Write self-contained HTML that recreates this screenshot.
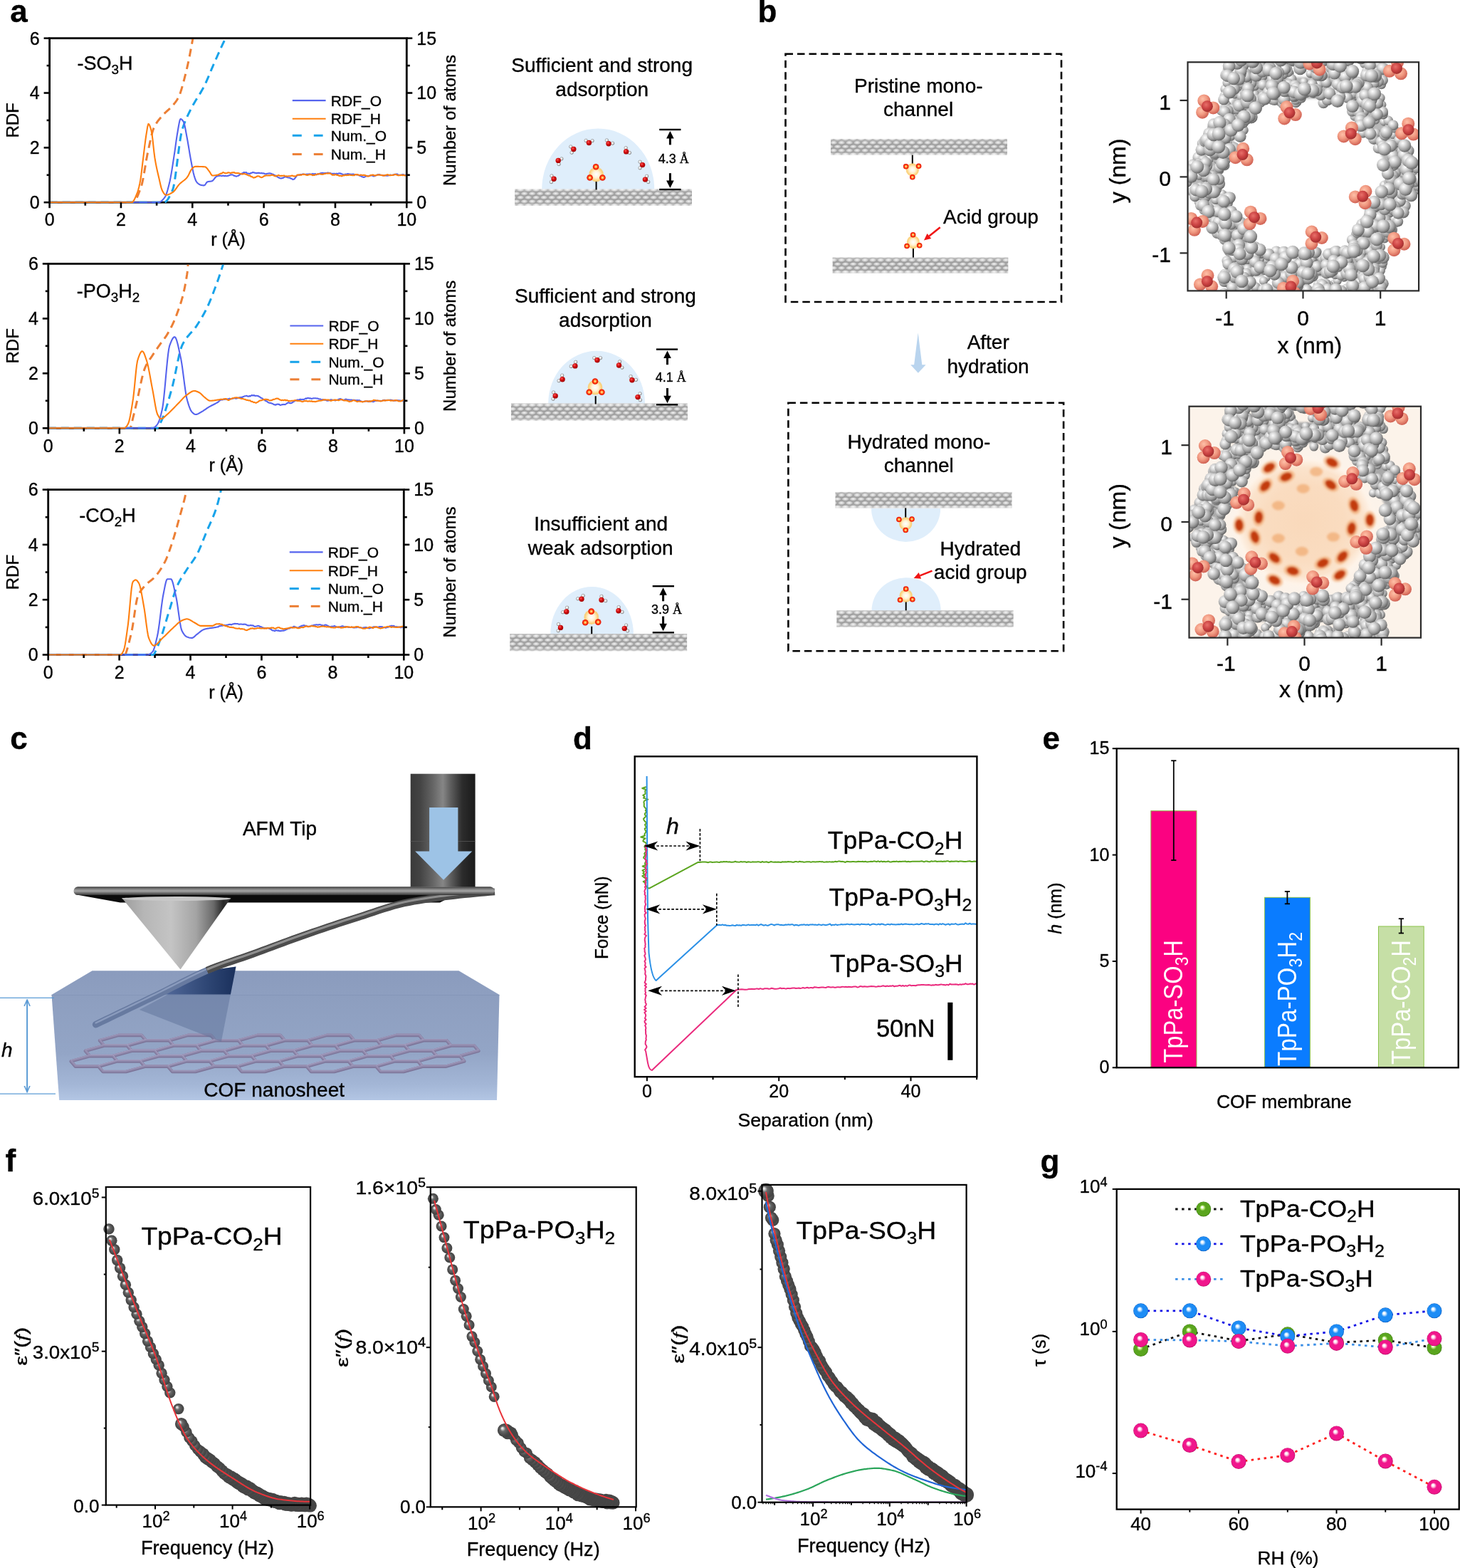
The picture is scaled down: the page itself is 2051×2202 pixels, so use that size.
<!DOCTYPE html>
<html><head><meta charset="utf-8"><title>Figure</title>
<style>html,body{margin:0;padding:0;background:#fff;}svg{display:block;}text:not([fill]){stroke:#000;stroke-width:0.35px;}</style></head>
<body><svg xmlns="http://www.w3.org/2000/svg" width="2051" height="2202" viewBox="0 0 2051 2202">
<defs>
<radialGradient id="gWO" cx="0.38" cy="0.35" r="0.7"><stop offset="0" stop-color="#ff5a5a"/><stop offset="0.45" stop-color="#d10b0b"/><stop offset="1" stop-color="#9a0000"/></radialGradient>
<radialGradient id="gWH" cx="0.4" cy="0.4" r="0.6"><stop offset="0" stop-color="#ffffff"/><stop offset="0.6" stop-color="#e8e8e8"/><stop offset="1" stop-color="#8a8a8a"/></radialGradient>
<radialGradient id="gGlow" cx="0.5" cy="0.5" r="0.5"><stop offset="0" stop-color="#ffffff"/><stop offset="0.45" stop-color="#fff3d6"/><stop offset="0.85" stop-color="#fcd27c"/><stop offset="1" stop-color="#fbc860" stop-opacity="0.7"/></radialGradient>
<radialGradient id="gAO" cx="0.5" cy="0.5" r="0.5"><stop offset="0" stop-color="#fff6c8"/><stop offset="0.3" stop-color="#ffb347"/><stop offset="0.6" stop-color="#ff3c10"/><stop offset="1" stop-color="#e00a00"/></radialGradient>
<radialGradient id="gSub" cx="0.45" cy="0.4" r="0.62"><stop offset="0" stop-color="#f4f4f4"/><stop offset="0.5" stop-color="#cdcdcd"/><stop offset="1" stop-color="#8e8e8e"/></radialGradient>
<pattern id="patSub" x="0" y="0" width="11" height="11" patternUnits="userSpaceOnUse">
<rect width="11" height="11" fill="#a4a4a4"/>
<ellipse cx="5.5" cy="2.75" rx="5.2" ry="2.85" fill="url(#gSub)"/>
<ellipse cx="0" cy="8.25" rx="5.2" ry="2.85" fill="url(#gSub)"/>
<ellipse cx="11" cy="8.25" rx="5.2" ry="2.85" fill="url(#gSub)"/>
</pattern>
<linearGradient id="gSubFade" x1="0" y1="0" x2="0" y2="1"><stop offset="0" stop-color="#fff" stop-opacity="0.35"/><stop offset="0.2" stop-color="#fff" stop-opacity="0"/><stop offset="0.8" stop-color="#fff" stop-opacity="0"/><stop offset="1" stop-color="#fff" stop-opacity="0.45"/></linearGradient>

<radialGradient id="gGrey" cx="0.36" cy="0.32" r="0.72"><stop offset="0" stop-color="#ffffff"/><stop offset="0.28" stop-color="#dedede"/><stop offset="0.68" stop-color="#a2a2a2"/><stop offset="1" stop-color="#5e5e5e"/></radialGradient>
<radialGradient id="gGrey2" cx="0.36" cy="0.32" r="0.72"><stop offset="0" stop-color="#fbfbfb"/><stop offset="0.3" stop-color="#d8d8d8"/><stop offset="0.7" stop-color="#9c9c9c"/><stop offset="1" stop-color="#5c5c5c"/></radialGradient>
<radialGradient id="gRedA" cx="0.4" cy="0.36" r="0.68"><stop offset="0" stop-color="#ffc0a8"/><stop offset="0.5" stop-color="#f09880"/><stop offset="1" stop-color="#cc5a4e"/></radialGradient>
<radialGradient id="gRedB" cx="0.4" cy="0.36" r="0.7"><stop offset="0" stop-color="#e8706a"/><stop offset="0.5" stop-color="#cc4444"/><stop offset="1" stop-color="#9a2a2a"/></radialGradient>
<radialGradient id="gDen" cx="0.5" cy="0.5" r="0.5"><stop offset="0" stop-color="#f9d9bb"/><stop offset="0.55" stop-color="#fadcc0"/><stop offset="0.8" stop-color="#fbe3cc"/><stop offset="0.92" stop-color="#fef3e8"/><stop offset="1" stop-color="#fdf5ec" stop-opacity="0"/></radialGradient>
<filter id="fBlur" x="-50%" y="-50%" width="200%" height="200%"><feGaussianBlur stdDeviation="1.6"/></filter>
<filter id="fBlur2" x="-50%" y="-50%" width="200%" height="200%"><feGaussianBlur stdDeviation="0.6"/></filter>
<marker id="mRed" markerWidth="8" markerHeight="8" refX="6" refY="4" orient="auto" markerUnits="userSpaceOnUse"><path d="M0,0 L8,4 L0,8 Z" fill="#f01010"/></marker>

<linearGradient id="gCyl" x1="0" y1="0" x2="1" y2="0">
<stop offset="0" stop-color="#3a3a3a"/><stop offset="0.15" stop-color="#444444"/><stop offset="0.35" stop-color="#666666"/>
<stop offset="0.5" stop-color="#868686"/><stop offset="0.62" stop-color="#5e5e5e"/><stop offset="0.8" stop-color="#2c2c2c"/><stop offset="1" stop-color="#1a1a1a"/></linearGradient>
<linearGradient id="gBar" x1="0" y1="0" x2="0" y2="1">
<stop offset="0" stop-color="#3a3a3a"/><stop offset="0.25" stop-color="#7c7c7c"/><stop offset="0.5" stop-color="#a6a6a6"/><stop offset="0.75" stop-color="#6c6c6c"/><stop offset="1" stop-color="#333333"/></linearGradient>
<linearGradient id="gCone" x1="0" y1="0" x2="1" y2="0">
<stop offset="0" stop-color="#9c9c9c"/><stop offset="0.2" stop-color="#b6b6b6"/><stop offset="0.45" stop-color="#c4c4c4"/>
<stop offset="0.68" stop-color="#a4a4a4"/><stop offset="0.84" stop-color="#6a6a6a"/><stop offset="0.93" stop-color="#262626"/><stop offset="1" stop-color="#3a3a3a"/></linearGradient>
<linearGradient id="gFront" x1="0" y1="0" x2="0" y2="1">
<stop offset="0" stop-color="#8d9ebf"/><stop offset="0.55" stop-color="#93a5c6"/><stop offset="0.85" stop-color="#a3b6d6"/><stop offset="1" stop-color="#b3c6e4"/></linearGradient>
<linearGradient id="gTop" x1="0" y1="0" x2="0" y2="1">
<stop offset="0" stop-color="#8a9bbd"/><stop offset="1" stop-color="#8e9fc0"/></linearGradient>
<linearGradient id="gRod" x1="0" y1="0" x2="0" y2="1">
<stop offset="0" stop-color="#d0d0d0"/><stop offset="0.5" stop-color="#8a8a8a"/><stop offset="1" stop-color="#4a4a4a"/></linearGradient>
<linearGradient id="gDarkCone" x1="0" y1="0" x2="1" y2="0"><stop offset="0" stop-color="#52699a"/><stop offset="0.6" stop-color="#2e4674"/><stop offset="1" stop-color="#1a305c"/></linearGradient>
<marker id="mBlueA" markerWidth="10" markerHeight="10" refX="9" refY="5" orient="auto-start-reverse" markerUnits="userSpaceOnUse"><path d="M0,1 L9,5 L0,9" fill="none" stroke="#5b9bd5" stroke-width="1.6"/></marker>

<radialGradient id="gBall" cx="0.5" cy="0.5" r="0.5" fx="0.34" fy="0.32"><stop offset="0" stop-color="#f6f6f6"/><stop offset="0.14" stop-color="#d8d8d8"/><stop offset="0.38" stop-color="#6a6a6a"/><stop offset="0.75" stop-color="#4c4c4c"/><stop offset="1" stop-color="#424242"/></radialGradient>
<radialGradient id="gG" cx="0.5" cy="0.5" r="0.5" fx="0.4" fy="0.36"><stop offset="0" stop-color="#ffffff"/><stop offset="0.1" stop-color="#ffffff"/><stop offset="0.22" stop-color="#c8f08a"/><stop offset="0.42" stop-color="#5aa51e"/><stop offset="0.88" stop-color="#5aa51e"/><stop offset="1" stop-color="#3c7a10"/></radialGradient><radialGradient id="gB" cx="0.5" cy="0.5" r="0.5" fx="0.4" fy="0.36"><stop offset="0" stop-color="#ffffff"/><stop offset="0.1" stop-color="#ffffff"/><stop offset="0.22" stop-color="#bfe0ff"/><stop offset="0.42" stop-color="#1d8cf5"/><stop offset="0.88" stop-color="#1d8cf5"/><stop offset="1" stop-color="#0a5cc0"/></radialGradient><radialGradient id="gP" cx="0.5" cy="0.5" r="0.5" fx="0.4" fy="0.36"><stop offset="0" stop-color="#ffffff"/><stop offset="0.1" stop-color="#ffffff"/><stop offset="0.22" stop-color="#ffc6e4"/><stop offset="0.42" stop-color="#f0168c"/><stop offset="0.88" stop-color="#f0168c"/><stop offset="1" stop-color="#b80a64"/></radialGradient></defs>
<rect width="2051" height="2202" fill="#fff"/>
<text x="14.2" y="31.2" font-size="44" font-family="'Liberation Sans', Arial, Helvetica, sans-serif" font-weight="bold">a</text>
<clipPath id="clipA0"><rect x="71" y="55.1" width="498.9" height="230.5"/></clipPath>
<rect x="69.6" y="53.7" width="501.7" height="230.5" fill="none" stroke="#000" stroke-width="2.8"/>
<g clip-path="url(#clipA0)" fill="none" stroke-linejoin="round">
<path d="M69.6,284.2 L186.5,284.2 L186.92,284.14 L187.35,284 L187.77,283.78 L188.2,283.48 L188.63,283.12 L189.05,282.68 L189.48,282.18 L189.9,281.61 L190.33,280.98 L190.76,280.29 L191.18,279.55 L191.61,278.76 L192.03,277.92 L192.46,277.03 L192.89,276.1 L193.31,275.13 L193.74,274.13 L194.17,273.09 L194.59,272.02 L195.02,270.92 L195.44,269.79 L195.87,268.65 L196.3,267.48 L196.72,266.3 L197.15,265.1 L197.57,263.9 L198,262.68 L198.43,261.47 L198.85,260.19 L199.28,258.72 L199.7,257.07 L200.13,255.25 L200.56,253.28 L200.98,251.18 L201.41,248.96 L201.83,246.64 L202.26,244.24 L202.69,241.77 L203.11,239.26 L203.54,236.72 L203.96,234.16 L204.39,231.6 L204.82,229.06 L205.24,226.56 L205.67,224.11 L206.1,221.73 L206.52,219.44 L206.95,217.25 L207.37,215.18 L207.8,213.22 L208.23,211.25 L208.65,209.25 L209.08,207.24 L209.5,205.23 L209.93,203.21 L210.36,201.21 L210.78,199.22 L211.21,197.26 L211.63,195.35 L212.06,193.47 L212.49,191.66 L212.91,189.9 L213.34,188.22 L213.76,186.62 L214.19,185.12 L214.62,183.71 L215.04,182.41 L215.47,181.22 L215.89,180.16 L216.32,179.22 L216.75,178.33 L217.17,177.47 L217.6,176.65 L218.03,175.86 L218.45,175.1 L218.88,174.36 L219.3,173.65 L219.73,172.97 L220.16,172.31 L220.58,171.68 L221.01,171.06 L221.43,170.47 L221.86,169.89 L222.29,169.33 L222.71,168.78 L223.14,168.25 L223.56,167.72 L223.99,167.21 L224.42,166.71 L224.84,166.21 L225.27,165.71 L225.69,165.23 L226.12,164.74 L226.55,164.25 L226.97,163.77 L227.4,163.28 L227.82,162.78 L228.25,162.29 L228.68,161.8 L229.1,161.32 L229.53,160.86 L229.95,160.41 L230.38,159.97 L230.81,159.54 L231.23,159.11 L231.66,158.7 L232.09,158.3 L232.51,157.9 L232.94,157.5 L233.36,157.11 L233.79,156.73 L234.22,156.34 L234.64,155.96 L235.07,155.58 L235.49,155.2 L235.92,154.82 L236.35,154.44 L236.77,154.06 L237.2,153.67 L237.62,153.28 L238.05,152.88 L238.48,152.48 L238.9,152.07 L239.33,151.65 L239.75,151.23 L240.18,150.79 L240.61,150.35 L241.03,149.89 L241.46,149.42 L241.88,148.94 L242.31,148.44 L242.74,147.95 L243.16,147.45 L243.59,146.95 L244.02,146.46 L244.44,145.95 L244.87,145.44 L245.29,144.92 L245.72,144.39 L246.15,143.85 L246.57,143.29 L247,142.72 L247.42,142.12 L247.85,141.51 L248.28,140.87 L248.7,140.21 L249.13,139.52 L249.55,138.8 L249.98,138.05 L250.41,137.27 L250.83,136.45 L251.26,135.56 L251.68,134.61 L252.11,133.59 L252.54,132.5 L252.96,131.36 L253.39,130.16 L253.81,128.9 L254.24,127.59 L254.67,126.24 L255.09,124.84 L255.52,123.4 L255.94,121.92 L256.37,120.41 L256.8,118.86 L257.22,117.29 L257.65,115.7 L258.08,114.08 L258.5,112.44 L258.93,110.79 L259.35,109.13 L259.78,107.45 L260.21,105.78 L260.63,104.1 L261.06,102.41 L261.48,100.68 L261.91,98.92 L262.34,97.12 L262.76,95.28 L263.19,93.41 L263.61,91.5 L264.04,89.55 L264.47,87.58 L264.89,85.56 L265.32,83.52 L265.74,81.44 L266.17,79.33 L266.6,77.19 L267.02,75.02 L267.45,72.82 L267.87,70.59 L268.3,68.34 L268.73,66.05 L269.15,63.74 L269.58,61.4 L270.01,59.03 L270.43,56.64 L270.86,54.22 L271.28,51.78" stroke="#ec7f35" stroke-width="3" stroke-dasharray="11,7"/>
<path d="M69.6,284.2 L230.14,284.2 L230.59,284.17 L231.03,284.08 L231.47,283.93 L231.91,283.73 L232.35,283.47 L232.79,283.16 L233.23,282.81 L233.67,282.4 L234.11,281.95 L234.56,281.45 L235,280.91 L235.44,280.32 L235.88,279.7 L236.32,279.05 L236.76,278.35 L237.2,277.63 L237.64,276.87 L238.09,276.08 L238.53,275.27 L238.97,274.43 L239.41,273.56 L239.85,272.67 L240.29,271.76 L240.73,270.84 L241.17,269.9 L241.62,268.94 L242.06,267.97 L242.5,266.91 L242.94,265.57 L243.38,263.95 L243.82,262.07 L244.26,259.95 L244.7,257.61 L245.14,255.07 L245.59,252.35 L246.03,249.46 L246.47,246.43 L246.91,243.27 L247.35,240.01 L247.79,236.66 L248.23,233.24 L248.67,229.77 L249.12,226.27 L249.56,222.76 L250,219.26 L250.44,215.79 L250.88,212.36 L251.32,209 L251.76,205.72 L252.2,202.54 L252.64,199.49 L253.09,196.58 L253.53,193.83 L253.97,191.26 L254.41,188.89 L254.85,186.73 L255.29,184.82 L255.73,183.16 L256.17,181.66 L256.62,180.21 L257.06,178.81 L257.5,177.46 L257.94,176.16 L258.38,174.89 L258.82,173.67 L259.26,172.49 L259.7,171.35 L260.15,170.24 L260.59,169.15 L261.03,168.1 L261.47,167.08 L261.91,166.08 L262.35,165.1 L262.79,164.14 L263.23,163.2 L263.67,162.27 L264.12,161.36 L264.56,160.46 L265,159.56 L265.44,158.67 L265.88,157.79 L266.32,156.9 L266.76,156.01 L267.2,155.12 L267.65,154.23 L268.09,153.33 L268.53,152.45 L268.97,151.58 L269.41,150.73 L269.85,149.9 L270.29,149.08 L270.73,148.27 L271.17,147.48 L271.62,146.7 L272.06,145.92 L272.5,145.16 L272.94,144.41 L273.38,143.67 L273.82,142.94 L274.26,142.21 L274.7,141.49 L275.15,140.77 L275.59,140.06 L276.03,139.35 L276.47,138.64 L276.91,137.94 L277.35,137.24 L277.79,136.54 L278.23,135.84 L278.68,135.13 L279.12,134.43 L279.56,133.72 L280,133.01 L280.44,132.3 L280.88,131.57 L281.32,130.85 L281.76,130.11 L282.2,129.37 L282.65,128.62 L283.09,127.86 L283.53,127.1 L283.97,126.32 L284.41,125.52 L284.85,124.72 L285.29,123.9 L285.73,123.07 L286.18,122.23 L286.62,121.36 L287.06,120.49 L287.5,119.59 L287.94,118.67 L288.38,117.74 L288.82,116.8 L289.26,115.84 L289.71,114.86 L290.15,113.88 L290.59,112.88 L291.03,111.87 L291.47,110.85 L291.91,109.83 L292.35,108.8 L292.79,107.75 L293.23,106.71 L293.68,105.66 L294.12,104.6 L294.56,103.55 L295,102.49 L295.44,101.43 L295.88,100.37 L296.32,99.31 L296.76,98.26 L297.21,97.21 L297.65,96.16 L298.09,95.11 L298.53,94.08 L298.97,93.05 L299.41,92.03 L299.85,91.01 L300.29,90.01 L300.73,89.01 L301.18,88.02 L301.62,87.02 L302.06,86.02 L302.5,85.02 L302.94,84.02 L303.38,83.01 L303.82,82.01 L304.26,81.01 L304.71,80.01 L305.15,79.01 L305.59,78.01 L306.03,77.01 L306.47,76.01 L306.91,75.02 L307.35,74.03 L307.79,73.04 L308.24,72.05 L308.68,71.07 L309.12,70.09 L309.56,69.12 L310,68.15 L310.44,67.18 L310.88,66.22 L311.32,65.26 L311.76,64.31 L312.21,63.36 L312.65,62.42 L313.09,61.49 L313.53,60.56 L313.97,59.64 L314.41,58.73 L314.85,57.83 L315.29,56.94 L315.74,56.06 L316.18,55.19 L316.62,54.33 L317.06,53.48 L317.5,52.63 L317.94,51.78" stroke="#17a3ea" stroke-width="3" stroke-dasharray="11,7"/>
<path d="M69.6,284.2 L70.61,284.2 L71.61,284.2 L72.62,284.2 L73.62,284.2 L74.63,284.2 L75.63,284.2 L76.64,284.2 L77.64,284.2 L78.65,284.2 L79.65,284.2 L80.66,284.2 L81.66,284.2 L82.67,284.2 L83.68,284.2 L84.68,284.2 L85.69,284.2 L86.69,284.2 L87.7,284.2 L88.7,284.2 L89.71,284.2 L90.71,284.2 L91.72,284.2 L92.72,284.2 L93.73,284.2 L94.74,284.2 L95.74,284.2 L96.75,284.2 L97.75,284.2 L98.76,284.2 L99.76,284.2 L100.77,284.2 L101.77,284.2 L102.78,284.2 L103.78,284.2 L104.79,284.2 L105.79,284.2 L106.8,284.2 L107.81,284.2 L108.81,284.2 L109.82,284.2 L110.82,284.2 L111.83,284.2 L112.83,284.2 L113.84,284.2 L114.84,284.2 L115.85,284.2 L116.85,284.2 L117.86,284.2 L118.87,284.2 L119.87,284.2 L120.88,284.2 L121.88,284.2 L122.89,284.2 L123.89,284.2 L124.9,284.2 L125.9,284.2 L126.91,284.2 L127.91,284.2 L128.92,284.2 L129.92,284.2 L130.93,284.2 L131.94,284.2 L132.94,284.2 L133.95,284.2 L134.95,284.2 L135.96,284.2 L136.96,284.2 L137.97,284.2 L138.97,284.2 L139.98,284.2 L140.98,284.2 L141.99,284.2 L142.99,284.2 L144,284.2 L145.01,284.2 L146.01,284.2 L147.02,284.2 L148.02,284.2 L149.03,284.2 L150.03,284.2 L151.04,284.2 L152.04,284.2 L153.05,284.2 L154.05,284.2 L155.06,284.2 L156.07,284.2 L157.07,284.2 L158.08,284.2 L159.08,284.2 L160.09,284.2 L161.09,284.2 L162.1,284.2 L163.1,284.2 L164.11,284.2 L165.11,284.2 L166.12,284.2 L167.12,284.2 L168.13,284.2 L169.14,284.2 L170.14,284.2 L171.15,284.2 L172.15,284.2 L173.16,284.2 L174.16,284.2 L175.17,284.2 L176.17,284.2 L177.18,284.2 L178.18,284.2 L179.19,284.2 L180.2,284.2 L181.2,284.2 L182.21,284.2 L183.21,284.2 L184.22,284.2 L185.22,284.2 L186.23,284.2 L187.23,284.2 L188.24,284.2 L189.24,284.2 L190.25,284.2 L191.25,284.2 L192.26,284.2 L193.27,284.2 L194.27,284.2 L195.28,284.2 L196.28,284.2 L197.29,284.2 L198.29,284.2 L199.3,284.2 L200.3,284.2 L201.31,284.2 L202.31,284.2 L203.32,284.2 L204.33,284.2 L205.33,284.2 L206.34,284.2 L207.34,284.2 L208.35,284.2 L209.35,284.2 L210.36,284.2 L211.36,284.2 L212.37,284.2 L213.37,284.2 L214.38,284.2 L215.38,284.2 L216.39,284.2 L217.4,284.2 L218.4,284.2 L219.41,284.2 L220.41,284.2 L221.42,284.2 L222.42,284.2 L223.43,284.12 L224.43,283.82 L225.44,283.32 L226.44,282.62 L227.45,281.77 L228.45,280.77 L229.46,279.65 L230.47,278.43 L231.47,277.14 L232.48,275.52 L233.48,273.17 L234.49,270.2 L235.49,266.75 L236.5,262.94 L237.5,258.9 L238.51,254.72 L239.51,249.9 L240.52,244.4 L241.53,238.4 L242.53,232.04 L243.54,225.48 L244.54,218.89 L245.55,212.34 L246.55,205.15 L247.56,197.73 L248.56,190.82 L249.57,185 L250.57,179.03 L251.58,173.37 L252.58,169.04 L253.59,167.06 L254.6,167.27 L255.6,168.04 L256.61,169.23 L257.61,170.68 L258.62,172.99 L259.62,176.95 L260.63,181.98 L261.63,187.51 L262.64,192.94 L263.64,198.34 L264.65,204.27 L265.66,210.42 L266.66,216.49 L267.67,222.17 L268.67,227.56 L269.68,232.96 L270.68,238.12 L271.69,242.77 L272.69,246.62 L273.7,249.84 L274.7,252.72 L275.71,254.93 L276.71,256.21 L277.72,257.2 L278.73,258.05 L279.73,258.76 L280.74,259.32 L281.74,259.73 L282.75,259.99 L283.75,260.14 L284.76,260.26 L285.76,260.35 L286.77,260.38 L287.77,259.87 L288.78,258.55 L289.78,256.99 L290.79,255.74 L291.8,255.26 L292.8,255.04 L293.81,254.89 L294.81,254.77 L295.82,254.65 L296.82,254.49 L297.83,254.25 L298.83,253.68 L299.84,252.64 L300.84,251.35 L301.85,250 L302.86,248.8 L303.86,247.94 L304.87,247.57 L305.87,247.31 L306.88,247.08 L307.88,246.88 L308.89,246.73 L309.89,246.62 L310.9,247.02 L311.9,247.26 L312.91,246.5 L313.91,246.74 L314.92,247.17 L315.93,247.13 L316.93,246.86 L317.94,247.32 L318.94,247.28 L319.95,246.85 L320.95,246.68 L321.96,246.37 L322.96,245.79 L323.97,245.41 L324.97,245.36 L325.98,245.43 L326.99,245.47 L327.99,246.27 L329,246.92 L330,246.87 L331.01,247.4 L332.01,247.65 L333.02,247.31 L334.02,247.09 L335.03,246.82 L336.03,245.89 L337.04,244.89 L338.04,244.67 L339.05,244.03 L340.06,243.4 L341.06,243.41 L342.07,242.3 L343.07,242.04 L344.08,242.17 L345.08,242.27 L346.09,241.97 L347.09,243.66 L348.1,243.67 L349.1,243.54 L350.11,244.05 L351.12,244.07 L352.12,243.08 L353.13,242.94 L354.13,242.52 L355.14,242 L356.14,242.08 L357.15,242.66 L358.15,242.61 L359.16,243.14 L360.16,243.13 L361.17,243.12 L362.17,242.75 L363.18,242.85 L364.19,242.71 L365.19,243.3 L366.2,243.23 L367.2,243.01 L368.21,243.16 L369.21,243.43 L370.22,243.29 L371.22,243.63 L372.23,244.32 L373.23,244.24 L374.24,244.19 L375.24,243.81 L376.25,243.74 L377.26,243.54 L378.26,243.4 L379.27,243.49 L380.27,243.6 L381.28,243.89 L382.28,244.34 L383.29,244.85 L384.29,244.98 L385.3,245.94 L386.3,246.17 L387.31,247.02 L388.32,247.31 L389.32,248.12 L390.33,248.69 L391.33,249.57 L392.34,249.66 L393.34,250.23 L394.35,250.44 L395.35,250.41 L396.36,250.07 L397.36,249.96 L398.37,249.5 L399.37,248.8 L400.38,248.49 L401.39,248.33 L402.39,248.65 L403.4,248.9 L404.4,249.44 L405.41,249.57 L406.41,249.55 L407.42,250.09 L408.42,250.47 L409.43,251.01 L410.43,251.19 L411.44,252.12 L412.45,251.71 L413.45,251.51 L414.46,250.13 L415.46,248.94 L416.47,247.41 L417.47,246.33 L418.48,245.69 L419.48,245.68 L420.49,246.01 L421.49,245.45 L422.5,245.1 L423.5,245.02 L424.51,245.05 L425.52,244.32 L426.52,244.79 L427.53,244.71 L428.53,245.05 L429.54,244.75 L430.54,244.68 L431.55,244.57 L432.55,244.72 L433.56,244.56 L434.56,244.4 L435.57,244.46 L436.57,244.57 L437.58,244.41 L438.59,244.2 L439.59,243.92 L440.6,244.53 L441.6,244.3 L442.61,244.01 L443.61,244.51 L444.62,245.32 L445.62,244.64 L446.63,244.13 L447.63,244.57 L448.64,243.95 L449.65,243.49 L450.65,243.12 L451.66,243.28 L452.66,242.74 L453.67,243.03 L454.67,243.02 L455.68,243.37 L456.68,242.99 L457.69,243.04 L458.69,242.95 L459.7,242.69 L460.7,242.44 L461.71,242.78 L462.72,243.02 L463.72,242.9 L464.73,243.57 L465.73,243.77 L466.74,243.73 L467.74,243.95 L468.75,243.76 L469.75,243.74 L470.76,244.01 L471.76,244.27 L472.77,243.58 L473.78,244.29 L474.78,243.84 L475.79,243.52 L476.79,243.36 L477.8,243.65 L478.8,243.56 L479.81,244.39 L480.81,244.49 L481.82,244.97 L482.82,245.42 L483.83,245.52 L484.83,244.67 L485.84,244.68 L486.85,244.6 L487.85,244.31 L488.86,244 L489.86,244.37 L490.87,244.63 L491.87,244.54 L492.88,244.68 L493.88,244.69 L494.89,244.81 L495.89,244.63 L496.9,244.84 L497.91,245.07 L498.91,245.21 L499.92,244.93 L500.92,245.56 L501.93,245.18 L502.93,245.46 L503.94,245.89 L504.94,246.73 L505.95,246.68 L506.95,247.38 L507.96,247.93 L508.96,248.37 L509.97,248.49 L510.98,248.93 L511.98,248.72 L512.99,248.06 L513.99,247.5 L515,247.2 L516,247.06 L517.01,247.25 L518.01,247.29 L519.02,246.84 L520.02,246.57 L521.03,246.42 L522.03,246.31 L523.04,246.57 L524.05,247.25 L525.05,247.46 L526.06,247.27 L527.06,246.73 L528.07,246.54 L529.07,245.91 L530.08,245.34 L531.08,245.33 L532.09,245.35 L533.09,245.13 L534.1,245.57 L535.11,245.94 L536.11,245.91 L537.12,246.37 L538.12,246.59 L539.13,246.4 L540.13,246.32 L541.14,246.53 L542.14,246.44 L543.15,246.76 L544.15,246.7 L545.16,246.62 L546.16,246.3 L547.17,246.19 L548.18,245.58 L549.18,245.8 L550.19,246 L551.19,245.87 L552.2,245.65 L553.2,245.66 L554.21,244.77 L555.21,244.7 L556.22,244.53 L557.22,244.43 L558.23,244.54 L559.24,245.42 L560.24,245.68 L561.25,245.87 L562.25,245.89 L563.26,245.75 L564.26,245.45 L565.27,245.21 L566.27,245.07 L567.28,245.91 L568.28,245.9 L569.29,245.91 L570.29,245.78 L571.3,245.9" stroke="#5563ee" stroke-width="2.1"/>
<path d="M69.6,284.2 L70.61,284.2 L71.61,284.2 L72.62,284.2 L73.62,284.2 L74.63,284.2 L75.63,284.2 L76.64,284.2 L77.64,284.2 L78.65,284.2 L79.65,284.2 L80.66,284.2 L81.66,284.2 L82.67,284.2 L83.68,284.2 L84.68,284.2 L85.69,284.2 L86.69,284.2 L87.7,284.2 L88.7,284.2 L89.71,284.2 L90.71,284.2 L91.72,284.2 L92.72,284.2 L93.73,284.2 L94.74,284.2 L95.74,284.2 L96.75,284.2 L97.75,284.2 L98.76,284.2 L99.76,284.2 L100.77,284.2 L101.77,284.2 L102.78,284.2 L103.78,284.2 L104.79,284.2 L105.79,284.2 L106.8,284.2 L107.81,284.2 L108.81,284.2 L109.82,284.2 L110.82,284.2 L111.83,284.2 L112.83,284.2 L113.84,284.2 L114.84,284.2 L115.85,284.2 L116.85,284.2 L117.86,284.2 L118.87,284.2 L119.87,284.2 L120.88,284.2 L121.88,284.2 L122.89,284.2 L123.89,284.2 L124.9,284.2 L125.9,284.2 L126.91,284.2 L127.91,284.2 L128.92,284.2 L129.92,284.2 L130.93,284.2 L131.94,284.2 L132.94,284.2 L133.95,284.2 L134.95,284.2 L135.96,284.2 L136.96,284.2 L137.97,284.2 L138.97,284.2 L139.98,284.2 L140.98,284.2 L141.99,284.2 L142.99,284.2 L144,284.2 L145.01,284.2 L146.01,284.2 L147.02,284.2 L148.02,284.2 L149.03,284.2 L150.03,284.2 L151.04,284.2 L152.04,284.2 L153.05,284.2 L154.05,284.2 L155.06,284.2 L156.07,284.2 L157.07,284.2 L158.08,284.2 L159.08,284.2 L160.09,284.2 L161.09,284.2 L162.1,284.2 L163.1,284.2 L164.11,284.2 L165.11,284.2 L166.12,284.2 L167.12,284.2 L168.13,284.2 L169.14,284.2 L170.14,284.2 L171.15,284.2 L172.15,284.2 L173.16,284.2 L174.16,284.2 L175.17,284.2 L176.17,284.2 L177.18,284.2 L178.18,284.2 L179.19,284.2 L180.2,284.2 L181.2,284.2 L182.21,284.2 L183.21,284.2 L184.22,284.2 L185.22,284.18 L186.23,283.7 L187.23,282.63 L188.24,281.08 L189.24,279.16 L190.25,276.96 L191.25,274.59 L192.26,272.14 L193.27,269.53 L194.27,266.29 L195.28,262.42 L196.28,257.95 L197.29,252.83 L198.29,245.99 L199.3,237.75 L200.3,229.14 L201.31,221.06 L202.31,212.91 L203.32,204.65 L204.33,196.81 L205.33,189.93 L206.34,183.64 L207.34,177.52 L208.35,174.08 L209.35,174.45 L210.36,176.37 L211.36,179.3 L212.37,182.77 L213.37,187.54 L214.38,195.2 L215.38,204.38 L216.39,213.62 L217.4,221.44 L218.4,227.31 L219.41,232.59 L220.41,237.44 L221.42,241.97 L222.42,246.3 L223.43,250.55 L224.43,255 L225.44,259.39 L226.44,263.37 L227.45,266.54 L228.45,268.62 L229.46,270.32 L230.47,271.81 L231.47,272.98 L232.48,273.68 L233.48,273.82 L234.49,273.72 L235.49,273.51 L236.5,273.2 L237.5,272.81 L238.51,272.35 L239.51,271.83 L240.52,271.27 L241.53,270.68 L242.53,270.08 L243.54,269.37 L244.54,268.41 L245.55,267.26 L246.55,265.96 L247.56,264.57 L248.56,263.14 L249.57,261.72 L250.57,260.38 L251.58,259.15 L252.58,258.1 L253.59,257.16 L254.6,256.31 L255.6,255.51 L256.61,254.75 L257.61,253.99 L258.62,253.21 L259.62,252.38 L260.63,251.48 L261.63,250.49 L262.64,249.38 L263.64,247.98 L264.65,246.19 L265.66,244.16 L266.66,242.06 L267.67,240.07 L268.67,238.34 L269.68,237.05 L270.68,236.08 L271.69,235.16 L272.69,234.41 L273.7,233.96 L274.7,233.87 L275.71,233.88 L276.71,233.88 L277.72,233.89 L278.73,233.91 L279.73,233.93 L280.74,233.95 L281.74,233.98 L282.75,234.01 L283.75,234.05 L284.76,234.09 L285.76,234.14 L286.77,234.19 L287.77,234.25 L288.78,234.56 L289.78,235.33 L290.79,236.42 L291.8,237.71 L292.8,239.07 L293.81,240.34 L294.81,241.81 L295.82,243.61 L296.82,245.28 L297.83,246.37 L298.83,246.55 L299.84,246.51 L300.84,246.43 L301.85,246.32 L302.86,246.19 L303.86,246.04 L304.87,245.87 L305.87,245.68 L306.88,245.31 L307.88,244.79 L308.89,244.2 L309.89,243.6 L310.9,243.85 L311.9,243.17 L312.91,242.35 L313.91,242.12 L314.92,242.59 L315.93,243.09 L316.93,243.23 L317.94,243.25 L318.94,243.06 L319.95,242.56 L320.95,242.4 L321.96,242.43 L322.96,242.84 L323.97,243.14 L324.97,242.81 L325.98,242.26 L326.99,242.34 L327.99,242.34 L329,242.02 L330,242.91 L331.01,243.02 L332.01,243.17 L333.02,243.06 L334.02,243.32 L335.03,243.06 L336.03,243.58 L337.04,243.79 L338.04,244.15 L339.05,244.33 L340.06,244.59 L341.06,244.57 L342.07,244.12 L343.07,244.05 L344.08,244.35 L345.08,244.48 L346.09,245.07 L347.09,245.46 L348.1,245.87 L349.1,246.45 L350.11,246.67 L351.12,246.43 L352.12,247.71 L353.13,248.22 L354.13,248.14 L355.14,249.02 L356.14,249.67 L357.15,249.35 L358.15,249.13 L359.16,249.04 L360.16,247.91 L361.17,247.81 L362.17,247.3 L363.18,247.45 L364.19,247.47 L365.19,248.47 L366.2,248.82 L367.2,249.25 L368.21,248.96 L369.21,248.48 L370.22,247.86 L371.22,247.06 L372.23,246.91 L373.23,246.53 L374.24,246.41 L375.24,246.54 L376.25,246.52 L377.26,246.4 L378.26,246.26 L379.27,246.38 L380.27,246.15 L381.28,245.94 L382.28,245.49 L383.29,245.97 L384.29,246.41 L385.3,246.74 L386.3,247.33 L387.31,247.35 L388.32,246.67 L389.32,246.83 L390.33,246.49 L391.33,245.95 L392.34,246.39 L393.34,246.98 L394.35,246.88 L395.35,246.65 L396.36,246.98 L397.36,246.74 L398.37,246.67 L399.37,246.55 L400.38,247.42 L401.39,247.46 L402.39,247.34 L403.4,247.6 L404.4,247.47 L405.41,247.33 L406.41,247.19 L407.42,247.23 L408.42,247.24 L409.43,246.81 L410.43,246.6 L411.44,246.93 L412.45,247.57 L413.45,247.26 L414.46,247.74 L415.46,247.33 L416.47,246.82 L417.47,245.81 L418.48,245.63 L419.48,245.56 L420.49,245.6 L421.49,245.27 L422.5,245.88 L423.5,245.69 L424.51,245.15 L425.52,244.86 L426.52,245.14 L427.53,244.66 L428.53,245.28 L429.54,245.53 L430.54,245.88 L431.55,245.74 L432.55,245.89 L433.56,245.45 L434.56,245.09 L435.57,245.22 L436.57,244.93 L437.58,245.28 L438.59,245.88 L439.59,246.17 L440.6,245.76 L441.6,245.84 L442.61,245.7 L443.61,245.08 L444.62,244.97 L445.62,244.59 L446.63,244.69 L447.63,244.07 L448.64,244.28 L449.65,244.32 L450.65,244.75 L451.66,244.5 L452.66,244.88 L453.67,244.82 L454.67,244.59 L455.68,243.97 L456.68,244.04 L457.69,243.67 L458.69,243.53 L459.7,243.39 L460.7,243.72 L461.71,243.36 L462.72,243.39 L463.72,243.64 L464.73,244.21 L465.73,244.77 L466.74,245.75 L467.74,245.69 L468.75,245.41 L469.75,245.79 L470.76,245.24 L471.76,245.01 L472.77,245.76 L473.78,245.99 L474.78,245.76 L475.79,246.48 L476.79,247.07 L477.8,246.78 L478.8,246.79 L479.81,247.43 L480.81,247.03 L481.82,246.3 L482.82,246.39 L483.83,246.38 L484.83,245.71 L485.84,246.02 L486.85,246.23 L487.85,245.68 L488.86,246.05 L489.86,245.86 L490.87,245.54 L491.87,245.59 L492.88,246.04 L493.88,246 L494.89,246.27 L495.89,246.31 L496.9,246.04 L497.91,246.2 L498.91,245.07 L499.92,245.07 L500.92,245.13 L501.93,245.39 L502.93,245.37 L503.94,245.96 L504.94,246.05 L505.95,245.83 L506.95,245.56 L507.96,245.82 L508.96,245.95 L509.97,246.05 L510.98,245.69 L511.98,246.08 L512.99,246 L513.99,246.71 L515,246.78 L516,247.54 L517.01,247.57 L518.01,247.49 L519.02,247.01 L520.02,246.57 L521.03,245.88 L522.03,245.94 L523.04,245.64 L524.05,245.63 L525.05,245.92 L526.06,246.63 L527.06,246.43 L528.07,246.14 L529.07,246.02 L530.08,245.86 L531.08,245.49 L532.09,245.31 L533.09,245.71 L534.1,245.71 L535.11,245.94 L536.11,246.08 L537.12,246.16 L538.12,246.32 L539.13,246.84 L540.13,246.27 L541.14,246.43 L542.14,245.73 L543.15,245.77 L544.15,245.18 L545.16,245.66 L546.16,245.57 L547.17,246.1 L548.18,246.08 L549.18,246.27 L550.19,246.04 L551.19,246.01 L552.2,246 L553.2,245.45 L554.21,245.14 L555.21,245.06 L556.22,245.15 L557.22,245.58 L558.23,246.02 L559.24,246.35 L560.24,246.21 L561.25,246.18 L562.25,246.18 L563.26,245.79 L564.26,245.83 L565.27,246.2 L566.27,246.14 L567.28,245.65 L568.28,246.45 L569.29,246.52 L570.29,246.3 L571.3,246.22" stroke="#ff7f0e" stroke-width="2.1"/>
</g>
<line x1="61.6" y1="284.2" x2="69.6" y2="284.2" stroke="#000" stroke-width="2.6"/>
<line x1="65.6" y1="245.78" x2="69.6" y2="245.78" stroke="#000" stroke-width="2.6"/>
<line x1="61.6" y1="207.37" x2="69.6" y2="207.37" stroke="#000" stroke-width="2.6"/>
<line x1="65.6" y1="168.95" x2="69.6" y2="168.95" stroke="#000" stroke-width="2.6"/>
<line x1="61.6" y1="130.53" x2="69.6" y2="130.53" stroke="#000" stroke-width="2.6"/>
<line x1="65.6" y1="92.12" x2="69.6" y2="92.12" stroke="#000" stroke-width="2.6"/>
<line x1="61.6" y1="53.7" x2="69.6" y2="53.7" stroke="#000" stroke-width="2.6"/>
<line x1="69.6" y1="284.2" x2="69.6" y2="292.2" stroke="#000" stroke-width="2.6"/>
<line x1="119.77" y1="284.2" x2="119.77" y2="288.7" stroke="#000" stroke-width="2.6"/>
<line x1="169.94" y1="284.2" x2="169.94" y2="292.2" stroke="#000" stroke-width="2.6"/>
<line x1="220.11" y1="284.2" x2="220.11" y2="288.7" stroke="#000" stroke-width="2.6"/>
<line x1="270.28" y1="284.2" x2="270.28" y2="292.2" stroke="#000" stroke-width="2.6"/>
<line x1="320.45" y1="284.2" x2="320.45" y2="288.7" stroke="#000" stroke-width="2.6"/>
<line x1="370.62" y1="284.2" x2="370.62" y2="292.2" stroke="#000" stroke-width="2.6"/>
<line x1="420.79" y1="284.2" x2="420.79" y2="288.7" stroke="#000" stroke-width="2.6"/>
<line x1="470.96" y1="284.2" x2="470.96" y2="292.2" stroke="#000" stroke-width="2.6"/>
<line x1="521.13" y1="284.2" x2="521.13" y2="288.7" stroke="#000" stroke-width="2.6"/>
<line x1="571.3" y1="284.2" x2="571.3" y2="292.2" stroke="#000" stroke-width="2.6"/>
<line x1="571.3" y1="284.2" x2="579.3" y2="284.2" stroke="#000" stroke-width="2.6"/>
<line x1="571.3" y1="245.78" x2="575.8" y2="245.78" stroke="#000" stroke-width="2.6"/>
<line x1="571.3" y1="207.37" x2="579.3" y2="207.37" stroke="#000" stroke-width="2.6"/>
<line x1="571.3" y1="168.95" x2="575.8" y2="168.95" stroke="#000" stroke-width="2.6"/>
<line x1="571.3" y1="130.53" x2="579.3" y2="130.53" stroke="#000" stroke-width="2.6"/>
<line x1="571.3" y1="92.12" x2="575.8" y2="92.12" stroke="#000" stroke-width="2.6"/>
<line x1="571.3" y1="53.7" x2="579.3" y2="53.7" stroke="#000" stroke-width="2.6"/>
<text x="55.6" y="293" font-size="25" font-family="'Liberation Sans', Arial, Helvetica, sans-serif" text-anchor="end">0</text>
<text x="55.6" y="216.17" font-size="25" font-family="'Liberation Sans', Arial, Helvetica, sans-serif" text-anchor="end">2</text>
<text x="55.6" y="139.33" font-size="25" font-family="'Liberation Sans', Arial, Helvetica, sans-serif" text-anchor="end">4</text>
<text x="55.6" y="62.5" font-size="25" font-family="'Liberation Sans', Arial, Helvetica, sans-serif" text-anchor="end">6</text>
<text x="69.6" y="317.4" font-size="25" font-family="'Liberation Sans', Arial, Helvetica, sans-serif" text-anchor="middle">0</text>
<text x="169.94" y="317.4" font-size="25" font-family="'Liberation Sans', Arial, Helvetica, sans-serif" text-anchor="middle">2</text>
<text x="270.28" y="317.4" font-size="25" font-family="'Liberation Sans', Arial, Helvetica, sans-serif" text-anchor="middle">4</text>
<text x="370.62" y="317.4" font-size="25" font-family="'Liberation Sans', Arial, Helvetica, sans-serif" text-anchor="middle">6</text>
<text x="470.96" y="317.4" font-size="25" font-family="'Liberation Sans', Arial, Helvetica, sans-serif" text-anchor="middle">8</text>
<text x="571.3" y="317.4" font-size="25" font-family="'Liberation Sans', Arial, Helvetica, sans-serif" text-anchor="middle">10</text>
<text x="585.3" y="293" font-size="25" font-family="'Liberation Sans', Arial, Helvetica, sans-serif">0</text>
<text x="585.3" y="216.17" font-size="25" font-family="'Liberation Sans', Arial, Helvetica, sans-serif">5</text>
<text x="585.3" y="139.33" font-size="25" font-family="'Liberation Sans', Arial, Helvetica, sans-serif">10</text>
<text x="585.3" y="62.5" font-size="25" font-family="'Liberation Sans', Arial, Helvetica, sans-serif">15</text>
<text x="26" y="168.95" font-size="24" font-family="'Liberation Sans', Arial, Helvetica, sans-serif" text-anchor="middle" transform="rotate(-90 26 168.95)">RDF</text>
<text x="640" y="168.95" font-size="24" font-family="'Liberation Sans', Arial, Helvetica, sans-serif" text-anchor="middle" transform="rotate(-90 640 168.95)">Number of atoms</text>
<text x="320.45" y="345.2" font-size="25" font-family="'Liberation Sans', Arial, Helvetica, sans-serif" text-anchor="middle">r (Å)</text>
<text x="108.5" y="97.6" font-size="27" font-family="'Liberation Sans', Arial, Helvetica, sans-serif">-SO<tspan dy="5.94" font-size="18.9">3</tspan><tspan dy="-5.94">H</tspan></text>
<line x1="410.8" y1="141.1" x2="457.6" y2="141.1" stroke="#5563ee" stroke-width="2.1"/>
<text x="464.8" y="148.6" font-size="21" font-family="'Liberation Sans', Arial, Helvetica, sans-serif">RDF_O</text>
<line x1="410.8" y1="166.8" x2="457.6" y2="166.8" stroke="#ff7f0e" stroke-width="2.1"/>
<text x="464.8" y="174.3" font-size="21" font-family="'Liberation Sans', Arial, Helvetica, sans-serif">RDF_H</text>
<line x1="410.8" y1="190.3" x2="423.8" y2="190.3" stroke="#17a3ea" stroke-width="3"/>
<line x1="440.8" y1="190.3" x2="453.6" y2="190.3" stroke="#17a3ea" stroke-width="3"/>
<text x="464.8" y="197.8" font-size="21" font-family="'Liberation Sans', Arial, Helvetica, sans-serif">Num._O</text>
<line x1="410.8" y1="216.6" x2="423.8" y2="216.6" stroke="#ec7f35" stroke-width="3"/>
<line x1="440.8" y1="216.6" x2="453.6" y2="216.6" stroke="#ec7f35" stroke-width="3"/>
<text x="464.8" y="224.1" font-size="21" font-family="'Liberation Sans', Arial, Helvetica, sans-serif">Num._H</text>
<clipPath id="clipA1"><rect x="69.2" y="371.8" width="497.3" height="230.9"/></clipPath>
<rect x="67.8" y="370.4" width="500.1" height="230.9" fill="none" stroke="#000" stroke-width="2.8"/>
<g clip-path="url(#clipA1)" fill="none" stroke-linejoin="round">
<path d="M67.8,601.3 L183.32,601.3 L183.73,599.62 L184.14,597.94 L184.54,596.26 L184.95,594.57 L185.36,592.89 L185.77,591.21 L186.17,589.53 L186.58,587.84 L186.99,586.16 L187.39,584.48 L187.8,582.79 L188.21,581.11 L188.62,579.42 L189.02,577.74 L189.43,576.05 L189.84,574.37 L190.24,572.68 L190.65,571 L191.06,569.31 L191.47,567.62 L191.87,565.89 L192.28,564.12 L192.69,562.31 L193.09,560.47 L193.5,558.61 L193.91,556.71 L194.32,554.8 L194.72,552.88 L195.13,550.94 L195.54,549.01 L195.94,547.07 L196.35,545.13 L196.76,543.21 L197.17,541.3 L197.57,539.41 L197.98,537.55 L198.39,535.71 L198.79,533.91 L199.2,532.14 L199.61,530.42 L200.01,528.74 L200.42,527.12 L200.83,525.56 L201.24,524.05 L201.64,522.62 L202.05,521.25 L202.46,519.96 L202.86,518.76 L203.27,517.64 L203.68,516.6 L204.09,515.66 L204.49,514.75 L204.9,513.88 L205.31,513.05 L205.71,512.25 L206.12,511.47 L206.53,510.73 L206.94,510.01 L207.34,509.32 L207.75,508.64 L208.16,507.99 L208.56,507.35 L208.97,506.73 L209.38,506.12 L209.79,505.52 L210.19,504.93 L210.6,504.35 L211.01,503.77 L211.41,503.19 L211.82,502.62 L212.23,502.04 L212.64,501.46 L213.04,500.87 L213.45,500.27 L213.86,499.66 L214.26,499.04 L214.67,498.41 L215.08,497.78 L215.49,497.16 L215.89,496.54 L216.3,495.92 L216.71,495.31 L217.11,494.7 L217.52,494.09 L217.93,493.49 L218.34,492.89 L218.74,492.29 L219.15,491.7 L219.56,491.1 L219.96,490.51 L220.37,489.92 L220.78,489.34 L221.18,488.75 L221.59,488.16 L222,487.58 L222.41,487 L222.81,486.42 L223.22,485.84 L223.63,485.26 L224.03,484.68 L224.44,484.1 L224.85,483.52 L225.26,482.94 L225.66,482.38 L226.07,481.82 L226.48,481.28 L226.88,480.74 L227.29,480.2 L227.7,479.67 L228.11,479.14 L228.51,478.62 L228.92,478.09 L229.33,477.56 L229.73,477.03 L230.14,476.5 L230.55,475.96 L230.96,475.41 L231.36,474.86 L231.77,474.3 L232.18,473.73 L232.58,473.15 L232.99,472.56 L233.4,471.95 L233.81,471.33 L234.21,470.69 L234.62,470.04 L235.03,469.37 L235.43,468.69 L235.84,468 L236.25,467.3 L236.66,466.6 L237.06,465.89 L237.47,465.17 L237.88,464.44 L238.28,463.7 L238.69,462.95 L239.1,462.19 L239.51,461.42 L239.91,460.64 L240.32,459.85 L240.73,459.05 L241.13,458.23 L241.54,457.41 L241.95,456.57 L242.36,455.71 L242.76,454.85 L243.17,453.96 L243.58,453.07 L243.98,452.16 L244.39,451.24 L244.8,450.29 L245.2,449.34 L245.61,448.37 L246.02,447.38 L246.43,446.37 L246.83,445.35 L247.24,444.31 L247.65,443.25 L248.05,442.17 L248.46,441.08 L248.87,439.96 L249.28,438.84 L249.68,437.73 L250.09,436.61 L250.5,435.49 L250.9,434.36 L251.31,433.23 L251.72,432.08 L252.13,430.92 L252.53,429.73 L252.94,428.53 L253.35,427.3 L253.75,426.05 L254.16,424.76 L254.57,423.45 L254.98,422.09 L255.38,420.7 L255.79,419.26 L256.2,417.78 L256.6,416.25 L257.01,414.67 L257.42,413.04 L257.83,411.34 L258.23,409.59 L258.64,407.78 L259.05,405.89 L259.45,403.94 L259.86,401.92 L260.27,399.82 L260.68,397.64 L261.08,395.39 L261.49,393.04 L261.9,390.61 L262.3,388.09 L262.71,385.48 L263.12,382.43 L263.53,378.2 L263.93,373.34 L264.34,368.48" stroke="#ec7f35" stroke-width="3" stroke-dasharray="11,7"/>
<path d="M67.8,601.3 L221.33,601.3 L221.8,600.56 L222.27,599.79 L222.73,598.99 L223.2,598.17 L223.67,597.33 L224.14,596.45 L224.6,595.55 L225.07,594.63 L225.54,593.67 L226.01,592.69 L226.47,591.68 L226.94,590.65 L227.41,589.59 L227.87,588.5 L228.34,587.38 L228.81,586.22 L229.28,585.02 L229.74,583.79 L230.21,582.53 L230.68,581.23 L231.15,579.91 L231.61,578.55 L232.08,577.17 L232.55,575.76 L233.02,574.32 L233.48,572.86 L233.95,571.37 L234.42,569.86 L234.89,568.33 L235.35,566.79 L235.82,565.22 L236.29,563.64 L236.76,562.04 L237.22,560.42 L237.69,558.79 L238.16,557.15 L238.63,555.5 L239.09,553.84 L239.56,552.17 L240.03,550.49 L240.5,548.81 L240.96,547.12 L241.43,545.43 L241.9,543.73 L242.37,541.97 L242.83,540.12 L243.3,538.19 L243.77,536.18 L244.23,534.11 L244.7,531.98 L245.17,529.79 L245.64,527.57 L246.1,525.31 L246.57,523.02 L247.04,520.72 L247.51,518.41 L247.97,516.1 L248.44,513.8 L248.91,511.52 L249.38,509.26 L249.84,507.03 L250.31,504.85 L250.78,502.71 L251.25,500.63 L251.71,498.62 L252.18,496.69 L252.65,494.84 L253.12,493.08 L253.58,491.42 L254.05,489.86 L254.52,488.43 L254.99,487.12 L255.45,485.94 L255.92,484.91 L256.39,483.94 L256.86,483.01 L257.32,482.12 L257.79,481.25 L258.26,480.42 L258.73,479.62 L259.19,478.84 L259.66,478.09 L260.13,477.37 L260.59,476.66 L261.06,475.99 L261.53,475.33 L262,474.69 L262.46,474.07 L262.93,473.47 L263.4,472.88 L263.87,472.31 L264.33,471.75 L264.8,471.2 L265.27,470.66 L265.74,470.13 L266.2,469.6 L266.67,469.09 L267.14,468.57 L267.61,468.06 L268.07,467.55 L268.54,467.05 L269.01,466.54 L269.48,466.03 L269.94,465.51 L270.41,464.99 L270.88,464.47 L271.35,463.93 L271.81,463.39 L272.28,462.83 L272.75,462.27 L273.22,461.69 L273.68,461.1 L274.15,460.49 L274.62,459.86 L275.09,459.21 L275.55,458.55 L276.02,457.86 L276.49,457.15 L276.95,456.43 L277.42,455.71 L277.89,454.99 L278.36,454.26 L278.82,453.52 L279.29,452.78 L279.76,452.04 L280.23,451.29 L280.69,450.54 L281.16,449.78 L281.63,449.01 L282.1,448.24 L282.56,447.46 L283.03,446.67 L283.5,445.87 L283.97,445.07 L284.43,444.26 L284.9,443.43 L285.37,442.6 L285.84,441.77 L286.3,440.92 L286.77,440.06 L287.24,439.19 L287.71,438.31 L288.17,437.42 L288.64,436.52 L289.11,435.6 L289.58,434.68 L290.04,433.74 L290.51,432.79 L290.98,431.82 L291.45,430.83 L291.91,429.83 L292.38,428.81 L292.85,427.77 L293.31,426.71 L293.78,425.64 L294.25,424.55 L294.72,423.45 L295.18,422.34 L295.65,421.21 L296.12,420.07 L296.59,418.91 L297.05,417.75 L297.52,416.57 L297.99,415.39 L298.46,414.19 L298.92,412.98 L299.39,411.77 L299.86,410.55 L300.33,409.31 L300.79,408.08 L301.26,406.83 L301.73,405.58 L302.2,404.33 L302.66,403.06 L303.13,401.8 L303.6,400.53 L304.07,399.26 L304.53,397.98 L305,396.7 L305.47,395.4 L305.94,394.08 L306.4,392.75 L306.87,391.41 L307.34,390.06 L307.81,388.69 L308.27,387.32 L308.74,385.93 L309.21,384.53 L309.67,383.12 L310.14,381.69 L310.61,380.26 L311.08,378.82 L311.54,377.37 L312.01,375.91 L312.48,374.44 L312.95,372.96 L313.41,371.47 L313.88,369.98 L314.35,368.48" stroke="#17a3ea" stroke-width="3" stroke-dasharray="11,7"/>
<path d="M67.8,601.3 L68.8,601.3 L69.8,601.3 L70.81,601.3 L71.81,601.3 L72.81,601.3 L73.81,601.3 L74.82,601.3 L75.82,601.3 L76.82,601.3 L77.82,601.3 L78.82,601.3 L79.83,601.3 L80.83,601.3 L81.83,601.3 L82.83,601.3 L83.84,601.3 L84.84,601.3 L85.84,601.3 L86.84,601.3 L87.84,601.3 L88.85,601.3 L89.85,601.3 L90.85,601.3 L91.85,601.3 L92.86,601.3 L93.86,601.3 L94.86,601.3 L95.86,601.3 L96.86,601.3 L97.87,601.3 L98.87,601.3 L99.87,601.3 L100.87,601.3 L101.87,601.3 L102.88,601.3 L103.88,601.3 L104.88,601.3 L105.88,601.3 L106.89,601.3 L107.89,601.3 L108.89,601.3 L109.89,601.3 L110.89,601.3 L111.9,601.3 L112.9,601.3 L113.9,601.3 L114.9,601.3 L115.91,601.3 L116.91,601.3 L117.91,601.3 L118.91,601.3 L119.91,601.3 L120.92,601.3 L121.92,601.3 L122.92,601.3 L123.92,601.3 L124.93,601.3 L125.93,601.3 L126.93,601.3 L127.93,601.3 L128.93,601.3 L129.94,601.3 L130.94,601.3 L131.94,601.3 L132.94,601.3 L133.95,601.3 L134.95,601.3 L135.95,601.3 L136.95,601.3 L137.95,601.3 L138.96,601.3 L139.96,601.3 L140.96,601.3 L141.96,601.3 L142.97,601.3 L143.97,601.3 L144.97,601.3 L145.97,601.3 L146.97,601.3 L147.98,601.3 L148.98,601.3 L149.98,601.3 L150.98,601.3 L151.99,601.3 L152.99,601.3 L153.99,601.3 L154.99,601.3 L155.99,601.3 L157,601.3 L158,601.3 L159,601.3 L160,601.3 L161.01,601.3 L162.01,601.3 L163.01,601.3 L164.01,601.3 L165.01,601.3 L166.02,601.3 L167.02,601.3 L168.02,601.3 L169.02,601.3 L170.02,601.3 L171.03,601.3 L172.03,601.3 L173.03,601.3 L174.03,601.3 L175.04,601.3 L176.04,601.3 L177.04,601.3 L178.04,601.3 L179.04,601.3 L180.05,601.3 L181.05,601.3 L182.05,601.3 L183.05,601.3 L184.06,601.3 L185.06,601.3 L186.06,601.3 L187.06,601.3 L188.06,601.3 L189.07,601.3 L190.07,601.3 L191.07,601.3 L192.07,601.3 L193.08,601.3 L194.08,601.3 L195.08,601.3 L196.08,601.3 L197.08,601.3 L198.09,601.3 L199.09,601.3 L200.09,601.3 L201.09,601.3 L202.1,601.3 L203.1,601.3 L204.1,601.3 L205.1,601.3 L206.1,601.3 L207.11,601.3 L208.11,601.3 L209.11,601.3 L210.11,601.3 L211.12,601.3 L212.12,601.3 L213.12,601.3 L214.12,601.3 L215.12,601.2 L216.13,600.81 L217.13,600.15 L218.13,599.28 L219.13,598.24 L220.14,597.06 L221.14,595.78 L222.14,594.23 L223.14,592.03 L224.14,589.25 L225.15,585.94 L226.15,582.2 L227.15,578.09 L228.15,573.57 L229.15,567.12 L230.16,558.69 L231.16,548.82 L232.16,538.06 L233.16,526.97 L234.17,516.08 L235.17,505.95 L236.17,497.12 L237.17,490.14 L238.17,485.55 L239.18,482.83 L240.18,480.31 L241.18,478.04 L242.18,476.1 L243.19,474.59 L244.19,473.58 L245.19,473.16 L246.19,473.63 L247.19,475.31 L248.2,477.99 L249.2,481.47 L250.2,485.57 L251.2,490.08 L252.21,494.79 L253.21,499.51 L254.21,504.18 L255.21,509.89 L256.21,516.65 L257.22,524.1 L258.22,531.87 L259.22,539.59 L260.22,546.88 L261.23,553.39 L262.23,558.74 L263.23,562.69 L264.23,566.15 L265.23,569.35 L266.24,572.22 L267.24,574.68 L268.24,576.66 L269.24,578.1 L270.25,579.17 L271.25,580.16 L272.25,581 L273.25,581.63 L274.25,582 L275.26,582.04 L276.26,581.88 L277.26,581.56 L278.26,581.13 L279.27,580.6 L280.27,580.02 L281.27,579.42 L282.27,578.81 L283.27,578.25 L284.28,577.69 L285.28,577.08 L286.28,576.42 L287.28,575.74 L288.28,575.04 L289.29,574.34 L290.29,573.64 L291.29,572.96 L292.29,572.31 L293.3,571.7 L294.3,571.12 L295.3,570.56 L296.3,570.02 L297.3,569.5 L298.31,568.98 L299.31,568.46 L300.31,567.96 L301.31,567.45 L302.32,566.94 L303.32,566.42 L304.32,565.86 L305.32,565.27 L306.32,564.67 L307.33,564.06 L308.33,562.32 L309.33,562.3 L310.33,561.44 L311.34,561.41 L312.34,561.43 L313.34,561.2 L314.34,560.35 L315.34,560.92 L316.35,560.5 L317.35,560.8 L318.35,560.57 L319.35,560.71 L320.36,560.23 L321.36,560.31 L322.36,559.67 L323.36,559.92 L324.36,560.08 L325.37,560.2 L326.37,559.52 L327.37,559.61 L328.37,559.23 L329.38,559.23 L330.38,559.26 L331.38,559.67 L332.38,559.46 L333.38,559.15 L334.39,559.05 L335.39,558.51 L336.39,558.38 L337.39,558.04 L338.4,558.19 L339.4,557.76 L340.4,557.86 L341.4,557.11 L342.4,556.94 L343.41,556.33 L344.41,556.2 L345.41,556.02 L346.41,555.78 L347.42,556.21 L348.42,556.68 L349.42,556.59 L350.42,555.98 L351.42,556.54 L352.43,555.84 L353.43,555.14 L354.43,555.12 L355.43,555.63 L356.43,554.99 L357.44,555.33 L358.44,556.03 L359.44,555.73 L360.44,555.82 L361.45,556.04 L362.45,556.02 L363.45,556.62 L364.45,557.26 L365.45,557.65 L366.46,558.73 L367.46,559.09 L368.46,559.56 L369.46,560.48 L370.47,561.16 L371.47,561.34 L372.47,562.63 L373.47,562.91 L374.47,563.35 L375.48,564.18 L376.48,565.03 L377.48,565.42 L378.48,565.81 L379.49,565.92 L380.49,566.08 L381.49,566.52 L382.49,566.8 L383.49,567.21 L384.5,568.02 L385.5,568.38 L386.5,568.38 L387.5,568.6 L388.51,567.71 L389.51,567.71 L390.51,567.43 L391.51,567.99 L392.51,567.91 L393.52,568.98 L394.52,568.78 L395.52,568.5 L396.52,568.06 L397.53,568.21 L398.53,567.89 L399.53,567.97 L400.53,568.18 L401.53,567.5 L402.54,566.71 L403.54,566.22 L404.54,565.59 L405.54,565.33 L406.55,565.94 L407.55,566.1 L408.55,566.3 L409.55,565.98 L410.55,565.39 L411.56,564.5 L412.56,564.22 L413.56,563.19 L414.56,562.59 L415.56,562.52 L416.57,562.19 L417.57,561.42 L418.57,561.52 L419.57,561.59 L420.58,561.09 L421.58,560.87 L422.58,560.76 L423.58,561.03 L424.58,561.25 L425.59,560.73 L426.59,560.96 L427.59,560.71 L428.59,560.02 L429.6,559.36 L430.6,559.87 L431.6,559.05 L432.6,558.96 L433.6,559.04 L434.61,559.39 L435.61,559.2 L436.61,559.59 L437.61,560 L438.62,559.83 L439.62,559.39 L440.62,559.26 L441.62,559.27 L442.62,559.24 L443.63,559.32 L444.63,559.56 L445.63,559.47 L446.63,559.65 L447.64,560.13 L448.64,560.44 L449.64,560.24 L450.64,560.97 L451.64,561.3 L452.65,561.26 L453.65,561 L454.65,561.67 L455.65,561.8 L456.66,561.65 L457.66,561.85 L458.66,562.41 L459.66,562.68 L460.66,562.62 L461.67,562.54 L462.67,561.87 L463.67,561.87 L464.67,561.27 L465.68,561.3 L466.68,561.84 L467.68,561.89 L468.68,561.79 L469.68,561.95 L470.69,562.51 L471.69,561.97 L472.69,562.02 L473.69,561.86 L474.69,561.57 L475.7,560.93 L476.7,560.38 L477.7,560.22 L478.7,560.11 L479.71,561.05 L480.71,561.47 L481.71,561.63 L482.71,561.72 L483.71,561.61 L484.72,561.06 L485.72,560.58 L486.72,560.87 L487.72,561.23 L488.73,561.18 L489.73,561.44 L490.73,561.42 L491.73,561.73 L492.73,561.51 L493.74,561.62 L494.74,561.72 L495.74,561.76 L496.74,561.76 L497.75,561.73 L498.75,562.18 L499.75,562.12 L500.75,562.22 L501.75,562.01 L502.76,562.13 L503.76,562.19 L504.76,562.05 L505.76,562.71 L506.77,563.31 L507.77,563.7 L508.77,563.98 L509.77,564.36 L510.77,564.04 L511.78,563.86 L512.78,563.33 L513.78,563.43 L514.78,563.53 L515.79,563.28 L516.79,563.36 L517.79,564.13 L518.79,563.53 L519.79,563.32 L520.8,563.64 L521.8,563.81 L522.8,563.76 L523.8,564.09 L524.81,564.22 L525.81,563.39 L526.81,563.06 L527.81,562.79 L528.81,562.94 L529.82,562.53 L530.82,562.83 L531.82,562.77 L532.82,562.92 L533.83,562.69 L534.83,563.14 L535.83,562.95 L536.83,562.76 L537.83,562.34 L538.84,562.14 L539.84,561.79 L540.84,562.19 L541.84,562.09 L542.84,562.15 L543.85,562.07 L544.85,561.86 L545.85,561.76 L546.85,561.93 L547.86,561.64 L548.86,561.88 L549.86,561.76 L550.86,562.04 L551.86,562.28 L552.87,562.76 L553.87,562.46 L554.87,562.73 L555.87,562.2 L556.88,562.33 L557.88,562.05 L558.88,562.6 L559.88,562.24 L560.88,562.78 L561.89,562.4 L562.89,562.72 L563.89,562.65 L564.89,562.92 L565.9,563.23 L566.9,563.43 L567.9,563.32" stroke="#5563ee" stroke-width="2.1"/>
<path d="M67.8,601.3 L68.8,601.3 L69.8,601.3 L70.81,601.3 L71.81,601.3 L72.81,601.3 L73.81,601.3 L74.82,601.3 L75.82,601.3 L76.82,601.3 L77.82,601.3 L78.82,601.3 L79.83,601.3 L80.83,601.3 L81.83,601.3 L82.83,601.3 L83.84,601.3 L84.84,601.3 L85.84,601.3 L86.84,601.3 L87.84,601.3 L88.85,601.3 L89.85,601.3 L90.85,601.3 L91.85,601.3 L92.86,601.3 L93.86,601.3 L94.86,601.3 L95.86,601.3 L96.86,601.3 L97.87,601.3 L98.87,601.3 L99.87,601.3 L100.87,601.3 L101.87,601.3 L102.88,601.3 L103.88,601.3 L104.88,601.3 L105.88,601.3 L106.89,601.3 L107.89,601.3 L108.89,601.3 L109.89,601.3 L110.89,601.3 L111.9,601.3 L112.9,601.3 L113.9,601.3 L114.9,601.3 L115.91,601.3 L116.91,601.3 L117.91,601.3 L118.91,601.3 L119.91,601.3 L120.92,601.3 L121.92,601.3 L122.92,601.3 L123.92,601.3 L124.93,601.3 L125.93,601.3 L126.93,601.3 L127.93,601.3 L128.93,601.3 L129.94,601.3 L130.94,601.3 L131.94,601.3 L132.94,601.3 L133.95,601.3 L134.95,601.3 L135.95,601.3 L136.95,601.3 L137.95,601.3 L138.96,601.3 L139.96,601.3 L140.96,601.3 L141.96,601.3 L142.97,601.3 L143.97,601.3 L144.97,601.3 L145.97,601.3 L146.97,601.3 L147.98,601.3 L148.98,601.3 L149.98,601.3 L150.98,601.3 L151.99,601.3 L152.99,601.3 L153.99,601.3 L154.99,601.3 L155.99,601.3 L157,601.3 L158,601.3 L159,601.3 L160,601.3 L161.01,601.3 L162.01,601.3 L163.01,601.3 L164.01,601.3 L165.01,601.3 L166.02,601.3 L167.02,601.3 L168.02,601.3 L169.02,601.3 L170.02,601.3 L171.03,601.3 L172.03,601.3 L173.03,601.3 L174.03,601.3 L175.04,601.17 L176.04,600.59 L177.04,599.61 L178.04,598.32 L179.04,596.81 L180.05,595.11 L181.05,592.44 L182.05,588.6 L183.05,583.81 L184.06,578.3 L185.06,572.31 L186.06,566.07 L187.06,559.71 L188.06,551.54 L189.07,541.65 L190.07,531.14 L191.07,521.1 L192.07,512.61 L193.08,506.78 L194.08,503.52 L195.08,500.61 L196.08,498.04 L197.08,495.91 L198.09,494.32 L199.09,493.38 L200.09,493.2 L201.09,494.01 L202.1,495.69 L203.1,498.03 L204.1,500.78 L205.1,503.73 L206.1,506.7 L207.11,510.26 L208.11,514.56 L209.11,519.41 L210.11,524.67 L211.12,530.16 L212.12,535.72 L213.12,541.19 L214.12,546.39 L215.12,551.58 L216.13,557.33 L217.13,563.28 L218.13,569.07 L219.13,574.32 L220.14,578.64 L221.14,581.66 L222.14,583.57 L223.14,585.3 L224.14,586.74 L225.15,587.75 L226.15,588.2 L227.15,588.11 L228.15,587.74 L229.15,587.15 L230.16,586.38 L231.16,585.49 L232.16,584.54 L233.16,583.57 L234.17,582.63 L235.17,581.78 L236.17,580.91 L237.17,580.01 L238.17,579.07 L239.18,578.1 L240.18,577.1 L241.18,576.09 L242.18,575.06 L243.19,574.02 L244.19,572.97 L245.19,571.93 L246.19,570.89 L247.19,569.86 L248.2,568.84 L249.2,567.84 L250.2,566.82 L251.2,565.76 L252.21,564.68 L253.21,563.59 L254.21,562.5 L255.21,561.42 L256.21,560.35 L257.22,559.3 L258.22,558.29 L259.22,557.33 L260.22,556.41 L261.23,555.56 L262.23,554.79 L263.23,554.08 L264.23,553.36 L265.23,552.62 L266.24,551.89 L267.24,551.19 L268.24,550.55 L269.24,549.98 L270.25,549.52 L271.25,549.18 L272.25,548.99 L273.25,548.97 L274.25,549.1 L275.26,549.34 L276.26,549.67 L277.26,550.07 L278.26,550.52 L279.27,550.99 L280.27,551.5 L281.27,552.2 L282.27,553.07 L283.27,554.05 L284.28,555.08 L285.28,556.07 L286.28,556.98 L287.28,557.76 L288.28,558.58 L289.29,559.43 L290.29,560.27 L291.29,561.06 L292.29,561.75 L293.3,562.31 L294.3,562.68 L295.3,562.82 L296.3,562.8 L297.3,562.75 L298.31,562.67 L299.31,562.57 L300.31,562.45 L301.31,562.31 L302.32,562.15 L303.32,561.99 L304.32,561.82 L305.32,561.65 L306.32,561.49 L307.33,561.33 L308.33,561.35 L309.33,560.9 L310.33,560.74 L311.34,560.8 L312.34,560.79 L313.34,560.73 L314.34,560.59 L315.34,560.25 L316.35,560.13 L317.35,560.04 L318.35,560.43 L319.35,561.37 L320.36,561.87 L321.36,561.99 L322.36,561.43 L323.36,560.92 L324.36,560.25 L325.37,559.91 L326.37,559.29 L327.37,559.18 L328.37,559.1 L329.38,558.53 L330.38,558.43 L331.38,558.22 L332.38,558.34 L333.38,558.34 L334.39,558.8 L335.39,558.69 L336.39,559.22 L337.39,559.29 L338.4,559.7 L339.4,559.98 L340.4,559.85 L341.4,559.95 L342.4,560.39 L343.41,560.7 L344.41,560.81 L345.41,561.52 L346.41,561.83 L347.42,561.77 L348.42,561.97 L349.42,562.45 L350.42,562.42 L351.42,562.35 L352.43,563.69 L353.43,564.03 L354.43,563.78 L355.43,564.61 L356.43,565.14 L357.44,564.79 L358.44,565.38 L359.44,565.92 L360.44,565.44 L361.45,564.8 L362.45,564.49 L363.45,563.57 L364.45,562.8 L365.45,562.54 L366.46,562.37 L367.46,562.16 L368.46,561.73 L369.46,561.39 L370.47,560.98 L371.47,561.33 L372.47,560.77 L373.47,560.74 L374.47,560.84 L375.48,561.49 L376.48,561.08 L377.48,561.76 L378.48,562.5 L379.49,562.56 L380.49,562.12 L381.49,562.16 L382.49,561.74 L383.49,561.11 L384.5,560.9 L385.5,560.73 L386.5,560.37 L387.5,559.79 L388.51,559.65 L389.51,559.79 L390.51,559.55 L391.51,560.28 L392.51,561.11 L393.52,561.3 L394.52,561.99 L395.52,562.29 L396.52,561.68 L397.53,561.98 L398.53,562.31 L399.53,561.69 L400.53,561.63 L401.53,562.54 L402.54,562.1 L403.54,561.98 L404.54,562.76 L405.54,563.29 L406.55,563.04 L407.55,563.2 L408.55,563.18 L409.55,562.8 L410.55,562.76 L411.56,562.69 L412.56,562.62 L413.56,562.41 L414.56,562.11 L415.56,562.35 L416.57,562.56 L417.57,562.92 L418.57,562.83 L419.57,563 L420.58,563 L421.58,563.14 L422.58,563.27 L423.58,563.69 L424.58,564.16 L425.59,563.99 L426.59,563.36 L427.59,563.2 L428.59,563.02 L429.6,563.17 L430.6,563.11 L431.6,563.43 L432.6,563.64 L433.6,563.53 L434.61,563.16 L435.61,563.47 L436.61,563.65 L437.61,563.17 L438.62,563.93 L439.62,563.9 L440.62,563.99 L441.62,563.85 L442.62,564.26 L443.63,563.9 L444.63,563.72 L445.63,563.41 L446.63,563.27 L447.64,562.87 L448.64,562.66 L449.64,562.72 L450.64,562.63 L451.64,562.5 L452.65,562.26 L453.65,561.76 L454.65,561.23 L455.65,561.39 L456.66,561.37 L457.66,561.45 L458.66,561.51 L459.66,561.59 L460.66,561.61 L461.67,561.53 L462.67,562.04 L463.67,562.42 L464.67,562.9 L465.68,562.63 L466.68,562.25 L467.68,561.93 L468.68,561.93 L469.68,561.66 L470.69,561.23 L471.69,562.14 L472.69,561.59 L473.69,561.7 L474.69,562.05 L475.7,562.35 L476.7,561.77 L477.7,561.53 L478.7,561.15 L479.71,561.1 L480.71,561.25 L481.71,561.76 L482.71,562.38 L483.71,562.46 L484.72,562.45 L485.72,562.15 L486.72,562.41 L487.72,562.77 L488.73,563.29 L489.73,563.41 L490.73,564.2 L491.73,563.52 L492.73,563.68 L493.74,563.49 L494.74,563.03 L495.74,562.18 L496.74,562.14 L497.75,562.51 L498.75,562.58 L499.75,563.01 L500.75,563.65 L501.75,564.2 L502.76,563.77 L503.76,563.55 L504.76,563.6 L505.76,563.8 L506.77,564.03 L507.77,563.85 L508.77,564.49 L509.77,564.19 L510.77,563.97 L511.78,563.69 L512.78,563.68 L513.78,563.32 L514.78,563.32 L515.79,563.54 L516.79,563.89 L517.79,563.43 L518.79,563.28 L519.79,564.16 L520.8,563.33 L521.8,563.2 L522.8,563.15 L523.8,562.67 L524.81,561.7 L525.81,562.12 L526.81,561.93 L527.81,562.18 L528.81,562.74 L529.82,562.64 L530.82,562.66 L531.82,562.81 L532.82,563.21 L533.83,563.04 L534.83,563.43 L535.83,563.27 L536.83,563.06 L537.83,562.4 L538.84,562.53 L539.84,562.23 L540.84,562.71 L541.84,562.22 L542.84,562.23 L543.85,561.93 L544.85,562.13 L545.85,561.93 L546.85,561.99 L547.86,562.26 L548.86,562.78 L549.86,562.71 L550.86,562.32 L551.86,562.7 L552.87,562.7 L553.87,562.43 L554.87,562.06 L555.87,562.56 L556.88,562.22 L557.88,562.37 L558.88,562.82 L559.88,563.49 L560.88,563.4 L561.89,563.31 L562.89,563.47 L563.89,562.99 L564.89,562.73 L565.9,561.83 L566.9,562.12 L567.9,562.07" stroke="#ff7f0e" stroke-width="2.1"/>
</g>
<line x1="59.8" y1="601.3" x2="67.8" y2="601.3" stroke="#000" stroke-width="2.6"/>
<line x1="63.8" y1="562.82" x2="67.8" y2="562.82" stroke="#000" stroke-width="2.6"/>
<line x1="59.8" y1="524.33" x2="67.8" y2="524.33" stroke="#000" stroke-width="2.6"/>
<line x1="63.8" y1="485.85" x2="67.8" y2="485.85" stroke="#000" stroke-width="2.6"/>
<line x1="59.8" y1="447.37" x2="67.8" y2="447.37" stroke="#000" stroke-width="2.6"/>
<line x1="63.8" y1="408.88" x2="67.8" y2="408.88" stroke="#000" stroke-width="2.6"/>
<line x1="59.8" y1="370.4" x2="67.8" y2="370.4" stroke="#000" stroke-width="2.6"/>
<line x1="67.8" y1="601.3" x2="67.8" y2="609.3" stroke="#000" stroke-width="2.6"/>
<line x1="117.81" y1="601.3" x2="117.81" y2="605.8" stroke="#000" stroke-width="2.6"/>
<line x1="167.82" y1="601.3" x2="167.82" y2="609.3" stroke="#000" stroke-width="2.6"/>
<line x1="217.83" y1="601.3" x2="217.83" y2="605.8" stroke="#000" stroke-width="2.6"/>
<line x1="267.84" y1="601.3" x2="267.84" y2="609.3" stroke="#000" stroke-width="2.6"/>
<line x1="317.85" y1="601.3" x2="317.85" y2="605.8" stroke="#000" stroke-width="2.6"/>
<line x1="367.86" y1="601.3" x2="367.86" y2="609.3" stroke="#000" stroke-width="2.6"/>
<line x1="417.87" y1="601.3" x2="417.87" y2="605.8" stroke="#000" stroke-width="2.6"/>
<line x1="467.88" y1="601.3" x2="467.88" y2="609.3" stroke="#000" stroke-width="2.6"/>
<line x1="517.89" y1="601.3" x2="517.89" y2="605.8" stroke="#000" stroke-width="2.6"/>
<line x1="567.9" y1="601.3" x2="567.9" y2="609.3" stroke="#000" stroke-width="2.6"/>
<line x1="567.9" y1="601.3" x2="575.9" y2="601.3" stroke="#000" stroke-width="2.6"/>
<line x1="567.9" y1="562.82" x2="572.4" y2="562.82" stroke="#000" stroke-width="2.6"/>
<line x1="567.9" y1="524.33" x2="575.9" y2="524.33" stroke="#000" stroke-width="2.6"/>
<line x1="567.9" y1="485.85" x2="572.4" y2="485.85" stroke="#000" stroke-width="2.6"/>
<line x1="567.9" y1="447.37" x2="575.9" y2="447.37" stroke="#000" stroke-width="2.6"/>
<line x1="567.9" y1="408.88" x2="572.4" y2="408.88" stroke="#000" stroke-width="2.6"/>
<line x1="567.9" y1="370.4" x2="575.9" y2="370.4" stroke="#000" stroke-width="2.6"/>
<text x="53.8" y="610.1" font-size="25" font-family="'Liberation Sans', Arial, Helvetica, sans-serif" text-anchor="end">0</text>
<text x="53.8" y="533.13" font-size="25" font-family="'Liberation Sans', Arial, Helvetica, sans-serif" text-anchor="end">2</text>
<text x="53.8" y="456.17" font-size="25" font-family="'Liberation Sans', Arial, Helvetica, sans-serif" text-anchor="end">4</text>
<text x="53.8" y="379.2" font-size="25" font-family="'Liberation Sans', Arial, Helvetica, sans-serif" text-anchor="end">6</text>
<text x="67.8" y="634.5" font-size="25" font-family="'Liberation Sans', Arial, Helvetica, sans-serif" text-anchor="middle">0</text>
<text x="167.82" y="634.5" font-size="25" font-family="'Liberation Sans', Arial, Helvetica, sans-serif" text-anchor="middle">2</text>
<text x="267.84" y="634.5" font-size="25" font-family="'Liberation Sans', Arial, Helvetica, sans-serif" text-anchor="middle">4</text>
<text x="367.86" y="634.5" font-size="25" font-family="'Liberation Sans', Arial, Helvetica, sans-serif" text-anchor="middle">6</text>
<text x="467.88" y="634.5" font-size="25" font-family="'Liberation Sans', Arial, Helvetica, sans-serif" text-anchor="middle">8</text>
<text x="567.9" y="634.5" font-size="25" font-family="'Liberation Sans', Arial, Helvetica, sans-serif" text-anchor="middle">10</text>
<text x="581.9" y="610.1" font-size="25" font-family="'Liberation Sans', Arial, Helvetica, sans-serif">0</text>
<text x="581.9" y="533.13" font-size="25" font-family="'Liberation Sans', Arial, Helvetica, sans-serif">5</text>
<text x="581.9" y="456.17" font-size="25" font-family="'Liberation Sans', Arial, Helvetica, sans-serif">10</text>
<text x="581.9" y="379.2" font-size="25" font-family="'Liberation Sans', Arial, Helvetica, sans-serif">15</text>
<text x="26" y="485.85" font-size="24" font-family="'Liberation Sans', Arial, Helvetica, sans-serif" text-anchor="middle" transform="rotate(-90 26 485.85)">RDF</text>
<text x="640" y="485.85" font-size="24" font-family="'Liberation Sans', Arial, Helvetica, sans-serif" text-anchor="middle" transform="rotate(-90 640 485.85)">Number of atoms</text>
<text x="317.85" y="662.3" font-size="25" font-family="'Liberation Sans', Arial, Helvetica, sans-serif" text-anchor="middle">r (Å)</text>
<text x="107.8" y="417.8" font-size="27" font-family="'Liberation Sans', Arial, Helvetica, sans-serif">-PO<tspan dy="5.94" font-size="18.9">3</tspan><tspan dy="-5.94">H</tspan><tspan dy="5.94" font-size="18.9">2</tspan></text>
<line x1="407.4" y1="457.5" x2="454.2" y2="457.5" stroke="#5563ee" stroke-width="2.1"/>
<text x="461.4" y="465" font-size="21" font-family="'Liberation Sans', Arial, Helvetica, sans-serif">RDF_O</text>
<line x1="407.4" y1="482.7" x2="454.2" y2="482.7" stroke="#ff7f0e" stroke-width="2.1"/>
<text x="461.4" y="490.2" font-size="21" font-family="'Liberation Sans', Arial, Helvetica, sans-serif">RDF_H</text>
<line x1="407.4" y1="508.3" x2="420.4" y2="508.3" stroke="#17a3ea" stroke-width="3"/>
<line x1="437.4" y1="508.3" x2="450.2" y2="508.3" stroke="#17a3ea" stroke-width="3"/>
<text x="461.4" y="515.8" font-size="21" font-family="'Liberation Sans', Arial, Helvetica, sans-serif">Num._O</text>
<line x1="407.4" y1="532.8" x2="420.4" y2="532.8" stroke="#ec7f35" stroke-width="3"/>
<line x1="437.4" y1="532.8" x2="450.2" y2="532.8" stroke="#ec7f35" stroke-width="3"/>
<text x="461.4" y="540.3" font-size="21" font-family="'Liberation Sans', Arial, Helvetica, sans-serif">Num._H</text>
<clipPath id="clipA2"><rect x="69.1" y="689" width="496.8" height="231.9"/></clipPath>
<rect x="67.7" y="687.6" width="499.6" height="231.9" fill="none" stroke="#000" stroke-width="2.8"/>
<g clip-path="url(#clipA2)" fill="none" stroke-linejoin="round">
<path d="M67.7,919.5 L176.11,919.5 L176.55,918.29 L176.98,917.02 L177.42,915.71 L177.85,914.35 L178.28,912.94 L178.72,911.49 L179.15,910 L179.59,908.46 L180.02,906.89 L180.46,905.27 L180.89,903.62 L181.33,901.93 L181.76,900.2 L182.19,898.44 L182.63,896.65 L183.06,894.83 L183.5,892.98 L183.93,891.1 L184.37,889.19 L184.8,887.25 L185.23,885.28 L185.67,883.13 L186.1,880.77 L186.54,878.23 L186.97,875.54 L187.41,872.72 L187.84,869.82 L188.27,866.86 L188.71,863.87 L189.14,860.89 L189.58,857.93 L190.01,855.04 L190.45,852.25 L190.88,849.57 L191.31,847.06 L191.75,844.72 L192.18,842.6 L192.62,840.73 L193.05,839.13 L193.49,837.84 L193.92,836.81 L194.35,835.83 L194.79,834.91 L195.22,834.03 L195.66,833.19 L196.09,832.4 L196.53,831.65 L196.96,830.93 L197.4,830.24 L197.83,829.59 L198.26,828.96 L198.7,828.36 L199.13,827.79 L199.57,827.23 L200,826.7 L200.44,826.18 L200.87,825.67 L201.3,825.18 L201.74,824.69 L202.17,824.21 L202.61,823.74 L203.04,823.26 L203.48,822.78 L203.91,822.3 L204.34,821.82 L204.78,821.35 L205.21,820.91 L205.65,820.47 L206.08,820.05 L206.52,819.65 L206.95,819.26 L207.38,818.88 L207.82,818.5 L208.25,818.14 L208.69,817.79 L209.12,817.44 L209.56,817.09 L209.99,816.75 L210.42,816.42 L210.86,816.08 L211.29,815.74 L211.73,815.4 L212.16,815.06 L212.6,814.72 L213.03,814.37 L213.47,814.02 L213.9,813.66 L214.33,813.28 L214.77,812.9 L215.2,812.51 L215.64,812.11 L216.07,811.69 L216.51,811.26 L216.94,810.81 L217.37,810.35 L217.81,809.87 L218.24,809.37 L218.68,808.87 L219.11,808.36 L219.55,807.84 L219.98,807.32 L220.41,806.78 L220.85,806.23 L221.28,805.68 L221.72,805.11 L222.15,804.53 L222.59,803.95 L223.02,803.35 L223.45,802.74 L223.89,802.12 L224.32,801.49 L224.76,800.85 L225.19,800.2 L225.63,799.54 L226.06,798.87 L226.49,798.18 L226.93,797.48 L227.36,796.77 L227.8,796.05 L228.23,795.32 L228.67,794.57 L229.1,793.81 L229.54,793.04 L229.97,792.25 L230.4,791.46 L230.84,790.64 L231.27,789.82 L231.71,788.98 L232.14,788.11 L232.58,787.2 L233.01,786.26 L233.44,785.28 L233.88,784.27 L234.31,783.23 L234.75,782.16 L235.18,781.06 L235.62,779.94 L236.05,778.8 L236.48,777.63 L236.92,776.44 L237.35,775.24 L237.79,774.02 L238.22,772.78 L238.66,771.53 L239.09,770.26 L239.52,768.99 L239.96,767.7 L240.39,766.41 L240.83,765.12 L241.26,763.82 L241.7,762.51 L242.13,761.21 L242.57,759.89 L243,758.54 L243.43,757.17 L243.87,755.77 L244.3,754.36 L244.74,752.92 L245.17,751.46 L245.61,749.99 L246.04,748.49 L246.47,746.99 L246.91,745.47 L247.34,743.94 L247.78,742.4 L248.21,740.85 L248.65,739.3 L249.08,737.74 L249.51,736.17 L249.95,734.6 L250.38,733.04 L250.82,731.47 L251.25,729.9 L251.69,728.34 L252.12,726.78 L252.55,725.23 L252.99,723.69 L253.42,722.15 L253.86,720.61 L254.29,719.07 L254.73,717.53 L255.16,715.98 L255.59,714.42 L256.03,712.85 L256.46,711.26 L256.9,709.66 L257.33,708.03 L257.77,706.39 L258.2,704.71 L258.64,703.01 L259.07,701.28 L259.5,699.52 L259.94,697.72 L260.37,695.86 L260.81,693.92 L261.24,691.92 L261.68,689.86 L262.11,687.78 L262.54,685.67" stroke="#ec7f35" stroke-width="3" stroke-dasharray="11,7"/>
<path d="M67.7,919.5 L216.08,919.5 L216.56,918.54 L217.04,917.57 L217.51,916.58 L217.99,915.57 L218.47,914.54 L218.94,913.49 L219.42,912.43 L219.9,911.35 L220.37,910.25 L220.85,909.13 L221.33,908 L221.81,906.84 L222.28,905.67 L222.76,904.48 L223.24,903.27 L223.71,902.05 L224.19,900.8 L224.67,899.54 L225.14,898.25 L225.62,896.92 L226.1,895.56 L226.58,894.17 L227.05,892.75 L227.53,891.31 L228.01,889.83 L228.48,888.34 L228.96,886.83 L229.44,885.29 L229.91,883.74 L230.39,882.18 L230.87,880.6 L231.35,879.01 L231.82,877.41 L232.3,875.8 L232.78,874.19 L233.25,872.58 L233.73,870.96 L234.21,869.35 L234.68,867.73 L235.16,866.13 L235.64,864.52 L236.12,862.93 L236.59,861.35 L237.07,859.77 L237.55,858.22 L238.02,856.68 L238.5,855.15 L238.98,853.63 L239.45,852.07 L239.93,850.49 L240.41,848.89 L240.89,847.27 L241.36,845.64 L241.84,844 L242.32,842.37 L242.79,840.74 L243.27,839.13 L243.75,837.53 L244.22,835.96 L244.7,834.41 L245.18,832.9 L245.66,831.43 L246.13,830 L246.61,828.62 L247.09,827.3 L247.56,826.04 L248.04,824.85 L248.52,823.73 L248.99,822.67 L249.47,821.64 L249.95,820.64 L250.43,819.66 L250.9,818.71 L251.38,817.79 L251.86,816.88 L252.33,816 L252.81,815.14 L253.29,814.3 L253.76,813.48 L254.24,812.67 L254.72,811.87 L255.2,811.09 L255.67,810.32 L256.15,809.56 L256.63,808.81 L257.1,808.07 L257.58,807.33 L258.06,806.6 L258.53,805.87 L259.01,805.14 L259.49,804.42 L259.97,803.69 L260.44,802.96 L260.92,802.23 L261.4,801.49 L261.87,800.75 L262.35,799.99 L262.83,799.24 L263.3,798.49 L263.78,797.77 L264.26,797.05 L264.74,796.35 L265.21,795.66 L265.69,794.98 L266.17,794.31 L266.64,793.64 L267.12,792.98 L267.6,792.32 L268.07,791.67 L268.55,791.01 L269.03,790.35 L269.51,789.7 L269.98,789.04 L270.46,788.37 L270.94,787.7 L271.41,787.01 L271.89,786.32 L272.37,785.62 L272.84,784.91 L273.32,784.18 L273.8,783.44 L274.28,782.68 L274.75,781.9 L275.23,781.1 L275.71,780.28 L276.18,779.44 L276.66,778.58 L277.14,777.68 L277.61,776.76 L278.09,775.8 L278.57,774.82 L279.05,773.81 L279.52,772.78 L280,771.73 L280.48,770.65 L280.95,769.56 L281.43,768.44 L281.91,767.31 L282.38,766.17 L282.86,765.01 L283.34,763.84 L283.82,762.66 L284.29,761.48 L284.77,760.28 L285.25,759.09 L285.72,757.88 L286.2,756.68 L286.68,755.48 L287.15,754.27 L287.63,753.07 L288.11,751.88 L288.59,750.69 L289.06,749.51 L289.54,748.34 L290.02,747.18 L290.49,746.03 L290.97,744.89 L291.45,743.78 L291.92,742.68 L292.4,741.59 L292.88,740.51 L293.36,739.44 L293.83,738.38 L294.31,737.32 L294.79,736.26 L295.26,735.2 L295.74,734.14 L296.22,733.07 L296.7,732 L297.17,730.91 L297.65,729.82 L298.13,728.71 L298.6,727.59 L299.08,726.45 L299.56,725.29 L300.03,724.11 L300.51,722.9 L300.99,721.67 L301.47,720.41 L301.94,719.12 L302.42,717.79 L302.9,716.43 L303.37,715.04 L303.85,713.6 L304.33,712.12 L304.8,710.56 L305.28,708.94 L305.76,707.25 L306.24,705.5 L306.71,703.69 L307.19,701.84 L307.67,699.93 L308.14,697.99 L308.62,696 L309.1,693.98 L309.57,691.94 L310.05,689.87 L310.53,687.77 L311.01,685.67" stroke="#17a3ea" stroke-width="3" stroke-dasharray="11,7"/>
<path d="M67.7,919.5 L68.7,919.5 L69.7,919.5 L70.7,919.5 L71.7,919.5 L72.71,919.5 L73.71,919.5 L74.71,919.5 L75.71,919.5 L76.71,919.5 L77.71,919.5 L78.71,919.5 L79.71,919.5 L80.72,919.5 L81.72,919.5 L82.72,919.5 L83.72,919.5 L84.72,919.5 L85.72,919.5 L86.72,919.5 L87.72,919.5 L88.73,919.5 L89.73,919.5 L90.73,919.5 L91.73,919.5 L92.73,919.5 L93.73,919.5 L94.73,919.5 L95.73,919.5 L96.73,919.5 L97.74,919.5 L98.74,919.5 L99.74,919.5 L100.74,919.5 L101.74,919.5 L102.74,919.5 L103.74,919.5 L104.74,919.5 L105.75,919.5 L106.75,919.5 L107.75,919.5 L108.75,919.5 L109.75,919.5 L110.75,919.5 L111.75,919.5 L112.75,919.5 L113.76,919.5 L114.76,919.5 L115.76,919.5 L116.76,919.5 L117.76,919.5 L118.76,919.5 L119.76,919.5 L120.76,919.5 L121.76,919.5 L122.77,919.5 L123.77,919.5 L124.77,919.5 L125.77,919.5 L126.77,919.5 L127.77,919.5 L128.77,919.5 L129.77,919.5 L130.78,919.5 L131.78,919.5 L132.78,919.5 L133.78,919.5 L134.78,919.5 L135.78,919.5 L136.78,919.5 L137.78,919.5 L138.79,919.5 L139.79,919.5 L140.79,919.5 L141.79,919.5 L142.79,919.5 L143.79,919.5 L144.79,919.5 L145.79,919.5 L146.79,919.5 L147.8,919.5 L148.8,919.5 L149.8,919.5 L150.8,919.5 L151.8,919.5 L152.8,919.5 L153.8,919.5 L154.8,919.5 L155.81,919.5 L156.81,919.5 L157.81,919.5 L158.81,919.5 L159.81,919.5 L160.81,919.5 L161.81,919.5 L162.81,919.5 L163.82,919.5 L164.82,919.5 L165.82,919.5 L166.82,919.5 L167.82,919.5 L168.82,919.5 L169.82,919.5 L170.82,919.5 L171.83,919.5 L172.83,919.5 L173.83,919.5 L174.83,919.5 L175.83,919.5 L176.83,919.5 L177.83,919.5 L178.83,919.5 L179.83,919.5 L180.84,919.5 L181.84,919.5 L182.84,919.5 L183.84,919.5 L184.84,919.5 L185.84,919.5 L186.84,919.5 L187.84,919.5 L188.85,919.5 L189.85,919.5 L190.85,919.5 L191.85,919.5 L192.85,919.5 L193.85,919.5 L194.85,919.5 L195.85,919.5 L196.86,919.5 L197.86,919.5 L198.86,919.5 L199.86,919.5 L200.86,919.5 L201.86,919.5 L202.86,919.5 L203.86,919.5 L204.86,919.5 L205.87,919.5 L206.87,919.5 L207.87,919.44 L208.87,919.2 L209.87,918.78 L210.87,918.22 L211.87,917.53 L212.87,916.72 L213.88,915.83 L214.88,914.58 L215.88,912.46 L216.88,909.6 L217.88,906.15 L218.88,902.24 L219.88,898.04 L220.88,893.68 L221.89,888.77 L222.89,882.52 L223.89,875.27 L224.89,867.41 L225.89,859.34 L226.89,851.43 L227.89,844.08 L228.89,837.68 L229.89,832.49 L230.9,827.36 L231.9,822.31 L232.9,817.9 L233.9,814.7 L234.9,813.24 L235.9,813.21 L236.9,813.21 L237.9,813.21 L238.91,813.21 L239.91,813.21 L240.91,813.78 L241.91,815.76 L242.91,818.85 L243.91,822.75 L244.91,827.15 L245.91,831.73 L246.92,836.19 L247.92,840.98 L248.92,846.99 L249.92,853.81 L250.92,860.98 L251.92,868.06 L252.92,874.59 L253.92,880.14 L254.92,884.24 L255.93,886.6 L256.93,888.4 L257.93,889.99 L258.93,891.37 L259.93,892.52 L260.93,893.44 L261.93,894.1 L262.93,894.52 L263.94,894.87 L264.94,895.18 L265.94,895.45 L266.94,895.67 L267.94,895.82 L268.94,895.91 L269.94,895.89 L270.94,895.56 L271.95,894.93 L272.95,894.11 L273.95,893.18 L274.95,892.23 L275.95,891.34 L276.95,890.6 L277.95,889.83 L278.95,889.02 L279.95,888.2 L280.96,887.38 L281.96,886.58 L282.96,885.84 L283.96,885.17 L284.96,884.59 L285.96,884.14 L286.96,883.81 L287.96,883.53 L288.97,883.28 L289.97,883.05 L290.97,882.84 L291.97,882.65 L292.97,882.48 L293.97,882.31 L294.97,882.16 L295.97,882.01 L296.98,881.87 L297.98,881.73 L298.98,881.59 L299.98,881.44 L300.98,881.29 L301.98,881.12 L302.98,880.95 L303.98,880.76 L304.98,880.56 L305.99,880.35 L306.99,880.13 L307.99,879.03 L308.99,879.21 L309.99,879.03 L310.99,878.78 L311.99,878.78 L312.99,878.71 L314,878 L315,877.79 L316,878.05 L317,878.18 L318,877.79 L319,877.76 L320,877.63 L321,877.09 L322.01,876.96 L323.01,876.87 L324.01,877.1 L325.01,877.46 L326.01,876.87 L327.01,876.35 L328.01,876.21 L329.01,876.1 L330.02,875.64 L331.02,875.97 L332.02,875.98 L333.02,876 L334.02,876 L335.02,876.43 L336.02,876.77 L337.02,876.59 L338.02,876.57 L339.03,876.54 L340.03,876.81 L341.03,876.72 L342.03,876.84 L343.03,876.52 L344.03,876.73 L345.03,876.71 L346.03,877.45 L347.04,877.8 L348.04,878.38 L349.04,878.29 L350.04,878.51 L351.04,878.3 L352.04,878.02 L353.04,878.15 L354.04,878.49 L355.05,878.33 L356.05,878.78 L357.05,879.61 L358.05,879.94 L359.05,879.69 L360.05,879.46 L361.05,879.27 L362.05,878.94 L363.05,878.91 L364.06,879.18 L365.06,879.94 L366.06,880.09 L367.06,880.28 L368.06,881.01 L369.06,881.62 L370.06,881.65 L371.06,881.89 L372.07,882.28 L373.07,882.05 L374.07,882.02 L375.07,881.96 L376.07,882.21 L377.07,881.98 L378.07,882.48 L379.07,882.99 L380.08,883.46 L381.08,883.95 L382.08,885.13 L383.08,885.55 L384.08,885.37 L385.08,885.81 L386.08,886.14 L387.08,885.39 L388.08,885.08 L389.09,885.47 L390.09,885.66 L391.09,885.31 L392.09,886.02 L393.09,886.08 L394.09,886.13 L395.09,885.86 L396.09,885.75 L397.1,885.67 L398.1,885.63 L399.1,885.57 L400.1,885.1 L401.1,884.64 L402.1,883.83 L403.1,883.88 L404.1,882.84 L405.11,882.64 L406.11,882.5 L407.11,882.39 L408.11,881.56 L409.11,881.39 L410.11,881.02 L411.11,880.68 L412.11,880.23 L413.11,879.71 L414.12,880.19 L415.12,880.43 L416.12,880.91 L417.12,881.57 L418.12,881.73 L419.12,881.33 L420.12,880.91 L421.12,880.2 L422.13,879.51 L423.13,879.18 L424.13,878.66 L425.13,878.78 L426.13,878.38 L427.13,878.09 L428.13,878.55 L429.13,878.88 L430.14,878.69 L431.14,879.47 L432.14,879.66 L433.14,879.79 L434.14,879.73 L435.14,879.8 L436.14,879.33 L437.14,879.02 L438.14,878.44 L439.15,878.57 L440.15,878.13 L441.15,877.77 L442.15,877.64 L443.15,877.82 L444.15,877.24 L445.15,877.3 L446.15,877.61 L447.16,877.54 L448.16,877.15 L449.16,877.31 L450.16,877.28 L451.16,877.7 L452.16,878 L453.16,878.13 L454.16,878.48 L455.17,878.2 L456.17,877.83 L457.17,877.66 L458.17,877.65 L459.17,877.96 L460.17,878.8 L461.17,879.07 L462.17,879.68 L463.17,879.95 L464.18,880.05 L465.18,880.22 L466.18,879.64 L467.18,879.68 L468.18,879.84 L469.18,879.25 L470.18,878.97 L471.18,880.21 L472.19,880.13 L473.19,880.41 L474.19,880.64 L475.19,881.19 L476.19,880.54 L477.19,880.48 L478.19,879.96 L479.19,879.99 L480.2,879.28 L481.2,879.35 L482.2,879.6 L483.2,880.28 L484.2,880.3 L485.2,880.16 L486.2,880.02 L487.2,880.27 L488.21,880.41 L489.21,880.83 L490.21,880.86 L491.21,881 L492.21,881.06 L493.21,880.81 L494.21,880.48 L495.21,881.12 L496.21,881.33 L497.22,881.25 L498.22,881.43 L499.22,881.17 L500.22,881.25 L501.22,881.09 L502.22,880.67 L503.22,880.5 L504.22,881.17 L505.23,881.03 L506.23,881.14 L507.23,881.55 L508.23,881.68 L509.23,881.7 L510.23,881.66 L511.23,881.21 L512.23,881.29 L513.24,880.98 L514.24,880.94 L515.24,881.24 L516.24,882.03 L517.24,881.83 L518.24,882.39 L519.24,882.21 L520.24,882.02 L521.24,881.23 L522.25,881.55 L523.25,880.86 L524.25,880.55 L525.25,880.18 L526.25,880.72 L527.25,880.27 L528.25,880.46 L529.25,880.8 L530.26,880.7 L531.26,880.5 L532.26,880.45 L533.26,880.12 L534.26,880.03 L535.26,880.29 L536.26,880.15 L537.26,880.27 L538.27,881.12 L539.27,881.17 L540.27,881.06 L541.27,881.38 L542.27,881.7 L543.27,880.92 L544.27,880.92 L545.27,880.68 L546.27,880.23 L547.28,879.31 L548.28,879.28 L549.28,878.86 L550.28,878.68 L551.28,878.91 L552.28,879.03 L553.28,878.89 L554.28,879.64 L555.29,880.33 L556.29,880.23 L557.29,880.1 L558.29,880.56 L559.29,880.47 L560.29,880.66 L561.29,880.67 L562.29,881.13 L563.3,881.28 L564.3,880.92 L565.3,880.67 L566.3,880.84 L567.3,880.99" stroke="#5563ee" stroke-width="2.1"/>
<path d="M67.7,919.5 L68.7,919.5 L69.7,919.5 L70.7,919.5 L71.7,919.5 L72.71,919.5 L73.71,919.5 L74.71,919.5 L75.71,919.5 L76.71,919.5 L77.71,919.5 L78.71,919.5 L79.71,919.5 L80.72,919.5 L81.72,919.5 L82.72,919.5 L83.72,919.5 L84.72,919.5 L85.72,919.5 L86.72,919.5 L87.72,919.5 L88.73,919.5 L89.73,919.5 L90.73,919.5 L91.73,919.5 L92.73,919.5 L93.73,919.5 L94.73,919.5 L95.73,919.5 L96.73,919.5 L97.74,919.5 L98.74,919.5 L99.74,919.5 L100.74,919.5 L101.74,919.5 L102.74,919.5 L103.74,919.5 L104.74,919.5 L105.75,919.5 L106.75,919.5 L107.75,919.5 L108.75,919.5 L109.75,919.5 L110.75,919.5 L111.75,919.5 L112.75,919.5 L113.76,919.5 L114.76,919.5 L115.76,919.5 L116.76,919.5 L117.76,919.5 L118.76,919.5 L119.76,919.5 L120.76,919.5 L121.76,919.5 L122.77,919.5 L123.77,919.5 L124.77,919.5 L125.77,919.5 L126.77,919.5 L127.77,919.5 L128.77,919.5 L129.77,919.5 L130.78,919.5 L131.78,919.5 L132.78,919.5 L133.78,919.5 L134.78,919.5 L135.78,919.5 L136.78,919.5 L137.78,919.5 L138.79,919.5 L139.79,919.5 L140.79,919.5 L141.79,919.5 L142.79,919.5 L143.79,919.5 L144.79,919.5 L145.79,919.5 L146.79,919.5 L147.8,919.5 L148.8,919.5 L149.8,919.5 L150.8,919.5 L151.8,919.5 L152.8,919.5 L153.8,919.5 L154.8,919.5 L155.81,919.5 L156.81,919.5 L157.81,919.5 L158.81,919.5 L159.81,919.5 L160.81,919.5 L161.81,919.5 L162.81,919.5 L163.82,919.5 L164.82,919.5 L165.82,919.5 L166.82,919.5 L167.82,919.5 L168.82,919.5 L169.82,919.31 L170.82,918.45 L171.83,917.06 L172.83,915.27 L173.83,913.22 L174.83,909.79 L175.83,904.76 L176.83,898.57 L177.83,891.65 L178.83,884.44 L179.83,877.27 L180.84,868.28 L181.84,857.46 L182.84,845.97 L183.84,835.01 L184.84,825.73 L185.84,819.31 L186.84,816.8 L187.84,815.77 L188.85,814.98 L189.85,814.49 L190.85,814.39 L191.85,814.84 L192.85,815.78 L193.85,817.09 L194.85,818.62 L195.85,820.64 L196.86,823.94 L197.86,828.26 L198.86,833.33 L199.86,838.87 L200.86,844.59 L201.86,850.22 L202.86,856.09 L203.86,863.15 L204.86,870.86 L205.87,878.58 L206.87,885.72 L207.87,891.63 L208.87,895.72 L209.87,898.17 L210.87,900.4 L211.87,902.4 L212.87,904.1 L213.88,905.44 L214.88,906.34 L215.88,906.73 L216.88,906.66 L217.88,906.32 L218.88,905.76 L219.88,905.02 L220.88,904.12 L221.89,903.1 L222.89,902 L223.89,900.86 L224.89,899.7 L225.89,898.56 L226.89,897.47 L227.89,896.48 L228.89,895.55 L229.89,894.6 L230.9,893.64 L231.9,892.66 L232.9,891.67 L233.9,890.67 L234.9,889.67 L235.9,888.67 L236.9,887.68 L237.9,886.69 L238.91,885.72 L239.91,884.77 L240.91,883.83 L241.91,882.92 L242.91,882.01 L243.91,881.07 L244.91,880.11 L245.91,879.14 L246.92,878.17 L247.92,877.21 L248.92,876.27 L249.92,875.37 L250.92,874.51 L251.92,873.7 L252.92,872.96 L253.92,872.3 L254.92,871.72 L255.93,871.24 L256.93,870.82 L257.93,870.4 L258.93,870.01 L259.93,869.68 L260.93,869.43 L261.93,869.28 L262.93,869.27 L263.94,869.42 L264.94,869.72 L265.94,870.13 L266.94,870.64 L267.94,871.22 L268.94,871.84 L269.94,872.48 L270.94,873.11 L271.95,873.7 L272.95,874.24 L273.95,874.76 L274.95,875.36 L275.95,876 L276.95,876.65 L277.95,877.28 L278.95,877.85 L279.95,878.33 L280.96,878.68 L281.96,878.88 L282.96,878.92 L283.96,878.92 L284.96,878.92 L285.96,878.92 L286.96,878.92 L287.96,878.92 L288.97,878.92 L289.97,878.92 L290.97,878.92 L291.97,878.92 L292.97,878.92 L293.97,878.92 L294.97,878.92 L295.97,878.92 L296.98,878.92 L297.98,878.89 L298.98,878.65 L299.98,878.23 L300.98,877.72 L301.98,877.18 L302.98,876.7 L303.98,876.35 L304.98,876.21 L305.99,876.24 L306.99,876.34 L307.99,876 L308.99,876.53 L309.99,876.63 L310.99,876.9 L311.99,876.86 L312.99,877.86 L314,877.84 L315,878.43 L316,878.81 L317,879.14 L318,878.97 L319,879.43 L320,880.29 L321,880.13 L322.01,880.53 L323.01,880.89 L324.01,881 L325.01,880.82 L326.01,881.17 L327.01,881.06 L328.01,881.27 L329.01,881.72 L330.02,882.08 L331.02,882.54 L332.02,882.51 L333.02,882.74 L334.02,882.82 L335.02,882.7 L336.02,882.2 L337.02,883.02 L338.02,883.39 L339.03,883.15 L340.03,883.08 L341.03,883.44 L342.03,883.53 L343.03,883.54 L344.03,884.47 L345.03,884.79 L346.03,885.12 L347.04,884.98 L348.04,884.59 L349.04,883.89 L350.04,883.73 L351.04,883.23 L352.04,882.44 L353.04,882.82 L354.04,882.4 L355.05,882.25 L356.05,882.68 L357.05,883.15 L358.05,882.68 L359.05,882.78 L360.05,882.69 L361.05,882.15 L362.05,881.97 L363.05,882.06 L364.06,882.23 L365.06,881.93 L366.06,882.55 L367.06,882.43 L368.06,882.57 L369.06,882.09 L370.06,882.57 L371.06,882.6 L372.07,882.53 L373.07,882.06 L374.07,882.79 L375.07,882.38 L376.07,881.69 L377.07,882.11 L378.07,882.24 L379.07,881.99 L380.08,881.85 L381.08,881.63 L382.08,881.49 L383.08,881.77 L384.08,881.53 L385.08,882.34 L386.08,882.86 L387.08,882.76 L388.08,882.07 L389.09,881.78 L390.09,881.2 L391.09,881.26 L392.09,881.16 L393.09,881.74 L394.09,882.42 L395.09,882.55 L396.09,882.66 L397.1,882.87 L398.1,883.75 L399.1,882.96 L400.1,882.99 L401.1,882.87 L402.1,882.87 L403.1,882.38 L404.1,882.76 L405.11,882.2 L406.11,881.78 L407.11,881.64 L408.11,881.17 L409.11,881.04 L410.11,881.44 L411.11,881.62 L412.11,881.46 L413.11,881.29 L414.12,881.41 L415.12,881.17 L416.12,881.28 L417.12,881.73 L418.12,882.27 L419.12,881.98 L420.12,882.21 L421.12,881.85 L422.13,881.51 L423.13,881.04 L424.13,881.03 L425.13,881.15 L426.13,881.25 L427.13,880.58 L428.13,879.9 L429.13,879.84 L430.14,879.34 L431.14,879.27 L432.14,879.9 L433.14,880.16 L434.14,879.82 L435.14,879.7 L436.14,879.35 L437.14,879.21 L438.14,879.08 L439.15,879.3 L440.15,879.57 L441.15,879.41 L442.15,879.43 L443.15,880.01 L444.15,880.06 L445.15,880.19 L446.15,880.79 L447.16,880.44 L448.16,880.17 L449.16,880.39 L450.16,879.99 L451.16,879.73 L452.16,879.75 L453.16,879.64 L454.16,879.36 L455.17,879.89 L456.17,879.76 L457.17,880.03 L458.17,880.2 L459.17,880.47 L460.17,880.03 L461.17,880.36 L462.17,880.55 L463.17,880.56 L464.18,880.71 L465.18,881.26 L466.18,881.3 L467.18,881.27 L468.18,881.53 L469.18,881.48 L470.18,881.35 L471.18,881.49 L472.19,880.62 L473.19,880.76 L474.19,880.61 L475.19,880.36 L476.19,880.32 L477.19,881.23 L478.19,881.26 L479.19,881.66 L480.2,881.25 L481.2,881.35 L482.2,881.42 L483.2,880.85 L484.2,880.87 L485.2,880.92 L486.2,880.63 L487.2,880.01 L488.21,880.49 L489.21,880.29 L490.21,880.44 L491.21,880.52 L492.21,881.09 L493.21,880.61 L494.21,880.47 L495.21,880.94 L496.21,880.89 L497.22,880.61 L498.22,880.98 L499.22,880.4 L500.22,880.08 L501.22,880.16 L502.22,880.31 L503.22,880.06 L504.22,880.88 L505.23,881.18 L506.23,881.23 L507.23,881.43 L508.23,881.85 L509.23,882.55 L510.23,882.71 L511.23,882.81 L512.23,882.52 L513.24,882.71 L514.24,881.97 L515.24,881.9 L516.24,881.86 L517.24,881.64 L518.24,880.98 L519.24,880.52 L520.24,880.69 L521.24,880.91 L522.25,881.2 L523.25,881.86 L524.25,882.04 L525.25,880.81 L526.25,880.84 L527.25,880.71 L528.25,880.33 L529.25,880.38 L530.26,881.29 L531.26,881.4 L532.26,881.75 L533.26,881.98 L534.26,882.43 L535.26,882.37 L536.26,881.8 L537.26,881.89 L538.27,881.45 L539.27,881.04 L540.27,880.85 L541.27,880.79 L542.27,880.67 L543.27,880.18 L544.27,880.04 L545.27,879.91 L546.27,880.09 L547.28,879.92 L548.28,880.33 L549.28,880.7 L550.28,880.88 L551.28,880.38 L552.28,880.46 L553.28,880.64 L554.28,880.73 L555.29,880.76 L556.29,881.07 L557.29,880.99 L558.29,880.89 L559.29,880.67 L560.29,880.76 L561.29,880.56 L562.29,880.32 L563.3,880.38 L564.3,879.81 L565.3,879.76 L566.3,880.05 L567.3,880.3" stroke="#ff7f0e" stroke-width="2.1"/>
</g>
<line x1="59.7" y1="919.5" x2="67.7" y2="919.5" stroke="#000" stroke-width="2.6"/>
<line x1="63.7" y1="880.85" x2="67.7" y2="880.85" stroke="#000" stroke-width="2.6"/>
<line x1="59.7" y1="842.2" x2="67.7" y2="842.2" stroke="#000" stroke-width="2.6"/>
<line x1="63.7" y1="803.55" x2="67.7" y2="803.55" stroke="#000" stroke-width="2.6"/>
<line x1="59.7" y1="764.9" x2="67.7" y2="764.9" stroke="#000" stroke-width="2.6"/>
<line x1="63.7" y1="726.25" x2="67.7" y2="726.25" stroke="#000" stroke-width="2.6"/>
<line x1="59.7" y1="687.6" x2="67.7" y2="687.6" stroke="#000" stroke-width="2.6"/>
<line x1="67.7" y1="919.5" x2="67.7" y2="927.5" stroke="#000" stroke-width="2.6"/>
<line x1="117.66" y1="919.5" x2="117.66" y2="924" stroke="#000" stroke-width="2.6"/>
<line x1="167.62" y1="919.5" x2="167.62" y2="927.5" stroke="#000" stroke-width="2.6"/>
<line x1="217.58" y1="919.5" x2="217.58" y2="924" stroke="#000" stroke-width="2.6"/>
<line x1="267.54" y1="919.5" x2="267.54" y2="927.5" stroke="#000" stroke-width="2.6"/>
<line x1="317.5" y1="919.5" x2="317.5" y2="924" stroke="#000" stroke-width="2.6"/>
<line x1="367.46" y1="919.5" x2="367.46" y2="927.5" stroke="#000" stroke-width="2.6"/>
<line x1="417.42" y1="919.5" x2="417.42" y2="924" stroke="#000" stroke-width="2.6"/>
<line x1="467.38" y1="919.5" x2="467.38" y2="927.5" stroke="#000" stroke-width="2.6"/>
<line x1="517.34" y1="919.5" x2="517.34" y2="924" stroke="#000" stroke-width="2.6"/>
<line x1="567.3" y1="919.5" x2="567.3" y2="927.5" stroke="#000" stroke-width="2.6"/>
<line x1="567.3" y1="919.5" x2="575.3" y2="919.5" stroke="#000" stroke-width="2.6"/>
<line x1="567.3" y1="880.85" x2="571.8" y2="880.85" stroke="#000" stroke-width="2.6"/>
<line x1="567.3" y1="842.2" x2="575.3" y2="842.2" stroke="#000" stroke-width="2.6"/>
<line x1="567.3" y1="803.55" x2="571.8" y2="803.55" stroke="#000" stroke-width="2.6"/>
<line x1="567.3" y1="764.9" x2="575.3" y2="764.9" stroke="#000" stroke-width="2.6"/>
<line x1="567.3" y1="726.25" x2="571.8" y2="726.25" stroke="#000" stroke-width="2.6"/>
<line x1="567.3" y1="687.6" x2="575.3" y2="687.6" stroke="#000" stroke-width="2.6"/>
<text x="53.7" y="928.3" font-size="25" font-family="'Liberation Sans', Arial, Helvetica, sans-serif" text-anchor="end">0</text>
<text x="53.7" y="851" font-size="25" font-family="'Liberation Sans', Arial, Helvetica, sans-serif" text-anchor="end">2</text>
<text x="53.7" y="773.7" font-size="25" font-family="'Liberation Sans', Arial, Helvetica, sans-serif" text-anchor="end">4</text>
<text x="53.7" y="696.4" font-size="25" font-family="'Liberation Sans', Arial, Helvetica, sans-serif" text-anchor="end">6</text>
<text x="67.7" y="952.7" font-size="25" font-family="'Liberation Sans', Arial, Helvetica, sans-serif" text-anchor="middle">0</text>
<text x="167.62" y="952.7" font-size="25" font-family="'Liberation Sans', Arial, Helvetica, sans-serif" text-anchor="middle">2</text>
<text x="267.54" y="952.7" font-size="25" font-family="'Liberation Sans', Arial, Helvetica, sans-serif" text-anchor="middle">4</text>
<text x="367.46" y="952.7" font-size="25" font-family="'Liberation Sans', Arial, Helvetica, sans-serif" text-anchor="middle">6</text>
<text x="467.38" y="952.7" font-size="25" font-family="'Liberation Sans', Arial, Helvetica, sans-serif" text-anchor="middle">8</text>
<text x="567.3" y="952.7" font-size="25" font-family="'Liberation Sans', Arial, Helvetica, sans-serif" text-anchor="middle">10</text>
<text x="581.3" y="928.3" font-size="25" font-family="'Liberation Sans', Arial, Helvetica, sans-serif">0</text>
<text x="581.3" y="851" font-size="25" font-family="'Liberation Sans', Arial, Helvetica, sans-serif">5</text>
<text x="581.3" y="773.7" font-size="25" font-family="'Liberation Sans', Arial, Helvetica, sans-serif">10</text>
<text x="581.3" y="696.4" font-size="25" font-family="'Liberation Sans', Arial, Helvetica, sans-serif">15</text>
<text x="26" y="803.55" font-size="24" font-family="'Liberation Sans', Arial, Helvetica, sans-serif" text-anchor="middle" transform="rotate(-90 26 803.55)">RDF</text>
<text x="640" y="803.55" font-size="24" font-family="'Liberation Sans', Arial, Helvetica, sans-serif" text-anchor="middle" transform="rotate(-90 640 803.55)">Number of atoms</text>
<text x="317.5" y="980.5" font-size="25" font-family="'Liberation Sans', Arial, Helvetica, sans-serif" text-anchor="middle">r (Å)</text>
<text x="111.3" y="732.9" font-size="27" font-family="'Liberation Sans', Arial, Helvetica, sans-serif">-CO<tspan dy="5.94" font-size="18.9">2</tspan><tspan dy="-5.94">H</tspan></text>
<line x1="406.8" y1="775.4" x2="453.6" y2="775.4" stroke="#5563ee" stroke-width="2.1"/>
<text x="460.8" y="782.9" font-size="21" font-family="'Liberation Sans', Arial, Helvetica, sans-serif">RDF_O</text>
<line x1="406.8" y1="801.3" x2="453.6" y2="801.3" stroke="#ff7f0e" stroke-width="2.1"/>
<text x="460.8" y="808.8" font-size="21" font-family="'Liberation Sans', Arial, Helvetica, sans-serif">RDF_H</text>
<line x1="406.8" y1="826.6" x2="419.8" y2="826.6" stroke="#17a3ea" stroke-width="3"/>
<line x1="436.8" y1="826.6" x2="449.6" y2="826.6" stroke="#17a3ea" stroke-width="3"/>
<text x="460.8" y="834.1" font-size="21" font-family="'Liberation Sans', Arial, Helvetica, sans-serif">Num._O</text>
<line x1="406.8" y1="851.4" x2="419.8" y2="851.4" stroke="#ec7f35" stroke-width="3"/>
<line x1="436.8" y1="851.4" x2="449.6" y2="851.4" stroke="#ec7f35" stroke-width="3"/>
<text x="460.8" y="858.9" font-size="21" font-family="'Liberation Sans', Arial, Helvetica, sans-serif">Num._H</text>
<text x="845.6" y="101" font-size="28" font-family="'Liberation Sans', Arial, Helvetica, sans-serif" text-anchor="middle">Sufficient and strong</text>
<text x="845.7" y="134.6" font-size="28" font-family="'Liberation Sans', Arial, Helvetica, sans-serif" text-anchor="middle">adsorption</text>
<path d="M761.25,265.8 A79,85.4 0 0 1 919.25,265.8 Z" fill="#dfeefb"/>
<rect x="723.2" y="265.6" width="248.8" height="23.4" fill="url(#patSub)"/>
<rect x="723.2" y="265.6" width="248.8" height="23.4" fill="url(#gSubFade)"/>
<circle cx="775" cy="247" r="2.3" fill="url(#gWH)" stroke="#777" stroke-width="0.5"/><circle cx="774.5" cy="255.6" r="2.3" fill="url(#gWH)" stroke="#777" stroke-width="0.5"/><circle cx="778.1" cy="251.3" r="3.7" fill="url(#gWO)"/>
<circle cx="788.9" cy="223" r="2.3" fill="url(#gWH)" stroke="#777" stroke-width="0.5"/><circle cx="785.1" cy="230.5" r="2.3" fill="url(#gWH)" stroke="#777" stroke-width="0.5"/><circle cx="784.2" cy="225.4" r="3.7" fill="url(#gWO)"/>
<circle cx="801.8" cy="206" r="2.3" fill="url(#gWH)" stroke="#777" stroke-width="0.5"/><circle cx="803.2" cy="214.3" r="2.3" fill="url(#gWH)" stroke="#777" stroke-width="0.5"/><circle cx="805.8" cy="209.5" r="3.7" fill="url(#gWO)"/>
<circle cx="823.2" cy="197.4" r="2.3" fill="url(#gWH)" stroke="#777" stroke-width="0.5"/><circle cx="832.1" cy="197.7" r="2.3" fill="url(#gWH)" stroke="#777" stroke-width="0.5"/><circle cx="827.4" cy="200.5" r="3.7" fill="url(#gWO)"/>
<circle cx="852.4" cy="197" r="2.3" fill="url(#gWH)" stroke="#777" stroke-width="0.5"/><circle cx="860.6" cy="201.2" r="2.3" fill="url(#gWH)" stroke="#777" stroke-width="0.5"/><circle cx="855" cy="201.7" r="3.7" fill="url(#gWO)"/>
<circle cx="879.2" cy="207.7" r="2.3" fill="url(#gWH)" stroke="#777" stroke-width="0.5"/><circle cx="884.4" cy="214.6" r="2.3" fill="url(#gWH)" stroke="#777" stroke-width="0.5"/><circle cx="879.6" cy="212.9" r="3.7" fill="url(#gWO)"/>
<circle cx="899.1" cy="227.3" r="2.3" fill="url(#gWH)" stroke="#777" stroke-width="0.5"/><circle cx="899.1" cy="235.9" r="2.3" fill="url(#gWH)" stroke="#777" stroke-width="0.5"/><circle cx="902.6" cy="231.6" r="3.7" fill="url(#gWO)"/>
<circle cx="908.6" cy="247.4" r="2.3" fill="url(#gWH)" stroke="#777" stroke-width="0.5"/><circle cx="910.7" cy="255.6" r="2.3" fill="url(#gWH)" stroke="#777" stroke-width="0.5"/><circle cx="906.4" cy="252.1" r="3.7" fill="url(#gWO)"/>
<line x1="837.6" y1="254.4" x2="837.6" y2="266.5" stroke="#000" stroke-width="2"/>
<circle cx="837.6" cy="244.9" r="10.4" fill="url(#gGlow)"/><circle cx="837.1" cy="234.2" r="4.3" fill="url(#gAO)"/><circle cx="828.6" cy="249.5" r="4.3" fill="url(#gAO)"/><circle cx="846.4" cy="249.5" r="4.3" fill="url(#gAO)"/>
<line x1="926.2" y1="182" x2="956.5" y2="182" stroke="#000" stroke-width="2.4"/>
<line x1="926.2" y1="266.1" x2="956.5" y2="266.1" stroke="#000" stroke-width="2.4"/>
<line x1="941.4" y1="203.4" x2="941.4" y2="191" stroke="#000" stroke-width="3"/>
<path d="M936.1,194.5 L941.4,184 L946.7,194.5Z" fill="#000"/>
<line x1="941.4" y1="243.2" x2="941.4" y2="257.1" stroke="#000" stroke-width="3"/>
<path d="M936.1,253.6 L941.4,264.1 L946.7,253.6Z" fill="#000"/>
<text x="946.3" y="229" font-size="18" font-family="'Liberation Sans', Arial, Helvetica, sans-serif" text-anchor="middle">4.3 <tspan font-family="'Liberation Serif', 'Times New Roman', serif">Å</tspan></text>
<text x="850.4" y="425.3" font-size="28" font-family="'Liberation Sans', Arial, Helvetica, sans-serif" text-anchor="middle">Sufficient and strong</text>
<text x="850.5" y="459" font-size="28" font-family="'Liberation Sans', Arial, Helvetica, sans-serif" text-anchor="middle">adsorption</text>
<path d="M770.2,566.5 A67.9,73.8 0 0 1 906,566.5 Z" fill="#dfeefb"/>
<rect x="718" y="566.6" width="248" height="24.2" fill="url(#patSub)"/>
<rect x="718" y="566.6" width="248" height="24.2" fill="url(#gSubFade)"/>
<circle cx="777.6" cy="551.1" r="2.3" fill="url(#gWH)" stroke="#777" stroke-width="0.5"/><circle cx="777.1" cy="560.2" r="2.3" fill="url(#gWH)" stroke="#777" stroke-width="0.5"/><circle cx="780.2" cy="555.9" r="3.7" fill="url(#gWO)"/>
<circle cx="789.7" cy="527.2" r="2.3" fill="url(#gWH)" stroke="#777" stroke-width="0.5"/><circle cx="785.1" cy="534.8" r="2.3" fill="url(#gWH)" stroke="#777" stroke-width="0.5"/><circle cx="790.1" cy="532.7" r="3.7" fill="url(#gWO)"/>
<circle cx="808.7" cy="508.4" r="2.3" fill="url(#gWH)" stroke="#777" stroke-width="0.5"/><circle cx="802.3" cy="514.4" r="2.3" fill="url(#gWH)" stroke="#777" stroke-width="0.5"/><circle cx="807.9" cy="513.9" r="3.7" fill="url(#gWO)"/>
<circle cx="834.8" cy="502.7" r="2.3" fill="url(#gWH)" stroke="#777" stroke-width="0.5"/><circle cx="843.5" cy="502.7" r="2.3" fill="url(#gWH)" stroke="#777" stroke-width="0.5"/><circle cx="839" cy="505.8" r="3.7" fill="url(#gWO)"/>
<circle cx="870.6" cy="507.9" r="2.3" fill="url(#gWH)" stroke="#777" stroke-width="0.5"/><circle cx="873.9" cy="516.2" r="2.3" fill="url(#gWH)" stroke="#777" stroke-width="0.5"/><circle cx="869.5" cy="513" r="3.7" fill="url(#gWO)"/>
<circle cx="886.1" cy="528.6" r="2.3" fill="url(#gWH)" stroke="#777" stroke-width="0.5"/><circle cx="893.4" cy="533.4" r="2.3" fill="url(#gWH)" stroke="#777" stroke-width="0.5"/><circle cx="887.9" cy="533.8" r="3.7" fill="url(#gWO)"/>
<circle cx="899.1" cy="552.8" r="2.3" fill="url(#gWH)" stroke="#777" stroke-width="0.5"/><circle cx="899.4" cy="561.8" r="2.3" fill="url(#gWH)" stroke="#777" stroke-width="0.5"/><circle cx="896" cy="557.6" r="3.7" fill="url(#gWO)"/>
<line x1="836.7" y1="556.2" x2="836.7" y2="567.5" stroke="#000" stroke-width="2"/>
<circle cx="836" cy="544.1" r="10.4" fill="url(#gGlow)"/><circle cx="836" cy="535.5" r="4.3" fill="url(#gAO)"/><circle cx="827.7" cy="550.7" r="4.3" fill="url(#gAO)"/><circle cx="845.4" cy="550.7" r="4.3" fill="url(#gAO)"/>
<line x1="921.9" y1="490.6" x2="952.1" y2="490.6" stroke="#000" stroke-width="2.4"/>
<line x1="921.9" y1="568.3" x2="952.1" y2="568.3" stroke="#000" stroke-width="2.4"/>
<line x1="937.5" y1="512.2" x2="937.5" y2="499.6" stroke="#000" stroke-width="3"/>
<path d="M932.2,503.1 L937.5,492.6 L942.8,503.1Z" fill="#000"/>
<line x1="937.5" y1="545" x2="937.5" y2="559.3" stroke="#000" stroke-width="3"/>
<path d="M932.2,555.8 L937.5,566.3 L942.8,555.8Z" fill="#000"/>
<text x="942.2" y="535.5" font-size="18" font-family="'Liberation Sans', Arial, Helvetica, sans-serif" text-anchor="middle">4.1 <tspan font-family="'Liberation Serif', 'Times New Roman', serif">Å</tspan></text>
<text x="844.2" y="745.3" font-size="28" font-family="'Liberation Sans', Arial, Helvetica, sans-serif" text-anchor="middle">Insufficient and</text>
<text x="843.7" y="779" font-size="28" font-family="'Liberation Sans', Arial, Helvetica, sans-serif" text-anchor="middle">weak adsorption</text>
<path d="M773.3,890.2 A58.3,66.2 0 0 1 889.9,890.2 Z" fill="#dfeefb"/>
<rect x="716.3" y="890" width="248.8" height="24.3" fill="url(#patSub)"/>
<rect x="716.3" y="890" width="248.8" height="24.3" fill="url(#gSubFade)"/>
<circle cx="784.5" cy="876.6" r="2.3" fill="url(#gWH)" stroke="#777" stroke-width="0.5"/><circle cx="784.2" cy="885.8" r="2.3" fill="url(#gWH)" stroke="#777" stroke-width="0.5"/><circle cx="787.5" cy="881.4" r="3.7" fill="url(#gWO)"/>
<circle cx="796.6" cy="853.3" r="2.3" fill="url(#gWH)" stroke="#777" stroke-width="0.5"/><circle cx="790.6" cy="859.8" r="2.3" fill="url(#gWH)" stroke="#777" stroke-width="0.5"/><circle cx="795.8" cy="859" r="3.7" fill="url(#gWO)"/>
<circle cx="819.1" cy="836.5" r="2.3" fill="url(#gWH)" stroke="#777" stroke-width="0.5"/><circle cx="811.8" cy="840.8" r="2.3" fill="url(#gWH)" stroke="#777" stroke-width="0.5"/><circle cx="817" cy="841.3" r="3.7" fill="url(#gWO)"/>
<circle cx="845" cy="837.4" r="2.3" fill="url(#gWH)" stroke="#777" stroke-width="0.5"/><circle cx="850.7" cy="843.8" r="2.3" fill="url(#gWH)" stroke="#777" stroke-width="0.5"/><circle cx="845" cy="842.5" r="3.7" fill="url(#gWO)"/>
<circle cx="869.2" cy="852.6" r="2.3" fill="url(#gWH)" stroke="#777" stroke-width="0.5"/><circle cx="874" cy="859.5" r="2.3" fill="url(#gWH)" stroke="#777" stroke-width="0.5"/><circle cx="868.9" cy="857.8" r="3.7" fill="url(#gWO)"/>
<circle cx="879.6" cy="878" r="2.3" fill="url(#gWH)" stroke="#777" stroke-width="0.5"/><circle cx="881.6" cy="886" r="2.3" fill="url(#gWH)" stroke="#777" stroke-width="0.5"/><circle cx="877.3" cy="882.6" r="3.7" fill="url(#gWO)"/>
<line x1="831.2" y1="879.7" x2="831.2" y2="890.2" stroke="#000" stroke-width="2"/>
<circle cx="830.8" cy="866.7" r="10.4" fill="url(#gGlow)"/><circle cx="830.7" cy="858.6" r="4.3" fill="url(#gAO)"/><circle cx="822.2" cy="874.2" r="4.3" fill="url(#gAO)"/><circle cx="840.2" cy="873.6" r="4.3" fill="url(#gAO)"/>
<line x1="916.7" y1="823.2" x2="947" y2="823.2" stroke="#000" stroke-width="2.4"/>
<line x1="916.7" y1="888.3" x2="947" y2="888.3" stroke="#000" stroke-width="2.4"/>
<line x1="931.6" y1="844.3" x2="931.6" y2="832.2" stroke="#000" stroke-width="3"/>
<path d="M926.3,835.7 L931.6,825.2 L936.9,835.7Z" fill="#000"/>
<line x1="931.6" y1="865.5" x2="931.6" y2="879.3" stroke="#000" stroke-width="3"/>
<path d="M926.3,875.8 L931.6,886.3 L936.9,875.8Z" fill="#000"/>
<text x="936.5" y="861.6" font-size="18" font-family="'Liberation Sans', Arial, Helvetica, sans-serif" text-anchor="middle">3.9 <tspan font-family="'Liberation Serif', 'Times New Roman', serif">Å</tspan></text>
<text x="1064.5" y="31.2" font-size="44" font-family="'Liberation Sans', Arial, Helvetica, sans-serif" font-weight="bold">b</text>
<rect x="1103.5" y="75.7" width="387.5" height="348.3" fill="none" stroke="#000" stroke-width="2.6" stroke-dasharray="10.5,6"/>
<text x="1290.3" y="129.6" font-size="28" font-family="'Liberation Sans', Arial, Helvetica, sans-serif" text-anchor="middle">Pristine mono-</text>
<text x="1290.1" y="163.3" font-size="28" font-family="'Liberation Sans', Arial, Helvetica, sans-serif" text-anchor="middle">channel</text>
<rect x="1167" y="195" width="248" height="22.7" fill="url(#patSub)"/>
<rect x="1167" y="195" width="248" height="22.7" fill="url(#gSubFade)"/>
<rect x="1169.6" y="361.6" width="246.7" height="22" fill="url(#patSub)"/>
<rect x="1169.6" y="361.6" width="246.7" height="22" fill="url(#gSubFade)"/>
<line x1="1281.8" y1="217.7" x2="1281.8" y2="231" stroke="#000" stroke-width="2"/>
<circle cx="1281.8" cy="238.4" r="9.2" fill="url(#gGlow)"/><circle cx="1272.7" cy="233.8" r="3.8" fill="url(#gAO)"/><circle cx="1290.6" cy="233.3" r="3.8" fill="url(#gAO)"/><circle cx="1281.8" cy="248.8" r="3.8" fill="url(#gAO)"/>
<line x1="1282.9" y1="347" x2="1282.9" y2="361.6" stroke="#000" stroke-width="2"/>
<circle cx="1282.9" cy="340" r="9.2" fill="url(#gGlow)"/><circle cx="1282.6" cy="329.7" r="3.8" fill="url(#gAO)"/><circle cx="1274" cy="345.5" r="3.8" fill="url(#gAO)"/><circle cx="1291.7" cy="344.7" r="3.8" fill="url(#gAO)"/>
<line x1="1320.7" y1="319.3" x2="1305.34" y2="331.49" stroke="#f01414" stroke-width="2.6"/><path d="M1297.9,337.4 L1302.48,327.89 L1308.2,335.1Z" fill="#f01414"/>
<text x="1325" y="314.1" font-size="28" font-family="'Liberation Sans', Arial, Helvetica, sans-serif">Acid group</text>
<path d="M1289.7,467.5 L1295.3,512.3 L1300.6,512.3 L1289.8,523.8 L1279.2,512.3 L1284.1,512.3Z" fill="#b9d4ee"/>
<text x="1388.2" y="490" font-size="28" font-family="'Liberation Sans', Arial, Helvetica, sans-serif" text-anchor="middle">After</text>
<text x="1388" y="524.2" font-size="28" font-family="'Liberation Sans', Arial, Helvetica, sans-serif" text-anchor="middle">hydration</text>
<rect x="1107.4" y="565.7" width="386.7" height="348.6" fill="none" stroke="#000" stroke-width="2.6" stroke-dasharray="10.5,6"/>
<text x="1291" y="629.7" font-size="28" font-family="'Liberation Sans', Arial, Helvetica, sans-serif" text-anchor="middle">Hydrated mono-</text>
<text x="1290.8" y="662.9" font-size="28" font-family="'Liberation Sans', Arial, Helvetica, sans-serif" text-anchor="middle">channel</text>
<path d="M1224,714 A48.6,47 0 0 0 1321.2,714 Z" fill="#dfeefb"/>
<path d="M1224.5,857.5 A48.6,46.3 0 0 1 1321.7,857.5 Z" fill="#dfeefb"/>
<rect x="1173.5" y="690.9" width="248" height="22.5" fill="url(#patSub)"/>
<rect x="1173.5" y="690.9" width="248" height="22.5" fill="url(#gSubFade)"/>
<rect x="1175.3" y="857.3" width="248.3" height="23.3" fill="url(#patSub)"/>
<rect x="1175.3" y="857.3" width="248.3" height="23.3" fill="url(#gSubFade)"/>
<line x1="1272.2" y1="713.4" x2="1272.2" y2="727" stroke="#000" stroke-width="2"/>
<circle cx="1272.2" cy="735.5" r="9.2" fill="url(#gGlow)"/><circle cx="1262.9" cy="729.5" r="3.8" fill="url(#gAO)"/><circle cx="1281" cy="729" r="3.8" fill="url(#gAO)"/><circle cx="1272.2" cy="744.5" r="3.8" fill="url(#gAO)"/>
<line x1="1272.7" y1="844" x2="1272.7" y2="857.3" stroke="#000" stroke-width="2"/>
<circle cx="1272.7" cy="836.6" r="9.2" fill="url(#gGlow)"/><circle cx="1272.7" cy="827" r="3.8" fill="url(#gAO)"/><circle cx="1264.5" cy="842.5" r="3.8" fill="url(#gAO)"/><circle cx="1281.8" cy="841.7" r="3.8" fill="url(#gAO)"/>
<line x1="1309.5" y1="801.6" x2="1292.43" y2="808.39" stroke="#f01414" stroke-width="2.6"/><path d="M1283.6,811.9 L1290.73,804.12 L1294.13,812.66Z" fill="#f01414"/>
<text x="1377.3" y="780" font-size="28" font-family="'Liberation Sans', Arial, Helvetica, sans-serif" text-anchor="middle">Hydrated</text>
<text x="1377.2" y="813.2" font-size="28" font-family="'Liberation Sans', Arial, Helvetica, sans-serif" text-anchor="middle">acid group</text>
<clipPath id="clipM1"><rect x="1668.5" y="87.3" width="324.6" height="321.1"/></clipPath>
<g clip-path="url(#clipM1)">
<rect x="1668.5" y="87.3" width="324.6" height="321.1" fill="#ffffff"/>
<path d="M1992.66,248.4 L1911.83,388.4 L1750.17,388.4 L1669.34,248.4 L1750.17,108.4 L1911.83,108.4Z M1958.02,248.4 L1894.51,358.4 L1767.49,358.4 L1703.98,248.4 L1767.49,138.4 L1894.51,138.4Z" fill-rule="evenodd" fill="#b8b8b8" filter="url(#fBlur)"/>
<circle cx="1737.12" cy="360.6" r="5.5" fill="url(#gGrey)"/>
<circle cx="1716.15" cy="227.1" r="5.5" fill="url(#gGrey)"/>
<circle cx="1744.6" cy="156.36" r="5.51" fill="url(#gGrey)"/>
<circle cx="1721.96" cy="274.47" r="5.51" fill="url(#gGrey)"/>
<circle cx="1721.3" cy="189.49" r="5.52" fill="url(#gGrey)"/>
<circle cx="1854.51" cy="414.64" r="5.52" fill="url(#gGrey)"/>
<circle cx="1869.5" cy="139.65" r="5.52" fill="url(#gGrey)"/>
<circle cx="1701.16" cy="269.13" r="5.52" fill="url(#gGrey)"/>
<circle cx="1889.6" cy="123.17" r="5.53" fill="url(#gGrey)"/>
<circle cx="1740.77" cy="360.11" r="5.53" fill="url(#gGrey)"/>
<circle cx="1788.6" cy="413.83" r="5.53" fill="url(#gGrey)"/>
<circle cx="1957.88" cy="180.11" r="5.53" fill="url(#gGrey)"/>
<circle cx="1804.3" cy="407.16" r="5.55" fill="url(#gGrey)"/>
<circle cx="1802.27" cy="374.08" r="5.55" fill="url(#gGrey)"/>
<circle cx="1771.14" cy="360.85" r="5.55" fill="url(#gGrey)"/>
<circle cx="1737.71" cy="383.77" r="5.56" fill="url(#gGrey)"/>
<circle cx="1858.81" cy="377.61" r="5.56" fill="url(#gGrey)"/>
<circle cx="1951.63" cy="237.47" r="5.56" fill="url(#gGrey)"/>
<circle cx="1885.94" cy="109.26" r="5.56" fill="url(#gGrey)"/>
<circle cx="1779.11" cy="389.96" r="5.57" fill="url(#gGrey)"/>
<circle cx="1977.95" cy="226.19" r="5.57" fill="url(#gGrey)"/>
<circle cx="1831.11" cy="89.19" r="5.57" fill="url(#gGrey)"/>
<circle cx="1727.6" cy="397.25" r="5.58" fill="url(#gGrey)"/>
<circle cx="1802.12" cy="399.27" r="5.58" fill="url(#gGrey)"/>
<circle cx="1673.79" cy="242.97" r="5.58" fill="url(#gGrey)"/>
<circle cx="1749.82" cy="339.03" r="5.58" fill="url(#gGrey)"/>
<circle cx="1724.94" cy="181.6" r="5.59" fill="url(#gGrey)"/>
<circle cx="1808.59" cy="361.65" r="5.59" fill="url(#gGrey)"/>
<circle cx="1813.23" cy="132.78" r="5.6" fill="url(#gGrey)"/>
<circle cx="1694.41" cy="210.01" r="5.6" fill="url(#gGrey)"/>
<circle cx="1689.97" cy="294.97" r="5.6" fill="url(#gGrey)"/>
<circle cx="1763.82" cy="405.21" r="5.61" fill="url(#gGrey)"/>
<circle cx="1716.12" cy="173.88" r="5.61" fill="url(#gGrey)"/>
<circle cx="1984.26" cy="272.79" r="5.61" fill="url(#gGrey)"/>
<circle cx="1830.17" cy="92.02" r="5.62" fill="url(#gGrey)"/>
<circle cx="1937.12" cy="397.51" r="5.62" fill="url(#gGrey)"/>
<circle cx="1975.83" cy="287.7" r="5.62" fill="url(#gGrey)"/>
<circle cx="1943.87" cy="171.02" r="5.62" fill="url(#gGrey)"/>
<circle cx="1955.42" cy="260.61" r="5.63" fill="url(#gGrey)"/>
<circle cx="1731.66" cy="163.5" r="5.63" fill="url(#gGrey)"/>
<circle cx="1840.4" cy="80.48" r="5.63" fill="url(#gGrey)"/>
<circle cx="1817.4" cy="413.75" r="5.63" fill="url(#gGrey)"/>
<circle cx="1812.72" cy="132.22" r="5.63" fill="url(#gGrey)"/>
<circle cx="1896.63" cy="95.95" r="5.64" fill="url(#gGrey)"/>
<circle cx="1678.94" cy="235.54" r="5.64" fill="url(#gGrey)"/>
<circle cx="1841.02" cy="103.93" r="5.64" fill="url(#gGrey)"/>
<circle cx="1725.22" cy="353.72" r="5.64" fill="url(#gGrey)"/>
<circle cx="1790.26" cy="101.22" r="5.65" fill="url(#gGrey)"/>
<circle cx="1916.54" cy="114.36" r="5.65" fill="url(#gGrey)"/>
<circle cx="1888.06" cy="107.29" r="5.65" fill="url(#gGrey)"/>
<circle cx="1840.11" cy="103.38" r="5.65" fill="url(#gGrey)"/>
<circle cx="1834.43" cy="396.71" r="5.67" fill="url(#gGrey)"/>
<circle cx="1840.28" cy="411.47" r="5.67" fill="url(#gGrey)"/>
<circle cx="1842.41" cy="359.36" r="5.68" fill="url(#gGrey)"/>
<circle cx="1868.68" cy="87.26" r="5.68" fill="url(#gGrey)"/>
<circle cx="1778.45" cy="364.88" r="5.68" fill="url(#gGrey)"/>
<circle cx="1924.53" cy="403.82" r="5.69" fill="url(#gGrey)"/>
<circle cx="1704.64" cy="268.83" r="5.69" fill="url(#gGrey)"/>
<circle cx="1754.93" cy="164.77" r="5.69" fill="url(#gGrey)"/>
<circle cx="1709.52" cy="317.25" r="5.7" fill="url(#gGrey)"/>
<circle cx="1834.87" cy="131.73" r="5.7" fill="url(#gGrey)"/>
<circle cx="1875" cy="397.28" r="5.7" fill="url(#gGrey)"/>
<circle cx="1795.49" cy="373.59" r="5.7" fill="url(#gGrey)"/>
<circle cx="1710.91" cy="267.16" r="5.71" fill="url(#gGrey)"/>
<circle cx="1961.1" cy="237.32" r="5.71" fill="url(#gGrey)"/>
<circle cx="1759.37" cy="418.18" r="5.71" fill="url(#gGrey)"/>
<circle cx="1769.28" cy="375.03" r="5.72" fill="url(#gGrey)"/>
<circle cx="1925.31" cy="184.48" r="5.72" fill="url(#gGrey)"/>
<circle cx="1717.19" cy="271.98" r="5.73" fill="url(#gGrey)"/>
<circle cx="1883.42" cy="125.63" r="5.73" fill="url(#gGrey)"/>
<circle cx="1801.5" cy="356" r="5.73" fill="url(#gGrey)"/>
<circle cx="1936.93" cy="190.27" r="5.74" fill="url(#gGrey)"/>
<circle cx="1958" cy="197.17" r="5.74" fill="url(#gGrey)"/>
<circle cx="1957.97" cy="280.77" r="5.74" fill="url(#gGrey)"/>
<circle cx="1929.65" cy="148.92" r="5.75" fill="url(#gGrey)"/>
<circle cx="1701.58" cy="178.6" r="5.75" fill="url(#gGrey)"/>
<circle cx="1932.28" cy="168.87" r="5.75" fill="url(#gGrey)"/>
<circle cx="1722" cy="198.37" r="5.75" fill="url(#gGrey)"/>
<circle cx="1925.22" cy="189.21" r="5.76" fill="url(#gGrey)"/>
<circle cx="1927.76" cy="139.56" r="5.76" fill="url(#gGrey)"/>
<circle cx="1757.02" cy="164.75" r="5.76" fill="url(#gGrey)"/>
<circle cx="1728.53" cy="89.52" r="5.77" fill="url(#gGrey)"/>
<circle cx="1787.56" cy="93.67" r="5.77" fill="url(#gGrey)"/>
<circle cx="1764.18" cy="344.98" r="5.78" fill="url(#gGrey)"/>
<circle cx="1832.52" cy="79.4" r="5.79" fill="url(#gGrey)"/>
<circle cx="1884.9" cy="104.36" r="5.79" fill="url(#gGrey)"/>
<circle cx="1727.96" cy="355.52" r="5.79" fill="url(#gGrey)"/>
<circle cx="1941.81" cy="211.72" r="5.79" fill="url(#gGrey)"/>
<circle cx="1963.36" cy="197.96" r="5.8" fill="url(#gGrey)"/>
<circle cx="1910.72" cy="165.02" r="5.8" fill="url(#gGrey)"/>
<circle cx="1734.51" cy="132.82" r="5.8" fill="url(#gGrey)"/>
<circle cx="1733.88" cy="205.37" r="5.8" fill="url(#gGrey)"/>
<circle cx="1756.74" cy="145.91" r="5.81" fill="url(#gGrey)"/>
<circle cx="1897.98" cy="407.55" r="5.81" fill="url(#gGrey)"/>
<circle cx="1830.73" cy="352.34" r="5.81" fill="url(#gGrey)"/>
<circle cx="1913.71" cy="354.61" r="5.81" fill="url(#gGrey)"/>
<circle cx="1685.82" cy="220.14" r="5.82" fill="url(#gGrey)"/>
<circle cx="1911.59" cy="390.91" r="5.82" fill="url(#gGrey)"/>
<circle cx="1941.59" cy="292.69" r="5.82" fill="url(#gGrey)"/>
<circle cx="1740.75" cy="408.1" r="5.82" fill="url(#gGrey)"/>
<circle cx="1923.6" cy="174.45" r="5.83" fill="url(#gGrey)"/>
<circle cx="1964.03" cy="202.33" r="5.83" fill="url(#gGrey)"/>
<circle cx="1722.65" cy="201.17" r="5.84" fill="url(#gGrey)"/>
<circle cx="1822.59" cy="143.73" r="5.84" fill="url(#gGrey)"/>
<circle cx="1831.91" cy="114.85" r="5.85" fill="url(#gGrey)"/>
<circle cx="1823.04" cy="129.52" r="5.85" fill="url(#gGrey)"/>
<circle cx="1872.13" cy="408.39" r="5.85" fill="url(#gGrey)"/>
<circle cx="1893.67" cy="138.42" r="5.86" fill="url(#gGrey)"/>
<circle cx="1935.38" cy="323.2" r="5.86" fill="url(#gGrey)"/>
<circle cx="1731.51" cy="204.54" r="5.86" fill="url(#gGrey)"/>
<circle cx="1960.27" cy="203.94" r="5.86" fill="url(#gGrey)"/>
<circle cx="1814.21" cy="360.03" r="5.86" fill="url(#gGrey)"/>
<circle cx="1935.95" cy="142.17" r="5.87" fill="url(#gGrey)"/>
<circle cx="1714.93" cy="331.41" r="5.88" fill="url(#gGrey)"/>
<circle cx="1747.28" cy="411.37" r="5.88" fill="url(#gGrey)"/>
<circle cx="1717.96" cy="224.92" r="5.88" fill="url(#gGrey)"/>
<circle cx="1850.83" cy="399.33" r="5.89" fill="url(#gGrey)"/>
<circle cx="1801.94" cy="101.91" r="5.89" fill="url(#gGrey)"/>
<circle cx="1701.29" cy="305.99" r="5.89" fill="url(#gGrey)"/>
<circle cx="1691.39" cy="249.51" r="5.89" fill="url(#gGrey)"/>
<circle cx="1737.49" cy="316.87" r="5.9" fill="url(#gGrey)"/>
<circle cx="1906.5" cy="81.2" r="5.9" fill="url(#gGrey)"/>
<circle cx="1913.32" cy="407.66" r="5.91" fill="url(#gGrey)"/>
<circle cx="1933.35" cy="163.38" r="5.92" fill="url(#gGrey)"/>
<circle cx="1796.94" cy="121.74" r="5.92" fill="url(#gGrey)"/>
<circle cx="1958.89" cy="205.35" r="5.92" fill="url(#gGrey)"/>
<circle cx="1689.22" cy="232.02" r="5.93" fill="url(#gGrey)"/>
<circle cx="1797.68" cy="396.16" r="5.94" fill="url(#gGrey)"/>
<circle cx="1692.39" cy="280.81" r="5.94" fill="url(#gGrey)"/>
<circle cx="1956.92" cy="189.43" r="5.94" fill="url(#gGrey)"/>
<circle cx="1973.24" cy="210.17" r="5.95" fill="url(#gGrey)"/>
<circle cx="1941.93" cy="374.24" r="5.95" fill="url(#gGrey)"/>
<circle cx="1836.55" cy="384.86" r="5.95" fill="url(#gGrey)"/>
<circle cx="1747.49" cy="320.21" r="5.96" fill="url(#gGrey)"/>
<circle cx="1867.61" cy="400.1" r="5.96" fill="url(#gGrey)"/>
<circle cx="1794.71" cy="388.6" r="5.96" fill="url(#gGrey)"/>
<circle cx="1928.93" cy="348.6" r="5.97" fill="url(#gGrey)"/>
<circle cx="1799.84" cy="103.65" r="5.97" fill="url(#gGrey)"/>
<circle cx="1819.29" cy="78.17" r="5.98" fill="url(#gGrey)"/>
<circle cx="1742.38" cy="81.31" r="5.98" fill="url(#gGrey)"/>
<circle cx="1739.83" cy="380.18" r="5.98" fill="url(#gGrey)"/>
<circle cx="1716.08" cy="225.57" r="5.98" fill="url(#gGrey)"/>
<circle cx="1963.15" cy="301.42" r="5.99" fill="url(#gGrey)"/>
<circle cx="1793.42" cy="117.79" r="5.99" fill="url(#gGrey)"/>
<circle cx="1961.15" cy="256.95" r="5.99" fill="url(#gGrey)"/>
<circle cx="1803.55" cy="394.23" r="5.99" fill="url(#gGrey)"/>
<circle cx="1930.7" cy="164.81" r="6" fill="url(#gGrey)"/>
<circle cx="1831.19" cy="405.97" r="6" fill="url(#gGrey)"/>
<circle cx="1927.94" cy="85.32" r="6" fill="url(#gGrey)"/>
<circle cx="1758.43" cy="396.06" r="6" fill="url(#gGrey)"/>
<circle cx="1963.15" cy="221.76" r="6" fill="url(#gGrey)"/>
<circle cx="1950.92" cy="320.83" r="6" fill="url(#gGrey)"/>
<circle cx="1743.7" cy="318.87" r="6.01" fill="url(#gGrey)"/>
<circle cx="1914.66" cy="312.04" r="6.01" fill="url(#gGrey)"/>
<circle cx="1717.08" cy="332.7" r="6.01" fill="url(#gGrey)"/>
<circle cx="1940.07" cy="347.02" r="6.01" fill="url(#gGrey)"/>
<circle cx="1768.43" cy="358.07" r="6.02" fill="url(#gGrey)"/>
<circle cx="1944.52" cy="266.05" r="6.02" fill="url(#gGrey)"/>
<circle cx="1849.45" cy="360.47" r="6.02" fill="url(#gGrey)"/>
<circle cx="1735.04" cy="370.92" r="6.03" fill="url(#gGrey)"/>
<circle cx="1741.47" cy="190.07" r="6.03" fill="url(#gGrey)"/>
<circle cx="1951.79" cy="176.37" r="6.03" fill="url(#gGrey)"/>
<circle cx="1827.1" cy="359.49" r="6.03" fill="url(#gGrey)"/>
<circle cx="1941.39" cy="147.02" r="6.03" fill="url(#gGrey)"/>
<circle cx="1762.89" cy="134.87" r="6.04" fill="url(#gGrey)"/>
<circle cx="1709.06" cy="288.15" r="6.04" fill="url(#gGrey)"/>
<circle cx="1740.42" cy="181.45" r="6.04" fill="url(#gGrey)"/>
<circle cx="1806.12" cy="367.93" r="6.05" fill="url(#gGrey)"/>
<circle cx="1925.64" cy="133.85" r="6.06" fill="url(#gGrey)"/>
<circle cx="1935.79" cy="138.19" r="6.06" fill="url(#gGrey)"/>
<circle cx="1937.32" cy="377.89" r="6.07" fill="url(#gGrey)"/>
<circle cx="1959.06" cy="286.61" r="6.07" fill="url(#gGrey)"/>
<circle cx="1734.21" cy="97.16" r="6.07" fill="url(#gGrey)"/>
<circle cx="1718.72" cy="188.1" r="6.07" fill="url(#gGrey)"/>
<circle cx="1773.2" cy="100.07" r="6.09" fill="url(#gGrey)"/>
<circle cx="1959.71" cy="207.53" r="6.09" fill="url(#gGrey)"/>
<circle cx="1743.29" cy="191.41" r="6.1" fill="url(#gGrey)"/>
<circle cx="1927.65" cy="393.67" r="6.1" fill="url(#gGrey)"/>
<circle cx="1937.22" cy="191.59" r="6.1" fill="url(#gGrey)"/>
<circle cx="1958.58" cy="180.4" r="6.1" fill="url(#gGrey)"/>
<circle cx="1774.97" cy="394.41" r="6.11" fill="url(#gGrey)"/>
<circle cx="1937.23" cy="376.65" r="6.11" fill="url(#gGrey)"/>
<circle cx="1937.02" cy="146.81" r="6.11" fill="url(#gGrey)"/>
<circle cx="1683.72" cy="283.57" r="6.12" fill="url(#gGrey)"/>
<circle cx="1719.6" cy="384.19" r="6.12" fill="url(#gGrey)"/>
<circle cx="1924.25" cy="386.52" r="6.13" fill="url(#gGrey)"/>
<circle cx="1966.79" cy="205.22" r="6.13" fill="url(#gGrey)"/>
<circle cx="1955.81" cy="302.98" r="6.14" fill="url(#gGrey)"/>
<circle cx="1775.43" cy="83.06" r="6.14" fill="url(#gGrey)"/>
<circle cx="1771.77" cy="92.55" r="6.14" fill="url(#gGrey)"/>
<circle cx="1741.75" cy="402.29" r="6.15" fill="url(#gGrey)"/>
<circle cx="1974.31" cy="255.82" r="6.15" fill="url(#gGrey)"/>
<circle cx="1798.51" cy="143.55" r="6.16" fill="url(#gGrey)"/>
<circle cx="1717.6" cy="300.31" r="6.16" fill="url(#gGrey)"/>
<circle cx="1800.33" cy="365.2" r="6.16" fill="url(#gGrey)"/>
<circle cx="1878.86" cy="394.09" r="6.16" fill="url(#gGrey)"/>
<circle cx="1813.22" cy="407.36" r="6.16" fill="url(#gGrey)"/>
<circle cx="1710.17" cy="279.08" r="6.17" fill="url(#gGrey)"/>
<circle cx="1849.17" cy="85.47" r="6.18" fill="url(#gGrey)"/>
<circle cx="1938.82" cy="278.74" r="6.18" fill="url(#gGrey)"/>
<circle cx="1961.91" cy="312.7" r="6.18" fill="url(#gGrey)"/>
<circle cx="1947.07" cy="299.06" r="6.18" fill="url(#gGrey)"/>
<circle cx="1719.02" cy="203.34" r="6.19" fill="url(#gGrey)"/>
<circle cx="1891.82" cy="121.52" r="6.19" fill="url(#gGrey)"/>
<circle cx="1790.33" cy="405.27" r="6.19" fill="url(#gGrey)"/>
<circle cx="1767.87" cy="107.74" r="6.19" fill="url(#gGrey)"/>
<circle cx="1744.39" cy="394.46" r="6.19" fill="url(#gGrey)"/>
<circle cx="1855.89" cy="100.77" r="6.2" fill="url(#gGrey)"/>
<circle cx="1857.17" cy="363.69" r="6.21" fill="url(#gGrey)"/>
<circle cx="1707.61" cy="288.3" r="6.22" fill="url(#gGrey)"/>
<circle cx="1931.47" cy="286.67" r="6.22" fill="url(#gGrey)"/>
<circle cx="1944.89" cy="335.3" r="6.23" fill="url(#gGrey)"/>
<circle cx="1928.42" cy="409.87" r="6.24" fill="url(#gGrey)"/>
<circle cx="1849.22" cy="405.34" r="6.25" fill="url(#gGrey)"/>
<circle cx="1893.29" cy="84.54" r="6.25" fill="url(#gGrey)"/>
<circle cx="1832.35" cy="360.56" r="6.25" fill="url(#gGrey)"/>
<circle cx="1847.67" cy="409.88" r="6.26" fill="url(#gGrey)"/>
<circle cx="1790.15" cy="114.15" r="6.26" fill="url(#gGrey)"/>
<circle cx="1809.19" cy="96.74" r="6.26" fill="url(#gGrey)"/>
<circle cx="1923.3" cy="83.07" r="6.26" fill="url(#gGrey)"/>
<circle cx="1887.67" cy="124.4" r="6.26" fill="url(#gGrey)"/>
<circle cx="1855.53" cy="83.92" r="6.27" fill="url(#gGrey)"/>
<circle cx="1938.43" cy="300.95" r="6.27" fill="url(#gGrey)"/>
<circle cx="1815.47" cy="122.87" r="6.27" fill="url(#gGrey)"/>
<circle cx="1934.95" cy="112.62" r="6.27" fill="url(#gGrey)"/>
<circle cx="1769.97" cy="363.59" r="6.27" fill="url(#gGrey)"/>
<circle cx="1850.37" cy="353.44" r="6.28" fill="url(#gGrey)"/>
<circle cx="1745.88" cy="365.43" r="6.28" fill="url(#gGrey)"/>
<circle cx="1771.52" cy="144.29" r="6.29" fill="url(#gGrey)"/>
<circle cx="1870.76" cy="353.96" r="6.29" fill="url(#gGrey)"/>
<circle cx="1684.66" cy="246.44" r="6.29" fill="url(#gGrey)"/>
<circle cx="1724.12" cy="395.98" r="6.29" fill="url(#gGrey)"/>
<circle cx="1724.04" cy="98.01" r="6.3" fill="url(#gGrey)"/>
<circle cx="1737.64" cy="358.25" r="6.3" fill="url(#gGrey)"/>
<circle cx="1813.63" cy="404.67" r="6.3" fill="url(#gGrey)"/>
<circle cx="1926.38" cy="355.69" r="6.3" fill="url(#gGrey)"/>
<circle cx="1932.48" cy="131.14" r="6.3" fill="url(#gGrey)"/>
<circle cx="1923.01" cy="383.15" r="6.32" fill="url(#gGrey)"/>
<circle cx="1722.22" cy="224.81" r="6.32" fill="url(#gGrey)"/>
<circle cx="1747.27" cy="103.37" r="6.32" fill="url(#gGrey)"/>
<circle cx="1913.71" cy="327.07" r="6.32" fill="url(#gGrey)"/>
<circle cx="1992.13" cy="258.61" r="6.32" fill="url(#gGrey)"/>
<circle cx="1838.21" cy="371.88" r="6.33" fill="url(#gGrey)"/>
<circle cx="1707.55" cy="280.69" r="6.33" fill="url(#gGrey)"/>
<circle cx="1803.92" cy="144.35" r="6.33" fill="url(#gGrey)"/>
<circle cx="1782.81" cy="79.34" r="6.34" fill="url(#gGrey)"/>
<circle cx="1903.24" cy="378.44" r="6.34" fill="url(#gGrey)"/>
<circle cx="1746.86" cy="130.08" r="6.35" fill="url(#gGrey)"/>
<circle cx="1690.92" cy="271.53" r="6.35" fill="url(#gGrey)"/>
<circle cx="1827.62" cy="82.89" r="6.35" fill="url(#gGrey)"/>
<circle cx="1910.13" cy="318.56" r="6.35" fill="url(#gGrey)"/>
<circle cx="1811.64" cy="405.78" r="6.35" fill="url(#gGrey)"/>
<circle cx="1728.18" cy="384.78" r="6.37" fill="url(#gGrey)"/>
<circle cx="1935" cy="79.1" r="6.38" fill="url(#gGrey)"/>
<circle cx="1921.97" cy="84.11" r="6.38" fill="url(#gGrey)"/>
<circle cx="1818.48" cy="357.93" r="6.38" fill="url(#gGrey)"/>
<circle cx="1722.47" cy="394.72" r="6.38" fill="url(#gGrey)"/>
<circle cx="1754.59" cy="382.29" r="6.38" fill="url(#gGrey)"/>
<circle cx="1752.45" cy="356.41" r="6.39" fill="url(#gGrey)"/>
<circle cx="1690.71" cy="294.95" r="6.39" fill="url(#gGrey)"/>
<circle cx="1698.96" cy="291.45" r="6.39" fill="url(#gGrey)"/>
<circle cx="1867.83" cy="407.16" r="6.39" fill="url(#gGrey)"/>
<circle cx="1741.08" cy="121.13" r="6.39" fill="url(#gGrey)"/>
<circle cx="1765.23" cy="115.8" r="6.4" fill="url(#gGrey)"/>
<circle cx="1939.63" cy="379.9" r="6.41" fill="url(#gGrey)"/>
<circle cx="1864.28" cy="105.16" r="6.42" fill="url(#gGrey)"/>
<circle cx="1744.97" cy="385.29" r="6.42" fill="url(#gGrey)"/>
<circle cx="1907.88" cy="384.93" r="6.42" fill="url(#gGrey)"/>
<circle cx="1940.49" cy="401.9" r="6.42" fill="url(#gGrey)"/>
<circle cx="1856.62" cy="380.29" r="6.43" fill="url(#gGrey)"/>
<circle cx="1685.61" cy="285.71" r="6.43" fill="url(#gGrey)"/>
<circle cx="1945.37" cy="279.05" r="6.43" fill="url(#gGrey)"/>
<circle cx="1974.48" cy="232.26" r="6.43" fill="url(#gGrey)"/>
<circle cx="1755.65" cy="330.33" r="6.43" fill="url(#gGrey)"/>
<circle cx="1852.4" cy="405.41" r="6.44" fill="url(#gGrey)"/>
<circle cx="1719.49" cy="410.85" r="6.45" fill="url(#gGrey)"/>
<circle cx="1699.57" cy="208.31" r="6.45" fill="url(#gGrey)"/>
<circle cx="1864.45" cy="405.05" r="6.46" fill="url(#gGrey)"/>
<circle cx="1770.34" cy="356.82" r="6.46" fill="url(#gGrey)"/>
<circle cx="1686.12" cy="262.37" r="6.47" fill="url(#gGrey)"/>
<circle cx="1740.32" cy="100.44" r="6.48" fill="url(#gGrey)"/>
<circle cx="1912.28" cy="402.24" r="6.48" fill="url(#gGrey)"/>
<circle cx="1944.41" cy="260.06" r="6.48" fill="url(#gGrey)"/>
<circle cx="1983.83" cy="249.09" r="6.49" fill="url(#gGrey)"/>
<circle cx="1786.85" cy="380.85" r="6.49" fill="url(#gGrey)"/>
<circle cx="1750.6" cy="346.68" r="6.5" fill="url(#gGrey)"/>
<circle cx="1923.38" cy="182.87" r="6.5" fill="url(#gGrey)"/>
<circle cx="1930.76" cy="324.76" r="6.5" fill="url(#gGrey)"/>
<circle cx="1939.19" cy="85.23" r="6.51" fill="url(#gGrey)"/>
<circle cx="1953.23" cy="319.91" r="6.51" fill="url(#gGrey)"/>
<circle cx="1751.05" cy="108.55" r="6.51" fill="url(#gGrey)"/>
<circle cx="1983.1" cy="240.26" r="6.51" fill="url(#gGrey)"/>
<circle cx="1893.67" cy="105.91" r="6.52" fill="url(#gGrey)"/>
<circle cx="1850.07" cy="375.56" r="6.53" fill="url(#gGrey)"/>
<circle cx="1685.58" cy="288.83" r="6.53" fill="url(#gGrey)"/>
<circle cx="1921.81" cy="144.9" r="6.53" fill="url(#gGrey)"/>
<circle cx="1820.45" cy="144.63" r="6.53" fill="url(#gGrey)"/>
<circle cx="1729.13" cy="191.16" r="6.54" fill="url(#gGrey)"/>
<circle cx="1706" cy="182.76" r="6.54" fill="url(#gGrey)"/>
<circle cx="1924.32" cy="363.58" r="6.54" fill="url(#gGrey)"/>
<circle cx="1926.88" cy="395.82" r="6.54" fill="url(#gGrey)"/>
<circle cx="1811.17" cy="102.5" r="6.54" fill="url(#gGrey)"/>
<circle cx="1822.7" cy="365.02" r="6.55" fill="url(#gGrey)"/>
<circle cx="1875.79" cy="385.71" r="6.55" fill="url(#gGrey)"/>
<circle cx="1753.34" cy="141.27" r="6.55" fill="url(#gGrey)"/>
<circle cx="1822" cy="386.19" r="6.56" fill="url(#gGrey)"/>
<circle cx="1698.82" cy="222.69" r="6.56" fill="url(#gGrey)"/>
<circle cx="1916.57" cy="89.25" r="6.56" fill="url(#gGrey)"/>
<circle cx="1962.13" cy="237.74" r="6.56" fill="url(#gGrey)"/>
<circle cx="1888.05" cy="389.08" r="6.57" fill="url(#gGrey)"/>
<circle cx="1752.02" cy="364.48" r="6.57" fill="url(#gGrey)"/>
<circle cx="1960.3" cy="201.14" r="6.57" fill="url(#gGrey)"/>
<circle cx="1858.75" cy="85.43" r="6.58" fill="url(#gGrey)"/>
<circle cx="1918.73" cy="175.82" r="6.58" fill="url(#gGrey)"/>
<circle cx="1808.44" cy="402.87" r="6.59" fill="url(#gGrey)"/>
<circle cx="1702.87" cy="236.62" r="6.61" fill="url(#gGrey)"/>
<circle cx="1934.77" cy="412.11" r="6.61" fill="url(#gGrey)"/>
<circle cx="1967.83" cy="271.49" r="6.62" fill="url(#gGrey)"/>
<circle cx="1843.14" cy="363.39" r="6.62" fill="url(#gGrey)"/>
<circle cx="1735.68" cy="387.52" r="6.62" fill="url(#gGrey)"/>
<circle cx="1845.37" cy="379.14" r="6.63" fill="url(#gGrey)"/>
<circle cx="1918.88" cy="415.06" r="6.63" fill="url(#gGrey)"/>
<circle cx="1798.97" cy="115.75" r="6.63" fill="url(#gGrey)"/>
<circle cx="1757.88" cy="80.78" r="6.63" fill="url(#gGrey)"/>
<circle cx="1910.22" cy="396.05" r="6.64" fill="url(#gGrey)"/>
<circle cx="1802.86" cy="363.83" r="6.64" fill="url(#gGrey)"/>
<circle cx="1712.49" cy="314.36" r="6.64" fill="url(#gGrey)"/>
<circle cx="1729.95" cy="379.02" r="6.64" fill="url(#gGrey)"/>
<circle cx="1841.59" cy="417.34" r="6.65" fill="url(#gGrey)"/>
<circle cx="1737.46" cy="342.6" r="6.65" fill="url(#gGrey)"/>
<circle cx="1736.13" cy="307.46" r="6.65" fill="url(#gGrey)"/>
<circle cx="1983.67" cy="265.87" r="6.65" fill="url(#gGrey)"/>
<circle cx="1722.64" cy="147.16" r="6.65" fill="url(#gGrey)"/>
<circle cx="1720.96" cy="125.07" r="6.65" fill="url(#gGrey)"/>
<circle cx="1761.31" cy="135.87" r="6.65" fill="url(#gGrey)"/>
<circle cx="1752.51" cy="377.6" r="6.65" fill="url(#gGrey)"/>
<circle cx="1739.66" cy="338.89" r="6.66" fill="url(#gGrey)"/>
<circle cx="1810.07" cy="366.78" r="6.66" fill="url(#gGrey)"/>
<circle cx="1924.22" cy="352.21" r="6.66" fill="url(#gGrey)"/>
<circle cx="1723.2" cy="222.51" r="6.66" fill="url(#gGrey)"/>
<circle cx="1787.13" cy="139.77" r="6.67" fill="url(#gGrey)"/>
<circle cx="1941.44" cy="319.1" r="6.67" fill="url(#gGrey)"/>
<circle cx="1807.11" cy="398.36" r="6.67" fill="url(#gGrey)"/>
<circle cx="1968.51" cy="252.78" r="6.67" fill="url(#gGrey)"/>
<circle cx="1707.47" cy="311.07" r="6.68" fill="url(#gGrey)"/>
<circle cx="1687.2" cy="227.19" r="6.68" fill="url(#gGrey)"/>
<circle cx="1707.27" cy="264.58" r="6.69" fill="url(#gGrey)"/>
<circle cx="1936.53" cy="160.41" r="6.69" fill="url(#gGrey)"/>
<circle cx="1986.18" cy="267.21" r="6.69" fill="url(#gGrey)"/>
<circle cx="1896.19" cy="107.66" r="6.69" fill="url(#gGrey)"/>
<circle cx="1820.06" cy="140.6" r="6.69" fill="url(#gGrey)"/>
<circle cx="1817.7" cy="366.48" r="6.7" fill="url(#gGrey)"/>
<circle cx="1940.55" cy="118.56" r="6.7" fill="url(#gGrey)"/>
<circle cx="1852.79" cy="118.35" r="6.71" fill="url(#gGrey)"/>
<circle cx="1864.52" cy="402.75" r="6.72" fill="url(#gGrey)"/>
<circle cx="1716.88" cy="206.74" r="6.72" fill="url(#gGrey)"/>
<circle cx="1864.64" cy="366.94" r="6.72" fill="url(#gGrey)"/>
<circle cx="1722.32" cy="206.14" r="6.73" fill="url(#gGrey)"/>
<circle cx="1745.31" cy="414.29" r="6.73" fill="url(#gGrey)"/>
<circle cx="1949.99" cy="277.83" r="6.73" fill="url(#gGrey)"/>
<circle cx="1722.66" cy="303.39" r="6.74" fill="url(#gGrey)"/>
<circle cx="1720.72" cy="384.39" r="6.74" fill="url(#gGrey)"/>
<circle cx="1923.48" cy="408.82" r="6.74" fill="url(#gGrey)"/>
<circle cx="1938.94" cy="137.49" r="6.74" fill="url(#gGrey)"/>
<circle cx="1932.89" cy="334.11" r="6.74" fill="url(#gGrey)"/>
<circle cx="1785.89" cy="120.59" r="6.74" fill="url(#gGrey)"/>
<circle cx="1715.15" cy="300.82" r="6.74" fill="url(#gGrey)"/>
<circle cx="1951.05" cy="315.79" r="6.75" fill="url(#gGrey)"/>
<circle cx="1784.84" cy="379.39" r="6.75" fill="url(#gGrey)"/>
<circle cx="1746.02" cy="363.01" r="6.75" fill="url(#gGrey)"/>
<circle cx="1779.82" cy="121.87" r="6.76" fill="url(#gGrey)"/>
<circle cx="1818.12" cy="136.59" r="6.77" fill="url(#gGrey)"/>
<circle cx="1730.92" cy="119.81" r="6.77" fill="url(#gGrey)"/>
<circle cx="1808.9" cy="376.33" r="6.78" fill="url(#gGrey)"/>
<circle cx="1705.97" cy="297.35" r="6.79" fill="url(#gGrey)"/>
<circle cx="1735.26" cy="182.55" r="6.8" fill="url(#gGrey)"/>
<circle cx="1805.5" cy="98.27" r="6.8" fill="url(#gGrey)"/>
<circle cx="1724.19" cy="116" r="6.8" fill="url(#gGrey)"/>
<circle cx="1760.06" cy="153.37" r="6.8" fill="url(#gGrey)"/>
<circle cx="1986.96" cy="268.03" r="6.8" fill="url(#gGrey)"/>
<circle cx="1963.53" cy="256.96" r="6.81" fill="url(#gGrey)"/>
<circle cx="1734.05" cy="99.65" r="6.81" fill="url(#gGrey)"/>
<circle cx="1723.93" cy="170.63" r="6.82" fill="url(#gGrey)"/>
<circle cx="1950.22" cy="169.4" r="6.82" fill="url(#gGrey)"/>
<circle cx="1923.54" cy="320.56" r="6.82" fill="url(#gGrey)"/>
<circle cx="1941.52" cy="280.42" r="6.82" fill="url(#gGrey)"/>
<circle cx="1856.22" cy="398.18" r="6.82" fill="url(#gGrey)"/>
<circle cx="1917.33" cy="388.95" r="6.82" fill="url(#gGrey)"/>
<circle cx="1964.78" cy="196.68" r="6.83" fill="url(#gGrey)"/>
<circle cx="1923.51" cy="296.03" r="6.83" fill="url(#gGrey)"/>
<circle cx="1700.25" cy="196.79" r="6.83" fill="url(#gGrey)"/>
<circle cx="1883.6" cy="386.91" r="6.84" fill="url(#gGrey)"/>
<circle cx="1967.64" cy="220.36" r="6.85" fill="url(#gGrey)"/>
<circle cx="1708.07" cy="182.81" r="6.85" fill="url(#gGrey)"/>
<circle cx="1762.49" cy="132.71" r="6.86" fill="url(#gGrey)"/>
<circle cx="1828.14" cy="137.78" r="6.86" fill="url(#gGrey)"/>
<circle cx="1783.5" cy="412.37" r="6.87" fill="url(#gGrey)"/>
<circle cx="1797.38" cy="359.16" r="6.87" fill="url(#gGrey)"/>
<circle cx="1762.4" cy="120.69" r="6.87" fill="url(#gGrey)"/>
<circle cx="1702.61" cy="189.1" r="6.87" fill="url(#gGrey)"/>
<circle cx="1909.93" cy="415.61" r="6.87" fill="url(#gGrey)"/>
<circle cx="1797.27" cy="387.32" r="6.88" fill="url(#gGrey)"/>
<circle cx="1669.14" cy="243.8" r="6.88" fill="url(#gGrey)"/>
<circle cx="1936.68" cy="90.09" r="6.88" fill="url(#gGrey)"/>
<circle cx="1963.13" cy="281.41" r="6.89" fill="url(#gGrey)"/>
<circle cx="1751.82" cy="416.02" r="6.89" fill="url(#gGrey)"/>
<circle cx="1852.1" cy="373.77" r="6.89" fill="url(#gGrey)"/>
<circle cx="1899.56" cy="379.94" r="6.9" fill="url(#gGrey)"/>
<circle cx="1791.16" cy="364.4" r="6.9" fill="url(#gGrey)"/>
<circle cx="1891.77" cy="84.4" r="6.91" fill="url(#gGrey)"/>
<circle cx="1814.58" cy="110.85" r="6.91" fill="url(#gGrey)"/>
<circle cx="1918.05" cy="185.53" r="6.92" fill="url(#gGrey)"/>
<circle cx="1789.19" cy="83.09" r="6.92" fill="url(#gGrey)"/>
<circle cx="1733.5" cy="361.87" r="6.92" fill="url(#gGrey)"/>
<circle cx="1981.87" cy="267.59" r="6.92" fill="url(#gGrey)"/>
<circle cx="1873.22" cy="131.78" r="6.92" fill="url(#gGrey)"/>
<circle cx="1755" cy="109.78" r="6.92" fill="url(#gGrey)"/>
<circle cx="1787.54" cy="140.28" r="6.94" fill="url(#gGrey)"/>
<circle cx="1809.65" cy="101.19" r="6.94" fill="url(#gGrey)"/>
<circle cx="1715.39" cy="155.18" r="6.95" fill="url(#gGrey)"/>
<circle cx="1674.88" cy="269.18" r="6.95" fill="url(#gGrey)"/>
<circle cx="1843.62" cy="117.56" r="6.96" fill="url(#gGrey)"/>
<circle cx="1892.09" cy="115.28" r="6.96" fill="url(#gGrey)"/>
<circle cx="1944.6" cy="309.01" r="6.96" fill="url(#gGrey)"/>
<circle cx="1763.95" cy="403.15" r="6.96" fill="url(#gGrey)"/>
<circle cx="1852.78" cy="380.06" r="6.96" fill="url(#gGrey)"/>
<circle cx="1913.81" cy="156.64" r="6.98" fill="url(#gGrey)"/>
<circle cx="1900.82" cy="103.59" r="6.98" fill="url(#gGrey)"/>
<circle cx="1815.49" cy="404.37" r="6.98" fill="url(#gGrey)"/>
<circle cx="1902.83" cy="117.84" r="6.98" fill="url(#gGrey)"/>
<circle cx="1712.27" cy="238.91" r="6.98" fill="url(#gGrey)"/>
<circle cx="1734.27" cy="400.03" r="6.98" fill="url(#gGrey)"/>
<circle cx="1852.97" cy="93.15" r="7" fill="url(#gGrey)"/>
<circle cx="1958.48" cy="307.23" r="7" fill="url(#gGrey)"/>
<circle cx="1932.93" cy="195.37" r="7" fill="url(#gGrey)"/>
<circle cx="1746.77" cy="182.63" r="7.01" fill="url(#gGrey)"/>
<circle cx="1884.7" cy="408.19" r="7.01" fill="url(#gGrey)"/>
<circle cx="1790.95" cy="127" r="7.02" fill="url(#gGrey)"/>
<circle cx="1942.92" cy="160.42" r="7.02" fill="url(#gGrey)"/>
<circle cx="1950.31" cy="282.75" r="7.02" fill="url(#gGrey)"/>
<circle cx="1916.28" cy="152.71" r="7.02" fill="url(#gGrey)"/>
<circle cx="1828" cy="134.67" r="7.02" fill="url(#gGrey)"/>
<circle cx="1744.35" cy="135.27" r="7.02" fill="url(#gGrey)"/>
<circle cx="1991.87" cy="260.96" r="7.02" fill="url(#gGrey)"/>
<circle cx="1830.34" cy="132.21" r="7.02" fill="url(#gGrey)"/>
<circle cx="1949.29" cy="268.81" r="7.02" fill="url(#gGrey)"/>
<circle cx="1822.01" cy="405.85" r="7.03" fill="url(#gGrey)"/>
<circle cx="1877.84" cy="351.95" r="7.03" fill="url(#gGrey)"/>
<circle cx="1915" cy="381.4" r="7.03" fill="url(#gGrey)"/>
<circle cx="1720.51" cy="232.4" r="7.03" fill="url(#gGrey)"/>
<circle cx="1800.49" cy="370.72" r="7.04" fill="url(#gGrey)"/>
<circle cx="1904.96" cy="329.16" r="7.04" fill="url(#gGrey)"/>
<circle cx="1729.06" cy="388.16" r="7.04" fill="url(#gGrey)"/>
<circle cx="1750.11" cy="128.98" r="7.04" fill="url(#gGrey)"/>
<circle cx="1907.3" cy="347.26" r="7.04" fill="url(#gGrey)"/>
<circle cx="1928.31" cy="297.53" r="7.05" fill="url(#gGrey)"/>
<circle cx="1933.14" cy="187.19" r="7.05" fill="url(#gGrey)"/>
<circle cx="1860.44" cy="142.22" r="7.05" fill="url(#gGrey)"/>
<circle cx="1723.48" cy="366.27" r="7.05" fill="url(#gGrey)"/>
<circle cx="1941.76" cy="109.75" r="7.06" fill="url(#gGrey)"/>
<circle cx="1889.74" cy="85.73" r="7.06" fill="url(#gGrey)"/>
<circle cx="1679.64" cy="228.92" r="7.06" fill="url(#gGrey)"/>
<circle cx="1725.01" cy="396.99" r="7.06" fill="url(#gGrey)"/>
<circle cx="1932.85" cy="387.45" r="7.07" fill="url(#gGrey)"/>
<circle cx="1942.33" cy="368.99" r="7.08" fill="url(#gGrey)"/>
<circle cx="1721" cy="153.2" r="7.08" fill="url(#gGrey)"/>
<circle cx="1922.53" cy="319.33" r="7.08" fill="url(#gGrey)"/>
<circle cx="1693.43" cy="293.01" r="7.09" fill="url(#gGrey)"/>
<circle cx="1760.72" cy="83.66" r="7.09" fill="url(#gGrey)"/>
<circle cx="1932.3" cy="297.58" r="7.09" fill="url(#gGrey)"/>
<circle cx="1716.5" cy="279.95" r="7.1" fill="url(#gGrey)"/>
<circle cx="1694.43" cy="265.67" r="7.11" fill="url(#gGrey)"/>
<circle cx="1929.68" cy="364.34" r="7.11" fill="url(#gGrey)"/>
<circle cx="1751.57" cy="115.97" r="7.12" fill="url(#gGrey)"/>
<circle cx="1942.85" cy="112.71" r="7.12" fill="url(#gGrey)"/>
<circle cx="1914.41" cy="186.66" r="7.13" fill="url(#gGrey)"/>
<circle cx="1727.55" cy="386.82" r="7.13" fill="url(#gGrey)"/>
<circle cx="1898.87" cy="399.75" r="7.13" fill="url(#gGrey)"/>
<circle cx="1914.18" cy="80.78" r="7.14" fill="url(#gGrey)"/>
<circle cx="1700.94" cy="208.61" r="7.14" fill="url(#gGrey)"/>
<circle cx="1740.36" cy="378.2" r="7.15" fill="url(#gGrey)"/>
<circle cx="1869.78" cy="95.95" r="7.16" fill="url(#gGrey)"/>
<circle cx="1976.89" cy="245.38" r="7.17" fill="url(#gGrey)"/>
<circle cx="1825.02" cy="365.92" r="7.17" fill="url(#gGrey)"/>
<circle cx="1926.11" cy="386.78" r="7.17" fill="url(#gGrey)"/>
<circle cx="1843.22" cy="118.28" r="7.17" fill="url(#gGrey)"/>
<circle cx="1749.03" cy="135.02" r="7.18" fill="url(#gGrey)"/>
<circle cx="1741.39" cy="411.47" r="7.19" fill="url(#gGrey)"/>
<circle cx="1929.84" cy="326.31" r="7.19" fill="url(#gGrey)"/>
<circle cx="1818.78" cy="135.81" r="7.2" fill="url(#gGrey)"/>
<circle cx="1806.29" cy="96.89" r="7.2" fill="url(#gGrey)"/>
<circle cx="1898.64" cy="397.78" r="7.21" fill="url(#gGrey)"/>
<circle cx="1737.35" cy="396.62" r="7.21" fill="url(#gGrey)"/>
<circle cx="1732.82" cy="401.24" r="7.22" fill="url(#gGrey)"/>
<circle cx="1745.55" cy="86.86" r="7.22" fill="url(#gGrey)"/>
<circle cx="1724.72" cy="203.71" r="7.23" fill="url(#gGrey)"/>
<circle cx="1757.34" cy="160.87" r="7.23" fill="url(#gGrey)"/>
<circle cx="1894.46" cy="369.44" r="7.24" fill="url(#gGrey)"/>
<circle cx="1924.82" cy="151.49" r="7.24" fill="url(#gGrey)"/>
<circle cx="1934.02" cy="152.82" r="7.25" fill="url(#gGrey)"/>
<circle cx="1704.44" cy="270.62" r="7.25" fill="url(#gGrey)"/>
<circle cx="1928.37" cy="326.1" r="7.25" fill="url(#gGrey)"/>
<circle cx="1942.79" cy="417.22" r="7.25" fill="url(#gGrey)"/>
<circle cx="1934.14" cy="101.41" r="7.26" fill="url(#gGrey)"/>
<circle cx="1915.8" cy="156.68" r="7.26" fill="url(#gGrey)"/>
<circle cx="1832.92" cy="125.5" r="7.27" fill="url(#gGrey)"/>
<circle cx="1874.26" cy="126.29" r="7.27" fill="url(#gGrey)"/>
<circle cx="1902.07" cy="134.36" r="7.27" fill="url(#gGrey)"/>
<circle cx="1903.56" cy="162.8" r="7.28" fill="url(#gGrey)"/>
<circle cx="1818.65" cy="406.71" r="7.28" fill="url(#gGrey)"/>
<circle cx="1873.03" cy="139.51" r="7.28" fill="url(#gGrey)"/>
<circle cx="1746.27" cy="172.79" r="7.28" fill="url(#gGrey)"/>
<circle cx="1749.01" cy="131.7" r="7.29" fill="url(#gGrey)"/>
<circle cx="1937.35" cy="389.54" r="7.29" fill="url(#gGrey)"/>
<circle cx="1731.11" cy="214" r="7.29" fill="url(#gGrey)"/>
<circle cx="1899.21" cy="336.69" r="7.3" fill="url(#gGrey)"/>
<circle cx="1797.73" cy="373.24" r="7.3" fill="url(#gGrey)"/>
<circle cx="1721.11" cy="225.16" r="7.3" fill="url(#gGrey)"/>
<circle cx="1884.14" cy="127.72" r="7.3" fill="url(#gGrey)"/>
<circle cx="1912.98" cy="82.85" r="7.31" fill="url(#gGrey)"/>
<circle cx="1698.71" cy="294.97" r="7.33" fill="url(#gGrey)"/>
<circle cx="1773.15" cy="106.88" r="7.33" fill="url(#gGrey)"/>
<circle cx="1872.46" cy="380.74" r="7.33" fill="url(#gGrey)"/>
<circle cx="1877.75" cy="103.38" r="7.34" fill="url(#gGrey)"/>
<circle cx="1906.52" cy="326.74" r="7.34" fill="url(#gGrey)"/>
<circle cx="1942.75" cy="156.93" r="7.35" fill="url(#gGrey)"/>
<circle cx="1905.96" cy="403.55" r="7.35" fill="url(#gGrey)"/>
<circle cx="1891.3" cy="405.95" r="7.35" fill="url(#gGrey)"/>
<circle cx="1728.47" cy="277.04" r="7.35" fill="url(#gGrey)"/>
<circle cx="1936.34" cy="335.12" r="7.36" fill="url(#gGrey)"/>
<circle cx="1893.99" cy="126.39" r="7.36" fill="url(#gGrey)"/>
<circle cx="1917.65" cy="318.62" r="7.36" fill="url(#gGrey)"/>
<circle cx="1720.39" cy="135.17" r="7.36" fill="url(#gGrey)"/>
<circle cx="1932.03" cy="335.24" r="7.36" fill="url(#gGrey)"/>
<circle cx="1817.57" cy="366.89" r="7.36" fill="url(#gGrey)"/>
<circle cx="1926.51" cy="313.97" r="7.37" fill="url(#gGrey)"/>
<circle cx="1743.28" cy="87.31" r="7.37" fill="url(#gGrey)"/>
<circle cx="1899.11" cy="151.47" r="7.37" fill="url(#gGrey)"/>
<circle cx="1976.62" cy="267.22" r="7.37" fill="url(#gGrey)"/>
<circle cx="1712.5" cy="218.09" r="7.39" fill="url(#gGrey)"/>
<circle cx="1963.89" cy="311.01" r="7.39" fill="url(#gGrey)"/>
<circle cx="1755.18" cy="383" r="7.39" fill="url(#gGrey)"/>
<circle cx="1956.96" cy="175.8" r="7.4" fill="url(#gGrey)"/>
<circle cx="1695.33" cy="271.8" r="7.4" fill="url(#gGrey)"/>
<circle cx="1965.46" cy="234.73" r="7.4" fill="url(#gGrey)"/>
<circle cx="1913.93" cy="372.8" r="7.4" fill="url(#gGrey)"/>
<circle cx="1886.84" cy="367.48" r="7.4" fill="url(#gGrey)"/>
<circle cx="1933.24" cy="161.93" r="7.41" fill="url(#gGrey)"/>
<circle cx="1972.4" cy="243.64" r="7.41" fill="url(#gGrey)"/>
<circle cx="1787.2" cy="111.7" r="7.41" fill="url(#gGrey)"/>
<circle cx="1879.59" cy="105.74" r="7.42" fill="url(#gGrey)"/>
<circle cx="1730.71" cy="153.49" r="7.42" fill="url(#gGrey)"/>
<circle cx="1695.62" cy="230.21" r="7.42" fill="url(#gGrey)"/>
<circle cx="1749.16" cy="135.57" r="7.42" fill="url(#gGrey)"/>
<circle cx="1970.85" cy="292.5" r="7.43" fill="url(#gGrey)"/>
<circle cx="1716.48" cy="325.43" r="7.43" fill="url(#gGrey)"/>
<circle cx="1760.12" cy="155.36" r="7.43" fill="url(#gGrey)"/>
<circle cx="1825.64" cy="370.59" r="7.44" fill="url(#gGrey)"/>
<circle cx="1738.16" cy="153.03" r="7.44" fill="url(#gGrey)"/>
<circle cx="1899.46" cy="156.33" r="7.46" fill="url(#gGrey)"/>
<circle cx="1774.24" cy="119.21" r="7.46" fill="url(#gGrey)"/>
<circle cx="1994.69" cy="254.28" r="7.47" fill="url(#gGrey)"/>
<circle cx="1748.67" cy="106.89" r="7.47" fill="url(#gGrey)"/>
<circle cx="1731.32" cy="325.97" r="7.47" fill="url(#gGrey)"/>
<circle cx="1691.54" cy="272.93" r="7.48" fill="url(#gGrey)"/>
<circle cx="1901.63" cy="351.26" r="7.48" fill="url(#gGrey)"/>
<circle cx="1786.85" cy="122.66" r="7.49" fill="url(#gGrey)"/>
<circle cx="1706.02" cy="210.46" r="7.49" fill="url(#gGrey)"/>
<circle cx="1724.45" cy="285.06" r="7.49" fill="url(#gGrey)"/>
<circle cx="1877.79" cy="131.79" r="7.49" fill="url(#gGrey)"/>
<circle cx="1726.63" cy="216.56" r="7.49" fill="url(#gGrey)"/>
<circle cx="1890.48" cy="413.75" r="7.5" fill="url(#gGrey)"/>
<circle cx="1831.07" cy="389.24" r="7.5" fill="url(#gGrey)"/>
<circle cx="1898.42" cy="404.45" r="7.5" fill="url(#gGrey)"/>
<circle cx="1792.9" cy="352.92" r="7.51" fill="url(#gGrey)"/>
<circle cx="1708.47" cy="265.97" r="7.52" fill="url(#gGrey)"/>
<circle cx="1900.89" cy="131.22" r="7.53" fill="url(#gGrey)"/>
<circle cx="1713.32" cy="200.89" r="7.53" fill="url(#gGrey)"/>
<circle cx="1687.15" cy="237.07" r="7.53" fill="url(#gGrey)"/>
<circle cx="1861.81" cy="362.08" r="7.53" fill="url(#gGrey)"/>
<circle cx="1747.37" cy="346.05" r="7.53" fill="url(#gGrey)"/>
<circle cx="1886.53" cy="358.21" r="7.54" fill="url(#gGrey)"/>
<circle cx="1794.27" cy="404.44" r="7.56" fill="url(#gGrey)"/>
<circle cx="1698.31" cy="294.11" r="7.56" fill="url(#gGrey)"/>
<circle cx="1907.61" cy="155.95" r="7.56" fill="url(#gGrey)"/>
<circle cx="1862.12" cy="398.49" r="7.56" fill="url(#gGrey)"/>
<circle cx="1690.46" cy="231.17" r="7.56" fill="url(#gGrey)"/>
<circle cx="1778.76" cy="416.64" r="7.57" fill="url(#gGrey)"/>
<circle cx="1821.9" cy="405.66" r="7.57" fill="url(#gGrey)"/>
<circle cx="1745" cy="414.66" r="7.57" fill="url(#gGrey)"/>
<circle cx="1744.23" cy="149.34" r="7.58" fill="url(#gGrey)"/>
<circle cx="1757.02" cy="108.15" r="7.58" fill="url(#gGrey)"/>
<circle cx="1876.47" cy="77.71" r="7.58" fill="url(#gGrey)"/>
<circle cx="1802.12" cy="103.79" r="7.58" fill="url(#gGrey)"/>
<circle cx="1971.56" cy="297.88" r="7.59" fill="url(#gGrey)"/>
<circle cx="1700.27" cy="187.81" r="7.6" fill="url(#gGrey)"/>
<circle cx="1805.09" cy="97.06" r="7.6" fill="url(#gGrey)"/>
<circle cx="1946.9" cy="296.15" r="7.6" fill="url(#gGrey)"/>
<circle cx="1667.32" cy="255.33" r="7.61" fill="url(#gGrey)"/>
<circle cx="1678.66" cy="275.64" r="7.61" fill="url(#gGrey)"/>
<circle cx="1770.69" cy="414.69" r="7.61" fill="url(#gGrey)"/>
<circle cx="1936.32" cy="114.59" r="7.62" fill="url(#gGrey)"/>
<circle cx="1904.42" cy="352.66" r="7.62" fill="url(#gGrey)"/>
<circle cx="1863.26" cy="115.66" r="7.63" fill="url(#gGrey)"/>
<circle cx="1832.44" cy="379" r="7.63" fill="url(#gGrey)"/>
<circle cx="1936.29" cy="207.94" r="7.64" fill="url(#gGrey)"/>
<circle cx="1724.89" cy="370.95" r="7.64" fill="url(#gGrey)"/>
<circle cx="1900.18" cy="120.52" r="7.65" fill="url(#gGrey)"/>
<circle cx="1923.42" cy="145.64" r="7.65" fill="url(#gGrey)"/>
<circle cx="1707.39" cy="311.17" r="7.65" fill="url(#gGrey)"/>
<circle cx="1750.13" cy="103.13" r="7.65" fill="url(#gGrey)"/>
<circle cx="1740.78" cy="334.6" r="7.66" fill="url(#gGrey)"/>
<circle cx="1722.5" cy="175.19" r="7.66" fill="url(#gGrey)"/>
<circle cx="1843.52" cy="91.03" r="7.66" fill="url(#gGrey)"/>
<circle cx="1729.96" cy="320.9" r="7.67" fill="url(#gGrey)"/>
<circle cx="1696.49" cy="261.61" r="7.67" fill="url(#gGrey)"/>
<circle cx="1858" cy="400.07" r="7.67" fill="url(#gGrey)"/>
<circle cx="1685.11" cy="234.81" r="7.67" fill="url(#gGrey)"/>
<circle cx="1910.39" cy="362.16" r="7.68" fill="url(#gGrey)"/>
<circle cx="1747.96" cy="392.34" r="7.68" fill="url(#gGrey)"/>
<circle cx="1949.76" cy="330.33" r="7.68" fill="url(#gGrey)"/>
<circle cx="1848.33" cy="85.47" r="7.68" fill="url(#gGrey)"/>
<circle cx="1683.08" cy="221" r="7.69" fill="url(#gGrey)"/>
<circle cx="1749.76" cy="416.07" r="7.69" fill="url(#gGrey)"/>
<circle cx="1892.73" cy="365.11" r="7.7" fill="url(#gGrey)"/>
<circle cx="1927.99" cy="307.48" r="7.7" fill="url(#gGrey)"/>
<circle cx="1836.18" cy="407" r="7.7" fill="url(#gGrey)"/>
<circle cx="1873.32" cy="98.96" r="7.7" fill="url(#gGrey)"/>
<circle cx="1729.41" cy="315.09" r="7.71" fill="url(#gGrey)"/>
<circle cx="1695.69" cy="232.78" r="7.71" fill="url(#gGrey)"/>
<circle cx="1708.42" cy="183.97" r="7.71" fill="url(#gGrey)"/>
<circle cx="1937.99" cy="315.58" r="7.71" fill="url(#gGrey)"/>
<circle cx="1792" cy="94.63" r="7.72" fill="url(#gGrey)"/>
<circle cx="1688.42" cy="234.69" r="7.72" fill="url(#gGrey)"/>
<circle cx="1982.67" cy="243.98" r="7.73" fill="url(#gGrey)"/>
<circle cx="1960.32" cy="242.6" r="7.73" fill="url(#gGrey)"/>
<circle cx="1955.36" cy="322.69" r="7.73" fill="url(#gGrey)"/>
<circle cx="1972.47" cy="208.08" r="7.74" fill="url(#gGrey)"/>
<circle cx="1728.32" cy="101.47" r="7.74" fill="url(#gGrey)"/>
<circle cx="1877.67" cy="367.83" r="7.74" fill="url(#gGrey)"/>
<circle cx="1818.41" cy="79.67" r="7.75" fill="url(#gGrey)"/>
<circle cx="1804.63" cy="364.11" r="7.75" fill="url(#gGrey)"/>
<circle cx="1859.16" cy="144.61" r="7.75" fill="url(#gGrey)"/>
<circle cx="1936.42" cy="362.92" r="7.76" fill="url(#gGrey)"/>
<circle cx="1892.71" cy="136.98" r="7.77" fill="url(#gGrey)"/>
<circle cx="1810.65" cy="118.76" r="7.77" fill="url(#gGrey)"/>
<circle cx="1717.06" cy="191.54" r="7.77" fill="url(#gGrey)"/>
<circle cx="1712.89" cy="235.17" r="7.78" fill="url(#gGrey)"/>
<circle cx="1941.22" cy="400.18" r="7.78" fill="url(#gGrey)"/>
<circle cx="1690.33" cy="225.55" r="7.78" fill="url(#gGrey)"/>
<circle cx="1921.08" cy="307.14" r="7.78" fill="url(#gGrey)"/>
<circle cx="1790.41" cy="140.27" r="7.79" fill="url(#gGrey)"/>
<circle cx="1969.11" cy="289.21" r="7.79" fill="url(#gGrey)"/>
<circle cx="1956.62" cy="259.25" r="7.8" fill="url(#gGrey)"/>
<circle cx="1942.94" cy="398.29" r="7.8" fill="url(#gGrey)"/>
<circle cx="1784.4" cy="129.69" r="7.8" fill="url(#gGrey)"/>
<circle cx="1864.93" cy="405.7" r="7.81" fill="url(#gGrey)"/>
<circle cx="1751.29" cy="384.45" r="7.81" fill="url(#gGrey)"/>
<circle cx="1774.73" cy="406.93" r="7.82" fill="url(#gGrey)"/>
<circle cx="1921.57" cy="111.68" r="7.82" fill="url(#gGrey)"/>
<circle cx="1925.58" cy="397.69" r="7.82" fill="url(#gGrey)"/>
<circle cx="1888.66" cy="117.33" r="7.82" fill="url(#gGrey)"/>
<circle cx="1712.2" cy="214.27" r="7.83" fill="url(#gGrey)"/>
<circle cx="1722.49" cy="279.36" r="7.83" fill="url(#gGrey)"/>
<circle cx="1929.63" cy="195.07" r="7.83" fill="url(#gGrey)"/>
<circle cx="1713.73" cy="298.64" r="7.83" fill="url(#gGrey)"/>
<circle cx="1729.84" cy="169.02" r="7.83" fill="url(#gGrey)"/>
<circle cx="1876.49" cy="98.68" r="7.83" fill="url(#gGrey)"/>
<circle cx="1684.34" cy="230.41" r="7.83" fill="url(#gGrey)"/>
<circle cx="1802.9" cy="360.62" r="7.83" fill="url(#gGrey)"/>
<circle cx="1731.89" cy="181.7" r="7.84" fill="url(#gGrey)"/>
<circle cx="1908.14" cy="157.02" r="7.84" fill="url(#gGrey)"/>
<circle cx="1719.83" cy="395.2" r="7.84" fill="url(#gGrey)"/>
<circle cx="1719.05" cy="139.67" r="7.84" fill="url(#gGrey)"/>
<circle cx="1751.23" cy="130.69" r="7.84" fill="url(#gGrey)"/>
<circle cx="1987.92" cy="254.86" r="7.85" fill="url(#gGrey)"/>
<circle cx="1885.37" cy="116.29" r="7.86" fill="url(#gGrey)"/>
<circle cx="1820.05" cy="412.83" r="7.86" fill="url(#gGrey)"/>
<circle cx="1702.39" cy="265.05" r="7.86" fill="url(#gGrey)"/>
<circle cx="1836.68" cy="372.16" r="7.87" fill="url(#gGrey)"/>
<circle cx="1713.26" cy="258.11" r="7.87" fill="url(#gGrey)"/>
<circle cx="1766.71" cy="373.49" r="7.88" fill="url(#gGrey)"/>
<circle cx="1954.33" cy="285.74" r="7.88" fill="url(#gGrey)"/>
<circle cx="1809.07" cy="395.87" r="7.89" fill="url(#gGrey)"/>
<circle cx="1973.84" cy="289.29" r="7.89" fill="url(#gGrey)"/>
<circle cx="1725.92" cy="98.42" r="7.89" fill="url(#gGrey)"/>
<circle cx="1857.16" cy="106.02" r="7.89" fill="url(#gGrey)"/>
<circle cx="1689.62" cy="201.66" r="7.9" fill="url(#gGrey)"/>
<circle cx="1970.19" cy="212" r="7.9" fill="url(#gGrey)"/>
<circle cx="1764.18" cy="358.28" r="7.9" fill="url(#gGrey)"/>
<circle cx="1792.31" cy="132.81" r="7.9" fill="url(#gGrey)"/>
<circle cx="1844.11" cy="387.73" r="7.91" fill="url(#gGrey)"/>
<circle cx="1702.81" cy="247.6" r="7.91" fill="url(#gGrey)"/>
<circle cx="1898.83" cy="122.64" r="7.91" fill="url(#gGrey)"/>
<circle cx="1765.43" cy="98.5" r="7.91" fill="url(#gGrey)"/>
<circle cx="1940.43" cy="198.88" r="7.91" fill="url(#gGrey)"/>
<circle cx="1967.06" cy="282.34" r="7.91" fill="url(#gGrey)"/>
<circle cx="1757.45" cy="116.69" r="7.92" fill="url(#gGrey)"/>
<circle cx="1937.89" cy="80.02" r="7.92" fill="url(#gGrey)"/>
<circle cx="1951.94" cy="274.99" r="7.92" fill="url(#gGrey)"/>
<circle cx="1734.4" cy="417.3" r="7.93" fill="url(#gGrey)"/>
<circle cx="1849.69" cy="374.51" r="7.94" fill="url(#gGrey)"/>
<circle cx="1764.42" cy="379.83" r="7.94" fill="url(#gGrey)"/>
<circle cx="1724.85" cy="155.4" r="7.94" fill="url(#gGrey)"/>
<circle cx="1915.57" cy="389.13" r="7.95" fill="url(#gGrey)"/>
<circle cx="1808.84" cy="382.07" r="7.97" fill="url(#gGrey)"/>
<circle cx="1802.11" cy="396.77" r="7.97" fill="url(#gGrey)"/>
<circle cx="1876.28" cy="100.88" r="7.98" fill="url(#gGrey)"/>
<circle cx="1722.09" cy="105.42" r="7.98" fill="url(#gGrey)"/>
<circle cx="1746.43" cy="91.64" r="7.98" fill="url(#gGrey)"/>
<circle cx="1677.52" cy="236.76" r="7.98" fill="url(#gGrey)"/>
<circle cx="1913.13" cy="340.12" r="7.98" fill="url(#gGrey)"/>
<circle cx="1712.31" cy="251.76" r="7.98" fill="url(#gGrey)"/>
<circle cx="1939.81" cy="358.58" r="7.99" fill="url(#gGrey)"/>
<circle cx="1956.74" cy="246.58" r="7.99" fill="url(#gGrey)"/>
<circle cx="1940.44" cy="319.55" r="7.99" fill="url(#gGrey)"/>
<circle cx="1929.72" cy="116.57" r="8" fill="url(#gGrey)"/>
<circle cx="1764.97" cy="140.35" r="8" fill="url(#gGrey)"/>
<circle cx="1695.4" cy="247.45" r="8.01" fill="url(#gGrey)"/>
<circle cx="1711.44" cy="220.59" r="8.02" fill="url(#gGrey)"/>
<circle cx="1875.09" cy="77.59" r="8.02" fill="url(#gGrey)"/>
<circle cx="1798.67" cy="117.14" r="8.02" fill="url(#gGrey)"/>
<circle cx="1958.42" cy="290.2" r="8.03" fill="url(#gGrey)"/>
<circle cx="1739.12" cy="398.84" r="8.03" fill="url(#gGrey)"/>
<circle cx="1912.11" cy="164.75" r="8.03" fill="url(#gGrey)"/>
<circle cx="1675.78" cy="231.42" r="8.03" fill="url(#gGrey)"/>
<circle cx="1709.98" cy="327" r="8.04" fill="url(#gGrey)"/>
<circle cx="1921.1" cy="122.89" r="8.04" fill="url(#gGrey)"/>
<circle cx="1930.4" cy="376.86" r="8.04" fill="url(#gGrey)"/>
<circle cx="1911.43" cy="82.09" r="8.04" fill="url(#gGrey)"/>
<circle cx="1935.08" cy="144.73" r="8.04" fill="url(#gGrey)"/>
<circle cx="1896.14" cy="123.17" r="8.04" fill="url(#gGrey)"/>
<circle cx="1933.93" cy="344.66" r="8.05" fill="url(#gGrey)"/>
<circle cx="1942.79" cy="205.28" r="8.06" fill="url(#gGrey)"/>
<circle cx="1747.36" cy="389.72" r="8.06" fill="url(#gGrey)"/>
<circle cx="1931.91" cy="319.09" r="8.06" fill="url(#gGrey)"/>
<circle cx="1893.56" cy="110.66" r="8.06" fill="url(#gGrey)"/>
<circle cx="1902.12" cy="344.39" r="8.06" fill="url(#gGrey)"/>
<circle cx="1884.3" cy="123.19" r="8.06" fill="url(#gGrey)"/>
<circle cx="1842.42" cy="385.3" r="8.07" fill="url(#gGrey)"/>
<circle cx="1804.98" cy="388.99" r="8.08" fill="url(#gGrey)"/>
<circle cx="1908.67" cy="116.42" r="8.09" fill="url(#gGrey)"/>
<circle cx="1794.64" cy="367.14" r="8.09" fill="url(#gGrey)"/>
<circle cx="1729.79" cy="297.07" r="8.1" fill="url(#gGrey)"/>
<circle cx="1942.66" cy="296.16" r="8.11" fill="url(#gGrey)"/>
<circle cx="1834.61" cy="389.91" r="8.12" fill="url(#gGrey)"/>
<circle cx="1870.25" cy="89.09" r="8.12" fill="url(#gGrey)"/>
<circle cx="1882.25" cy="135.42" r="8.14" fill="url(#gGrey)"/>
<circle cx="1863.06" cy="372.25" r="8.14" fill="url(#gGrey)"/>
<circle cx="1720.43" cy="156.96" r="8.15" fill="url(#gGrey)"/>
<circle cx="1879.4" cy="373.91" r="8.15" fill="url(#gGrey)"/>
<circle cx="1803.14" cy="145.26" r="8.15" fill="url(#gGrey)"/>
<circle cx="1753.48" cy="399.22" r="8.16" fill="url(#gGrey)"/>
<circle cx="1830.6" cy="356.88" r="8.16" fill="url(#gGrey)"/>
<circle cx="1934.77" cy="160.64" r="8.16" fill="url(#gGrey)"/>
<circle cx="1875.85" cy="110.71" r="8.16" fill="url(#gGrey)"/>
<circle cx="1863.63" cy="79.15" r="8.17" fill="url(#gGrey)"/>
<circle cx="1715.57" cy="328.8" r="8.17" fill="url(#gGrey)"/>
<circle cx="1751.41" cy="332.07" r="8.17" fill="url(#gGrey)"/>
<circle cx="1847.66" cy="354.55" r="8.18" fill="url(#gGrey)"/>
<circle cx="1827.86" cy="393.06" r="8.18" fill="url(#gGrey)"/>
<circle cx="1945.62" cy="189.3" r="8.18" fill="url(#gGrey)"/>
<circle cx="1866.21" cy="357.03" r="8.18" fill="url(#gGrey)"/>
<circle cx="1957.3" cy="231.78" r="8.19" fill="url(#gGrey)"/>
<circle cx="1729.98" cy="396.87" r="8.19" fill="url(#gGrey)"/>
<circle cx="1806.66" cy="127.68" r="8.19" fill="url(#gGrey)"/>
<circle cx="1945.55" cy="232.54" r="8.19" fill="url(#gGrey)"/>
<circle cx="1810.44" cy="82.24" r="8.2" fill="url(#gGrey)"/>
<circle cx="1714.26" cy="202.17" r="8.2" fill="url(#gGrey)"/>
<circle cx="1693.42" cy="228.56" r="8.2" fill="url(#gGrey)"/>
<circle cx="1776.13" cy="377.77" r="8.2" fill="url(#gGrey)"/>
<circle cx="1745.48" cy="116.39" r="8.21" fill="url(#gGrey)"/>
<circle cx="1920.79" cy="367.98" r="8.21" fill="url(#gGrey)"/>
<circle cx="1756.45" cy="396.15" r="8.21" fill="url(#gGrey)"/>
<circle cx="1920.74" cy="101.38" r="8.21" fill="url(#gGrey)"/>
<circle cx="1951.31" cy="297.79" r="8.21" fill="url(#gGrey)"/>
<circle cx="1731.32" cy="403.63" r="8.23" fill="url(#gGrey)"/>
<circle cx="1845.08" cy="129.75" r="8.23" fill="url(#gGrey)"/>
<circle cx="1960.14" cy="261.79" r="8.23" fill="url(#gGrey)"/>
<circle cx="1858.13" cy="85.64" r="8.24" fill="url(#gGrey)"/>
<circle cx="1807.85" cy="411.14" r="8.24" fill="url(#gGrey)"/>
<circle cx="1971.95" cy="225.07" r="8.25" fill="url(#gGrey)"/>
<circle cx="1750.94" cy="113.03" r="8.26" fill="url(#gGrey)"/>
<circle cx="1921.48" cy="174.83" r="8.26" fill="url(#gGrey)"/>
<circle cx="1916.74" cy="391.88" r="8.26" fill="url(#gGrey)"/>
<circle cx="1751.46" cy="81.32" r="8.27" fill="url(#gGrey)"/>
<circle cx="1945.61" cy="309.08" r="8.28" fill="url(#gGrey)"/>
<circle cx="1959.04" cy="290.29" r="8.28" fill="url(#gGrey)"/>
<circle cx="1763.1" cy="367.69" r="8.28" fill="url(#gGrey)"/>
<circle cx="1924.55" cy="107.08" r="8.28" fill="url(#gGrey)"/>
<circle cx="1733.66" cy="170.7" r="8.28" fill="url(#gGrey)"/>
<circle cx="1893.92" cy="414.37" r="8.29" fill="url(#gGrey)"/>
<circle cx="1971.38" cy="298.18" r="8.29" fill="url(#gGrey)"/>
<circle cx="1750.9" cy="107.38" r="8.29" fill="url(#gGrey)"/>
<circle cx="1878.96" cy="118.21" r="8.3" fill="url(#gGrey)"/>
<circle cx="1733.58" cy="124.95" r="8.3" fill="url(#gGrey)"/>
<circle cx="1696.93" cy="271.37" r="8.3" fill="url(#gGrey)"/>
<circle cx="1712.02" cy="222.94" r="8.31" fill="url(#gGrey)"/>
<circle cx="1924.53" cy="91.57" r="8.31" fill="url(#gGrey)"/>
<circle cx="1835.41" cy="390.5" r="8.31" fill="url(#gGrey)"/>
<circle cx="1669.95" cy="238.83" r="8.32" fill="url(#gGrey)"/>
<circle cx="1876.57" cy="353.22" r="8.32" fill="url(#gGrey)"/>
<circle cx="1794.16" cy="112.35" r="8.32" fill="url(#gGrey)"/>
<circle cx="1779.83" cy="406.16" r="8.32" fill="url(#gGrey)"/>
<circle cx="1719.77" cy="200.36" r="8.32" fill="url(#gGrey)"/>
<circle cx="1864.86" cy="140.02" r="8.33" fill="url(#gGrey)"/>
<circle cx="1720.78" cy="335.84" r="8.33" fill="url(#gGrey)"/>
<circle cx="1797.9" cy="363.13" r="8.33" fill="url(#gGrey)"/>
<circle cx="1855.28" cy="132.78" r="8.33" fill="url(#gGrey)"/>
<circle cx="1816.5" cy="134.29" r="8.34" fill="url(#gGrey)"/>
<circle cx="1949.66" cy="233.07" r="8.34" fill="url(#gGrey)"/>
<circle cx="1873.64" cy="366.07" r="8.35" fill="url(#gGrey)"/>
<circle cx="1687.81" cy="210.32" r="8.35" fill="url(#gGrey)"/>
<circle cx="1969.15" cy="262.53" r="8.35" fill="url(#gGrey)"/>
<circle cx="1949.89" cy="274.98" r="8.36" fill="url(#gGrey)"/>
<circle cx="1912.76" cy="136.03" r="8.37" fill="url(#gGrey)"/>
<circle cx="1910.99" cy="168.95" r="8.37" fill="url(#gGrey)"/>
<circle cx="1925" cy="187.98" r="8.37" fill="url(#gGrey)"/>
<circle cx="1837.03" cy="387.06" r="8.38" fill="url(#gGrey)"/>
<circle cx="1896.61" cy="119.16" r="8.38" fill="url(#gGrey)"/>
<circle cx="1704.85" cy="174.69" r="8.38" fill="url(#gGrey)"/>
<circle cx="1697.76" cy="196.32" r="8.39" fill="url(#gGrey)"/>
<circle cx="1742.46" cy="103.51" r="8.4" fill="url(#gGrey)"/>
<circle cx="1803.58" cy="354.21" r="8.4" fill="url(#gGrey)"/>
<circle cx="1954.76" cy="268.38" r="8.41" fill="url(#gGrey)"/>
<circle cx="1956.77" cy="293.47" r="8.41" fill="url(#gGrey)"/>
<circle cx="1911.83" cy="77.59" r="8.41" fill="url(#gGrey)"/>
<circle cx="1855.9" cy="105.71" r="8.42" fill="url(#gGrey)"/>
<circle cx="1989.71" cy="234.94" r="8.42" fill="url(#gGrey)"/>
<circle cx="1795.06" cy="396.43" r="8.43" fill="url(#gGrey)"/>
<circle cx="1952.84" cy="255.46" r="8.43" fill="url(#gGrey)"/>
<circle cx="1964.12" cy="299.29" r="8.43" fill="url(#gGrey)"/>
<circle cx="1693.1" cy="198.23" r="8.43" fill="url(#gGrey)"/>
<circle cx="1923.9" cy="389.1" r="8.45" fill="url(#gGrey)"/>
<circle cx="1742.22" cy="191.44" r="8.46" fill="url(#gGrey)"/>
<circle cx="1905.6" cy="118.99" r="8.46" fill="url(#gGrey)"/>
<circle cx="1819.19" cy="120.69" r="8.46" fill="url(#gGrey)"/>
<circle cx="1734.13" cy="208.95" r="8.46" fill="url(#gGrey)"/>
<circle cx="1937.1" cy="334.22" r="8.46" fill="url(#gGrey)"/>
<circle cx="1938.1" cy="305.87" r="8.47" fill="url(#gGrey)"/>
<circle cx="1732.61" cy="380.64" r="8.48" fill="url(#gGrey)"/>
<circle cx="1775.06" cy="136.33" r="8.48" fill="url(#gGrey)"/>
<circle cx="1939.66" cy="402.62" r="8.48" fill="url(#gGrey)"/>
<circle cx="1863.62" cy="382.97" r="8.49" fill="url(#gGrey)"/>
<circle cx="1913.78" cy="142.37" r="8.49" fill="url(#gGrey)"/>
<circle cx="1752.28" cy="146.88" r="8.49" fill="url(#gGrey)"/>
<circle cx="1882.54" cy="414.42" r="8.49" fill="url(#gGrey)"/>
<circle cx="1712.03" cy="311.86" r="8.49" fill="url(#gGrey)"/>
<circle cx="1692.6" cy="272.9" r="8.49" fill="url(#gGrey)"/>
<circle cx="1792.64" cy="115.49" r="8.49" fill="url(#gGrey)"/>
<circle cx="1945.31" cy="293.72" r="8.49" fill="url(#gGrey)"/>
<circle cx="1879.56" cy="84.7" r="8.49" fill="url(#gGrey)"/>
<circle cx="1782.25" cy="357.62" r="8.5" fill="url(#gGrey)"/>
<circle cx="1952.67" cy="321.89" r="8.51" fill="url(#gGrey)"/>
<circle cx="1796.02" cy="397.48" r="8.51" fill="url(#gGrey)"/>
<circle cx="1954.45" cy="252.22" r="8.51" fill="url(#gGrey)"/>
<circle cx="1744.69" cy="403.99" r="8.52" fill="url(#gGrey)"/>
<circle cx="1740.65" cy="148.26" r="8.52" fill="url(#gGrey)"/>
<circle cx="1735.44" cy="101.41" r="8.52" fill="url(#gGrey)"/>
<circle cx="1891.88" cy="383.97" r="8.53" fill="url(#gGrey)"/>
<circle cx="1758.94" cy="152.21" r="8.53" fill="url(#gGrey)"/>
<circle cx="1969.92" cy="271.88" r="8.53" fill="url(#gGrey)"/>
<circle cx="1826.9" cy="384.42" r="8.53" fill="url(#gGrey)"/>
<circle cx="1913.7" cy="315.29" r="8.53" fill="url(#gGrey)"/>
<circle cx="1743.06" cy="99.56" r="8.53" fill="url(#gGrey)"/>
<circle cx="1929.45" cy="382.48" r="8.54" fill="url(#gGrey)"/>
<circle cx="1738.03" cy="89.17" r="8.54" fill="url(#gGrey)"/>
<circle cx="1932.36" cy="107.56" r="8.54" fill="url(#gGrey)"/>
<circle cx="1906.14" cy="351.76" r="8.54" fill="url(#gGrey)"/>
<circle cx="1867.74" cy="131.2" r="8.54" fill="url(#gGrey)"/>
<circle cx="1814.03" cy="384.75" r="8.54" fill="url(#gGrey)"/>
<circle cx="1999.76" cy="247.44" r="8.55" fill="url(#gGrey)"/>
<circle cx="1738.43" cy="330.3" r="8.56" fill="url(#gGrey)"/>
<circle cx="1717.33" cy="321.21" r="8.56" fill="url(#gGrey)"/>
<circle cx="1889.31" cy="352.94" r="8.57" fill="url(#gGrey)"/>
<circle cx="1802.2" cy="365.65" r="8.57" fill="url(#gGrey)"/>
<circle cx="1931.67" cy="316.94" r="8.57" fill="url(#gGrey)"/>
<circle cx="1884.01" cy="409.17" r="8.58" fill="url(#gGrey)"/>
<circle cx="1876.64" cy="406.3" r="8.58" fill="url(#gGrey)"/>
<circle cx="1718.08" cy="197.6" r="8.59" fill="url(#gGrey)"/>
<circle cx="1782.19" cy="129.57" r="8.59" fill="url(#gGrey)"/>
<circle cx="1926.2" cy="139.88" r="8.59" fill="url(#gGrey)"/>
<circle cx="1974" cy="213.24" r="8.6" fill="url(#gGrey)"/>
<circle cx="1917.81" cy="133.79" r="8.6" fill="url(#gGrey)"/>
<circle cx="1749.53" cy="167.45" r="8.6" fill="url(#gGrey)"/>
<circle cx="1832.93" cy="124.2" r="8.61" fill="url(#gGrey)"/>
<circle cx="1921.94" cy="325.08" r="8.61" fill="url(#gGrey)"/>
<circle cx="1804.94" cy="414.1" r="8.62" fill="url(#gGrey)"/>
<circle cx="1803.79" cy="139.23" r="8.62" fill="url(#gGrey)"/>
<circle cx="1721.02" cy="193.18" r="8.63" fill="url(#gGrey)"/>
<circle cx="1931.2" cy="289.62" r="8.64" fill="url(#gGrey)"/>
<circle cx="1764.7" cy="106.09" r="8.64" fill="url(#gGrey)"/>
<circle cx="1956.86" cy="219.15" r="8.64" fill="url(#gGrey)"/>
<circle cx="1974.34" cy="270.9" r="8.65" fill="url(#gGrey)"/>
<circle cx="1919.53" cy="105.67" r="8.65" fill="url(#gGrey)"/>
<circle cx="1753.37" cy="124.36" r="8.65" fill="url(#gGrey)"/>
<circle cx="1750.87" cy="324.51" r="8.66" fill="url(#gGrey)"/>
<circle cx="1731.7" cy="350.68" r="8.66" fill="url(#gGrey)"/>
<circle cx="1920.44" cy="146.32" r="8.66" fill="url(#gGrey)"/>
<circle cx="1937.39" cy="390.82" r="8.67" fill="url(#gGrey)"/>
<circle cx="1889.62" cy="107.98" r="8.67" fill="url(#gGrey)"/>
<circle cx="1874.58" cy="102.92" r="8.67" fill="url(#gGrey)"/>
<circle cx="1783.75" cy="95.06" r="8.67" fill="url(#gGrey)"/>
<circle cx="1795.59" cy="102.3" r="8.67" fill="url(#gGrey)"/>
<circle cx="1792.02" cy="363.43" r="8.67" fill="url(#gGrey)"/>
<circle cx="1726.68" cy="277.82" r="8.68" fill="url(#gGrey)"/>
<circle cx="1915.85" cy="341.79" r="8.68" fill="url(#gGrey)"/>
<circle cx="1790.26" cy="384.98" r="8.68" fill="url(#gGrey)"/>
<circle cx="1933.96" cy="414.98" r="8.69" fill="url(#gGrey)"/>
<circle cx="1940.05" cy="286.66" r="8.69" fill="url(#gGrey)"/>
<circle cx="1911.67" cy="176.36" r="8.7" fill="url(#gGrey)"/>
<circle cx="1877.16" cy="87.43" r="8.7" fill="url(#gGrey)"/>
<circle cx="1942.65" cy="96.46" r="8.7" fill="url(#gGrey)"/>
<circle cx="1977.89" cy="211.91" r="8.7" fill="url(#gGrey)"/>
<circle cx="1922.24" cy="377.5" r="8.71" fill="url(#gGrey)"/>
<circle cx="1692.5" cy="275.5" r="8.71" fill="url(#gGrey)"/>
<circle cx="1820.96" cy="123.93" r="8.72" fill="url(#gGrey)"/>
<circle cx="1810.29" cy="127.3" r="8.72" fill="url(#gGrey)"/>
<circle cx="1735.46" cy="171.76" r="8.72" fill="url(#gGrey)"/>
<circle cx="1744.38" cy="399.45" r="8.72" fill="url(#gGrey)"/>
<circle cx="1994.56" cy="251.78" r="8.74" fill="url(#gGrey)"/>
<circle cx="1743.71" cy="84.53" r="8.74" fill="url(#gGrey)"/>
<circle cx="1899.26" cy="378.26" r="8.75" fill="url(#gGrey)"/>
<circle cx="1980.91" cy="251.33" r="8.76" fill="url(#gGrey)"/>
<circle cx="1680.06" cy="266.63" r="8.76" fill="url(#gGrey)"/>
<circle cx="1924.76" cy="301.18" r="8.76" fill="url(#gGrey)"/>
<circle cx="1804.52" cy="127.57" r="8.76" fill="url(#gGrey)"/>
<circle cx="1711.21" cy="296.58" r="8.77" fill="url(#gGrey)"/>
<circle cx="1756.2" cy="138.88" r="8.77" fill="url(#gGrey)"/>
<circle cx="1972.21" cy="218.15" r="8.77" fill="url(#gGrey)"/>
<circle cx="1690.51" cy="288.56" r="8.77" fill="url(#gGrey)"/>
<circle cx="1916.75" cy="403.8" r="8.77" fill="url(#gGrey)"/>
<circle cx="1724.59" cy="178.5" r="8.78" fill="url(#gGrey)"/>
<circle cx="1949.65" cy="243.62" r="8.78" fill="url(#gGrey)"/>
<circle cx="1702.99" cy="319.79" r="8.78" fill="url(#gGrey)"/>
<circle cx="1817.13" cy="84.82" r="8.78" fill="url(#gGrey)"/>
<circle cx="1740.31" cy="343.98" r="8.78" fill="url(#gGrey)"/>
<circle cx="1744.51" cy="363.41" r="8.79" fill="url(#gGrey)"/>
<circle cx="1982.4" cy="274.56" r="8.79" fill="url(#gGrey)"/>
<circle cx="1932.36" cy="105.44" r="8.79" fill="url(#gGrey)"/>
<circle cx="1746.42" cy="405.02" r="8.79" fill="url(#gGrey)"/>
<circle cx="1817.59" cy="129.09" r="8.79" fill="url(#gGrey)"/>
<circle cx="1947.53" cy="185.82" r="8.82" fill="url(#gGrey)"/>
<circle cx="1834.81" cy="126.15" r="8.82" fill="url(#gGrey)"/>
<circle cx="1886.04" cy="122.3" r="8.83" fill="url(#gGrey)"/>
<circle cx="1740.49" cy="111.03" r="8.83" fill="url(#gGrey)"/>
<circle cx="1726.58" cy="92.81" r="8.84" fill="url(#gGrey)"/>
<circle cx="1769.79" cy="350.67" r="8.84" fill="url(#gGrey)"/>
<circle cx="1742.71" cy="312.99" r="8.85" fill="url(#gGrey)"/>
<circle cx="1941.28" cy="361.12" r="8.85" fill="url(#gGrey)"/>
<circle cx="1719.18" cy="282.7" r="8.86" fill="url(#gGrey)"/>
<circle cx="1892.78" cy="354.88" r="8.86" fill="url(#gGrey)"/>
<circle cx="1799.33" cy="84.48" r="8.86" fill="url(#gGrey)"/>
<circle cx="1724.54" cy="106.18" r="8.87" fill="url(#gGrey)"/>
<circle cx="1707.44" cy="215.95" r="8.88" fill="url(#gGrey)"/>
<circle cx="1773.26" cy="99.75" r="8.88" fill="url(#gGrey)"/>
<circle cx="1895.7" cy="377.4" r="8.88" fill="url(#gGrey)"/>
<circle cx="1900.26" cy="401.2" r="8.89" fill="url(#gGrey)"/>
<circle cx="1736.6" cy="303.95" r="8.89" fill="url(#gGrey)"/>
<circle cx="1907.94" cy="322.84" r="8.89" fill="url(#gGrey)"/>
<circle cx="1848.99" cy="126.63" r="8.9" fill="url(#gGrey)"/>
<circle cx="1770.16" cy="375.18" r="8.9" fill="url(#gGrey)"/>
<circle cx="1727.02" cy="209.54" r="8.9" fill="url(#gGrey)"/>
<circle cx="1838.23" cy="382" r="8.91" fill="url(#gGrey)"/>
<circle cx="1821.75" cy="401.99" r="8.91" fill="url(#gGrey)"/>
<circle cx="1897.94" cy="386.07" r="8.92" fill="url(#gGrey)"/>
<circle cx="1815.53" cy="83.5" r="8.94" fill="url(#gGrey)"/>
<circle cx="1902.02" cy="415.85" r="8.94" fill="url(#gGrey)"/>
<circle cx="1942.76" cy="361.53" r="8.94" fill="url(#gGrey)"/>
<circle cx="1704.72" cy="251.95" r="8.95" fill="url(#gGrey)"/>
<circle cx="1953.5" cy="204.53" r="8.95" fill="url(#gGrey)"/>
<circle cx="1776.57" cy="138.65" r="8.95" fill="url(#gGrey)"/>
<circle cx="1794.52" cy="109.64" r="8.96" fill="url(#gGrey)"/>
<circle cx="1838.12" cy="390.2" r="8.96" fill="url(#gGrey)"/>
<circle cx="1884.35" cy="368.24" r="8.97" fill="url(#gGrey)"/>
<circle cx="1835.53" cy="368.93" r="8.97" fill="url(#gGrey)"/>
<circle cx="1757.73" cy="164.42" r="8.97" fill="url(#gGrey)"/>
<circle cx="1739.58" cy="350.93" r="8.97" fill="url(#gGrey)"/>
<circle cx="1872.86" cy="90.13" r="8.97" fill="url(#gGrey)"/>
<circle cx="1899.91" cy="149.05" r="8.98" fill="url(#gGrey)"/>
<circle cx="1781.6" cy="98.07" r="8.98" fill="url(#gGrey)"/>
<circle cx="1734.02" cy="377.61" r="8.99" fill="url(#gGrey)"/>
<circle cx="1787.1" cy="374.33" r="8.99" fill="url(#gGrey)"/>
<circle cx="1922.31" cy="379.05" r="8.99" fill="url(#gGrey)"/>
<circle cx="1868.7" cy="381.04" r="9" fill="url(#gGrey)"/>
<circle cx="1976.71" cy="233.16" r="9" fill="url(#gGrey)"/>
<circle cx="1791.1" cy="129.57" r="9.01" fill="url(#gGrey)"/>
<circle cx="1711.16" cy="209.97" r="9.02" fill="url(#gGrey)"/>
<circle cx="1752.32" cy="356.22" r="9.02" fill="url(#gGrey)"/>
<circle cx="1924.26" cy="148.6" r="9.02" fill="url(#gGrey)"/>
<circle cx="1850.71" cy="104.72" r="9.02" fill="url(#gGrey)"/>
<circle cx="1954.32" cy="270.21" r="9.03" fill="url(#gGrey)"/>
<circle cx="1837.94" cy="354.51" r="9.03" fill="url(#gGrey)"/>
<circle cx="1741.53" cy="356.41" r="9.04" fill="url(#gGrey)"/>
<circle cx="1786.82" cy="120.68" r="9.04" fill="url(#gGrey)"/>
<circle cx="1747.28" cy="321.25" r="9.06" fill="url(#gGrey)"/>
<circle cx="1803.65" cy="122.76" r="9.06" fill="url(#gGrey)"/>
<circle cx="1950.9" cy="265.25" r="9.06" fill="url(#gGrey)"/>
<circle cx="1975.81" cy="233.41" r="9.07" fill="url(#gGrey)"/>
<circle cx="1982.42" cy="228.38" r="9.07" fill="url(#gGrey)"/>
<circle cx="1830.39" cy="382.56" r="9.07" fill="url(#gGrey)"/>
<circle cx="1923.14" cy="171.64" r="9.08" fill="url(#gGrey)"/>
<circle cx="1699.14" cy="188" r="9.08" fill="url(#gGrey)"/>
<circle cx="1894.04" cy="84.08" r="9.08" fill="url(#gGrey)"/>
<circle cx="1822.23" cy="400.33" r="9.08" fill="url(#gGrey)"/>
<circle cx="1977.96" cy="257.92" r="9.09" fill="url(#gGrey)"/>
<circle cx="1940.37" cy="413.74" r="9.09" fill="url(#gGrey)"/>
<circle cx="1726.93" cy="167.91" r="9.09" fill="url(#gGrey)"/>
<circle cx="1732.94" cy="110.03" r="9.1" fill="url(#gGrey)"/>
<circle cx="1699.02" cy="269.89" r="9.11" fill="url(#gGrey)"/>
<circle cx="1822.73" cy="396.95" r="9.12" fill="url(#gGrey)"/>
<circle cx="1903.78" cy="121.68" r="9.14" fill="url(#gGrey)"/>
<circle cx="1837.29" cy="384.3" r="9.15" fill="url(#gGrey)"/>
<circle cx="1952.6" cy="287.18" r="9.16" fill="url(#gGrey)"/>
<circle cx="1814.27" cy="375.71" r="9.16" fill="url(#gGrey)"/>
<circle cx="1754.64" cy="162.98" r="9.16" fill="url(#gGrey)"/>
<circle cx="1719.82" cy="175.34" r="9.16" fill="url(#gGrey)"/>
<circle cx="1959.57" cy="227.48" r="9.17" fill="url(#gGrey)"/>
<circle cx="1792.31" cy="103.01" r="9.17" fill="url(#gGrey)"/>
<circle cx="1706.82" cy="213.71" r="9.18" fill="url(#gGrey)"/>
<circle cx="1927.9" cy="395.63" r="9.18" fill="url(#gGrey)"/>
<circle cx="1973.12" cy="204.52" r="9.19" fill="url(#gGrey)"/>
<circle cx="1940.77" cy="269.21" r="9.19" fill="url(#gGrey)"/>
<circle cx="1721.79" cy="313.75" r="9.2" fill="url(#gGrey)"/>
<circle cx="1967.09" cy="257.97" r="9.2" fill="url(#gGrey)"/>
<circle cx="1713.44" cy="172.02" r="9.21" fill="url(#gGrey)"/>
<circle cx="1699.76" cy="209.98" r="9.21" fill="url(#gGrey)"/>
<circle cx="1930.23" cy="284.08" r="9.21" fill="url(#gGrey)"/>
<circle cx="1784.32" cy="379.98" r="9.22" fill="url(#gGrey)"/>
<circle cx="1697.38" cy="297.1" r="9.23" fill="url(#gGrey)"/>
<circle cx="1938.15" cy="358.82" r="9.23" fill="url(#gGrey)"/>
<circle cx="1695.4" cy="196.33" r="9.24" fill="url(#gGrey)"/>
<circle cx="1805.86" cy="361.58" r="9.25" fill="url(#gGrey)"/>
<circle cx="1826.38" cy="131.78" r="9.25" fill="url(#gGrey)"/>
<circle cx="1851.56" cy="406.54" r="9.25" fill="url(#gGrey)"/>
<circle cx="1701.07" cy="202.25" r="9.25" fill="url(#gGrey)"/>
<circle cx="1975.6" cy="237.71" r="9.26" fill="url(#gGrey)"/>
<circle cx="1976.31" cy="238.01" r="9.26" fill="url(#gGrey)"/>
<circle cx="1826.41" cy="95.89" r="9.26" fill="url(#gGrey)"/>
<circle cx="1717.31" cy="229.38" r="9.26" fill="url(#gGrey)"/>
<circle cx="1690.73" cy="239" r="9.27" fill="url(#gGrey)"/>
<circle cx="1704.96" cy="269.26" r="9.28" fill="url(#gGrey)"/>
<circle cx="1945" cy="209.23" r="9.29" fill="url(#gGrey)"/>
<circle cx="1848.97" cy="94.05" r="9.29" fill="url(#gGrey)"/>
<circle cx="1729.26" cy="182.71" r="9.3" fill="url(#gGrey)"/>
<circle cx="1734.41" cy="388.28" r="9.3" fill="url(#gGrey)"/>
<circle cx="1718.15" cy="213.6" r="9.3" fill="url(#gGrey)"/>
<circle cx="1737.65" cy="381.65" r="9.3" fill="url(#gGrey)"/>
<circle cx="1744.37" cy="394.84" r="9.3" fill="url(#gGrey)"/>
<circle cx="1711.85" cy="206.14" r="9.3" fill="url(#gGrey)"/>
<circle cx="1929.62" cy="360.01" r="9.31" fill="url(#gGrey)"/>
<circle cx="1747.6" cy="163.88" r="9.32" fill="url(#gGrey)"/>
<circle cx="1882.66" cy="92.69" r="9.32" fill="url(#gGrey)"/>
<circle cx="1693.65" cy="265.44" r="9.32" fill="url(#gGrey)"/>
<circle cx="1878.87" cy="141.62" r="9.32" fill="url(#gGrey)"/>
<circle cx="1673.2" cy="247.56" r="9.33" fill="url(#gGrey)"/>
<circle cx="1720" cy="300.94" r="9.35" fill="url(#gGrey)"/>
<circle cx="1704.71" cy="188.89" r="9.35" fill="url(#gGrey)"/>
<circle cx="1752.01" cy="143.15" r="9.35" fill="url(#gGrey)"/>
<circle cx="1974.44" cy="265.54" r="9.35" fill="url(#gGrey)"/>
<circle cx="1914.55" cy="372.98" r="9.35" fill="url(#gGrey)"/>
<circle cx="1688.19" cy="268.83" r="9.35" fill="url(#gGrey)"/>
<circle cx="1764.66" cy="94.94" r="9.36" fill="url(#gGrey)"/>
<circle cx="1943.33" cy="231.55" r="9.36" fill="url(#gGrey)"/>
<circle cx="1872.81" cy="373.98" r="9.36" fill="url(#gGrey)"/>
<circle cx="1727.33" cy="129.22" r="9.36" fill="url(#gGrey)"/>
<circle cx="1899.77" cy="100.24" r="9.37" fill="url(#gGrey)"/>
<circle cx="1752.57" cy="134" r="9.37" fill="url(#gGrey)"/>
<circle cx="1758.02" cy="347.38" r="9.37" fill="url(#gGrey)"/>
<circle cx="1739.39" cy="175.52" r="9.38" fill="url(#gGrey)"/>
<circle cx="1948.75" cy="324.4" r="9.38" fill="url(#gGrey)"/>
<circle cx="1902.13" cy="349.97" r="9.39" fill="url(#gGrey)"/>
<circle cx="1800.23" cy="370.93" r="9.39" fill="url(#gGrey)"/>
<circle cx="1681.78" cy="234.14" r="9.4" fill="url(#gGrey)"/>
<circle cx="1978.38" cy="225.15" r="9.4" fill="url(#gGrey)"/>
<circle cx="1726.28" cy="348.36" r="9.4" fill="url(#gGrey)"/>
<circle cx="1891.19" cy="121.12" r="9.4" fill="url(#gGrey)"/>
<circle cx="1756.73" cy="332.03" r="9.41" fill="url(#gGrey)"/>
<circle cx="1853.31" cy="411.61" r="9.41" fill="url(#gGrey)"/>
<circle cx="1979.35" cy="250.5" r="9.41" fill="url(#gGrey)"/>
<circle cx="1827.01" cy="87.4" r="9.41" fill="url(#gGrey)"/>
<circle cx="1763.72" cy="151.54" r="9.41" fill="url(#gGrey)"/>
<circle cx="1934.05" cy="335.97" r="9.41" fill="url(#gGrey)"/>
<circle cx="1719.61" cy="389.62" r="9.42" fill="url(#gGrey)"/>
<circle cx="1930.81" cy="131.72" r="9.42" fill="url(#gGrey)"/>
<circle cx="1951.41" cy="318.12" r="9.42" fill="url(#gGrey)"/>
<circle cx="1901.88" cy="352.77" r="9.43" fill="url(#gGrey)"/>
<circle cx="1843.89" cy="127.12" r="9.43" fill="url(#gGrey)"/>
<circle cx="1943.2" cy="317.74" r="9.44" fill="url(#gGrey)"/>
<circle cx="1832.47" cy="125.04" r="9.45" fill="url(#gGrey)"/>
<circle cx="1759.73" cy="86.26" r="9.45" fill="url(#gGrey)"/>
<circle cx="1788.43" cy="130.96" r="9.45" fill="url(#gGrey)"/>
<circle cx="1920.14" cy="311.08" r="9.46" fill="url(#gGrey)"/>
<circle cx="1720.72" cy="330.48" r="9.46" fill="url(#gGrey)"/>
<circle cx="1816.48" cy="409.34" r="9.47" fill="url(#gGrey)"/>
<circle cx="1815.92" cy="354.35" r="9.48" fill="url(#gGrey)"/>
<circle cx="1712.12" cy="187.96" r="9.49" fill="url(#gGrey)"/>
<circle cx="1982.97" cy="228.46" r="9.49" fill="url(#gGrey)"/>
<circle cx="1833.18" cy="355.99" r="9.49" fill="url(#gGrey)"/>
<circle cx="1926.62" cy="106.49" r="9.5" fill="url(#gGrey)"/>
<circle cx="1704.32" cy="151.42" r="9" fill="url(#gRedA)"/>
<circle cx="1689.09" cy="157.72" r="9" fill="url(#gRedA)"/>
<circle cx="1691.34" cy="141.39" r="9" fill="url(#gRedA)"/>
<circle cx="1695.9" cy="149.2" r="8" fill="url(#gRedB)"/>
<circle cx="1819.83" cy="161.09" r="9" fill="url(#gRedA)"/>
<circle cx="1804.25" cy="166.45" r="9" fill="url(#gRedA)"/>
<circle cx="1807.48" cy="150.29" r="9" fill="url(#gRedA)"/>
<circle cx="1811.5" cy="158.3" r="8" fill="url(#gRedB)"/>
<circle cx="1839.5" cy="89.38" r="9" fill="url(#gRedA)"/>
<circle cx="1853.81" cy="81.21" r="9" fill="url(#gRedA)"/>
<circle cx="1853.64" cy="97.69" r="9" fill="url(#gRedA)"/>
<circle cx="1850" cy="88.4" r="8" fill="url(#gRedB)"/>
<circle cx="1951.95" cy="99.79" r="9" fill="url(#gRedA)"/>
<circle cx="1963.07" cy="87.63" r="9" fill="url(#gRedA)"/>
<circle cx="1967.96" cy="103.37" r="9" fill="url(#gRedA)"/>
<circle cx="1962" cy="95.9" r="8" fill="url(#gRedB)"/>
<circle cx="1898.9" cy="179.44" r="9" fill="url(#gRedA)"/>
<circle cx="1903.74" cy="195.19" r="9" fill="url(#gRedA)"/>
<circle cx="1887.7" cy="191.41" r="9" fill="url(#gRedA)"/>
<circle cx="1897.8" cy="187.7" r="8" fill="url(#gRedB)"/>
<circle cx="1978.25" cy="173.72" r="9" fill="url(#gRedA)"/>
<circle cx="1985.46" cy="188.54" r="9" fill="url(#gRedA)"/>
<circle cx="1969.02" cy="187.28" r="9" fill="url(#gRedA)"/>
<circle cx="1978.6" cy="182.2" r="8" fill="url(#gRedB)"/>
<circle cx="1746.21" cy="208.76" r="9" fill="url(#gRedA)"/>
<circle cx="1751.7" cy="224.29" r="9" fill="url(#gRedA)"/>
<circle cx="1735.52" cy="221.19" r="9" fill="url(#gRedA)"/>
<circle cx="1745.5" cy="217.1" r="8" fill="url(#gRedB)"/>
<circle cx="1903.81" cy="276.41" r="9" fill="url(#gRedA)"/>
<circle cx="1918.43" cy="268.8" r="9" fill="url(#gRedA)"/>
<circle cx="1917.62" cy="285.26" r="9" fill="url(#gRedA)"/>
<circle cx="1914.3" cy="275.8" r="8" fill="url(#gRedB)"/>
<circle cx="1689.31" cy="310.91" r="9" fill="url(#gRedA)"/>
<circle cx="1677.93" cy="322.82" r="9" fill="url(#gRedA)"/>
<circle cx="1673.38" cy="306.98" r="9" fill="url(#gRedA)"/>
<circle cx="1681.2" cy="312.6" r="8" fill="url(#gRedB)"/>
<circle cx="1755.73" cy="314.11" r="9" fill="url(#gRedA)"/>
<circle cx="1756.83" cy="297.66" r="9" fill="url(#gRedA)"/>
<circle cx="1770.47" cy="306.91" r="9" fill="url(#gRedA)"/>
<circle cx="1762" cy="305.2" r="8" fill="url(#gRedB)"/>
<circle cx="1842.47" cy="341.98" r="9" fill="url(#gRedA)"/>
<circle cx="1842.68" cy="325.5" r="9" fill="url(#gRedA)"/>
<circle cx="1856.8" cy="334" r="9" fill="url(#gRedA)"/>
<circle cx="1848.3" cy="332.8" r="8" fill="url(#gRedB)"/>
<circle cx="1972.5" cy="342.74" r="9" fill="url(#gRedA)"/>
<circle cx="1958.34" cy="351.18" r="9" fill="url(#gRedA)"/>
<circle cx="1958.2" cy="334.7" r="9" fill="url(#gRedA)"/>
<circle cx="1964" cy="341.9" r="8" fill="url(#gRedB)"/>
<circle cx="1696.5" cy="386.84" r="9" fill="url(#gRedA)"/>
<circle cx="1702.18" cy="402.31" r="9" fill="url(#gRedA)"/>
<circle cx="1685.95" cy="399.4" r="9" fill="url(#gRedA)"/>
<circle cx="1695.9" cy="395.2" r="8" fill="url(#gRedB)"/>
<circle cx="1818.14" cy="411.07" r="9" fill="url(#gRedA)"/>
<circle cx="1802.97" cy="404.64" r="9" fill="url(#gRedA)"/>
<circle cx="1816.18" cy="394.79" r="9" fill="url(#gRedA)"/>
<circle cx="1813.4" cy="402.5" r="8" fill="url(#gRedB)"/>
</g>
<rect x="1668.5" y="87.3" width="324.6" height="321.1" fill="none" stroke="#2a2a2a" stroke-width="2.2"/>
<clipPath id="clipM2"><rect x="1670.5" y="570.7" width="325.5" height="324.9"/></clipPath>
<g clip-path="url(#clipM2)">
<rect x="1670.5" y="570.7" width="325.5" height="324.9" fill="#fcf3ea"/>
<ellipse cx="1832.5" cy="733" rx="103" ry="95" fill="url(#gDen)"/>
<g filter="url(#fBlur)">
<ellipse cx="1783" cy="656.8" rx="12.5" ry="8.5" transform="rotate(-33.09 1783 656.8)" fill="#f0a060" opacity="0.55"/>
<ellipse cx="1871.1" cy="649.5" rx="12.5" ry="8.5" transform="rotate(25.36 1871.1 649.5)" fill="#f0a060" opacity="0.55"/>
<ellipse cx="1806.9" cy="669.6" rx="12.5" ry="8.5" transform="rotate(-21.91 1806.9 669.6)" fill="#f0a060" opacity="0.55"/>
<ellipse cx="1777.5" cy="682.5" rx="12.5" ry="8.5" transform="rotate(-47.75 1777.5 682.5)" fill="#f0a060" opacity="0.55"/>
<ellipse cx="1869.3" cy="680.7" rx="12.5" ry="8.5" transform="rotate(36.02 1869.3 680.7)" fill="#f0a060" opacity="0.55"/>
<ellipse cx="1902.3" cy="710" rx="12.5" ry="8.5" transform="rotate(72.62 1902.3 710)" fill="#f0a060" opacity="0.55"/>
<ellipse cx="1768.3" cy="726.6" rx="12.5" ry="8.5" transform="rotate(-85.15 1768.3 726.6)" fill="#f0a060" opacity="0.55"/>
<ellipse cx="1740.8" cy="737.6" rx="12.5" ry="8.5" transform="rotate(266.49 1740.8 737.6)" fill="#f0a060" opacity="0.55"/>
<ellipse cx="1924.4" cy="730.2" rx="12.5" ry="8.5" transform="rotate(88.88 1924.4 730.2)" fill="#f0a060" opacity="0.55"/>
<ellipse cx="1898.7" cy="742.2" rx="12.5" ry="8.5" transform="rotate(98.69 1898.7 742.2)" fill="#f0a060" opacity="0.55"/>
<ellipse cx="1762.8" cy="754.1" rx="12.5" ry="8.5" transform="rotate(252.29 1762.8 754.1)" fill="#f0a060" opacity="0.55"/>
<ellipse cx="1790.3" cy="783.5" rx="12.5" ry="8.5" transform="rotate(219 1790.3 783.5)" fill="#f0a060" opacity="0.55"/>
<ellipse cx="1885.8" cy="781.6" rx="12.5" ry="8.5" transform="rotate(132.67 1885.8 781.6)" fill="#f0a060" opacity="0.55"/>
<ellipse cx="1858.3" cy="790.8" rx="12.5" ry="8.5" transform="rotate(155.9 1858.3 790.8)" fill="#f0a060" opacity="0.55"/>
<ellipse cx="1816" cy="801.8" rx="12.5" ry="8.5" transform="rotate(192.91 1816 801.8)" fill="#f0a060" opacity="0.55"/>
<ellipse cx="1790.3" cy="814.7" rx="12.5" ry="8.5" transform="rotate(206.76 1790.3 814.7)" fill="#f0a060" opacity="0.55"/>
<ellipse cx="1882.1" cy="807.3" rx="12.5" ry="8.5" transform="rotate(146.36 1882.1 807.3)" fill="#f0a060" opacity="0.55"/>
<ellipse cx="1849.1" cy="662.3" rx="9" ry="6.5" fill="#eea060" opacity="0.6"/>
<ellipse cx="1830.7" cy="686.2" rx="9" ry="6.5" fill="#eea060" opacity="0.6"/>
<ellipse cx="1795.9" cy="710" rx="9" ry="6.5" fill="#eea060" opacity="0.6"/>
<ellipse cx="1795.9" cy="756" rx="9" ry="6.5" fill="#eea060" opacity="0.6"/>
<ellipse cx="1828.9" cy="774.3" rx="9" ry="6.5" fill="#eea060" opacity="0.6"/>
<ellipse cx="1873" cy="754.1" rx="9" ry="6.5" fill="#eea060" opacity="0.6"/>
<ellipse cx="1783" cy="656.8" rx="8.5" ry="5.6" transform="rotate(-33.09 1783 656.8)" fill="#c23a08"/>
<ellipse cx="1871.1" cy="649.5" rx="8.5" ry="5.6" transform="rotate(25.36 1871.1 649.5)" fill="#c23a08"/>
<ellipse cx="1806.9" cy="669.6" rx="8.5" ry="5.6" transform="rotate(-21.91 1806.9 669.6)" fill="#c23a08"/>
<ellipse cx="1777.5" cy="682.5" rx="8.5" ry="5.6" transform="rotate(-47.75 1777.5 682.5)" fill="#c23a08"/>
<ellipse cx="1869.3" cy="680.7" rx="8.5" ry="5.6" transform="rotate(36.02 1869.3 680.7)" fill="#c23a08"/>
<ellipse cx="1902.3" cy="710" rx="8.5" ry="5.6" transform="rotate(72.62 1902.3 710)" fill="#c23a08"/>
<ellipse cx="1768.3" cy="726.6" rx="8.5" ry="5.6" transform="rotate(-85.15 1768.3 726.6)" fill="#c23a08"/>
<ellipse cx="1740.8" cy="737.6" rx="8.5" ry="5.6" transform="rotate(266.49 1740.8 737.6)" fill="#c23a08"/>
<ellipse cx="1924.4" cy="730.2" rx="8.5" ry="5.6" transform="rotate(88.88 1924.4 730.2)" fill="#c23a08"/>
<ellipse cx="1898.7" cy="742.2" rx="8.5" ry="5.6" transform="rotate(98.69 1898.7 742.2)" fill="#c23a08"/>
<ellipse cx="1762.8" cy="754.1" rx="8.5" ry="5.6" transform="rotate(252.29 1762.8 754.1)" fill="#c23a08"/>
<ellipse cx="1790.3" cy="783.5" rx="8.5" ry="5.6" transform="rotate(219 1790.3 783.5)" fill="#c23a08"/>
<ellipse cx="1885.8" cy="781.6" rx="8.5" ry="5.6" transform="rotate(132.67 1885.8 781.6)" fill="#c23a08"/>
<ellipse cx="1858.3" cy="790.8" rx="8.5" ry="5.6" transform="rotate(155.9 1858.3 790.8)" fill="#c23a08"/>
<ellipse cx="1816" cy="801.8" rx="8.5" ry="5.6" transform="rotate(192.91 1816 801.8)" fill="#c23a08"/>
<ellipse cx="1790.3" cy="814.7" rx="8.5" ry="5.6" transform="rotate(206.76 1790.3 814.7)" fill="#c23a08"/>
<ellipse cx="1882.1" cy="807.3" rx="8.5" ry="5.6" transform="rotate(146.36 1882.1 807.3)" fill="#c23a08"/>
</g>
<path d="M1994.16,733 L1913.33,873 L1751.67,873 L1670.84,733 L1751.67,593 L1913.33,593Z M1959.52,733 L1896.01,843 L1768.99,843 L1705.48,733 L1768.99,623 L1896.01,623Z" fill-rule="evenodd" fill="#a9a9a9" filter="url(#fBlur)"/>
<circle cx="1739.32" cy="847.16" r="5.5" fill="url(#gGrey2)"/>
<circle cx="1718.3" cy="712.17" r="5.5" fill="url(#gGrey2)"/>
<circle cx="1746.83" cy="640.64" r="5.51" fill="url(#gGrey2)"/>
<circle cx="1724.13" cy="760.06" r="5.51" fill="url(#gGrey2)"/>
<circle cx="1723.47" cy="674.14" r="5.52" fill="url(#gGrey2)"/>
<circle cx="1857.02" cy="901.8" r="5.52" fill="url(#gGrey2)"/>
<circle cx="1872.05" cy="623.74" r="5.52" fill="url(#gGrey2)"/>
<circle cx="1703.27" cy="754.67" r="5.52" fill="url(#gGrey2)"/>
<circle cx="1892.2" cy="607.08" r="5.53" fill="url(#gGrey2)"/>
<circle cx="1742.98" cy="846.66" r="5.53" fill="url(#gGrey2)"/>
<circle cx="1790.94" cy="900.98" r="5.53" fill="url(#gGrey2)"/>
<circle cx="1960.66" cy="664.66" r="5.53" fill="url(#gGrey2)"/>
<circle cx="1806.68" cy="894.24" r="5.55" fill="url(#gGrey2)"/>
<circle cx="1804.65" cy="860.79" r="5.55" fill="url(#gGrey2)"/>
<circle cx="1773.43" cy="847.41" r="5.55" fill="url(#gGrey2)"/>
<circle cx="1739.92" cy="870.58" r="5.56" fill="url(#gGrey2)"/>
<circle cx="1861.33" cy="864.35" r="5.56" fill="url(#gGrey2)"/>
<circle cx="1954.39" cy="722.65" r="5.56" fill="url(#gGrey2)"/>
<circle cx="1888.53" cy="593.02" r="5.56" fill="url(#gGrey2)"/>
<circle cx="1781.43" cy="876.84" r="5.57" fill="url(#gGrey2)"/>
<circle cx="1980.78" cy="711.25" r="5.57" fill="url(#gGrey2)"/>
<circle cx="1833.56" cy="572.73" r="5.57" fill="url(#gGrey2)"/>
<circle cx="1729.78" cy="884.21" r="5.58" fill="url(#gGrey2)"/>
<circle cx="1804.5" cy="886.25" r="5.58" fill="url(#gGrey2)"/>
<circle cx="1675.83" cy="728.21" r="5.58" fill="url(#gGrey2)"/>
<circle cx="1752.06" cy="825.35" r="5.58" fill="url(#gGrey2)"/>
<circle cx="1719.22" cy="781.95" r="5.59" fill="url(#gGrey2)"/>
<circle cx="1727.11" cy="666.16" r="5.59" fill="url(#gGrey2)"/>
<circle cx="1810.98" cy="848.22" r="5.59" fill="url(#gGrey2)"/>
<circle cx="1815.64" cy="616.8" r="5.6" fill="url(#gGrey2)"/>
<circle cx="1696.5" cy="694.89" r="5.6" fill="url(#gGrey2)"/>
<circle cx="1692.06" cy="780.8" r="5.6" fill="url(#gGrey2)"/>
<circle cx="1766.09" cy="892.26" r="5.61" fill="url(#gGrey2)"/>
<circle cx="1718.27" cy="658.35" r="5.61" fill="url(#gGrey2)"/>
<circle cx="1987.11" cy="758.37" r="5.61" fill="url(#gGrey2)"/>
<circle cx="1832.62" cy="575.59" r="5.62" fill="url(#gGrey2)"/>
<circle cx="1939.84" cy="884.48" r="5.62" fill="url(#gGrey2)"/>
<circle cx="1978.66" cy="773.44" r="5.62" fill="url(#gGrey2)"/>
<circle cx="1946.61" cy="655.46" r="5.62" fill="url(#gGrey2)"/>
<circle cx="1958.2" cy="746.05" r="5.63" fill="url(#gGrey2)"/>
<circle cx="1733.85" cy="647.86" r="5.63" fill="url(#gGrey2)"/>
<circle cx="1842.88" cy="563.91" r="5.63" fill="url(#gGrey2)"/>
<circle cx="1819.82" cy="900.9" r="5.63" fill="url(#gGrey2)"/>
<circle cx="1815.13" cy="616.23" r="5.63" fill="url(#gGrey2)"/>
<circle cx="1899.25" cy="579.56" r="5.64" fill="url(#gGrey2)"/>
<circle cx="1680.99" cy="720.7" r="5.64" fill="url(#gGrey2)"/>
<circle cx="1843.5" cy="587.63" r="5.64" fill="url(#gGrey2)"/>
<circle cx="1727.39" cy="840.2" r="5.64" fill="url(#gGrey2)"/>
<circle cx="1792.6" cy="584.88" r="5.65" fill="url(#gGrey2)"/>
<circle cx="1919.21" cy="598.18" r="5.65" fill="url(#gGrey2)"/>
<circle cx="1890.66" cy="591.02" r="5.65" fill="url(#gGrey2)"/>
<circle cx="1842.59" cy="587.07" r="5.65" fill="url(#gGrey2)"/>
<circle cx="1836.89" cy="883.66" r="5.67" fill="url(#gGrey2)"/>
<circle cx="1842.75" cy="898.59" r="5.67" fill="url(#gGrey2)"/>
<circle cx="1844.89" cy="845.9" r="5.68" fill="url(#gGrey2)"/>
<circle cx="1780.76" cy="851.48" r="5.68" fill="url(#gGrey2)"/>
<circle cx="1927.22" cy="890.86" r="5.69" fill="url(#gGrey2)"/>
<circle cx="1706.76" cy="754.36" r="5.69" fill="url(#gGrey2)"/>
<circle cx="1757.18" cy="649.14" r="5.69" fill="url(#gGrey2)"/>
<circle cx="1711.65" cy="803.33" r="5.7" fill="url(#gGrey2)"/>
<circle cx="1837.33" cy="615.73" r="5.7" fill="url(#gGrey2)"/>
<circle cx="1877.57" cy="884.25" r="5.7" fill="url(#gGrey2)"/>
<circle cx="1797.84" cy="860.29" r="5.7" fill="url(#gGrey2)"/>
<circle cx="1713.05" cy="752.67" r="5.71" fill="url(#gGrey2)"/>
<circle cx="1963.89" cy="722.5" r="5.71" fill="url(#gGrey2)"/>
<circle cx="1761.64" cy="905.38" r="5.71" fill="url(#gGrey2)"/>
<circle cx="1771.56" cy="861.75" r="5.72" fill="url(#gGrey2)"/>
<circle cx="1928.01" cy="669.07" r="5.72" fill="url(#gGrey2)"/>
<circle cx="1850.96" cy="894.67" r="5.73" fill="url(#gGrey2)"/>
<circle cx="1719.34" cy="757.55" r="5.73" fill="url(#gGrey2)"/>
<circle cx="1803.88" cy="842.51" r="5.73" fill="url(#gGrey2)"/>
<circle cx="1939.66" cy="674.93" r="5.74" fill="url(#gGrey2)"/>
<circle cx="1960.78" cy="681.91" r="5.74" fill="url(#gGrey2)"/>
<circle cx="1960.75" cy="766.43" r="5.74" fill="url(#gGrey2)"/>
<circle cx="1932.36" cy="633.12" r="5.75" fill="url(#gGrey2)"/>
<circle cx="1703.69" cy="663.13" r="5.75" fill="url(#gGrey2)"/>
<circle cx="1935" cy="653.29" r="5.75" fill="url(#gGrey2)"/>
<circle cx="1724.17" cy="683.12" r="5.75" fill="url(#gGrey2)"/>
<circle cx="1927.92" cy="673.86" r="5.76" fill="url(#gGrey2)"/>
<circle cx="1930.46" cy="623.65" r="5.76" fill="url(#gGrey2)"/>
<circle cx="1759.27" cy="649.12" r="5.76" fill="url(#gGrey2)"/>
<circle cx="1730.72" cy="573.06" r="5.77" fill="url(#gGrey2)"/>
<circle cx="1789.9" cy="577.25" r="5.77" fill="url(#gGrey2)"/>
<circle cx="1766.46" cy="831.36" r="5.78" fill="url(#gGrey2)"/>
<circle cx="1925.44" cy="778.79" r="5.78" fill="url(#gGrey2)"/>
<circle cx="1834.97" cy="562.82" r="5.79" fill="url(#gGrey2)"/>
<circle cx="1887.49" cy="588.06" r="5.79" fill="url(#gGrey2)"/>
<circle cx="1730.14" cy="842.02" r="5.79" fill="url(#gGrey2)"/>
<circle cx="1944.55" cy="696.61" r="5.79" fill="url(#gGrey2)"/>
<circle cx="1966.15" cy="682.7" r="5.8" fill="url(#gGrey2)"/>
<circle cx="1913.38" cy="649.39" r="5.8" fill="url(#gGrey2)"/>
<circle cx="1736.71" cy="616.84" r="5.8" fill="url(#gGrey2)"/>
<circle cx="1736.08" cy="690.2" r="5.8" fill="url(#gGrey2)"/>
<circle cx="1759" cy="630.07" r="5.81" fill="url(#gGrey2)"/>
<circle cx="1900.6" cy="894.63" r="5.81" fill="url(#gGrey2)"/>
<circle cx="1833.18" cy="838.8" r="5.81" fill="url(#gGrey2)"/>
<circle cx="1916.38" cy="841.1" r="5.81" fill="url(#gGrey2)"/>
<circle cx="1914.25" cy="877.8" r="5.82" fill="url(#gGrey2)"/>
<circle cx="1944.33" cy="778.49" r="5.82" fill="url(#gGrey2)"/>
<circle cx="1742.96" cy="895.19" r="5.82" fill="url(#gGrey2)"/>
<circle cx="1926.3" cy="658.93" r="5.83" fill="url(#gGrey2)"/>
<circle cx="1966.82" cy="687.12" r="5.83" fill="url(#gGrey2)"/>
<circle cx="1724.82" cy="685.95" r="5.84" fill="url(#gGrey2)"/>
<circle cx="1825.02" cy="627.87" r="5.84" fill="url(#gGrey2)"/>
<circle cx="1834.36" cy="598.67" r="5.85" fill="url(#gGrey2)"/>
<circle cx="1825.47" cy="613.5" r="5.85" fill="url(#gGrey2)"/>
<circle cx="1874.69" cy="895.48" r="5.85" fill="url(#gGrey2)"/>
<circle cx="1896.28" cy="622.51" r="5.86" fill="url(#gGrey2)"/>
<circle cx="1938.1" cy="809.34" r="5.86" fill="url(#gGrey2)"/>
<circle cx="1733.7" cy="689.36" r="5.86" fill="url(#gGrey2)"/>
<circle cx="1963.05" cy="688.75" r="5.86" fill="url(#gGrey2)"/>
<circle cx="1816.62" cy="846.58" r="5.86" fill="url(#gGrey2)"/>
<circle cx="1938.67" cy="626.29" r="5.87" fill="url(#gGrey2)"/>
<circle cx="1717.08" cy="817.64" r="5.88" fill="url(#gGrey2)"/>
<circle cx="1749.51" cy="898.49" r="5.88" fill="url(#gGrey2)"/>
<circle cx="1720.11" cy="709.96" r="5.88" fill="url(#gGrey2)"/>
<circle cx="1853.33" cy="886.31" r="5.89" fill="url(#gGrey2)"/>
<circle cx="1804.32" cy="585.58" r="5.89" fill="url(#gGrey2)"/>
<circle cx="1703.41" cy="791.94" r="5.89" fill="url(#gGrey2)"/>
<circle cx="1693.47" cy="734.83" r="5.89" fill="url(#gGrey2)"/>
<circle cx="1739.69" cy="802.93" r="5.9" fill="url(#gGrey2)"/>
<circle cx="1909.15" cy="564.64" r="5.9" fill="url(#gGrey2)"/>
<circle cx="1815.51" cy="599.96" r="5.91" fill="url(#gGrey2)"/>
<circle cx="1915.99" cy="894.74" r="5.91" fill="url(#gGrey2)"/>
<circle cx="1936.06" cy="647.74" r="5.92" fill="url(#gGrey2)"/>
<circle cx="1799.3" cy="605.63" r="5.92" fill="url(#gGrey2)"/>
<circle cx="1961.67" cy="690.18" r="5.92" fill="url(#gGrey2)"/>
<circle cx="1691.3" cy="717.14" r="5.93" fill="url(#gGrey2)"/>
<circle cx="1800.05" cy="883.11" r="5.94" fill="url(#gGrey2)"/>
<circle cx="1694.48" cy="766.48" r="5.94" fill="url(#gGrey2)"/>
<circle cx="1959.7" cy="674.08" r="5.94" fill="url(#gGrey2)"/>
<circle cx="1976.06" cy="695.05" r="5.95" fill="url(#gGrey2)"/>
<circle cx="1839.02" cy="871.68" r="5.95" fill="url(#gGrey2)"/>
<circle cx="1749.73" cy="806.31" r="5.96" fill="url(#gGrey2)"/>
<circle cx="1870.16" cy="887.09" r="5.96" fill="url(#gGrey2)"/>
<circle cx="1797.07" cy="875.47" r="5.96" fill="url(#gGrey2)"/>
<circle cx="1931.64" cy="835.02" r="5.97" fill="url(#gGrey2)"/>
<circle cx="1802.21" cy="587.34" r="5.97" fill="url(#gGrey2)"/>
<circle cx="1821.71" cy="561.58" r="5.98" fill="url(#gGrey2)"/>
<circle cx="1744.6" cy="564.75" r="5.98" fill="url(#gGrey2)"/>
<circle cx="1742.05" cy="866.96" r="5.98" fill="url(#gGrey2)"/>
<circle cx="1718.23" cy="710.62" r="5.98" fill="url(#gGrey2)"/>
<circle cx="1965.95" cy="787.32" r="5.99" fill="url(#gGrey2)"/>
<circle cx="1963.94" cy="742.35" r="5.99" fill="url(#gGrey2)"/>
<circle cx="1938.93" cy="757.28" r="5.99" fill="url(#gGrey2)"/>
<circle cx="1933.41" cy="649.18" r="6" fill="url(#gGrey2)"/>
<circle cx="1833.64" cy="893.04" r="6" fill="url(#gGrey2)"/>
<circle cx="1930.65" cy="568.8" r="6" fill="url(#gGrey2)"/>
<circle cx="1760.69" cy="883.01" r="6" fill="url(#gGrey2)"/>
<circle cx="1965.94" cy="706.77" r="6" fill="url(#gGrey2)"/>
<circle cx="1953.69" cy="806.94" r="6" fill="url(#gGrey2)"/>
<circle cx="1745.92" cy="804.96" r="6.01" fill="url(#gGrey2)"/>
<circle cx="1917.33" cy="798.05" r="6.01" fill="url(#gGrey2)"/>
<circle cx="1719.23" cy="818.95" r="6.01" fill="url(#gGrey2)"/>
<circle cx="1942.8" cy="833.43" r="6.01" fill="url(#gGrey2)"/>
<circle cx="1937.66" cy="859.84" r="6.02" fill="url(#gGrey2)"/>
<circle cx="1947.27" cy="751.55" r="6.02" fill="url(#gGrey2)"/>
<circle cx="1851.95" cy="847.03" r="6.02" fill="url(#gGrey2)"/>
<circle cx="1737.24" cy="857.59" r="6.03" fill="url(#gGrey2)"/>
<circle cx="1743.68" cy="674.72" r="6.03" fill="url(#gGrey2)"/>
<circle cx="1954.56" cy="660.87" r="6.03" fill="url(#gGrey2)"/>
<circle cx="1829.54" cy="846.03" r="6.03" fill="url(#gGrey2)"/>
<circle cx="1944.13" cy="631.2" r="6.03" fill="url(#gGrey2)"/>
<circle cx="1765.16" cy="618.92" r="6.04" fill="url(#gGrey2)"/>
<circle cx="1711.19" cy="773.9" r="6.04" fill="url(#gGrey2)"/>
<circle cx="1742.63" cy="666.01" r="6.04" fill="url(#gGrey2)"/>
<circle cx="1808.5" cy="854.56" r="6.05" fill="url(#gGrey2)"/>
<circle cx="1928.34" cy="617.89" r="6.06" fill="url(#gGrey2)"/>
<circle cx="1938.52" cy="622.27" r="6.06" fill="url(#gGrey2)"/>
<circle cx="1928.94" cy="692.38" r="6.07" fill="url(#gGrey2)"/>
<circle cx="1736.41" cy="580.78" r="6.07" fill="url(#gGrey2)"/>
<circle cx="1720.88" cy="672.74" r="6.07" fill="url(#gGrey2)"/>
<circle cx="1775.5" cy="583.72" r="6.09" fill="url(#gGrey2)"/>
<circle cx="1962.5" cy="692.38" r="6.09" fill="url(#gGrey2)"/>
<circle cx="1745.51" cy="676.09" r="6.1" fill="url(#gGrey2)"/>
<circle cx="1930.35" cy="880.6" r="6.1" fill="url(#gGrey2)"/>
<circle cx="1939.95" cy="676.26" r="6.1" fill="url(#gGrey2)"/>
<circle cx="1961.36" cy="664.95" r="6.1" fill="url(#gGrey2)"/>
<circle cx="1777.27" cy="881.34" r="6.11" fill="url(#gGrey2)"/>
<circle cx="1939.95" cy="863.39" r="6.11" fill="url(#gGrey2)"/>
<circle cx="1939.75" cy="630.99" r="6.11" fill="url(#gGrey2)"/>
<circle cx="1685.78" cy="769.26" r="6.12" fill="url(#gGrey2)"/>
<circle cx="1721.76" cy="871" r="6.12" fill="url(#gGrey2)"/>
<circle cx="1926.95" cy="873.37" r="6.13" fill="url(#gGrey2)"/>
<circle cx="1969.6" cy="690.04" r="6.13" fill="url(#gGrey2)"/>
<circle cx="1958.59" cy="788.89" r="6.14" fill="url(#gGrey2)"/>
<circle cx="1777.74" cy="566.52" r="6.14" fill="url(#gGrey2)"/>
<circle cx="1774.07" cy="576.12" r="6.14" fill="url(#gGrey2)"/>
<circle cx="1743.97" cy="889.31" r="6.15" fill="url(#gGrey2)"/>
<circle cx="1840.97" cy="606" r="6.15" fill="url(#gGrey2)"/>
<circle cx="1977.13" cy="741.21" r="6.15" fill="url(#gGrey2)"/>
<circle cx="1800.88" cy="627.69" r="6.16" fill="url(#gGrey2)"/>
<circle cx="1719.76" cy="786.2" r="6.16" fill="url(#gGrey2)"/>
<circle cx="1802.7" cy="851.81" r="6.16" fill="url(#gGrey2)"/>
<circle cx="1881.44" cy="881.02" r="6.16" fill="url(#gGrey2)"/>
<circle cx="1815.63" cy="894.43" r="6.16" fill="url(#gGrey2)"/>
<circle cx="1712.3" cy="764.73" r="6.17" fill="url(#gGrey2)"/>
<circle cx="1851.66" cy="568.96" r="6.18" fill="url(#gGrey2)"/>
<circle cx="1941.55" cy="764.39" r="6.18" fill="url(#gGrey2)"/>
<circle cx="1949.82" cy="784.93" r="6.18" fill="url(#gGrey2)"/>
<circle cx="1721.18" cy="688.14" r="6.19" fill="url(#gGrey2)"/>
<circle cx="1894.43" cy="605.42" r="6.19" fill="url(#gGrey2)"/>
<circle cx="1792.68" cy="892.32" r="6.19" fill="url(#gGrey2)"/>
<circle cx="1770.15" cy="591.48" r="6.19" fill="url(#gGrey2)"/>
<circle cx="1746.61" cy="881.39" r="6.19" fill="url(#gGrey2)"/>
<circle cx="1858.4" cy="584.43" r="6.2" fill="url(#gGrey2)"/>
<circle cx="1859.69" cy="850.28" r="6.21" fill="url(#gGrey2)"/>
<circle cx="1709.74" cy="774.05" r="6.22" fill="url(#gGrey2)"/>
<circle cx="1934.19" cy="772.4" r="6.22" fill="url(#gGrey2)"/>
<circle cx="1947.64" cy="821.58" r="6.23" fill="url(#gGrey2)"/>
<circle cx="1931.13" cy="896.97" r="6.24" fill="url(#gGrey2)"/>
<circle cx="1851.72" cy="892.4" r="6.25" fill="url(#gGrey2)"/>
<circle cx="1895.9" cy="568.02" r="6.25" fill="url(#gGrey2)"/>
<circle cx="1834.8" cy="847.12" r="6.25" fill="url(#gGrey2)"/>
<circle cx="1850.16" cy="896.99" r="6.26" fill="url(#gGrey2)"/>
<circle cx="1792.5" cy="597.97" r="6.26" fill="url(#gGrey2)"/>
<circle cx="1811.59" cy="580.35" r="6.26" fill="url(#gGrey2)"/>
<circle cx="1925.99" cy="566.54" r="6.26" fill="url(#gGrey2)"/>
<circle cx="1890.27" cy="608.32" r="6.26" fill="url(#gGrey2)"/>
<circle cx="1858.05" cy="567.39" r="6.27" fill="url(#gGrey2)"/>
<circle cx="1941.16" cy="786.84" r="6.27" fill="url(#gGrey2)"/>
<circle cx="1817.88" cy="606.78" r="6.27" fill="url(#gGrey2)"/>
<circle cx="1937.67" cy="596.41" r="6.27" fill="url(#gGrey2)"/>
<circle cx="1772.26" cy="850.18" r="6.27" fill="url(#gGrey2)"/>
<circle cx="1852.87" cy="839.91" r="6.28" fill="url(#gGrey2)"/>
<circle cx="1748.11" cy="852.04" r="6.28" fill="url(#gGrey2)"/>
<circle cx="1773.81" cy="628.44" r="6.29" fill="url(#gGrey2)"/>
<circle cx="1873.32" cy="840.44" r="6.29" fill="url(#gGrey2)"/>
<circle cx="1686.73" cy="731.72" r="6.29" fill="url(#gGrey2)"/>
<circle cx="1726.29" cy="882.93" r="6.29" fill="url(#gGrey2)"/>
<circle cx="1726.22" cy="581.64" r="6.3" fill="url(#gGrey2)"/>
<circle cx="1739.84" cy="844.78" r="6.3" fill="url(#gGrey2)"/>
<circle cx="1816.04" cy="891.71" r="6.3" fill="url(#gGrey2)"/>
<circle cx="1929.08" cy="842.19" r="6.3" fill="url(#gGrey2)"/>
<circle cx="1935.2" cy="615.14" r="6.3" fill="url(#gGrey2)"/>
<circle cx="1925.7" cy="869.96" r="6.32" fill="url(#gGrey2)"/>
<circle cx="1724.39" cy="709.85" r="6.32" fill="url(#gGrey2)"/>
<circle cx="1749.51" cy="587.06" r="6.32" fill="url(#gGrey2)"/>
<circle cx="1916.37" cy="813.26" r="6.32" fill="url(#gGrey2)"/>
<circle cx="1995" cy="744.03" r="6.32" fill="url(#gGrey2)"/>
<circle cx="1840.68" cy="858.56" r="6.33" fill="url(#gGrey2)"/>
<circle cx="1709.68" cy="766.36" r="6.33" fill="url(#gGrey2)"/>
<circle cx="1806.3" cy="628.5" r="6.33" fill="url(#gGrey2)"/>
<circle cx="1785.13" cy="562.76" r="6.34" fill="url(#gGrey2)"/>
<circle cx="1905.87" cy="865.2" r="6.34" fill="url(#gGrey2)"/>
<circle cx="1749.09" cy="614.07" r="6.35" fill="url(#gGrey2)"/>
<circle cx="1693.01" cy="757.1" r="6.35" fill="url(#gGrey2)"/>
<circle cx="1830.06" cy="566.36" r="6.35" fill="url(#gGrey2)"/>
<circle cx="1912.78" cy="804.65" r="6.35" fill="url(#gGrey2)"/>
<circle cx="1730.37" cy="871.6" r="6.37" fill="url(#gGrey2)"/>
<circle cx="1937.72" cy="562.52" r="6.38" fill="url(#gGrey2)"/>
<circle cx="1924.66" cy="567.59" r="6.38" fill="url(#gGrey2)"/>
<circle cx="1820.9" cy="844.45" r="6.38" fill="url(#gGrey2)"/>
<circle cx="1724.64" cy="881.66" r="6.38" fill="url(#gGrey2)"/>
<circle cx="1756.84" cy="869.09" r="6.38" fill="url(#gGrey2)"/>
<circle cx="1692.79" cy="780.78" r="6.39" fill="url(#gGrey2)"/>
<circle cx="1701.07" cy="777.23" r="6.39" fill="url(#gGrey2)"/>
<circle cx="1870.38" cy="894.23" r="6.39" fill="url(#gGrey2)"/>
<circle cx="1743.29" cy="605.02" r="6.39" fill="url(#gGrey2)"/>
<circle cx="1767.51" cy="599.63" r="6.4" fill="url(#gGrey2)"/>
<circle cx="1845.79" cy="627.11" r="6.42" fill="url(#gGrey2)"/>
<circle cx="1866.82" cy="588.87" r="6.42" fill="url(#gGrey2)"/>
<circle cx="1747.19" cy="872.12" r="6.42" fill="url(#gGrey2)"/>
<circle cx="1910.53" cy="871.75" r="6.42" fill="url(#gGrey2)"/>
<circle cx="1943.22" cy="888.92" r="6.42" fill="url(#gGrey2)"/>
<circle cx="1859.14" cy="867.07" r="6.43" fill="url(#gGrey2)"/>
<circle cx="1687.68" cy="771.43" r="6.43" fill="url(#gGrey2)"/>
<circle cx="1948.12" cy="764.7" r="6.43" fill="url(#gGrey2)"/>
<circle cx="1977.31" cy="717.39" r="6.43" fill="url(#gGrey2)"/>
<circle cx="1721.14" cy="622.6" r="6.43" fill="url(#gGrey2)"/>
<circle cx="1757.9" cy="816.55" r="6.43" fill="url(#gGrey2)"/>
<circle cx="1854.91" cy="892.47" r="6.44" fill="url(#gGrey2)"/>
<circle cx="1721.65" cy="897.97" r="6.45" fill="url(#gGrey2)"/>
<circle cx="1701.68" cy="693.17" r="6.45" fill="url(#gGrey2)"/>
<circle cx="1866.99" cy="892.1" r="6.46" fill="url(#gGrey2)"/>
<circle cx="1772.63" cy="843.34" r="6.46" fill="url(#gGrey2)"/>
<circle cx="1688.19" cy="747.83" r="6.47" fill="url(#gGrey2)"/>
<circle cx="1742.53" cy="584.1" r="6.48" fill="url(#gGrey2)"/>
<circle cx="1914.95" cy="889.26" r="6.48" fill="url(#gGrey2)"/>
<circle cx="1947.16" cy="745.5" r="6.48" fill="url(#gGrey2)"/>
<circle cx="1986.68" cy="734.4" r="6.49" fill="url(#gGrey2)"/>
<circle cx="1789.19" cy="867.63" r="6.49" fill="url(#gGrey2)"/>
<circle cx="1752.84" cy="833.08" r="6.5" fill="url(#gGrey2)"/>
<circle cx="1926.07" cy="667.45" r="6.5" fill="url(#gGrey2)"/>
<circle cx="1933.47" cy="810.92" r="6.5" fill="url(#gGrey2)"/>
<circle cx="1941.92" cy="568.71" r="6.51" fill="url(#gGrey2)"/>
<circle cx="1956" cy="806.02" r="6.51" fill="url(#gGrey2)"/>
<circle cx="1753.3" cy="592.29" r="6.51" fill="url(#gGrey2)"/>
<circle cx="1985.95" cy="725.48" r="6.51" fill="url(#gGrey2)"/>
<circle cx="1896.28" cy="589.63" r="6.52" fill="url(#gGrey2)"/>
<circle cx="1852.57" cy="862.28" r="6.53" fill="url(#gGrey2)"/>
<circle cx="1687.66" cy="774.58" r="6.53" fill="url(#gGrey2)"/>
<circle cx="1924.5" cy="629.05" r="6.53" fill="url(#gGrey2)"/>
<circle cx="1822.87" cy="628.78" r="6.53" fill="url(#gGrey2)"/>
<circle cx="1731.32" cy="675.82" r="6.54" fill="url(#gGrey2)"/>
<circle cx="1927.01" cy="850.17" r="6.54" fill="url(#gGrey2)"/>
<circle cx="1929.58" cy="882.77" r="6.54" fill="url(#gGrey2)"/>
<circle cx="1813.57" cy="586.18" r="6.54" fill="url(#gGrey2)"/>
<circle cx="1825.13" cy="851.63" r="6.55" fill="url(#gGrey2)"/>
<circle cx="1878.36" cy="872.55" r="6.55" fill="url(#gGrey2)"/>
<circle cx="1755.59" cy="625.38" r="6.55" fill="url(#gGrey2)"/>
<circle cx="1824.42" cy="873.03" r="6.56" fill="url(#gGrey2)"/>
<circle cx="1700.93" cy="707.71" r="6.56" fill="url(#gGrey2)"/>
<circle cx="1964.92" cy="722.93" r="6.56" fill="url(#gGrey2)"/>
<circle cx="1890.65" cy="875.95" r="6.57" fill="url(#gGrey2)"/>
<circle cx="1754.26" cy="851.08" r="6.57" fill="url(#gGrey2)"/>
<circle cx="1963.09" cy="685.92" r="6.57" fill="url(#gGrey2)"/>
<circle cx="1861.27" cy="568.92" r="6.58" fill="url(#gGrey2)"/>
<circle cx="1921.41" cy="660.32" r="6.58" fill="url(#gGrey2)"/>
<circle cx="1810.83" cy="889.9" r="6.59" fill="url(#gGrey2)"/>
<circle cx="1937.5" cy="899.24" r="6.61" fill="url(#gGrey2)"/>
<circle cx="1845.62" cy="849.97" r="6.62" fill="url(#gGrey2)"/>
<circle cx="1720.56" cy="670.32" r="6.62" fill="url(#gGrey2)"/>
<circle cx="1737.88" cy="874.38" r="6.62" fill="url(#gGrey2)"/>
<circle cx="1847.85" cy="865.9" r="6.63" fill="url(#gGrey2)"/>
<circle cx="1921.56" cy="902.22" r="6.63" fill="url(#gGrey2)"/>
<circle cx="1801.34" cy="599.58" r="6.63" fill="url(#gGrey2)"/>
<circle cx="1760.14" cy="564.22" r="6.63" fill="url(#gGrey2)"/>
<circle cx="1912.88" cy="883" r="6.64" fill="url(#gGrey2)"/>
<circle cx="1805.23" cy="850.42" r="6.64" fill="url(#gGrey2)"/>
<circle cx="1714.63" cy="800.4" r="6.64" fill="url(#gGrey2)"/>
<circle cx="1732.13" cy="865.79" r="6.64" fill="url(#gGrey2)"/>
<circle cx="1844.06" cy="904.53" r="6.65" fill="url(#gGrey2)"/>
<circle cx="1739.67" cy="828.95" r="6.65" fill="url(#gGrey2)"/>
<circle cx="1738.34" cy="793.43" r="6.65" fill="url(#gGrey2)"/>
<circle cx="1986.52" cy="751.37" r="6.65" fill="url(#gGrey2)"/>
<circle cx="1724.81" cy="631.34" r="6.65" fill="url(#gGrey2)"/>
<circle cx="1723.13" cy="609" r="6.65" fill="url(#gGrey2)"/>
<circle cx="1763.58" cy="619.93" r="6.65" fill="url(#gGrey2)"/>
<circle cx="1754.75" cy="864.35" r="6.65" fill="url(#gGrey2)"/>
<circle cx="1741.87" cy="825.2" r="6.66" fill="url(#gGrey2)"/>
<circle cx="1812.47" cy="853.4" r="6.66" fill="url(#gGrey2)"/>
<circle cx="1926.91" cy="838.67" r="6.66" fill="url(#gGrey2)"/>
<circle cx="1725.37" cy="707.52" r="6.66" fill="url(#gGrey2)"/>
<circle cx="1789.47" cy="623.86" r="6.67" fill="url(#gGrey2)"/>
<circle cx="1944.18" cy="805.19" r="6.67" fill="url(#gGrey2)"/>
<circle cx="1809.5" cy="885.33" r="6.67" fill="url(#gGrey2)"/>
<circle cx="1971.32" cy="738.13" r="6.67" fill="url(#gGrey2)"/>
<circle cx="1709.6" cy="797.08" r="6.68" fill="url(#gGrey2)"/>
<circle cx="1689.28" cy="712.26" r="6.68" fill="url(#gGrey2)"/>
<circle cx="1939.25" cy="644.73" r="6.69" fill="url(#gGrey2)"/>
<circle cx="1989.03" cy="752.73" r="6.69" fill="url(#gGrey2)"/>
<circle cx="1898.81" cy="591.4" r="6.69" fill="url(#gGrey2)"/>
<circle cx="1822.49" cy="624.71" r="6.69" fill="url(#gGrey2)"/>
<circle cx="1820.12" cy="853.1" r="6.7" fill="url(#gGrey2)"/>
<circle cx="1943.29" cy="602.42" r="6.7" fill="url(#gGrey2)"/>
<circle cx="1855.29" cy="602.2" r="6.71" fill="url(#gGrey2)"/>
<circle cx="1867.06" cy="889.77" r="6.72" fill="url(#gGrey2)"/>
<circle cx="1719.03" cy="691.58" r="6.72" fill="url(#gGrey2)"/>
<circle cx="1867.18" cy="853.56" r="6.72" fill="url(#gGrey2)"/>
<circle cx="1724.48" cy="690.98" r="6.73" fill="url(#gGrey2)"/>
<circle cx="1747.54" cy="901.45" r="6.73" fill="url(#gGrey2)"/>
<circle cx="1952.76" cy="763.46" r="6.73" fill="url(#gGrey2)"/>
<circle cx="1724.83" cy="789.31" r="6.74" fill="url(#gGrey2)"/>
<circle cx="1741.83" cy="608.24" r="6.74" fill="url(#gGrey2)"/>
<circle cx="1722.88" cy="871.21" r="6.74" fill="url(#gGrey2)"/>
<circle cx="1926.17" cy="895.91" r="6.74" fill="url(#gGrey2)"/>
<circle cx="1941.67" cy="621.56" r="6.74" fill="url(#gGrey2)"/>
<circle cx="1935.61" cy="820.37" r="6.74" fill="url(#gGrey2)"/>
<circle cx="1788.23" cy="604.47" r="6.74" fill="url(#gGrey2)"/>
<circle cx="1717.3" cy="786.71" r="6.74" fill="url(#gGrey2)"/>
<circle cx="1953.81" cy="801.85" r="6.75" fill="url(#gGrey2)"/>
<circle cx="1787.17" cy="866.16" r="6.75" fill="url(#gGrey2)"/>
<circle cx="1748.24" cy="849.59" r="6.75" fill="url(#gGrey2)"/>
<circle cx="1782.14" cy="605.76" r="6.76" fill="url(#gGrey2)"/>
<circle cx="1733.11" cy="603.68" r="6.77" fill="url(#gGrey2)"/>
<circle cx="1943.21" cy="637.13" r="6.78" fill="url(#gGrey2)"/>
<circle cx="1811.29" cy="863.06" r="6.78" fill="url(#gGrey2)"/>
<circle cx="1708.09" cy="783.21" r="6.79" fill="url(#gGrey2)"/>
<circle cx="1737.46" cy="667.12" r="6.8" fill="url(#gGrey2)"/>
<circle cx="1807.89" cy="581.91" r="6.8" fill="url(#gGrey2)"/>
<circle cx="1726.36" cy="599.83" r="6.8" fill="url(#gGrey2)"/>
<circle cx="1762.32" cy="637.62" r="6.8" fill="url(#gGrey2)"/>
<circle cx="1989.82" cy="753.55" r="6.8" fill="url(#gGrey2)"/>
<circle cx="1966.33" cy="742.36" r="6.81" fill="url(#gGrey2)"/>
<circle cx="1736.25" cy="583.3" r="6.81" fill="url(#gGrey2)"/>
<circle cx="1726.1" cy="655.07" r="6.82" fill="url(#gGrey2)"/>
<circle cx="1952.98" cy="653.83" r="6.82" fill="url(#gGrey2)"/>
<circle cx="1926.23" cy="806.67" r="6.82" fill="url(#gGrey2)"/>
<circle cx="1944.26" cy="766.09" r="6.82" fill="url(#gGrey2)"/>
<circle cx="1858.74" cy="885.16" r="6.82" fill="url(#gGrey2)"/>
<circle cx="1920" cy="875.82" r="6.82" fill="url(#gGrey2)"/>
<circle cx="1967.58" cy="681.41" r="6.83" fill="url(#gGrey2)"/>
<circle cx="1926.2" cy="781.87" r="6.83" fill="url(#gGrey2)"/>
<circle cx="1702.36" cy="681.52" r="6.83" fill="url(#gGrey2)"/>
<circle cx="1886.19" cy="873.76" r="6.84" fill="url(#gGrey2)"/>
<circle cx="1970.45" cy="705.36" r="6.85" fill="url(#gGrey2)"/>
<circle cx="1710.2" cy="667.39" r="6.85" fill="url(#gGrey2)"/>
<circle cx="1764.76" cy="616.72" r="6.86" fill="url(#gGrey2)"/>
<circle cx="1830.58" cy="621.85" r="6.86" fill="url(#gGrey2)"/>
<circle cx="1785.83" cy="899.51" r="6.87" fill="url(#gGrey2)"/>
<circle cx="1799.74" cy="845.71" r="6.87" fill="url(#gGrey2)"/>
<circle cx="1764.67" cy="604.58" r="6.87" fill="url(#gGrey2)"/>
<circle cx="1704.72" cy="673.75" r="6.87" fill="url(#gGrey2)"/>
<circle cx="1912.58" cy="902.78" r="6.87" fill="url(#gGrey2)"/>
<circle cx="1799.63" cy="874.17" r="6.88" fill="url(#gGrey2)"/>
<circle cx="1671.17" cy="729.05" r="6.88" fill="url(#gGrey2)"/>
<circle cx="1939.4" cy="573.64" r="6.88" fill="url(#gGrey2)"/>
<circle cx="1965.92" cy="767.09" r="6.89" fill="url(#gGrey2)"/>
<circle cx="1754.07" cy="903.19" r="6.89" fill="url(#gGrey2)"/>
<circle cx="1854.6" cy="860.48" r="6.89" fill="url(#gGrey2)"/>
<circle cx="1902.18" cy="866.71" r="6.9" fill="url(#gGrey2)"/>
<circle cx="1793.51" cy="851" r="6.9" fill="url(#gGrey2)"/>
<circle cx="1894.38" cy="567.88" r="6.91" fill="url(#gGrey2)"/>
<circle cx="1816.98" cy="594.62" r="6.91" fill="url(#gGrey2)"/>
<circle cx="1920.72" cy="670.13" r="6.92" fill="url(#gGrey2)"/>
<circle cx="1791.54" cy="566.55" r="6.92" fill="url(#gGrey2)"/>
<circle cx="1735.7" cy="848.44" r="6.92" fill="url(#gGrey2)"/>
<circle cx="1984.71" cy="753.11" r="6.92" fill="url(#gGrey2)"/>
<circle cx="1875.78" cy="615.79" r="6.92" fill="url(#gGrey2)"/>
<circle cx="1757.25" cy="593.54" r="6.92" fill="url(#gGrey2)"/>
<circle cx="1789.87" cy="624.38" r="6.94" fill="url(#gGrey2)"/>
<circle cx="1812.04" cy="584.86" r="6.94" fill="url(#gGrey2)"/>
<circle cx="1717.54" cy="639.44" r="6.95" fill="url(#gGrey2)"/>
<circle cx="1676.93" cy="754.72" r="6.95" fill="url(#gGrey2)"/>
<circle cx="1846.1" cy="601.4" r="6.96" fill="url(#gGrey2)"/>
<circle cx="1894.7" cy="599.1" r="6.96" fill="url(#gGrey2)"/>
<circle cx="1947.34" cy="795" r="6.96" fill="url(#gGrey2)"/>
<circle cx="1766.23" cy="890.18" r="6.96" fill="url(#gGrey2)"/>
<circle cx="1855.29" cy="866.83" r="6.96" fill="url(#gGrey2)"/>
<circle cx="1916.47" cy="640.93" r="6.98" fill="url(#gGrey2)"/>
<circle cx="1903.45" cy="587.28" r="6.98" fill="url(#gGrey2)"/>
<circle cx="1817.9" cy="891.42" r="6.98" fill="url(#gGrey2)"/>
<circle cx="1905.47" cy="601.69" r="6.98" fill="url(#gGrey2)"/>
<circle cx="1714.41" cy="724.11" r="6.98" fill="url(#gGrey2)"/>
<circle cx="1736.47" cy="887.03" r="6.98" fill="url(#gGrey2)"/>
<circle cx="1855.48" cy="576.73" r="7" fill="url(#gGrey2)"/>
<circle cx="1961.26" cy="793.19" r="7" fill="url(#gGrey2)"/>
<circle cx="1935.65" cy="680.08" r="7" fill="url(#gGrey2)"/>
<circle cx="1699.48" cy="738.51" r="7" fill="url(#gGrey2)"/>
<circle cx="1749" cy="667.2" r="7.01" fill="url(#gGrey2)"/>
<circle cx="1887.29" cy="895.28" r="7.01" fill="url(#gGrey2)"/>
<circle cx="1793.29" cy="610.95" r="7.02" fill="url(#gGrey2)"/>
<circle cx="1945.67" cy="644.74" r="7.02" fill="url(#gGrey2)"/>
<circle cx="1953.07" cy="768.44" r="7.02" fill="url(#gGrey2)"/>
<circle cx="1918.95" cy="636.96" r="7.02" fill="url(#gGrey2)"/>
<circle cx="1830.44" cy="618.71" r="7.02" fill="url(#gGrey2)"/>
<circle cx="1746.58" cy="619.32" r="7.02" fill="url(#gGrey2)"/>
<circle cx="1832.79" cy="616.22" r="7.02" fill="url(#gGrey2)"/>
<circle cx="1952.05" cy="754.35" r="7.02" fill="url(#gGrey2)"/>
<circle cx="1831.27" cy="836.93" r="7.03" fill="url(#gGrey2)"/>
<circle cx="1824.44" cy="892.91" r="7.03" fill="url(#gGrey2)"/>
<circle cx="1880.41" cy="838.41" r="7.03" fill="url(#gGrey2)"/>
<circle cx="1917.67" cy="868.19" r="7.03" fill="url(#gGrey2)"/>
<circle cx="1802.86" cy="857.39" r="7.04" fill="url(#gGrey2)"/>
<circle cx="1907.6" cy="815.37" r="7.04" fill="url(#gGrey2)"/>
<circle cx="1731.24" cy="875.03" r="7.04" fill="url(#gGrey2)"/>
<circle cx="1752.35" cy="612.96" r="7.04" fill="url(#gGrey2)"/>
<circle cx="1909.95" cy="833.66" r="7.04" fill="url(#gGrey2)"/>
<circle cx="1931.01" cy="783.38" r="7.05" fill="url(#gGrey2)"/>
<circle cx="1935.86" cy="671.82" r="7.05" fill="url(#gGrey2)"/>
<circle cx="1862.97" cy="626.35" r="7.05" fill="url(#gGrey2)"/>
<circle cx="1725.65" cy="852.89" r="7.05" fill="url(#gGrey2)"/>
<circle cx="1892.34" cy="569.23" r="7.06" fill="url(#gGrey2)"/>
<circle cx="1681.69" cy="714.01" r="7.06" fill="url(#gGrey2)"/>
<circle cx="1727.18" cy="883.95" r="7.06" fill="url(#gGrey2)"/>
<circle cx="1935.57" cy="874.3" r="7.07" fill="url(#gGrey2)"/>
<circle cx="1723.16" cy="637.45" r="7.08" fill="url(#gGrey2)"/>
<circle cx="1925.22" cy="805.43" r="7.08" fill="url(#gGrey2)"/>
<circle cx="1695.52" cy="778.81" r="7.09" fill="url(#gGrey2)"/>
<circle cx="1762.99" cy="567.13" r="7.09" fill="url(#gGrey2)"/>
<circle cx="1935.02" cy="783.44" r="7.09" fill="url(#gGrey2)"/>
<circle cx="1718.65" cy="765.61" r="7.1" fill="url(#gGrey2)"/>
<circle cx="1696.53" cy="751.17" r="7.11" fill="url(#gGrey2)"/>
<circle cx="1932.39" cy="850.94" r="7.11" fill="url(#gGrey2)"/>
<circle cx="1914.63" cy="668.98" r="7.11" fill="url(#gGrey2)"/>
<circle cx="1753.81" cy="599.8" r="7.12" fill="url(#gGrey2)"/>
<circle cx="1917.08" cy="671.28" r="7.13" fill="url(#gGrey2)"/>
<circle cx="1729.73" cy="873.67" r="7.13" fill="url(#gGrey2)"/>
<circle cx="1901.5" cy="886.74" r="7.13" fill="url(#gGrey2)"/>
<circle cx="1916.85" cy="564.22" r="7.14" fill="url(#gGrey2)"/>
<circle cx="1703.06" cy="693.48" r="7.14" fill="url(#gGrey2)"/>
<circle cx="1823.56" cy="889.02" r="7.15" fill="url(#gGrey2)"/>
<circle cx="1742.58" cy="864.95" r="7.15" fill="url(#gGrey2)"/>
<circle cx="1872.33" cy="579.56" r="7.16" fill="url(#gGrey2)"/>
<circle cx="1979.72" cy="730.65" r="7.17" fill="url(#gGrey2)"/>
<circle cx="1827.45" cy="852.54" r="7.17" fill="url(#gGrey2)"/>
<circle cx="1928.81" cy="873.62" r="7.17" fill="url(#gGrey2)"/>
<circle cx="1845.71" cy="602.14" r="7.17" fill="url(#gGrey2)"/>
<circle cx="1794.87" cy="588.05" r="7.18" fill="url(#gGrey2)"/>
<circle cx="1751.27" cy="619.06" r="7.18" fill="url(#gGrey2)"/>
<circle cx="1903.23" cy="825.84" r="7.18" fill="url(#gGrey2)"/>
<circle cx="1743.6" cy="898.59" r="7.19" fill="url(#gGrey2)"/>
<circle cx="1932.55" cy="812.48" r="7.19" fill="url(#gGrey2)"/>
<circle cx="1923.72" cy="571.93" r="7.2" fill="url(#gGrey2)"/>
<circle cx="1821.2" cy="619.86" r="7.2" fill="url(#gGrey2)"/>
<circle cx="1808.68" cy="580.51" r="7.2" fill="url(#gGrey2)"/>
<circle cx="1901.27" cy="884.75" r="7.21" fill="url(#gGrey2)"/>
<circle cx="1739.56" cy="883.57" r="7.21" fill="url(#gGrey2)"/>
<circle cx="1735.02" cy="888.25" r="7.22" fill="url(#gGrey2)"/>
<circle cx="1747.77" cy="570.37" r="7.22" fill="url(#gGrey2)"/>
<circle cx="1726.89" cy="688.52" r="7.23" fill="url(#gGrey2)"/>
<circle cx="1759.6" cy="645.2" r="7.23" fill="url(#gGrey2)"/>
<circle cx="1897.07" cy="856.09" r="7.24" fill="url(#gGrey2)"/>
<circle cx="1927.52" cy="635.72" r="7.24" fill="url(#gGrey2)"/>
<circle cx="1936.74" cy="637.06" r="7.25" fill="url(#gGrey2)"/>
<circle cx="1706.56" cy="756.17" r="7.25" fill="url(#gGrey2)"/>
<circle cx="1931.07" cy="812.27" r="7.25" fill="url(#gGrey2)"/>
<circle cx="1936.86" cy="585.08" r="7.26" fill="url(#gGrey2)"/>
<circle cx="1918.47" cy="640.96" r="7.26" fill="url(#gGrey2)"/>
<circle cx="1835.37" cy="609.44" r="7.27" fill="url(#gGrey2)"/>
<circle cx="1876.83" cy="610.24" r="7.27" fill="url(#gGrey2)"/>
<circle cx="1904.71" cy="618.39" r="7.27" fill="url(#gGrey2)"/>
<circle cx="1704.09" cy="661.83" r="7.28" fill="url(#gGrey2)"/>
<circle cx="1906.2" cy="647.15" r="7.28" fill="url(#gGrey2)"/>
<circle cx="1821.07" cy="893.78" r="7.28" fill="url(#gGrey2)"/>
<circle cx="1875.59" cy="623.6" r="7.28" fill="url(#gGrey2)"/>
<circle cx="1748.5" cy="657.25" r="7.28" fill="url(#gGrey2)"/>
<circle cx="1751.25" cy="615.7" r="7.29" fill="url(#gGrey2)"/>
<circle cx="1940.08" cy="876.42" r="7.29" fill="url(#gGrey2)"/>
<circle cx="1901.84" cy="822.98" r="7.3" fill="url(#gGrey2)"/>
<circle cx="1800.09" cy="859.94" r="7.3" fill="url(#gGrey2)"/>
<circle cx="1723.27" cy="710.2" r="7.3" fill="url(#gGrey2)"/>
<circle cx="1886.73" cy="611.68" r="7.3" fill="url(#gGrey2)"/>
<circle cx="1915.65" cy="566.31" r="7.31" fill="url(#gGrey2)"/>
<circle cx="1700.81" cy="780.8" r="7.33" fill="url(#gGrey2)"/>
<circle cx="1775.44" cy="590.61" r="7.33" fill="url(#gGrey2)"/>
<circle cx="1875.02" cy="867.52" r="7.33" fill="url(#gGrey2)"/>
<circle cx="1909.17" cy="812.92" r="7.34" fill="url(#gGrey2)"/>
<circle cx="1897.83" cy="826.35" r="7.34" fill="url(#gGrey2)"/>
<circle cx="1945.5" cy="641.22" r="7.35" fill="url(#gGrey2)"/>
<circle cx="1908.61" cy="890.59" r="7.35" fill="url(#gGrey2)"/>
<circle cx="1893.9" cy="893.02" r="7.35" fill="url(#gGrey2)"/>
<circle cx="1720.93" cy="854.41" r="7.35" fill="url(#gGrey2)"/>
<circle cx="1730.65" cy="762.67" r="7.35" fill="url(#gGrey2)"/>
<circle cx="1939.07" cy="821.4" r="7.36" fill="url(#gGrey2)"/>
<circle cx="1896.61" cy="610.34" r="7.36" fill="url(#gGrey2)"/>
<circle cx="1920.33" cy="804.71" r="7.36" fill="url(#gGrey2)"/>
<circle cx="1722.55" cy="619.21" r="7.36" fill="url(#gGrey2)"/>
<circle cx="1934.74" cy="821.51" r="7.36" fill="url(#gGrey2)"/>
<circle cx="1819.98" cy="853.52" r="7.36" fill="url(#gGrey2)"/>
<circle cx="1929.21" cy="800.01" r="7.37" fill="url(#gGrey2)"/>
<circle cx="1745.5" cy="570.82" r="7.37" fill="url(#gGrey2)"/>
<circle cx="1901.74" cy="635.7" r="7.37" fill="url(#gGrey2)"/>
<circle cx="1979.45" cy="752.74" r="7.37" fill="url(#gGrey2)"/>
<circle cx="1714.64" cy="703.05" r="7.39" fill="url(#gGrey2)"/>
<circle cx="1959.74" cy="660.3" r="7.4" fill="url(#gGrey2)"/>
<circle cx="1697.43" cy="757.37" r="7.4" fill="url(#gGrey2)"/>
<circle cx="1968.26" cy="719.88" r="7.4" fill="url(#gGrey2)"/>
<circle cx="1916.59" cy="859.49" r="7.4" fill="url(#gGrey2)"/>
<circle cx="1889.44" cy="854.11" r="7.4" fill="url(#gGrey2)"/>
<circle cx="1935.95" cy="646.27" r="7.41" fill="url(#gGrey2)"/>
<circle cx="1975.22" cy="728.89" r="7.41" fill="url(#gGrey2)"/>
<circle cx="1789.53" cy="595.49" r="7.41" fill="url(#gGrey2)"/>
<circle cx="1882.17" cy="589.46" r="7.42" fill="url(#gGrey2)"/>
<circle cx="1750.3" cy="658.54" r="7.42" fill="url(#gGrey2)"/>
<circle cx="1732.9" cy="637.74" r="7.42" fill="url(#gGrey2)"/>
<circle cx="1697.72" cy="715.31" r="7.42" fill="url(#gGrey2)"/>
<circle cx="1751.39" cy="619.61" r="7.42" fill="url(#gGrey2)"/>
<circle cx="1973.66" cy="778.29" r="7.43" fill="url(#gGrey2)"/>
<circle cx="1718.63" cy="811.6" r="7.43" fill="url(#gGrey2)"/>
<circle cx="1762.39" cy="639.63" r="7.43" fill="url(#gGrey2)"/>
<circle cx="1828.07" cy="857.26" r="7.44" fill="url(#gGrey2)"/>
<circle cx="1740.37" cy="637.27" r="7.44" fill="url(#gGrey2)"/>
<circle cx="1916.77" cy="824.27" r="7.45" fill="url(#gGrey2)"/>
<circle cx="1902.09" cy="640.61" r="7.46" fill="url(#gGrey2)"/>
<circle cx="1776.55" cy="603.08" r="7.46" fill="url(#gGrey2)"/>
<circle cx="1997.57" cy="739.65" r="7.47" fill="url(#gGrey2)"/>
<circle cx="1750.9" cy="590.62" r="7.47" fill="url(#gGrey2)"/>
<circle cx="1733.51" cy="812.14" r="7.47" fill="url(#gGrey2)"/>
<circle cx="1693.62" cy="758.51" r="7.48" fill="url(#gGrey2)"/>
<circle cx="1904.27" cy="837.71" r="7.48" fill="url(#gGrey2)"/>
<circle cx="1708.14" cy="695.35" r="7.49" fill="url(#gGrey2)"/>
<circle cx="1726.63" cy="770.77" r="7.49" fill="url(#gGrey2)"/>
<circle cx="1880.36" cy="615.8" r="7.49" fill="url(#gGrey2)"/>
<circle cx="1728.81" cy="701.51" r="7.49" fill="url(#gGrey2)"/>
<circle cx="1893.08" cy="900.89" r="7.5" fill="url(#gGrey2)"/>
<circle cx="1833.52" cy="876.11" r="7.5" fill="url(#gGrey2)"/>
<circle cx="1901.05" cy="891.49" r="7.5" fill="url(#gGrey2)"/>
<circle cx="1795.25" cy="839.39" r="7.51" fill="url(#gGrey2)"/>
<circle cx="1709.52" cy="705.74" r="7.51" fill="url(#gGrey2)"/>
<circle cx="1710.6" cy="751.47" r="7.52" fill="url(#gGrey2)"/>
<circle cx="1903.52" cy="615.23" r="7.53" fill="url(#gGrey2)"/>
<circle cx="1715.46" cy="685.67" r="7.53" fill="url(#gGrey2)"/>
<circle cx="1689.23" cy="722.25" r="7.53" fill="url(#gGrey2)"/>
<circle cx="1864.35" cy="848.66" r="7.53" fill="url(#gGrey2)"/>
<circle cx="1749.6" cy="832.44" r="7.53" fill="url(#gGrey2)"/>
<circle cx="1889.13" cy="844.73" r="7.54" fill="url(#gGrey2)"/>
<circle cx="1796.62" cy="891.48" r="7.56" fill="url(#gGrey2)"/>
<circle cx="1700.42" cy="779.92" r="7.56" fill="url(#gGrey2)"/>
<circle cx="1910.26" cy="640.23" r="7.56" fill="url(#gGrey2)"/>
<circle cx="1864.65" cy="885.46" r="7.56" fill="url(#gGrey2)"/>
<circle cx="1692.54" cy="716.29" r="7.56" fill="url(#gGrey2)"/>
<circle cx="1781.08" cy="903.82" r="7.57" fill="url(#gGrey2)"/>
<circle cx="1824.33" cy="892.72" r="7.57" fill="url(#gGrey2)"/>
<circle cx="1747.22" cy="901.82" r="7.57" fill="url(#gGrey2)"/>
<circle cx="1746.45" cy="633.54" r="7.58" fill="url(#gGrey2)"/>
<circle cx="1759.28" cy="591.9" r="7.58" fill="url(#gGrey2)"/>
<circle cx="1879.04" cy="561.11" r="7.58" fill="url(#gGrey2)"/>
<circle cx="1804.5" cy="587.48" r="7.58" fill="url(#gGrey2)"/>
<circle cx="1702.38" cy="672.44" r="7.6" fill="url(#gGrey2)"/>
<circle cx="1807.48" cy="580.68" r="7.6" fill="url(#gGrey2)"/>
<circle cx="1949.66" cy="781.99" r="7.6" fill="url(#gGrey2)"/>
<circle cx="1669.35" cy="740.72" r="7.61" fill="url(#gGrey2)"/>
<circle cx="1680.71" cy="761.25" r="7.61" fill="url(#gGrey2)"/>
<circle cx="1772.98" cy="901.85" r="7.61" fill="url(#gGrey2)"/>
<circle cx="1939.05" cy="598.41" r="7.62" fill="url(#gGrey2)"/>
<circle cx="1907.06" cy="839.13" r="7.62" fill="url(#gGrey2)"/>
<circle cx="1865.8" cy="599.49" r="7.63" fill="url(#gGrey2)"/>
<circle cx="1834.9" cy="865.76" r="7.63" fill="url(#gGrey2)"/>
<circle cx="1939.02" cy="692.79" r="7.64" fill="url(#gGrey2)"/>
<circle cx="1727.06" cy="857.62" r="7.64" fill="url(#gGrey2)"/>
<circle cx="1902.81" cy="604.4" r="7.65" fill="url(#gGrey2)"/>
<circle cx="1926.11" cy="629.8" r="7.65" fill="url(#gGrey2)"/>
<circle cx="1709.52" cy="797.17" r="7.65" fill="url(#gGrey2)"/>
<circle cx="1752.37" cy="586.82" r="7.65" fill="url(#gGrey2)"/>
<circle cx="1724.67" cy="659.68" r="7.66" fill="url(#gGrey2)"/>
<circle cx="1846" cy="574.58" r="7.66" fill="url(#gGrey2)"/>
<circle cx="1732.14" cy="807.01" r="7.67" fill="url(#gGrey2)"/>
<circle cx="1698.59" cy="747.07" r="7.67" fill="url(#gGrey2)"/>
<circle cx="1860.52" cy="887.07" r="7.67" fill="url(#gGrey2)"/>
<circle cx="1687.18" cy="719.96" r="7.67" fill="url(#gGrey2)"/>
<circle cx="1913.05" cy="848.73" r="7.68" fill="url(#gGrey2)"/>
<circle cx="1750.19" cy="879.25" r="7.68" fill="url(#gGrey2)"/>
<circle cx="1952.53" cy="816.55" r="7.68" fill="url(#gGrey2)"/>
<circle cx="1850.82" cy="568.96" r="7.68" fill="url(#gGrey2)"/>
<circle cx="1685.15" cy="706" r="7.69" fill="url(#gGrey2)"/>
<circle cx="1752" cy="903.24" r="7.69" fill="url(#gGrey2)"/>
<circle cx="1895.35" cy="851.72" r="7.7" fill="url(#gGrey2)"/>
<circle cx="1930.7" cy="793.45" r="7.7" fill="url(#gGrey2)"/>
<circle cx="1838.64" cy="894.07" r="7.7" fill="url(#gGrey2)"/>
<circle cx="1875.88" cy="582.6" r="7.7" fill="url(#gGrey2)"/>
<circle cx="1697.78" cy="717.91" r="7.71" fill="url(#gGrey2)"/>
<circle cx="1710.55" cy="668.55" r="7.71" fill="url(#gGrey2)"/>
<circle cx="1940.72" cy="801.64" r="7.71" fill="url(#gGrey2)"/>
<circle cx="1794.34" cy="578.22" r="7.72" fill="url(#gGrey2)"/>
<circle cx="1690.5" cy="719.84" r="7.72" fill="url(#gGrey2)"/>
<circle cx="1985.52" cy="729.23" r="7.73" fill="url(#gGrey2)"/>
<circle cx="1963.11" cy="727.84" r="7.73" fill="url(#gGrey2)"/>
<circle cx="1958.14" cy="808.82" r="7.73" fill="url(#gGrey2)"/>
<circle cx="1975.29" cy="692.93" r="7.74" fill="url(#gGrey2)"/>
<circle cx="1730.51" cy="585.13" r="7.74" fill="url(#gGrey2)"/>
<circle cx="1880.24" cy="854.46" r="7.74" fill="url(#gGrey2)"/>
<circle cx="1820.83" cy="563.1" r="7.75" fill="url(#gGrey2)"/>
<circle cx="1807.01" cy="850.71" r="7.75" fill="url(#gGrey2)"/>
<circle cx="1861.68" cy="628.76" r="7.75" fill="url(#gGrey2)"/>
<circle cx="1939.15" cy="849.51" r="7.76" fill="url(#gGrey2)"/>
<circle cx="1895.32" cy="621.04" r="7.77" fill="url(#gGrey2)"/>
<circle cx="1813.05" cy="602.62" r="7.77" fill="url(#gGrey2)"/>
<circle cx="1719.22" cy="676.22" r="7.77" fill="url(#gGrey2)"/>
<circle cx="1715.03" cy="720.33" r="7.78" fill="url(#gGrey2)"/>
<circle cx="1943.96" cy="887.17" r="7.78" fill="url(#gGrey2)"/>
<circle cx="1692.42" cy="710.61" r="7.78" fill="url(#gGrey2)"/>
<circle cx="1923.76" cy="793.11" r="7.78" fill="url(#gGrey2)"/>
<circle cx="1792.75" cy="624.37" r="7.79" fill="url(#gGrey2)"/>
<circle cx="1971.92" cy="774.97" r="7.79" fill="url(#gGrey2)"/>
<circle cx="1959.4" cy="744.68" r="7.8" fill="url(#gGrey2)"/>
<circle cx="1786.73" cy="613.67" r="7.8" fill="url(#gGrey2)"/>
<circle cx="1867.47" cy="892.76" r="7.81" fill="url(#gGrey2)"/>
<circle cx="1753.53" cy="871.28" r="7.81" fill="url(#gGrey2)"/>
<circle cx="1777.04" cy="894" r="7.82" fill="url(#gGrey2)"/>
<circle cx="1924.26" cy="595.46" r="7.82" fill="url(#gGrey2)"/>
<circle cx="1928.28" cy="884.66" r="7.82" fill="url(#gGrey2)"/>
<circle cx="1891.26" cy="601.18" r="7.82" fill="url(#gGrey2)"/>
<circle cx="1714.34" cy="699.19" r="7.83" fill="url(#gGrey2)"/>
<circle cx="1724.66" cy="765.02" r="7.83" fill="url(#gGrey2)"/>
<circle cx="1932.34" cy="679.78" r="7.83" fill="url(#gGrey2)"/>
<circle cx="1715.87" cy="784.5" r="7.83" fill="url(#gGrey2)"/>
<circle cx="1732.02" cy="653.44" r="7.83" fill="url(#gGrey2)"/>
<circle cx="1879.06" cy="582.32" r="7.83" fill="url(#gGrey2)"/>
<circle cx="1686.41" cy="715.52" r="7.83" fill="url(#gGrey2)"/>
<circle cx="1805.28" cy="847.18" r="7.83" fill="url(#gGrey2)"/>
<circle cx="1734.09" cy="666.26" r="7.84" fill="url(#gGrey2)"/>
<circle cx="1910.79" cy="641.3" r="7.84" fill="url(#gGrey2)"/>
<circle cx="1722" cy="882.14" r="7.84" fill="url(#gGrey2)"/>
<circle cx="1721.2" cy="623.76" r="7.84" fill="url(#gGrey2)"/>
<circle cx="1753.47" cy="614.69" r="7.84" fill="url(#gGrey2)"/>
<circle cx="1990.78" cy="740.23" r="7.85" fill="url(#gGrey2)"/>
<circle cx="1887.97" cy="600.12" r="7.86" fill="url(#gGrey2)"/>
<circle cx="1822.47" cy="899.97" r="7.86" fill="url(#gGrey2)"/>
<circle cx="1704.51" cy="750.54" r="7.86" fill="url(#gGrey2)"/>
<circle cx="1839.14" cy="858.84" r="7.87" fill="url(#gGrey2)"/>
<circle cx="1715.4" cy="743.52" r="7.87" fill="url(#gGrey2)"/>
<circle cx="1768.99" cy="860.19" r="7.88" fill="url(#gGrey2)"/>
<circle cx="1957.1" cy="771.46" r="7.88" fill="url(#gGrey2)"/>
<circle cx="1811.46" cy="882.82" r="7.89" fill="url(#gGrey2)"/>
<circle cx="1976.67" cy="775.05" r="7.89" fill="url(#gGrey2)"/>
<circle cx="1728.1" cy="582.06" r="7.89" fill="url(#gGrey2)"/>
<circle cx="1859.68" cy="589.74" r="7.89" fill="url(#gGrey2)"/>
<circle cx="1691.7" cy="686.45" r="7.9" fill="url(#gGrey2)"/>
<circle cx="1973" cy="696.9" r="7.9" fill="url(#gGrey2)"/>
<circle cx="1766.46" cy="844.81" r="7.9" fill="url(#gGrey2)"/>
<circle cx="1794.66" cy="616.82" r="7.9" fill="url(#gGrey2)"/>
<circle cx="1846.6" cy="874.59" r="7.91" fill="url(#gGrey2)"/>
<circle cx="1704.92" cy="732.9" r="7.91" fill="url(#gGrey2)"/>
<circle cx="1901.46" cy="606.55" r="7.91" fill="url(#gGrey2)"/>
<circle cx="1767.71" cy="582.13" r="7.91" fill="url(#gGrey2)"/>
<circle cx="1943.17" cy="683.63" r="7.91" fill="url(#gGrey2)"/>
<circle cx="1969.87" cy="768.02" r="7.91" fill="url(#gGrey2)"/>
<circle cx="1759.71" cy="600.53" r="7.92" fill="url(#gGrey2)"/>
<circle cx="1940.62" cy="563.45" r="7.92" fill="url(#gGrey2)"/>
<circle cx="1954.71" cy="760.59" r="7.92" fill="url(#gGrey2)"/>
<circle cx="1736.6" cy="904.49" r="7.93" fill="url(#gGrey2)"/>
<circle cx="1852.19" cy="861.22" r="7.94" fill="url(#gGrey2)"/>
<circle cx="1766.69" cy="866.6" r="7.94" fill="url(#gGrey2)"/>
<circle cx="1918.24" cy="876.01" r="7.95" fill="url(#gGrey2)"/>
<circle cx="1800.75" cy="861.52" r="7.95" fill="url(#gGrey2)"/>
<circle cx="1811.23" cy="868.87" r="7.97" fill="url(#gGrey2)"/>
<circle cx="1804.48" cy="883.73" r="7.97" fill="url(#gGrey2)"/>
<circle cx="1878.85" cy="584.54" r="7.98" fill="url(#gGrey2)"/>
<circle cx="1724.26" cy="589.13" r="7.98" fill="url(#gGrey2)"/>
<circle cx="1748.66" cy="575.2" r="7.98" fill="url(#gGrey2)"/>
<circle cx="1679.57" cy="721.94" r="7.98" fill="url(#gGrey2)"/>
<circle cx="1915.8" cy="826.45" r="7.98" fill="url(#gGrey2)"/>
<circle cx="1714.45" cy="737.1" r="7.98" fill="url(#gGrey2)"/>
<circle cx="1942.54" cy="845.12" r="7.99" fill="url(#gGrey2)"/>
<circle cx="1959.52" cy="731.87" r="7.99" fill="url(#gGrey2)"/>
<circle cx="1943.18" cy="805.65" r="7.99" fill="url(#gGrey2)"/>
<circle cx="1932.43" cy="600.41" r="8" fill="url(#gGrey2)"/>
<circle cx="1767.25" cy="624.45" r="8" fill="url(#gGrey2)"/>
<circle cx="1697.49" cy="732.75" r="8.01" fill="url(#gGrey2)"/>
<circle cx="1713.58" cy="705.59" r="8.02" fill="url(#gGrey2)"/>
<circle cx="1877.66" cy="560.99" r="8.02" fill="url(#gGrey2)"/>
<circle cx="1801.03" cy="600.99" r="8.02" fill="url(#gGrey2)"/>
<circle cx="1961.21" cy="775.97" r="8.03" fill="url(#gGrey2)"/>
<circle cx="1741.33" cy="885.82" r="8.03" fill="url(#gGrey2)"/>
<circle cx="1914.77" cy="649.13" r="8.03" fill="url(#gGrey2)"/>
<circle cx="1677.83" cy="716.54" r="8.03" fill="url(#gGrey2)"/>
<circle cx="1712.12" cy="813.18" r="8.04" fill="url(#gGrey2)"/>
<circle cx="1923.78" cy="606.8" r="8.04" fill="url(#gGrey2)"/>
<circle cx="1933.11" cy="863.6" r="8.04" fill="url(#gGrey2)"/>
<circle cx="1914.09" cy="565.55" r="8.04" fill="url(#gGrey2)"/>
<circle cx="1937.8" cy="628.88" r="8.04" fill="url(#gGrey2)"/>
<circle cx="1898.77" cy="607.09" r="8.04" fill="url(#gGrey2)"/>
<circle cx="1936.65" cy="831.04" r="8.05" fill="url(#gGrey2)"/>
<circle cx="1945.54" cy="690.11" r="8.06" fill="url(#gGrey2)"/>
<circle cx="1749.59" cy="876.6" r="8.06" fill="url(#gGrey2)"/>
<circle cx="1934.62" cy="805.18" r="8.06" fill="url(#gGrey2)"/>
<circle cx="1896.18" cy="594.43" r="8.06" fill="url(#gGrey2)"/>
<circle cx="1904.76" cy="830.76" r="8.06" fill="url(#gGrey2)"/>
<circle cx="1886.89" cy="607.1" r="8.06" fill="url(#gGrey2)"/>
<circle cx="1844.9" cy="872.13" r="8.07" fill="url(#gGrey2)"/>
<circle cx="1807.36" cy="875.87" r="8.08" fill="url(#gGrey2)"/>
<circle cx="1911.33" cy="600.26" r="8.09" fill="url(#gGrey2)"/>
<circle cx="1796.99" cy="853.77" r="8.09" fill="url(#gGrey2)"/>
<circle cx="1731.97" cy="782.92" r="8.1" fill="url(#gGrey2)"/>
<circle cx="1796.53" cy="837.57" r="8.11" fill="url(#gGrey2)"/>
<circle cx="1945.41" cy="782" r="8.11" fill="url(#gGrey2)"/>
<circle cx="1837.07" cy="876.8" r="8.12" fill="url(#gGrey2)"/>
<circle cx="1872.8" cy="572.62" r="8.12" fill="url(#gGrey2)"/>
<circle cx="1884.84" cy="619.46" r="8.14" fill="url(#gGrey2)"/>
<circle cx="1865.6" cy="858.93" r="8.14" fill="url(#gGrey2)"/>
<circle cx="1722.59" cy="641.25" r="8.15" fill="url(#gGrey2)"/>
<circle cx="1881.98" cy="860.61" r="8.15" fill="url(#gGrey2)"/>
<circle cx="1805.51" cy="629.41" r="8.15" fill="url(#gGrey2)"/>
<circle cx="1755.73" cy="886.2" r="8.16" fill="url(#gGrey2)"/>
<circle cx="1833.05" cy="843.4" r="8.16" fill="url(#gGrey2)"/>
<circle cx="1937.49" cy="644.97" r="8.16" fill="url(#gGrey2)"/>
<circle cx="1878.42" cy="594.48" r="8.16" fill="url(#gGrey2)"/>
<circle cx="1866.17" cy="562.57" r="8.17" fill="url(#gGrey2)"/>
<circle cx="1717.72" cy="815" r="8.17" fill="url(#gGrey2)"/>
<circle cx="1753.65" cy="818.31" r="8.17" fill="url(#gGrey2)"/>
<circle cx="1850.15" cy="841.04" r="8.18" fill="url(#gGrey2)"/>
<circle cx="1830.3" cy="879.98" r="8.18" fill="url(#gGrey2)"/>
<circle cx="1948.37" cy="673.95" r="8.18" fill="url(#gGrey2)"/>
<circle cx="1868.75" cy="843.55" r="8.18" fill="url(#gGrey2)"/>
<circle cx="1960.08" cy="716.9" r="8.19" fill="url(#gGrey2)"/>
<circle cx="1732.16" cy="883.83" r="8.19" fill="url(#gGrey2)"/>
<circle cx="1809.05" cy="611.64" r="8.19" fill="url(#gGrey2)"/>
<circle cx="1948.3" cy="717.67" r="8.19" fill="url(#gGrey2)"/>
<circle cx="1812.84" cy="565.7" r="8.2" fill="url(#gGrey2)"/>
<circle cx="1716.4" cy="686.96" r="8.2" fill="url(#gGrey2)"/>
<circle cx="1695.51" cy="713.64" r="8.2" fill="url(#gGrey2)"/>
<circle cx="1778.44" cy="864.52" r="8.2" fill="url(#gGrey2)"/>
<circle cx="1747.71" cy="600.23" r="8.21" fill="url(#gGrey2)"/>
<circle cx="1923.47" cy="854.61" r="8.21" fill="url(#gGrey2)"/>
<circle cx="1758.7" cy="883.1" r="8.21" fill="url(#gGrey2)"/>
<circle cx="1923.42" cy="585.05" r="8.21" fill="url(#gGrey2)"/>
<circle cx="1954.08" cy="783.64" r="8.21" fill="url(#gGrey2)"/>
<circle cx="1733.51" cy="890.67" r="8.23" fill="url(#gGrey2)"/>
<circle cx="1847.57" cy="613.73" r="8.23" fill="url(#gGrey2)"/>
<circle cx="1962.92" cy="747.25" r="8.23" fill="url(#gGrey2)"/>
<circle cx="1860.65" cy="569.13" r="8.24" fill="url(#gGrey2)"/>
<circle cx="1810.24" cy="898.26" r="8.24" fill="url(#gGrey2)"/>
<circle cx="1879.66" cy="592.35" r="8.25" fill="url(#gGrey2)"/>
<circle cx="1974.77" cy="710.12" r="8.25" fill="url(#gGrey2)"/>
<circle cx="1753.19" cy="596.83" r="8.26" fill="url(#gGrey2)"/>
<circle cx="1924.16" cy="659.32" r="8.26" fill="url(#gGrey2)"/>
<circle cx="1919.42" cy="878.78" r="8.26" fill="url(#gGrey2)"/>
<circle cx="1753.71" cy="564.77" r="8.27" fill="url(#gGrey2)"/>
<circle cx="1948.36" cy="795.06" r="8.28" fill="url(#gGrey2)"/>
<circle cx="1961.82" cy="776.07" r="8.28" fill="url(#gGrey2)"/>
<circle cx="1765.37" cy="854.32" r="8.28" fill="url(#gGrey2)"/>
<circle cx="1927.25" cy="590.81" r="8.28" fill="url(#gGrey2)"/>
<circle cx="1735.85" cy="655.14" r="8.28" fill="url(#gGrey2)"/>
<circle cx="1896.54" cy="901.53" r="8.29" fill="url(#gGrey2)"/>
<circle cx="1736.83" cy="631.68" r="8.29" fill="url(#gGrey2)"/>
<circle cx="1753.14" cy="591.12" r="8.29" fill="url(#gGrey2)"/>
<circle cx="1881.54" cy="602.07" r="8.3" fill="url(#gGrey2)"/>
<circle cx="1793.03" cy="891.92" r="8.3" fill="url(#gGrey2)"/>
<circle cx="1735.78" cy="608.88" r="8.3" fill="url(#gGrey2)"/>
<circle cx="1699.03" cy="756.93" r="8.3" fill="url(#gGrey2)"/>
<circle cx="1714.16" cy="707.96" r="8.31" fill="url(#gGrey2)"/>
<circle cx="1927.22" cy="575.13" r="8.31" fill="url(#gGrey2)"/>
<circle cx="1837.87" cy="877.39" r="8.31" fill="url(#gGrey2)"/>
<circle cx="1671.98" cy="724.03" r="8.32" fill="url(#gGrey2)"/>
<circle cx="1879.14" cy="839.7" r="8.32" fill="url(#gGrey2)"/>
<circle cx="1796.51" cy="596.14" r="8.32" fill="url(#gGrey2)"/>
<circle cx="1782.14" cy="893.23" r="8.32" fill="url(#gGrey2)"/>
<circle cx="1721.93" cy="685.13" r="8.32" fill="url(#gGrey2)"/>
<circle cx="1867.39" cy="624.11" r="8.33" fill="url(#gGrey2)"/>
<circle cx="1722.94" cy="822.12" r="8.33" fill="url(#gGrey2)"/>
<circle cx="1800.27" cy="849.71" r="8.33" fill="url(#gGrey2)"/>
<circle cx="1857.79" cy="616.79" r="8.33" fill="url(#gGrey2)"/>
<circle cx="1818.92" cy="618.32" r="8.34" fill="url(#gGrey2)"/>
<circle cx="1952.42" cy="718.2" r="8.34" fill="url(#gGrey2)"/>
<circle cx="1876.2" cy="852.69" r="8.35" fill="url(#gGrey2)"/>
<circle cx="1689.88" cy="695.2" r="8.35" fill="url(#gGrey2)"/>
<circle cx="1971.96" cy="747.99" r="8.35" fill="url(#gGrey2)"/>
<circle cx="1952.65" cy="760.58" r="8.36" fill="url(#gGrey2)"/>
<circle cx="1915.42" cy="620.09" r="8.37" fill="url(#gGrey2)"/>
<circle cx="1913.65" cy="653.37" r="8.37" fill="url(#gGrey2)"/>
<circle cx="1927.69" cy="672.61" r="8.37" fill="url(#gGrey2)"/>
<circle cx="1839.49" cy="873.91" r="8.38" fill="url(#gGrey2)"/>
<circle cx="1899.23" cy="603.03" r="8.38" fill="url(#gGrey2)"/>
<circle cx="1706.97" cy="659.18" r="8.38" fill="url(#gGrey2)"/>
<circle cx="1699.87" cy="681.04" r="8.39" fill="url(#gGrey2)"/>
<circle cx="1744.68" cy="587.21" r="8.4" fill="url(#gGrey2)"/>
<circle cx="1805.96" cy="840.69" r="8.4" fill="url(#gGrey2)"/>
<circle cx="1957.54" cy="753.91" r="8.41" fill="url(#gGrey2)"/>
<circle cx="1959.55" cy="779.28" r="8.41" fill="url(#gGrey2)"/>
<circle cx="1914.49" cy="560.99" r="8.41" fill="url(#gGrey2)"/>
<circle cx="1858.42" cy="589.43" r="8.42" fill="url(#gGrey2)"/>
<circle cx="1992.57" cy="720.09" r="8.42" fill="url(#gGrey2)"/>
<circle cx="1797.41" cy="883.38" r="8.43" fill="url(#gGrey2)"/>
<circle cx="1955.61" cy="740.84" r="8.43" fill="url(#gGrey2)"/>
<circle cx="1966.92" cy="785.16" r="8.43" fill="url(#gGrey2)"/>
<circle cx="1695.19" cy="682.98" r="8.43" fill="url(#gGrey2)"/>
<circle cx="1926.6" cy="875.97" r="8.45" fill="url(#gGrey2)"/>
<circle cx="1744.44" cy="676.11" r="8.46" fill="url(#gGrey2)"/>
<circle cx="1908.24" cy="602.86" r="8.46" fill="url(#gGrey2)"/>
<circle cx="1821.61" cy="604.57" r="8.46" fill="url(#gGrey2)"/>
<circle cx="1939.83" cy="820.48" r="8.46" fill="url(#gGrey2)"/>
<circle cx="1940.83" cy="791.82" r="8.47" fill="url(#gGrey2)"/>
<circle cx="1734.8" cy="867.42" r="8.48" fill="url(#gGrey2)"/>
<circle cx="1777.37" cy="620.38" r="8.48" fill="url(#gGrey2)"/>
<circle cx="1942.39" cy="889.65" r="8.48" fill="url(#gGrey2)"/>
<circle cx="1866.15" cy="869.78" r="8.49" fill="url(#gGrey2)"/>
<circle cx="1916.44" cy="626.5" r="8.49" fill="url(#gGrey2)"/>
<circle cx="1754.53" cy="631.06" r="8.49" fill="url(#gGrey2)"/>
<circle cx="1885.13" cy="901.57" r="8.49" fill="url(#gGrey2)"/>
<circle cx="1714.17" cy="797.88" r="8.49" fill="url(#gGrey2)"/>
<circle cx="1694.69" cy="758.48" r="8.49" fill="url(#gGrey2)"/>
<circle cx="1794.99" cy="599.32" r="8.49" fill="url(#gGrey2)"/>
<circle cx="1948.06" cy="779.53" r="8.49" fill="url(#gGrey2)"/>
<circle cx="1784.58" cy="844.14" r="8.5" fill="url(#gGrey2)"/>
<circle cx="1955.43" cy="808.01" r="8.51" fill="url(#gGrey2)"/>
<circle cx="1798.37" cy="884.45" r="8.51" fill="url(#gGrey2)"/>
<circle cx="1957.23" cy="737.56" r="8.51" fill="url(#gGrey2)"/>
<circle cx="1746.92" cy="891.03" r="8.52" fill="url(#gGrey2)"/>
<circle cx="1742.86" cy="632.45" r="8.52" fill="url(#gGrey2)"/>
<circle cx="1737.64" cy="585.08" r="8.52" fill="url(#gGrey2)"/>
<circle cx="1894.49" cy="870.78" r="8.53" fill="url(#gGrey2)"/>
<circle cx="1761.2" cy="636.45" r="8.53" fill="url(#gGrey2)"/>
<circle cx="1972.73" cy="757.44" r="8.53" fill="url(#gGrey2)"/>
<circle cx="1829.34" cy="871.24" r="8.53" fill="url(#gGrey2)"/>
<circle cx="1916.36" cy="801.34" r="8.53" fill="url(#gGrey2)"/>
<circle cx="1745.28" cy="583.21" r="8.53" fill="url(#gGrey2)"/>
<circle cx="1932.16" cy="869.28" r="8.54" fill="url(#gGrey2)"/>
<circle cx="1740.24" cy="572.7" r="8.54" fill="url(#gGrey2)"/>
<circle cx="1935.07" cy="591.3" r="8.54" fill="url(#gGrey2)"/>
<circle cx="1908.79" cy="838.22" r="8.54" fill="url(#gGrey2)"/>
<circle cx="1870.29" cy="615.2" r="8.54" fill="url(#gGrey2)"/>
<circle cx="1696.52" cy="695.17" r="8.55" fill="url(#gGrey2)"/>
<circle cx="1719.48" cy="807.33" r="8.56" fill="url(#gGrey2)"/>
<circle cx="1891.91" cy="839.41" r="8.57" fill="url(#gGrey2)"/>
<circle cx="1804.58" cy="852.26" r="8.57" fill="url(#gGrey2)"/>
<circle cx="1886.6" cy="896.27" r="8.58" fill="url(#gGrey2)"/>
<circle cx="1879.2" cy="893.36" r="8.58" fill="url(#gGrey2)"/>
<circle cx="1720.23" cy="682.34" r="8.59" fill="url(#gGrey2)"/>
<circle cx="1784.51" cy="613.55" r="8.59" fill="url(#gGrey2)"/>
<circle cx="1928.9" cy="623.97" r="8.59" fill="url(#gGrey2)"/>
<circle cx="1976.82" cy="698.16" r="8.6" fill="url(#gGrey2)"/>
<circle cx="1920.49" cy="617.82" r="8.6" fill="url(#gGrey2)"/>
<circle cx="1751.76" cy="651.85" r="8.6" fill="url(#gGrey2)"/>
<circle cx="1921.75" cy="589.34" r="8.61" fill="url(#gGrey2)"/>
<circle cx="1835.38" cy="608.12" r="8.61" fill="url(#gGrey2)"/>
<circle cx="1924.63" cy="811.24" r="8.61" fill="url(#gGrey2)"/>
<circle cx="1807.33" cy="901.25" r="8.62" fill="url(#gGrey2)"/>
<circle cx="1806.17" cy="623.32" r="8.62" fill="url(#gGrey2)"/>
<circle cx="1723.18" cy="677.87" r="8.63" fill="url(#gGrey2)"/>
<circle cx="1933.91" cy="775.39" r="8.64" fill="url(#gGrey2)"/>
<circle cx="1766.97" cy="589.81" r="8.64" fill="url(#gGrey2)"/>
<circle cx="1959.64" cy="704.13" r="8.64" fill="url(#gGrey2)"/>
<circle cx="1922.21" cy="589.39" r="8.65" fill="url(#gGrey2)"/>
<circle cx="1755.62" cy="608.29" r="8.65" fill="url(#gGrey2)"/>
<circle cx="1753.12" cy="810.66" r="8.66" fill="url(#gGrey2)"/>
<circle cx="1733.89" cy="837.13" r="8.66" fill="url(#gGrey2)"/>
<circle cx="1923.13" cy="630.49" r="8.66" fill="url(#gGrey2)"/>
<circle cx="1940.12" cy="877.71" r="8.67" fill="url(#gGrey2)"/>
<circle cx="1892.23" cy="591.72" r="8.67" fill="url(#gGrey2)"/>
<circle cx="1877.14" cy="586.6" r="8.67" fill="url(#gGrey2)"/>
<circle cx="1786.08" cy="578.66" r="8.67" fill="url(#gGrey2)"/>
<circle cx="1797.95" cy="585.98" r="8.67" fill="url(#gGrey2)"/>
<circle cx="1794.37" cy="850.02" r="8.67" fill="url(#gGrey2)"/>
<circle cx="1728.86" cy="763.45" r="8.68" fill="url(#gGrey2)"/>
<circle cx="1918.52" cy="828.14" r="8.68" fill="url(#gGrey2)"/>
<circle cx="1792.6" cy="871.81" r="8.68" fill="url(#gGrey2)"/>
<circle cx="1936.68" cy="902.14" r="8.69" fill="url(#gGrey2)"/>
<circle cx="1942.78" cy="772.39" r="8.69" fill="url(#gGrey2)"/>
<circle cx="1798.56" cy="572.02" r="8.69" fill="url(#gGrey2)"/>
<circle cx="1914.34" cy="660.87" r="8.7" fill="url(#gGrey2)"/>
<circle cx="1879.73" cy="570.94" r="8.7" fill="url(#gGrey2)"/>
<circle cx="1980.72" cy="696.81" r="8.7" fill="url(#gGrey2)"/>
<circle cx="1924.93" cy="864.25" r="8.71" fill="url(#gGrey2)"/>
<circle cx="1694.59" cy="761.11" r="8.71" fill="url(#gGrey2)"/>
<circle cx="1823.39" cy="607.85" r="8.72" fill="url(#gGrey2)"/>
<circle cx="1812.69" cy="611.26" r="8.72" fill="url(#gGrey2)"/>
<circle cx="1737.67" cy="656.21" r="8.72" fill="url(#gGrey2)"/>
<circle cx="1746.61" cy="886.44" r="8.72" fill="url(#gGrey2)"/>
<circle cx="1917.37" cy="793.4" r="8.74" fill="url(#gGrey2)"/>
<circle cx="1997.44" cy="737.12" r="8.74" fill="url(#gGrey2)"/>
<circle cx="1745.93" cy="568.01" r="8.74" fill="url(#gGrey2)"/>
<circle cx="1901.89" cy="865.01" r="8.75" fill="url(#gGrey2)"/>
<circle cx="1983.75" cy="736.67" r="8.76" fill="url(#gGrey2)"/>
<circle cx="1682.12" cy="752.14" r="8.76" fill="url(#gGrey2)"/>
<circle cx="1927.45" cy="787.08" r="8.76" fill="url(#gGrey2)"/>
<circle cx="1806.9" cy="611.53" r="8.76" fill="url(#gGrey2)"/>
<circle cx="1713.34" cy="782.42" r="8.77" fill="url(#gGrey2)"/>
<circle cx="1758.45" cy="622.96" r="8.77" fill="url(#gGrey2)"/>
<circle cx="1975.03" cy="703.12" r="8.77" fill="url(#gGrey2)"/>
<circle cx="1692.59" cy="774.31" r="8.77" fill="url(#gGrey2)"/>
<circle cx="1919.42" cy="890.84" r="8.77" fill="url(#gGrey2)"/>
<circle cx="1726.77" cy="663.03" r="8.78" fill="url(#gGrey2)"/>
<circle cx="1952.41" cy="728.88" r="8.78" fill="url(#gGrey2)"/>
<circle cx="1705.1" cy="805.9" r="8.78" fill="url(#gGrey2)"/>
<circle cx="1819.55" cy="568.31" r="8.78" fill="url(#gGrey2)"/>
<circle cx="1742.52" cy="830.35" r="8.78" fill="url(#gGrey2)"/>
<circle cx="1746.73" cy="849.99" r="8.79" fill="url(#gGrey2)"/>
<circle cx="1985.24" cy="760.15" r="8.79" fill="url(#gGrey2)"/>
<circle cx="1935.07" cy="589.15" r="8.79" fill="url(#gGrey2)"/>
<circle cx="1748.65" cy="892.07" r="8.79" fill="url(#gGrey2)"/>
<circle cx="1820" cy="613.07" r="8.79" fill="url(#gGrey2)"/>
<circle cx="1950.28" cy="670.43" r="8.82" fill="url(#gGrey2)"/>
<circle cx="1837.27" cy="610.09" r="8.82" fill="url(#gGrey2)"/>
<circle cx="1888.63" cy="606.2" r="8.83" fill="url(#gGrey2)"/>
<circle cx="1742.7" cy="594.81" r="8.83" fill="url(#gGrey2)"/>
<circle cx="1728.75" cy="576.39" r="8.84" fill="url(#gGrey2)"/>
<circle cx="1772.08" cy="837.11" r="8.84" fill="url(#gGrey2)"/>
<circle cx="1744.93" cy="799.02" r="8.85" fill="url(#gGrey2)"/>
<circle cx="1944.02" cy="847.68" r="8.85" fill="url(#gGrey2)"/>
<circle cx="1721.34" cy="768.39" r="8.86" fill="url(#gGrey2)"/>
<circle cx="1895.39" cy="841.37" r="8.86" fill="url(#gGrey2)"/>
<circle cx="1801.7" cy="567.96" r="8.86" fill="url(#gGrey2)"/>
<circle cx="1726.71" cy="589.9" r="8.87" fill="url(#gGrey2)"/>
<circle cx="1709.57" cy="700.9" r="8.88" fill="url(#gGrey2)"/>
<circle cx="1775.56" cy="583.4" r="8.88" fill="url(#gGrey2)"/>
<circle cx="1898.32" cy="864.15" r="8.88" fill="url(#gGrey2)"/>
<circle cx="1871.55" cy="611.5" r="8.89" fill="url(#gGrey2)"/>
<circle cx="1902.89" cy="888.21" r="8.89" fill="url(#gGrey2)"/>
<circle cx="1738.81" cy="789.87" r="8.89" fill="url(#gGrey2)"/>
<circle cx="1910.59" cy="808.97" r="8.89" fill="url(#gGrey2)"/>
<circle cx="1851.48" cy="610.58" r="8.9" fill="url(#gGrey2)"/>
<circle cx="1772.45" cy="861.9" r="8.9" fill="url(#gGrey2)"/>
<circle cx="1729.2" cy="694.42" r="8.9" fill="url(#gGrey2)"/>
<circle cx="1840.7" cy="868.79" r="8.91" fill="url(#gGrey2)"/>
<circle cx="1824.18" cy="889" r="8.91" fill="url(#gGrey2)"/>
<circle cx="1900.56" cy="872.91" r="8.92" fill="url(#gGrey2)"/>
<circle cx="1817.94" cy="566.97" r="8.94" fill="url(#gGrey2)"/>
<circle cx="1904.66" cy="903.02" r="8.94" fill="url(#gGrey2)"/>
<circle cx="1706.84" cy="737.29" r="8.95" fill="url(#gGrey2)"/>
<circle cx="1956.27" cy="689.35" r="8.95" fill="url(#gGrey2)"/>
<circle cx="1778.88" cy="622.74" r="8.95" fill="url(#gGrey2)"/>
<circle cx="1849.61" cy="864.43" r="8.96" fill="url(#gGrey2)"/>
<circle cx="1796.87" cy="593.4" r="8.96" fill="url(#gGrey2)"/>
<circle cx="1840.59" cy="877.08" r="8.96" fill="url(#gGrey2)"/>
<circle cx="1886.94" cy="854.88" r="8.97" fill="url(#gGrey2)"/>
<circle cx="1837.99" cy="855.58" r="8.97" fill="url(#gGrey2)"/>
<circle cx="1759.99" cy="648.8" r="8.97" fill="url(#gGrey2)"/>
<circle cx="1875.42" cy="573.67" r="8.97" fill="url(#gGrey2)"/>
<circle cx="1902.54" cy="633.25" r="8.98" fill="url(#gGrey2)"/>
<circle cx="1783.92" cy="581.7" r="8.98" fill="url(#gGrey2)"/>
<circle cx="1736.22" cy="864.35" r="8.99" fill="url(#gGrey2)"/>
<circle cx="1789.43" cy="861.04" r="8.99" fill="url(#gGrey2)"/>
<circle cx="1925" cy="865.82" r="8.99" fill="url(#gGrey2)"/>
<circle cx="1871.25" cy="867.82" r="9" fill="url(#gGrey2)"/>
<circle cx="1979.54" cy="718.3" r="9" fill="url(#gGrey2)"/>
<circle cx="1793.45" cy="613.55" r="9.01" fill="url(#gGrey2)"/>
<circle cx="1713.3" cy="694.84" r="9.02" fill="url(#gGrey2)"/>
<circle cx="1754.57" cy="842.73" r="9.02" fill="url(#gGrey2)"/>
<circle cx="1923.98" cy="781.14" r="9.02" fill="url(#gGrey2)"/>
<circle cx="1860.31" cy="578.32" r="9.02" fill="url(#gGrey2)"/>
<circle cx="1926.95" cy="632.8" r="9.02" fill="url(#gGrey2)"/>
<circle cx="1881.29" cy="877.16" r="9.02" fill="url(#gGrey2)"/>
<circle cx="1853.21" cy="588.43" r="9.02" fill="url(#gGrey2)"/>
<circle cx="1957.09" cy="755.76" r="9.03" fill="url(#gGrey2)"/>
<circle cx="1840.41" cy="841" r="9.03" fill="url(#gGrey2)"/>
<circle cx="1743.74" cy="842.92" r="9.04" fill="url(#gGrey2)"/>
<circle cx="1789.16" cy="604.57" r="9.04" fill="url(#gGrey2)"/>
<circle cx="1859.17" cy="842.08" r="9.05" fill="url(#gGrey2)"/>
<circle cx="1749.51" cy="807.37" r="9.06" fill="url(#gGrey2)"/>
<circle cx="1806.03" cy="606.67" r="9.06" fill="url(#gGrey2)"/>
<circle cx="1953.66" cy="750.74" r="9.06" fill="url(#gGrey2)"/>
<circle cx="1978.64" cy="718.55" r="9.07" fill="url(#gGrey2)"/>
<circle cx="1985.27" cy="713.47" r="9.07" fill="url(#gGrey2)"/>
<circle cx="1832.84" cy="869.37" r="9.07" fill="url(#gGrey2)"/>
<circle cx="1701.25" cy="672.63" r="9.08" fill="url(#gGrey2)"/>
<circle cx="1896.66" cy="567.56" r="9.08" fill="url(#gGrey2)"/>
<circle cx="1824.66" cy="887.33" r="9.08" fill="url(#gGrey2)"/>
<circle cx="1980.79" cy="743.33" r="9.09" fill="url(#gGrey2)"/>
<circle cx="1720.73" cy="844.82" r="9.09" fill="url(#gGrey2)"/>
<circle cx="1943.11" cy="900.88" r="9.09" fill="url(#gGrey2)"/>
<circle cx="1729.11" cy="652.32" r="9.09" fill="url(#gGrey2)"/>
<circle cx="1735.14" cy="593.79" r="9.1" fill="url(#gGrey2)"/>
<circle cx="1701.13" cy="755.43" r="9.11" fill="url(#gGrey2)"/>
<circle cx="1825.16" cy="883.91" r="9.12" fill="url(#gGrey2)"/>
<circle cx="1906.42" cy="605.58" r="9.14" fill="url(#gGrey2)"/>
<circle cx="1839.75" cy="871.12" r="9.15" fill="url(#gGrey2)"/>
<circle cx="1955.37" cy="772.92" r="9.16" fill="url(#gGrey2)"/>
<circle cx="1816.68" cy="862.44" r="9.16" fill="url(#gGrey2)"/>
<circle cx="1756.9" cy="647.33" r="9.16" fill="url(#gGrey2)"/>
<circle cx="1721.98" cy="659.83" r="9.16" fill="url(#gGrey2)"/>
<circle cx="1822.98" cy="884.7" r="9.17" fill="url(#gGrey2)"/>
<circle cx="1962.36" cy="712.55" r="9.17" fill="url(#gGrey2)"/>
<circle cx="1794.66" cy="586.7" r="9.17" fill="url(#gGrey2)"/>
<circle cx="1970.14" cy="723.76" r="9.18" fill="url(#gGrey2)"/>
<circle cx="1708.94" cy="698.63" r="9.18" fill="url(#gGrey2)"/>
<circle cx="1930.6" cy="882.57" r="9.18" fill="url(#gGrey2)"/>
<circle cx="1975.95" cy="689.33" r="9.19" fill="url(#gGrey2)"/>
<circle cx="1721" cy="893.52" r="9.19" fill="url(#gGrey2)"/>
<circle cx="1943.51" cy="754.75" r="9.19" fill="url(#gGrey2)"/>
<circle cx="1723.95" cy="799.79" r="9.2" fill="url(#gGrey2)"/>
<circle cx="1969.89" cy="743.38" r="9.2" fill="url(#gGrey2)"/>
<circle cx="1715.58" cy="656.47" r="9.21" fill="url(#gGrey2)"/>
<circle cx="1701.87" cy="694.85" r="9.21" fill="url(#gGrey2)"/>
<circle cx="1932.93" cy="769.78" r="9.21" fill="url(#gGrey2)"/>
<circle cx="1786.64" cy="866.75" r="9.22" fill="url(#gGrey2)"/>
<circle cx="1699.48" cy="782.95" r="9.23" fill="url(#gGrey2)"/>
<circle cx="1940.88" cy="845.36" r="9.23" fill="url(#gGrey2)"/>
<circle cx="1697.49" cy="681.06" r="9.24" fill="url(#gGrey2)"/>
<circle cx="1808.25" cy="848.15" r="9.25" fill="url(#gGrey2)"/>
<circle cx="1828.81" cy="615.79" r="9.25" fill="url(#gGrey2)"/>
<circle cx="1854.06" cy="893.6" r="9.25" fill="url(#gGrey2)"/>
<circle cx="1703.18" cy="687.04" r="9.25" fill="url(#gGrey2)"/>
<circle cx="1979.14" cy="723.2" r="9.26" fill="url(#gGrey2)"/>
<circle cx="1719.46" cy="714.47" r="9.26" fill="url(#gGrey2)"/>
<circle cx="1692.82" cy="724.2" r="9.27" fill="url(#gGrey2)"/>
<circle cx="1707.08" cy="754.79" r="9.28" fill="url(#gGrey2)"/>
<circle cx="1947.75" cy="694.1" r="9.29" fill="url(#gGrey2)"/>
<circle cx="1851.46" cy="577.64" r="9.29" fill="url(#gGrey2)"/>
<circle cx="1731.44" cy="667.29" r="9.3" fill="url(#gGrey2)"/>
<circle cx="1736.61" cy="875.15" r="9.3" fill="url(#gGrey2)"/>
<circle cx="1720.31" cy="698.52" r="9.3" fill="url(#gGrey2)"/>
<circle cx="1739.85" cy="868.44" r="9.3" fill="url(#gGrey2)"/>
<circle cx="1746.59" cy="881.78" r="9.3" fill="url(#gGrey2)"/>
<circle cx="1713.99" cy="690.97" r="9.3" fill="url(#gGrey2)"/>
<circle cx="1932.33" cy="846.56" r="9.31" fill="url(#gGrey2)"/>
<circle cx="1749.83" cy="648.25" r="9.32" fill="url(#gGrey2)"/>
<circle cx="1885.24" cy="576.27" r="9.32" fill="url(#gGrey2)"/>
<circle cx="1695.74" cy="750.94" r="9.32" fill="url(#gGrey2)"/>
<circle cx="1881.45" cy="625.74" r="9.32" fill="url(#gGrey2)"/>
<circle cx="1675.24" cy="732.85" r="9.33" fill="url(#gGrey2)"/>
<circle cx="1722.16" cy="786.83" r="9.35" fill="url(#gGrey2)"/>
<circle cx="1706.83" cy="673.53" r="9.35" fill="url(#gGrey2)"/>
<circle cx="1754.25" cy="627.28" r="9.35" fill="url(#gGrey2)"/>
<circle cx="1977.26" cy="751.03" r="9.35" fill="url(#gGrey2)"/>
<circle cx="1917.22" cy="859.67" r="9.35" fill="url(#gGrey2)"/>
<circle cx="1690.27" cy="754.36" r="9.35" fill="url(#gGrey2)"/>
<circle cx="1766.94" cy="578.54" r="9.36" fill="url(#gGrey2)"/>
<circle cx="1946.07" cy="716.67" r="9.36" fill="url(#gGrey2)"/>
<circle cx="1875.37" cy="860.69" r="9.36" fill="url(#gGrey2)"/>
<circle cx="1729.51" cy="613.2" r="9.36" fill="url(#gGrey2)"/>
<circle cx="1902.4" cy="583.9" r="9.37" fill="url(#gGrey2)"/>
<circle cx="1754.82" cy="618.03" r="9.37" fill="url(#gGrey2)"/>
<circle cx="1760.28" cy="833.79" r="9.37" fill="url(#gGrey2)"/>
<circle cx="1741.6" cy="660.02" r="9.38" fill="url(#gGrey2)"/>
<circle cx="1951.5" cy="810.55" r="9.38" fill="url(#gGrey2)"/>
<circle cx="1904.77" cy="836.41" r="9.39" fill="url(#gGrey2)"/>
<circle cx="1802.6" cy="857.6" r="9.39" fill="url(#gGrey2)"/>
<circle cx="1683.84" cy="719.28" r="9.4" fill="url(#gGrey2)"/>
<circle cx="1981.22" cy="710.19" r="9.4" fill="url(#gGrey2)"/>
<circle cx="1728.46" cy="834.78" r="9.4" fill="url(#gGrey2)"/>
<circle cx="1857.92" cy="836.85" r="9.4" fill="url(#gGrey2)"/>
<circle cx="1893.8" cy="605.01" r="9.4" fill="url(#gGrey2)"/>
<circle cx="1758.98" cy="818.27" r="9.41" fill="url(#gGrey2)"/>
<circle cx="1855.82" cy="898.74" r="9.41" fill="url(#gGrey2)"/>
<circle cx="1982.19" cy="735.83" r="9.41" fill="url(#gGrey2)"/>
<circle cx="1829.45" cy="570.91" r="9.41" fill="url(#gGrey2)"/>
<circle cx="1766" cy="635.77" r="9.41" fill="url(#gGrey2)"/>
<circle cx="1936.77" cy="822.25" r="9.41" fill="url(#gGrey2)"/>
<circle cx="1721.77" cy="876.5" r="9.42" fill="url(#gGrey2)"/>
<circle cx="1942.68" cy="750.08" r="9.42" fill="url(#gGrey2)"/>
<circle cx="1933.53" cy="615.72" r="9.42" fill="url(#gGrey2)"/>
<circle cx="1954.18" cy="804.2" r="9.42" fill="url(#gGrey2)"/>
<circle cx="1904.52" cy="839.24" r="9.43" fill="url(#gGrey2)"/>
<circle cx="1846.37" cy="611.07" r="9.43" fill="url(#gGrey2)"/>
<circle cx="1945.95" cy="803.82" r="9.44" fill="url(#gGrey2)"/>
<circle cx="1834.93" cy="608.98" r="9.45" fill="url(#gGrey2)"/>
<circle cx="1731.67" cy="852.76" r="9.45" fill="url(#gGrey2)"/>
<circle cx="1761.99" cy="569.76" r="9.45" fill="url(#gGrey2)"/>
<circle cx="1790.77" cy="614.96" r="9.45" fill="url(#gGrey2)"/>
<circle cx="1922.82" cy="797.09" r="9.46" fill="url(#gGrey2)"/>
<circle cx="1722.89" cy="816.7" r="9.46" fill="url(#gGrey2)"/>
<circle cx="1818.89" cy="896.44" r="9.47" fill="url(#gGrey2)"/>
<circle cx="1818.33" cy="840.83" r="9.48" fill="url(#gGrey2)"/>
<circle cx="1714.26" cy="672.59" r="9.49" fill="url(#gGrey2)"/>
<circle cx="1985.81" cy="713.54" r="9.49" fill="url(#gGrey2)"/>
<circle cx="1756.16" cy="880.74" r="9.49" fill="url(#gGrey2)"/>
<circle cx="1835.63" cy="842.49" r="9.49" fill="url(#gGrey2)"/>
<circle cx="1929.32" cy="590.22" r="9.5" fill="url(#gGrey2)"/>
<circle cx="1705.82" cy="636.02" r="9" fill="url(#gRedA)"/>
<circle cx="1690.59" cy="642.32" r="9" fill="url(#gRedA)"/>
<circle cx="1692.84" cy="625.99" r="9" fill="url(#gRedA)"/>
<circle cx="1697.4" cy="633.8" r="8" fill="url(#gRedB)"/>
<circle cx="1821.33" cy="645.69" r="9" fill="url(#gRedA)"/>
<circle cx="1805.75" cy="651.05" r="9" fill="url(#gRedA)"/>
<circle cx="1808.98" cy="634.89" r="9" fill="url(#gRedA)"/>
<circle cx="1813" cy="642.9" r="8" fill="url(#gRedB)"/>
<circle cx="1841" cy="573.98" r="9" fill="url(#gRedA)"/>
<circle cx="1855.31" cy="565.81" r="9" fill="url(#gRedA)"/>
<circle cx="1855.14" cy="582.29" r="9" fill="url(#gRedA)"/>
<circle cx="1851.5" cy="573" r="8" fill="url(#gRedB)"/>
<circle cx="1953.45" cy="584.39" r="9" fill="url(#gRedA)"/>
<circle cx="1964.57" cy="572.23" r="9" fill="url(#gRedA)"/>
<circle cx="1969.46" cy="587.97" r="9" fill="url(#gRedA)"/>
<circle cx="1963.5" cy="580.5" r="8" fill="url(#gRedB)"/>
<circle cx="1900.4" cy="664.04" r="9" fill="url(#gRedA)"/>
<circle cx="1905.24" cy="679.79" r="9" fill="url(#gRedA)"/>
<circle cx="1889.2" cy="676.01" r="9" fill="url(#gRedA)"/>
<circle cx="1899.3" cy="672.3" r="8" fill="url(#gRedB)"/>
<circle cx="1979.75" cy="658.32" r="9" fill="url(#gRedA)"/>
<circle cx="1986.96" cy="673.14" r="9" fill="url(#gRedA)"/>
<circle cx="1970.52" cy="671.88" r="9" fill="url(#gRedA)"/>
<circle cx="1980.1" cy="666.8" r="8" fill="url(#gRedB)"/>
<circle cx="1747.71" cy="693.36" r="9" fill="url(#gRedA)"/>
<circle cx="1753.2" cy="708.89" r="9" fill="url(#gRedA)"/>
<circle cx="1737.02" cy="705.79" r="9" fill="url(#gRedA)"/>
<circle cx="1747" cy="701.7" r="8" fill="url(#gRedB)"/>
<circle cx="1905.31" cy="761.01" r="9" fill="url(#gRedA)"/>
<circle cx="1919.93" cy="753.4" r="9" fill="url(#gRedA)"/>
<circle cx="1919.12" cy="769.86" r="9" fill="url(#gRedA)"/>
<circle cx="1915.8" cy="760.4" r="8" fill="url(#gRedB)"/>
<circle cx="1690.81" cy="795.51" r="9" fill="url(#gRedA)"/>
<circle cx="1679.43" cy="807.42" r="9" fill="url(#gRedA)"/>
<circle cx="1674.88" cy="791.58" r="9" fill="url(#gRedA)"/>
<circle cx="1682.7" cy="797.2" r="8" fill="url(#gRedB)"/>
<circle cx="1757.23" cy="798.71" r="9" fill="url(#gRedA)"/>
<circle cx="1758.33" cy="782.26" r="9" fill="url(#gRedA)"/>
<circle cx="1771.97" cy="791.51" r="9" fill="url(#gRedA)"/>
<circle cx="1763.5" cy="789.8" r="8" fill="url(#gRedB)"/>
<circle cx="1843.97" cy="826.58" r="9" fill="url(#gRedA)"/>
<circle cx="1844.18" cy="810.1" r="9" fill="url(#gRedA)"/>
<circle cx="1858.3" cy="818.6" r="9" fill="url(#gRedA)"/>
<circle cx="1849.8" cy="817.4" r="8" fill="url(#gRedB)"/>
<circle cx="1974" cy="827.34" r="9" fill="url(#gRedA)"/>
<circle cx="1959.84" cy="835.78" r="9" fill="url(#gRedA)"/>
<circle cx="1959.7" cy="819.3" r="9" fill="url(#gRedA)"/>
<circle cx="1965.5" cy="826.5" r="8" fill="url(#gRedB)"/>
<circle cx="1698" cy="871.44" r="9" fill="url(#gRedA)"/>
<circle cx="1703.68" cy="886.91" r="9" fill="url(#gRedA)"/>
<circle cx="1687.45" cy="884" r="9" fill="url(#gRedA)"/>
<circle cx="1697.4" cy="879.8" r="8" fill="url(#gRedB)"/>
<circle cx="1819.64" cy="895.67" r="9" fill="url(#gRedA)"/>
<circle cx="1804.47" cy="889.24" r="9" fill="url(#gRedA)"/>
<circle cx="1817.68" cy="879.39" r="9" fill="url(#gRedA)"/>
<circle cx="1814.9" cy="887.1" r="8" fill="url(#gRedB)"/>
</g>
<rect x="1670.5" y="570.7" width="325.5" height="324.9" fill="none" stroke="#2a2a2a" stroke-width="2.2"/>
<line x1="1722.7" y1="408.4" x2="1722.7" y2="419.4" stroke="#2a2a2a" stroke-width="2.2"/>
<text x="1720.7" y="457.2" font-size="30" font-family="'Liberation Sans', Arial, Helvetica, sans-serif" text-anchor="middle">-1</text>
<line x1="1830.5" y1="408.4" x2="1830.5" y2="419.4" stroke="#2a2a2a" stroke-width="2.2"/>
<text x="1830.5" y="457.2" font-size="30" font-family="'Liberation Sans', Arial, Helvetica, sans-serif" text-anchor="middle">0</text>
<line x1="1939.2" y1="408.4" x2="1939.2" y2="419.4" stroke="#2a2a2a" stroke-width="2.2"/>
<text x="1939.2" y="457.2" font-size="30" font-family="'Liberation Sans', Arial, Helvetica, sans-serif" text-anchor="middle">1</text>
<line x1="1657.5" y1="141" x2="1668.5" y2="141" stroke="#2a2a2a" stroke-width="2.2"/>
<text x="1645" y="154" font-size="30" font-family="'Liberation Sans', Arial, Helvetica, sans-serif" text-anchor="end">1</text>
<line x1="1657.5" y1="248.4" x2="1668.5" y2="248.4" stroke="#2a2a2a" stroke-width="2.2"/>
<text x="1645" y="261.4" font-size="30" font-family="'Liberation Sans', Arial, Helvetica, sans-serif" text-anchor="end">0</text>
<line x1="1657.5" y1="355.4" x2="1668.5" y2="355.4" stroke="#2a2a2a" stroke-width="2.2"/>
<text x="1645" y="368.4" font-size="30" font-family="'Liberation Sans', Arial, Helvetica, sans-serif" text-anchor="end">-1</text>
<text x="1839.8" y="496" font-size="32" font-family="'Liberation Sans', Arial, Helvetica, sans-serif" text-anchor="middle">x (nm)</text>
<text x="1580.8" y="239.9" font-size="32" font-family="'Liberation Sans', Arial, Helvetica, sans-serif" text-anchor="middle" transform="rotate(-90 1580.8 239.9)">y (nm)</text>
<line x1="1724.4" y1="895.6" x2="1724.4" y2="906.6" stroke="#2a2a2a" stroke-width="2.2"/>
<text x="1722.4" y="941.5" font-size="30" font-family="'Liberation Sans', Arial, Helvetica, sans-serif" text-anchor="middle">-1</text>
<line x1="1832.5" y1="895.6" x2="1832.5" y2="906.6" stroke="#2a2a2a" stroke-width="2.2"/>
<text x="1832.5" y="941.5" font-size="30" font-family="'Liberation Sans', Arial, Helvetica, sans-serif" text-anchor="middle">0</text>
<line x1="1940.6" y1="895.6" x2="1940.6" y2="906.6" stroke="#2a2a2a" stroke-width="2.2"/>
<text x="1940.6" y="941.5" font-size="30" font-family="'Liberation Sans', Arial, Helvetica, sans-serif" text-anchor="middle">1</text>
<line x1="1659.5" y1="625.2" x2="1670.5" y2="625.2" stroke="#2a2a2a" stroke-width="2.2"/>
<text x="1647" y="638.2" font-size="30" font-family="'Liberation Sans', Arial, Helvetica, sans-serif" text-anchor="end">1</text>
<line x1="1659.5" y1="733" x2="1670.5" y2="733" stroke="#2a2a2a" stroke-width="2.2"/>
<text x="1647" y="746" font-size="30" font-family="'Liberation Sans', Arial, Helvetica, sans-serif" text-anchor="end">0</text>
<line x1="1659.5" y1="841.7" x2="1670.5" y2="841.7" stroke="#2a2a2a" stroke-width="2.2"/>
<text x="1647" y="854.7" font-size="30" font-family="'Liberation Sans', Arial, Helvetica, sans-serif" text-anchor="end">-1</text>
<text x="1842.25" y="978.7" font-size="32" font-family="'Liberation Sans', Arial, Helvetica, sans-serif" text-anchor="middle">x (nm)</text>
<text x="1580.8" y="724.5" font-size="32" font-family="'Liberation Sans', Arial, Helvetica, sans-serif" text-anchor="middle" transform="rotate(-90 1580.8 724.5)">y (nm)</text>
<text x="14.2" y="1051.5" font-size="44" font-family="'Liberation Sans', Arial, Helvetica, sans-serif" font-weight="bold">c</text>
<path d="M129.5,1363.2 L644.5,1363.2 L701.5,1397 L72.5,1397Z" fill="url(#gTop)"/>
<path d="M72.5,1397 L701.5,1397 L698,1545 L83.2,1545Z" fill="url(#gFront)"/>
<line x1="72.5" y1="1397.5" x2="701.5" y2="1397.5" stroke="#8496b8" stroke-width="1.2"/>
<path d="M205.06,1460.5 L178.74,1467.8 L146.24,1467.8 L140.06,1460.5 L166.38,1453.2 L198.88,1453.2Z M184.91,1475.1 L158.59,1482.4 L126.09,1482.4 L119.91,1475.1 L146.24,1467.8 L178.74,1467.8Z M164.76,1489.7 L138.44,1497 L105.94,1497 L99.76,1489.7 L126.09,1482.4 L158.59,1482.4Z M243.74,1467.8 L217.41,1475.1 L184.91,1475.1 L178.74,1467.8 L205.06,1460.5 L237.56,1460.5Z M223.59,1482.4 L197.26,1489.7 L164.76,1489.7 L158.59,1482.4 L184.91,1475.1 L217.41,1475.1Z M203.44,1497 L177.12,1504.3 L144.62,1504.3 L138.44,1497 L164.76,1489.7 L197.26,1489.7Z M302.56,1460.5 L276.24,1467.8 L243.74,1467.8 L237.56,1460.5 L263.88,1453.2 L296.38,1453.2Z M282.41,1475.1 L256.09,1482.4 L223.59,1482.4 L217.41,1475.1 L243.74,1467.8 L276.24,1467.8Z M262.26,1489.7 L235.94,1497 L203.44,1497 L197.26,1489.7 L223.59,1482.4 L256.09,1482.4Z M341.24,1467.8 L314.91,1475.1 L282.41,1475.1 L276.24,1467.8 L302.56,1460.5 L335.06,1460.5Z M321.09,1482.4 L294.76,1489.7 L262.26,1489.7 L256.09,1482.4 L282.41,1475.1 L314.91,1475.1Z M300.94,1497 L274.62,1504.3 L242.12,1504.3 L235.94,1497 L262.26,1489.7 L294.76,1489.7Z M400.06,1460.5 L373.74,1467.8 L341.24,1467.8 L335.06,1460.5 L361.38,1453.2 L393.88,1453.2Z M379.91,1475.1 L353.59,1482.4 L321.09,1482.4 L314.91,1475.1 L341.24,1467.8 L373.74,1467.8Z M359.76,1489.7 L333.44,1497 L300.94,1497 L294.76,1489.7 L321.09,1482.4 L353.59,1482.4Z M438.74,1467.8 L412.41,1475.1 L379.91,1475.1 L373.74,1467.8 L400.06,1460.5 L432.56,1460.5Z M418.59,1482.4 L392.26,1489.7 L359.76,1489.7 L353.59,1482.4 L379.91,1475.1 L412.41,1475.1Z M398.44,1497 L372.12,1504.3 L339.62,1504.3 L333.44,1497 L359.76,1489.7 L392.26,1489.7Z M497.56,1460.5 L471.24,1467.8 L438.74,1467.8 L432.56,1460.5 L458.88,1453.2 L491.38,1453.2Z M477.41,1475.1 L451.09,1482.4 L418.59,1482.4 L412.41,1475.1 L438.74,1467.8 L471.24,1467.8Z M457.26,1489.7 L430.94,1497 L398.44,1497 L392.26,1489.7 L418.59,1482.4 L451.09,1482.4Z M536.24,1467.8 L509.91,1475.1 L477.41,1475.1 L471.24,1467.8 L497.56,1460.5 L530.06,1460.5Z M516.09,1482.4 L489.76,1489.7 L457.26,1489.7 L451.09,1482.4 L477.41,1475.1 L509.91,1475.1Z M495.94,1497 L469.62,1504.3 L437.12,1504.3 L430.94,1497 L457.26,1489.7 L489.76,1489.7Z M595.06,1460.5 L568.74,1467.8 L536.24,1467.8 L530.06,1460.5 L556.38,1453.2 L588.88,1453.2Z M574.91,1475.1 L548.59,1482.4 L516.09,1482.4 L509.91,1475.1 L536.24,1467.8 L568.74,1467.8Z M554.76,1489.7 L528.44,1497 L495.94,1497 L489.76,1489.7 L516.09,1482.4 L548.59,1482.4Z M633.74,1467.8 L607.41,1475.1 L574.91,1475.1 L568.74,1467.8 L595.06,1460.5 L627.56,1460.5Z M613.59,1482.4 L587.26,1489.7 L554.76,1489.7 L548.59,1482.4 L574.91,1475.1 L607.41,1475.1Z M593.44,1497 L567.12,1504.3 L534.62,1504.3 L528.44,1497 L554.76,1489.7 L587.26,1489.7Z M672.41,1475.1 L646.09,1482.4 L613.59,1482.4 L607.41,1475.1 L633.74,1467.8 L666.24,1467.8Z M652.26,1489.7 L625.94,1497 L593.44,1497 L587.26,1489.7 L613.59,1482.4 L646.09,1482.4Z" fill="none" stroke="#7c7498" stroke-width="4.4" stroke-linejoin="round" transform="translate(0,0.8)"/><path d="M205.06,1460.5 L178.74,1467.8 L146.24,1467.8 L140.06,1460.5 L166.38,1453.2 L198.88,1453.2Z M184.91,1475.1 L158.59,1482.4 L126.09,1482.4 L119.91,1475.1 L146.24,1467.8 L178.74,1467.8Z M164.76,1489.7 L138.44,1497 L105.94,1497 L99.76,1489.7 L126.09,1482.4 L158.59,1482.4Z M243.74,1467.8 L217.41,1475.1 L184.91,1475.1 L178.74,1467.8 L205.06,1460.5 L237.56,1460.5Z M223.59,1482.4 L197.26,1489.7 L164.76,1489.7 L158.59,1482.4 L184.91,1475.1 L217.41,1475.1Z M203.44,1497 L177.12,1504.3 L144.62,1504.3 L138.44,1497 L164.76,1489.7 L197.26,1489.7Z M302.56,1460.5 L276.24,1467.8 L243.74,1467.8 L237.56,1460.5 L263.88,1453.2 L296.38,1453.2Z M282.41,1475.1 L256.09,1482.4 L223.59,1482.4 L217.41,1475.1 L243.74,1467.8 L276.24,1467.8Z M262.26,1489.7 L235.94,1497 L203.44,1497 L197.26,1489.7 L223.59,1482.4 L256.09,1482.4Z M341.24,1467.8 L314.91,1475.1 L282.41,1475.1 L276.24,1467.8 L302.56,1460.5 L335.06,1460.5Z M321.09,1482.4 L294.76,1489.7 L262.26,1489.7 L256.09,1482.4 L282.41,1475.1 L314.91,1475.1Z M300.94,1497 L274.62,1504.3 L242.12,1504.3 L235.94,1497 L262.26,1489.7 L294.76,1489.7Z M400.06,1460.5 L373.74,1467.8 L341.24,1467.8 L335.06,1460.5 L361.38,1453.2 L393.88,1453.2Z M379.91,1475.1 L353.59,1482.4 L321.09,1482.4 L314.91,1475.1 L341.24,1467.8 L373.74,1467.8Z M359.76,1489.7 L333.44,1497 L300.94,1497 L294.76,1489.7 L321.09,1482.4 L353.59,1482.4Z M438.74,1467.8 L412.41,1475.1 L379.91,1475.1 L373.74,1467.8 L400.06,1460.5 L432.56,1460.5Z M418.59,1482.4 L392.26,1489.7 L359.76,1489.7 L353.59,1482.4 L379.91,1475.1 L412.41,1475.1Z M398.44,1497 L372.12,1504.3 L339.62,1504.3 L333.44,1497 L359.76,1489.7 L392.26,1489.7Z M497.56,1460.5 L471.24,1467.8 L438.74,1467.8 L432.56,1460.5 L458.88,1453.2 L491.38,1453.2Z M477.41,1475.1 L451.09,1482.4 L418.59,1482.4 L412.41,1475.1 L438.74,1467.8 L471.24,1467.8Z M457.26,1489.7 L430.94,1497 L398.44,1497 L392.26,1489.7 L418.59,1482.4 L451.09,1482.4Z M536.24,1467.8 L509.91,1475.1 L477.41,1475.1 L471.24,1467.8 L497.56,1460.5 L530.06,1460.5Z M516.09,1482.4 L489.76,1489.7 L457.26,1489.7 L451.09,1482.4 L477.41,1475.1 L509.91,1475.1Z M495.94,1497 L469.62,1504.3 L437.12,1504.3 L430.94,1497 L457.26,1489.7 L489.76,1489.7Z M595.06,1460.5 L568.74,1467.8 L536.24,1467.8 L530.06,1460.5 L556.38,1453.2 L588.88,1453.2Z M574.91,1475.1 L548.59,1482.4 L516.09,1482.4 L509.91,1475.1 L536.24,1467.8 L568.74,1467.8Z M554.76,1489.7 L528.44,1497 L495.94,1497 L489.76,1489.7 L516.09,1482.4 L548.59,1482.4Z M633.74,1467.8 L607.41,1475.1 L574.91,1475.1 L568.74,1467.8 L595.06,1460.5 L627.56,1460.5Z M613.59,1482.4 L587.26,1489.7 L554.76,1489.7 L548.59,1482.4 L574.91,1475.1 L607.41,1475.1Z M593.44,1497 L567.12,1504.3 L534.62,1504.3 L528.44,1497 L554.76,1489.7 L587.26,1489.7Z M672.41,1475.1 L646.09,1482.4 L613.59,1482.4 L607.41,1475.1 L633.74,1467.8 L666.24,1467.8Z M652.26,1489.7 L625.94,1497 L593.44,1497 L587.26,1489.7 L613.59,1482.4 L646.09,1482.4Z" fill="none" stroke="#8f88ab" stroke-width="3.2" stroke-linejoin="round"/><path d="M205.06,1460.5 L178.74,1467.8 L146.24,1467.8 L140.06,1460.5 L166.38,1453.2 L198.88,1453.2Z M184.91,1475.1 L158.59,1482.4 L126.09,1482.4 L119.91,1475.1 L146.24,1467.8 L178.74,1467.8Z M164.76,1489.7 L138.44,1497 L105.94,1497 L99.76,1489.7 L126.09,1482.4 L158.59,1482.4Z M243.74,1467.8 L217.41,1475.1 L184.91,1475.1 L178.74,1467.8 L205.06,1460.5 L237.56,1460.5Z M223.59,1482.4 L197.26,1489.7 L164.76,1489.7 L158.59,1482.4 L184.91,1475.1 L217.41,1475.1Z M203.44,1497 L177.12,1504.3 L144.62,1504.3 L138.44,1497 L164.76,1489.7 L197.26,1489.7Z M302.56,1460.5 L276.24,1467.8 L243.74,1467.8 L237.56,1460.5 L263.88,1453.2 L296.38,1453.2Z M282.41,1475.1 L256.09,1482.4 L223.59,1482.4 L217.41,1475.1 L243.74,1467.8 L276.24,1467.8Z M262.26,1489.7 L235.94,1497 L203.44,1497 L197.26,1489.7 L223.59,1482.4 L256.09,1482.4Z M341.24,1467.8 L314.91,1475.1 L282.41,1475.1 L276.24,1467.8 L302.56,1460.5 L335.06,1460.5Z M321.09,1482.4 L294.76,1489.7 L262.26,1489.7 L256.09,1482.4 L282.41,1475.1 L314.91,1475.1Z M300.94,1497 L274.62,1504.3 L242.12,1504.3 L235.94,1497 L262.26,1489.7 L294.76,1489.7Z M400.06,1460.5 L373.74,1467.8 L341.24,1467.8 L335.06,1460.5 L361.38,1453.2 L393.88,1453.2Z M379.91,1475.1 L353.59,1482.4 L321.09,1482.4 L314.91,1475.1 L341.24,1467.8 L373.74,1467.8Z M359.76,1489.7 L333.44,1497 L300.94,1497 L294.76,1489.7 L321.09,1482.4 L353.59,1482.4Z M438.74,1467.8 L412.41,1475.1 L379.91,1475.1 L373.74,1467.8 L400.06,1460.5 L432.56,1460.5Z M418.59,1482.4 L392.26,1489.7 L359.76,1489.7 L353.59,1482.4 L379.91,1475.1 L412.41,1475.1Z M398.44,1497 L372.12,1504.3 L339.62,1504.3 L333.44,1497 L359.76,1489.7 L392.26,1489.7Z M497.56,1460.5 L471.24,1467.8 L438.74,1467.8 L432.56,1460.5 L458.88,1453.2 L491.38,1453.2Z M477.41,1475.1 L451.09,1482.4 L418.59,1482.4 L412.41,1475.1 L438.74,1467.8 L471.24,1467.8Z M457.26,1489.7 L430.94,1497 L398.44,1497 L392.26,1489.7 L418.59,1482.4 L451.09,1482.4Z M536.24,1467.8 L509.91,1475.1 L477.41,1475.1 L471.24,1467.8 L497.56,1460.5 L530.06,1460.5Z M516.09,1482.4 L489.76,1489.7 L457.26,1489.7 L451.09,1482.4 L477.41,1475.1 L509.91,1475.1Z M495.94,1497 L469.62,1504.3 L437.12,1504.3 L430.94,1497 L457.26,1489.7 L489.76,1489.7Z M595.06,1460.5 L568.74,1467.8 L536.24,1467.8 L530.06,1460.5 L556.38,1453.2 L588.88,1453.2Z M574.91,1475.1 L548.59,1482.4 L516.09,1482.4 L509.91,1475.1 L536.24,1467.8 L568.74,1467.8Z M554.76,1489.7 L528.44,1497 L495.94,1497 L489.76,1489.7 L516.09,1482.4 L548.59,1482.4Z M633.74,1467.8 L607.41,1475.1 L574.91,1475.1 L568.74,1467.8 L595.06,1460.5 L627.56,1460.5Z M613.59,1482.4 L587.26,1489.7 L554.76,1489.7 L548.59,1482.4 L574.91,1475.1 L607.41,1475.1Z M593.44,1497 L567.12,1504.3 L534.62,1504.3 L528.44,1497 L554.76,1489.7 L587.26,1489.7Z M672.41,1475.1 L646.09,1482.4 L613.59,1482.4 L607.41,1475.1 L633.74,1467.8 L666.24,1467.8Z M652.26,1489.7 L625.94,1497 L593.44,1497 L587.26,1489.7 L613.59,1482.4 L646.09,1482.4Z" fill="none" stroke="#a9a3c4" stroke-width="0.9" opacity="0.7" transform="translate(0,-0.9)"/>
<path d="M105,1256 L640,1256 L618,1267.6 L169,1267.6Z" fill="#0c0c0c"/>
<path d="M171.2,1261 L324.4,1261 L253.5,1361.5Z" fill="url(#gCone)"/>
<ellipse cx="247.8" cy="1262" rx="76.6" ry="3" fill="#c8c8c8"/>
<path d="M195.9,1418 L300,1362 L331.5,1357.5 L310.8,1463Z" fill="#5d7199" opacity="0.5"/>
<path d="M231.3,1396.4 L300,1362 L331.5,1357.5 L323.9,1396.4Z" fill="url(#gDarkCone)"/>
<path d="M134.6,1438.7 L141.69,1435.28 L148.79,1431.87 L155.88,1428.45 L162.97,1425.03 L170.07,1421.62 L177.16,1418.2 L184.26,1414.79 L191.35,1411.37 L198.44,1407.95 L205.54,1404.54 L212.63,1401.12 L219.72,1397.69 L226.82,1394.19 L233.91,1390.63 L241.01,1387.03 L248.1,1383.43 L255.19,1379.83 L262.29,1376.28 L269.38,1372.79 L276.47,1369.4 L283.57,1366.11 L290.66,1362.97 L297.75,1359.99" fill="none" stroke="#677aa0" stroke-width="9.5" stroke-linecap="round"/>
<path d="M134.6,1438.7 L141.69,1435.28 L148.79,1431.87 L155.88,1428.45 L162.97,1425.03 L170.07,1421.62 L177.16,1418.2 L184.26,1414.79 L191.35,1411.37 L198.44,1407.95 L205.54,1404.54 L212.63,1401.12 L219.72,1397.69 L226.82,1394.19 L233.91,1390.63 L241.01,1387.03 L248.1,1383.43 L255.19,1379.83 L262.29,1376.28 L269.38,1372.79 L276.47,1369.4 L283.57,1366.11 L290.66,1362.97 L297.75,1359.99" fill="none" stroke="#93a4c4" stroke-width="2.4" stroke-linecap="round" transform="translate(0,-2.2)" opacity="0.8"/>
<path d="M290.66,1362.97 L297.75,1359.99 L304.85,1357.19 L311.94,1354.58 L319.04,1352.1 L326.13,1349.71 L333.22,1347.34 L340.32,1344.96 L347.41,1342.51 L354.5,1339.96 L361.6,1337.38 L368.69,1334.76 L375.78,1332.13 L382.88,1329.48 L389.97,1326.84 L397.07,1324.2 L404.16,1321.59 L411.25,1319 L418.35,1316.46 L425.44,1313.96 L432.53,1311.49 L439.63,1309.04 L446.72,1306.61 L453.82,1304.2 L460.91,1301.82 L468,1299.45 L475.1,1297.11 L482.19,1294.79 L489.28,1292.5 L496.38,1290.24 L503.47,1287.98 L510.56,1285.65 L517.66,1283.28 L524.75,1280.9 L531.85,1278.56 L538.94,1276.28 L546.03,1274.1 L553.13,1272.04 L560.22,1270.16 L567.31,1268.47 L574.41,1267.01 L581.5,1265.69 L588.59,1264.46 L595.69,1263.32 L602.78,1262.24 L609.88,1261.23 L616.97,1260.28 L624.06,1259.38 L631.16,1258.52 L638.25,1257.7 L645.34,1256.9 L652.44,1256.14 L659.53,1255.41 L666.63,1254.72 L673.72,1254.07 L680.81,1253.45 L687.91,1252.89 L695,1252.37" fill="none" stroke="#4c4c4c" stroke-width="10" stroke-linecap="butt"/>
<path d="M290.66,1362.97 L297.75,1359.99 L304.85,1357.19 L311.94,1354.58 L319.04,1352.1 L326.13,1349.71 L333.22,1347.34 L340.32,1344.96 L347.41,1342.51 L354.5,1339.96 L361.6,1337.38 L368.69,1334.76 L375.78,1332.13 L382.88,1329.48 L389.97,1326.84 L397.07,1324.2 L404.16,1321.59 L411.25,1319 L418.35,1316.46 L425.44,1313.96 L432.53,1311.49 L439.63,1309.04 L446.72,1306.61 L453.82,1304.2 L460.91,1301.82 L468,1299.45 L475.1,1297.11 L482.19,1294.79 L489.28,1292.5 L496.38,1290.24 L503.47,1287.98 L510.56,1285.65 L517.66,1283.28 L524.75,1280.9 L531.85,1278.56 L538.94,1276.28 L546.03,1274.1 L553.13,1272.04 L560.22,1270.16 L567.31,1268.47 L574.41,1267.01 L581.5,1265.69 L588.59,1264.46 L595.69,1263.32 L602.78,1262.24 L609.88,1261.23 L616.97,1260.28 L624.06,1259.38 L631.16,1258.52 L638.25,1257.7 L645.34,1256.9 L652.44,1256.14 L659.53,1255.41 L666.63,1254.72 L673.72,1254.07 L680.81,1253.45 L687.91,1252.89 L695,1252.37" fill="none" stroke="#8e8e8e" stroke-width="3.2" transform="translate(0,-1.5)"/>
<rect x="103.5" y="1245.3" width="591" height="11.8" rx="5.9" fill="url(#gBar)"/>
<rect x="576.7" y="1086.7" width="90.9" height="158.8" fill="url(#gCyl)"/>
<line x1="576.7" y1="1181.5" x2="667.6" y2="1181.5" stroke="#555" stroke-width="0.8"/>
<path d="M603.1,1134.1 L643.4,1134.1 L643.4,1195.4 L663.3,1195.4 L623.1,1235.7 L583.2,1195.4 L603.1,1195.4Z" fill="#9dc3e6"/>
<text x="393" y="1173.3" font-size="28" font-family="'Liberation Sans', Arial, Helvetica, sans-serif" text-anchor="middle">AFM Tip</text>
<text x="385.2" y="1539.6" font-size="28" font-family="'Liberation Sans', Arial, Helvetica, sans-serif" text-anchor="middle">COF nanosheet</text>
<line x1="0" y1="1401.3" x2="76" y2="1401.3" stroke="#5b9bd5" stroke-width="1.3"/>
<line x1="0" y1="1536.2" x2="78" y2="1536.2" stroke="#5b9bd5" stroke-width="1.3"/>
<line x1="38.1" y1="1404" x2="38.1" y2="1533.5" stroke="#5b9bd5" stroke-width="2" marker-start="url(#mBlueA)" marker-end="url(#mBlueA)"/>
<text x="2" y="1484" font-size="28" font-family="'Liberation Sans', Arial, Helvetica, sans-serif" font-style="italic">h</text>
<text x="805" y="1052" font-size="44" font-family="'Liberation Sans', Arial, Helvetica, sans-serif" font-weight="bold">d</text>
<clipPath id="clipD"><rect x="891.7" y="1062.3" width="480.7" height="449.9"/></clipPath>
<g clip-path="url(#clipD)" fill="none" stroke-width="2" stroke-linejoin="round">
<path d="M907.8,1105 L902.24,1106.96 L907.5,1108.91 L906.23,1110.87 L906.46,1112.83 L906.6,1114.78 L903.25,1116.74 L905.54,1118.7 L903.98,1120.65 L910.28,1122.61 L905.16,1124.57 L904.36,1126.52 L904.85,1128.48 L904.77,1130.43 L904.73,1132.39 L906.27,1134.35 L907.94,1136.3 L906.78,1138.26 L908.42,1140.22 L906.08,1142.17 L905.86,1144.13 L907.76,1146.09 L905.79,1148.04 L903.99,1150 L904.67,1151.96 L906.24,1153.91 L909.03,1155.87 L906.07,1157.83 L906.56,1159.78 L908.79,1161.74 L905.72,1163.7 L906.36,1165.65 L907.73,1167.61 L906.66,1169.57 L905.36,1171.52 L905.95,1173.48 L900.28,1175.43 L906.65,1177.39 L903.92,1179.35 L903.35,1181.3 L907.02,1183.26 L908.13,1185.22 L906.48,1187.17 L905.38,1189.13 L906.8,1191.09 L906.14,1193.04 L907.9,1195 L906.35,1196.96 L905.16,1198.91 L906.6,1200.87 L904.74,1202.83 L904.05,1204.78 L907.04,1206.74 L907.59,1208.7 L906.71,1210.65 L905.95,1212.61 L907.43,1214.57 L902.69,1216.52 L907.24,1218.48 L906.35,1220.43 L902.47,1222.39 L904.93,1224.35 L903.3,1226.3 L906.34,1228.26 L902.37,1230.22 L904.74,1232.17 L907.87,1234.13 L908.94,1236.09 L903.74,1238.04 L906.22,1240 Q908,1248 912.4,1247.4 L980.6,1210.8 L980.6,1210.8 L982.61,1210.9 L984.62,1210.69 L986.63,1210.47 L988.64,1210.62 L990.65,1210.42 L992.66,1210.78 L994.66,1211.23 L996.67,1210.58 L998.68,1210.53 L1000.69,1210.91 L1002.7,1210.86 L1004.71,1210.76 L1006.72,1210.39 L1008.73,1210.7 L1010.74,1210.95 L1012.75,1210.23 L1014.76,1210.54 L1016.77,1210.02 L1018.78,1210.23 L1020.78,1210.03 L1022.79,1210.59 L1024.8,1210.22 L1026.81,1210.75 L1028.82,1210.71 L1030.83,1210.58 L1032.84,1209.76 L1034.85,1210.45 L1036.86,1210.61 L1038.87,1210.66 L1040.88,1210.08 L1042.89,1210.44 L1044.9,1210.26 L1046.9,1210.31 L1048.91,1210.96 L1050.92,1210.3 L1052.93,1210.57 L1054.94,1210.88 L1056.95,1210.36 L1058.96,1210.52 L1060.97,1210.59 L1062.98,1210.57 L1064.99,1210.11 L1067,1210.56 L1069.01,1211 L1071.02,1209.98 L1073.02,1210.82 L1075.03,1210.55 L1077.04,1210.28 L1079.05,1211.2 L1081.06,1210.76 L1083.07,1210.07 L1085.08,1210.51 L1087.09,1210.68 L1089.1,1210.4 L1091.11,1210.7 L1093.12,1210.43 L1095.13,1210.68 L1097.14,1210.95 L1099.14,1210.2 L1101.15,1210.5 L1103.16,1210.26 L1105.17,1210.46 L1107.18,1210 L1109.19,1210.2 L1111.2,1210.33 L1113.21,1210.71 L1115.22,1210.79 L1117.23,1209.92 L1119.24,1210.1 L1121.25,1210.6 L1123.26,1209.67 L1125.26,1210.19 L1127.27,1210.32 L1129.28,1210.78 L1131.29,1210.58 L1133.3,1210.22 L1135.31,1210.2 L1137.32,1210.23 L1139.33,1210.85 L1141.34,1210.16 L1143.35,1210.2 L1145.36,1210.42 L1147.37,1210.25 L1149.38,1210.21 L1151.38,1209.89 L1153.39,1210.27 L1155.4,1210.11 L1157.41,1210.67 L1159.42,1210.48 L1161.43,1210.24 L1163.44,1210.47 L1165.45,1210.11 L1167.46,1210.6 L1169.47,1210.22 L1171.48,1210.42 L1173.49,1209.76 L1175.5,1210.32 L1177.5,1209.61 L1179.51,1209.48 L1181.52,1210.08 L1183.53,1209.86 L1185.54,1210.23 L1187.55,1210.95 L1189.56,1209.87 L1191.57,1209.94 L1193.58,1210.22 L1195.59,1210.31 L1197.6,1210.07 L1199.61,1210.06 L1201.62,1210.37 L1203.62,1210.3 L1205.63,1209.75 L1207.64,1210.08 L1209.65,1210.11 L1211.66,1209.72 L1213.67,1210.18 L1215.68,1209.78 L1217.69,1210.41 L1219.7,1210.14 L1221.71,1210.09 L1223.72,1209.85 L1225.73,1210.01 L1227.74,1209.34 L1229.74,1209.64 L1231.75,1210.16 L1233.76,1209.28 L1235.77,1210.31 L1237.78,1209.4 L1239.79,1210.27 L1241.8,1209.7 L1243.81,1210.27 L1245.82,1210.03 L1247.83,1209.44 L1249.84,1210.41 L1251.85,1210.47 L1253.86,1209.94 L1255.86,1209.86 L1257.87,1209.89 L1259.88,1209.6 L1261.89,1210.32 L1263.9,1209.74 L1265.91,1209.91 L1267.92,1209.64 L1269.93,1209.69 L1271.94,1209.46 L1273.95,1210.34 L1275.96,1209.84 L1277.97,1210.23 L1279.98,1209.89 L1281.98,1209.63 L1283.99,1209.76 L1286,1209.67 L1288.01,1209.86 L1290.02,1209.72 L1292.03,1209.74 L1294.04,1209.36 L1296.05,1209.55 L1298.06,1210.41 L1300.07,1209.59 L1302.08,1209.45 L1304.09,1209.93 L1306.1,1210.3 L1308.1,1209.29 L1310.11,1209.72 L1312.12,1209.56 L1314.13,1209.16 L1316.14,1210.03 L1318.15,1209.76 L1320.16,1209.79 L1322.17,1209.49 L1324.18,1209.91 L1326.19,1209.55 L1328.2,1209.69 L1330.21,1209.34 L1332.22,1209.3 L1334.22,1210.18 L1336.23,1209.53 L1338.24,1209.81 L1340.25,1209.69 L1342.26,1209.54 L1344.27,1209.51 L1346.28,1209.9 L1348.29,1209.57 L1350.3,1209.61 L1352.31,1209.67 L1354.32,1210.07 L1356.33,1209.89 L1358.34,1209.78 L1360.34,1209.44 L1362.35,1209.15 L1364.36,1209.96 L1366.37,1209.96 L1368.38,1209.56 L1370.39,1209.8 L1372.4,1209.87" stroke="#5ba51f"/>
<path d="M908.6,1090 L909.2,1200 L910,1290 L911.5,1338 Q915,1372 921.6,1377 L1006.8,1299.5 L1006.8,1298.72 L1008.82,1298.88 L1010.83,1298.86 L1012.85,1299.3 L1014.87,1298.4 L1016.88,1299.34 L1018.9,1298.98 L1020.92,1299.8 L1022.94,1299.82 L1024.95,1300 L1026.97,1299.7 L1028.99,1299.32 L1031,1299.72 L1033.02,1299.99 L1035.04,1299.01 L1037.05,1299.56 L1039.07,1299.26 L1041.09,1299.91 L1043.1,1298.87 L1045.12,1299.1 L1047.14,1299.38 L1049.15,1299.32 L1051.17,1298.45 L1053.19,1299.34 L1055.21,1299.11 L1057.22,1299.04 L1059.24,1299.06 L1061.26,1299.22 L1063.27,1298.29 L1065.29,1299.79 L1067.31,1298.69 L1069.32,1298.05 L1071.34,1299.01 L1073.36,1299.69 L1075.37,1298.79 L1077.39,1299.71 L1079.41,1299.69 L1081.43,1298.59 L1083.44,1297.86 L1085.46,1298.39 L1087.48,1299.47 L1089.49,1298.55 L1091.51,1298.23 L1093.53,1298.29 L1095.54,1298.88 L1097.56,1298.85 L1099.58,1299.24 L1101.59,1299.28 L1103.61,1298.4 L1105.63,1298.74 L1107.65,1298.29 L1109.66,1298.81 L1111.68,1298.25 L1113.7,1298.21 L1115.71,1299.69 L1117.73,1298.74 L1119.75,1299 L1121.76,1299.84 L1123.78,1299.04 L1125.8,1298.62 L1127.81,1298.68 L1129.83,1298.31 L1131.85,1299.12 L1133.86,1298.46 L1135.88,1299.39 L1137.9,1298.43 L1139.92,1298.41 L1141.93,1298.37 L1143.95,1298.82 L1145.97,1298.61 L1147.98,1299.13 L1150,1298.25 L1152,1298.62 L1154.01,1299.36 L1156.01,1298.37 L1158.01,1298.71 L1160.02,1299.17 L1162.02,1298.7 L1164.03,1298.16 L1166.03,1297.51 L1168.03,1299.5 L1170.04,1298.61 L1172.04,1298.98 L1174.04,1298.19 L1176.05,1299.21 L1178.05,1298.62 L1180.05,1298.4 L1182.06,1297.96 L1184.06,1298.53 L1186.06,1298.14 L1188.07,1298.25 L1190.07,1297.61 L1192.08,1298.11 L1194.08,1298.39 L1196.08,1297.75 L1198.09,1298.34 L1200.09,1298.6 L1202.09,1298.15 L1204.1,1298 L1206.1,1297.99 L1208.1,1298.69 L1210.11,1297.57 L1212.11,1298.11 L1214.12,1298.05 L1216.12,1298.3 L1218.12,1298.19 L1220.13,1297.72 L1222.13,1299.13 L1224.13,1298.28 L1226.14,1297.59 L1228.14,1297.78 L1230.14,1298.22 L1232.15,1298.44 L1234.15,1297.56 L1236.15,1298.47 L1238.16,1297.53 L1240.16,1297.78 L1242.17,1298.51 L1244.17,1298.88 L1246.17,1298.07 L1248.18,1297.96 L1250.18,1298.67 L1252.18,1297.6 L1254.19,1298.2 L1256.19,1298.18 L1258.19,1298.52 L1260.2,1298.19 L1262.2,1297.93 L1264.21,1298.31 L1266.21,1297.52 L1268.21,1298.39 L1270.22,1297.71 L1272.22,1297.6 L1274.22,1297.83 L1276.23,1298.01 L1278.23,1298.3 L1280.23,1297.88 L1282.24,1298.3 L1284.24,1298.4 L1286.25,1297.9 L1288.25,1297.5 L1290.25,1298.35 L1292.26,1298.05 L1294.26,1296.96 L1296.26,1297.46 L1298.27,1297.96 L1300.27,1297.27 L1302.27,1297.58 L1304.28,1297.1 L1306.28,1298.05 L1308.28,1297.97 L1310.29,1297.93 L1312.29,1298.49 L1314.3,1297.68 L1316.3,1297.7 L1318.3,1298.73 L1320.31,1297.23 L1322.31,1298.13 L1324.31,1297.2 L1326.32,1297.89 L1328.32,1298.73 L1330.32,1297.89 L1332.33,1297.41 L1334.33,1298.83 L1336.34,1297.5 L1338.34,1297.65 L1340.34,1297.87 L1342.35,1297.12 L1344.35,1298.22 L1346.35,1298.43 L1348.36,1298.04 L1350.36,1297.84 L1352.36,1297.61 L1354.37,1298.07 L1356.37,1296.25 L1358.37,1297.6 L1360.38,1297.76 L1362.38,1296.75 L1364.39,1297.82 L1366.39,1297.57 L1368.39,1297.6 L1370.4,1297.65 L1372.4,1297.86" stroke="#2b90e6"/>
<path d="M907.24,1186.1 L907.93,1188.15 L906.57,1190.21 L908.15,1192.26 L908.46,1194.31 L907.3,1196.36 L907.88,1198.42 L907.72,1200.47 L907.24,1202.52 L906.87,1204.57 L906.02,1206.63 L908.39,1208.68 L907.33,1210.73 L909.1,1212.79 L907.87,1214.84 L907.45,1216.89 L906.76,1218.94 L908.16,1221 L906.8,1223.05 L908.21,1225.1 L906.8,1227.16 L907.17,1229.21 L905.94,1231.26 L908.61,1233.31 L906.87,1235.37 L906.63,1237.42 L907.43,1239.47 L906.2,1241.53 L907.33,1243.58 L905.93,1245.63 L907.1,1247.68 L905.95,1249.74 L905.36,1251.79 L906.19,1253.84 L905.55,1255.89 L906.92,1257.95 L906.52,1260 L906.85,1262 L906.55,1264 L906.23,1266 L906.49,1268 L907.2,1270 L906.33,1272 L905.92,1274 L905.77,1276 L906.28,1278 L905.91,1280 L907.74,1282 L905.6,1284 L905.66,1286 L906.19,1288 L906.86,1290 L906.21,1292 L905.72,1294 L905.82,1296 L906.13,1298 L907.05,1300 L905.68,1302 L906.29,1304 L905.92,1306 L906.57,1308 L906.61,1310 L905.3,1312 L907.99,1314 L906.45,1316 L905.95,1318 L905.67,1320 L906.11,1322 L906.31,1324 L906.7,1326 L906.28,1328 L906.61,1330 L905.13,1332 L905.73,1334 L905.54,1336 L906.36,1338 L906.55,1340 L905.2,1342 L906.1,1344 L906.72,1346 L906.85,1348 L905.42,1350 L906.61,1352 L906.46,1354 L905.93,1356 L907.63,1358 L905.48,1360 L906.09,1362 L906.61,1364 L906.48,1366 L906.2,1368 L907.3,1370 L907.36,1372 L907,1374 L907.07,1376 L906.35,1378 L905.58,1380 L907.94,1382 L905.76,1384 L908,1386 L906.36,1388 L906.63,1390 L906.36,1392 L907.16,1394 L906.15,1396 L907.81,1398 L906.91,1400 L906.67,1402 L906.16,1404 L906.77,1406 L906.58,1408 L907.93,1410 L907.27,1412 L905.53,1414 L907.71,1416 L904.99,1418 L907.75,1420 L905.36,1422 L906.69,1424 L907.28,1426 L906.71,1428 L905.96,1430 L907.61,1432 L905.51,1434 L905.75,1436 L907.76,1438 L906.19,1440 L907.01,1442.02 L907.44,1444.04 L906.84,1446.07 L907.15,1448.09 L907.08,1450.11 L907.18,1452.13 L907.9,1454.16 L907.77,1456.18 L907.38,1458.2 L907.83,1460.22 L906.85,1462.24 L906.73,1464.27 L906.6,1466.29 L907.89,1468.31 L908.52,1470.33 L907.48,1472.36 L906.08,1474.38 L907.14,1476.4 L910,1492.7 Q912,1503 915.9,1503 L1033.9,1390.8 L1033.9,1390.36 L1035.93,1390.08 L1037.97,1389.62 L1040,1389.61 L1042,1389.35 L1044,1389.46 L1046.01,1389.7 L1048.01,1389.66 L1050.01,1389.46 L1052.01,1389.04 L1054.02,1388.88 L1056.02,1388.81 L1058.02,1388.95 L1060.02,1389.02 L1062.03,1388.61 L1064.03,1388.5 L1066.03,1389.03 L1068.03,1388.12 L1070.04,1388.74 L1072.04,1388.94 L1074.04,1388.33 L1076.04,1388.23 L1078.05,1388.33 L1080.05,1388.84 L1082.05,1388.49 L1084.05,1387.74 L1086.06,1388.28 L1088.06,1388.81 L1090.06,1388.75 L1092.06,1388.56 L1094.07,1388.17 L1096.07,1387.48 L1098.07,1388.24 L1100.07,1388.06 L1102.07,1388.11 L1104.08,1388.65 L1106.08,1388.06 L1108.08,1388.05 L1110.08,1388.14 L1112.09,1387.75 L1114.09,1387.54 L1116.09,1387.47 L1118.09,1388.02 L1120.1,1387.87 L1122.1,1387.43 L1124.1,1388.04 L1126.1,1387.61 L1128.11,1386.95 L1130.11,1387.68 L1132.11,1387.34 L1134.11,1386.82 L1136.12,1387.51 L1138.12,1387.12 L1140.12,1387.05 L1142.12,1387.4 L1144.13,1386.24 L1146.13,1386.56 L1148.13,1386.86 L1150.13,1387.08 L1152.13,1386.67 L1154.14,1386.49 L1156.14,1386.42 L1158.14,1386.75 L1160.14,1387.02 L1162.15,1386.13 L1164.15,1385.83 L1166.15,1386.5 L1168.15,1386.42 L1170.16,1386.16 L1172.16,1386.72 L1174.16,1386.75 L1176.16,1386.16 L1178.17,1386.2 L1180.17,1386.52 L1182.17,1386.08 L1184.17,1385.64 L1186.18,1386.13 L1188.18,1385.75 L1190.18,1386.2 L1192.18,1385.82 L1194.19,1385.9 L1196.19,1386.14 L1198.19,1385.83 L1200.19,1385.58 L1202.2,1385.39 L1204.2,1386.43 L1206.2,1386.14 L1208.2,1385.05 L1210.2,1385.19 L1212.21,1385.8 L1214.21,1385.28 L1216.21,1385.48 L1218.21,1385.75 L1220.22,1385.43 L1222.22,1385.28 L1224.22,1385.1 L1226.22,1385.21 L1228.23,1385.35 L1230.23,1385.84 L1232.23,1385.53 L1234.23,1384.98 L1236.24,1385.38 L1238.24,1385.01 L1240.24,1384.33 L1242.24,1384.83 L1244.25,1385.23 L1246.25,1384.55 L1248.25,1385.11 L1250.25,1384.57 L1252.26,1384.66 L1254.26,1384.12 L1256.26,1385.38 L1258.26,1384.69 L1260.27,1384.87 L1262.27,1384.24 L1264.27,1383.79 L1266.27,1384.81 L1268.27,1384 L1270.28,1384.9 L1272.28,1384.12 L1274.28,1384.79 L1276.28,1383.81 L1278.29,1383.35 L1280.29,1384.29 L1282.29,1383.93 L1284.29,1383.91 L1286.3,1384.29 L1288.3,1383.47 L1290.3,1383.26 L1292.3,1383.26 L1294.31,1383.01 L1296.31,1382.92 L1298.31,1383.08 L1300.31,1383.16 L1302.32,1383.32 L1304.32,1382.97 L1306.32,1383.35 L1308.32,1383.66 L1310.33,1383.22 L1312.33,1383.43 L1314.33,1382.84 L1316.33,1383.28 L1318.33,1383.3 L1320.34,1382.8 L1322.34,1382.4 L1324.34,1382.89 L1326.34,1382.91 L1328.35,1383.43 L1330.35,1382.64 L1332.35,1383.41 L1334.35,1381.75 L1336.36,1382.54 L1338.36,1382.42 L1340.36,1382.41 L1342.36,1382.3 L1344.37,1382.45 L1346.37,1383.07 L1348.37,1382.31 L1350.37,1382.8 L1352.38,1382.24 L1354.38,1382.28 L1356.38,1381.25 L1358.38,1382.18 L1360.39,1382.34 L1362.39,1381.6 L1364.39,1381.76 L1366.39,1381.62 L1368.4,1382.75 L1370.4,1381.48 L1372.4,1381.53" stroke="#ea2a7d"/>
</g>
<rect x="891.7" y="1062.3" width="480.7" height="449.9" fill="none" stroke="#000" stroke-width="2.4"/>
<line x1="908.9" y1="1512.2" x2="908.9" y2="1518.2" stroke="#000" stroke-width="2"/>
<line x1="1001.55" y1="1512.2" x2="1001.55" y2="1516.2" stroke="#000" stroke-width="2"/>
<line x1="1094.2" y1="1512.2" x2="1094.2" y2="1518.2" stroke="#000" stroke-width="2"/>
<line x1="1186.85" y1="1512.2" x2="1186.85" y2="1516.2" stroke="#000" stroke-width="2"/>
<line x1="1279.5" y1="1512.2" x2="1279.5" y2="1518.2" stroke="#000" stroke-width="2"/>
<line x1="1372.15" y1="1512.2" x2="1372.15" y2="1516.2" stroke="#000" stroke-width="2"/>
<text x="908.9" y="1541.3" font-size="25" font-family="'Liberation Sans', Arial, Helvetica, sans-serif" text-anchor="middle">0</text>
<text x="1094.2" y="1541.3" font-size="25" font-family="'Liberation Sans', Arial, Helvetica, sans-serif" text-anchor="middle">20</text>
<text x="1279.5" y="1541.3" font-size="25" font-family="'Liberation Sans', Arial, Helvetica, sans-serif" text-anchor="middle">40</text>
<text x="1131.7" y="1581.8" font-size="26" font-family="'Liberation Sans', Arial, Helvetica, sans-serif" textLength="190.5" lengthAdjust="spacingAndGlyphs" text-anchor="middle">Separation (nm)</text>
<text x="854.5" y="1288.7" font-size="25" font-family="'Liberation Sans', Arial, Helvetica, sans-serif" textLength="116.7" lengthAdjust="spacingAndGlyphs" text-anchor="middle" transform="rotate(-90 854.5 1288.7)">Force (nN)</text>
<line x1="916.3" y1="1188" x2="971.4" y2="1188" stroke="#000" stroke-width="1.7" stroke-dasharray="3.6,2.4"/><path d="M904.3,1188 L924.3,1181.4 L918.3,1188 L924.3,1194.6Z" fill="#000"/><path d="M983.4,1188 L963.4,1181.4 L969.4,1188 L963.4,1194.6Z" fill="#000"/>
<line x1="983.4" y1="1164.1" x2="983.4" y2="1209.2" stroke="#000" stroke-width="1.6" stroke-dasharray="3.6,2.4"/>
<line x1="919.3" y1="1276.8" x2="994.8" y2="1276.8" stroke="#000" stroke-width="1.7" stroke-dasharray="3.6,2.4"/><path d="M907.3,1276.8 L927.3,1270.2 L921.3,1276.8 L927.3,1283.4Z" fill="#000"/><path d="M1006.8,1276.8 L986.8,1270.2 L992.8,1276.8 L986.8,1283.4Z" fill="#000"/>
<line x1="1006.8" y1="1254.8" x2="1006.8" y2="1299.5" stroke="#000" stroke-width="1.6" stroke-dasharray="3.6,2.4"/>
<line x1="922.1" y1="1391.3" x2="1021.9" y2="1391.3" stroke="#000" stroke-width="1.7" stroke-dasharray="3.6,2.4"/><path d="M910.1,1391.3 L930.1,1384.7 L924.1,1391.3 L930.1,1397.9Z" fill="#000"/><path d="M1033.9,1391.3 L1013.9,1384.7 L1019.9,1391.3 L1013.9,1397.9Z" fill="#000"/>
<line x1="1036.9" y1="1368.4" x2="1036.9" y2="1414" stroke="#000" stroke-width="1.6" stroke-dasharray="3.6,2.4"/>
<text x="936" y="1171" font-size="32" font-family="'Liberation Sans', Arial, Helvetica, sans-serif" font-style="italic">h</text>
<text x="1162.8" y="1192.4" font-size="34.5" font-family="'Liberation Sans', Arial, Helvetica, sans-serif" textLength="189.6" lengthAdjust="spacingAndGlyphs">TpPa-CO<tspan dy="7.59" font-size="24.15">2</tspan><tspan dy="-7.59">H</tspan></text>
<text x="1164.5" y="1271.8" font-size="34.5" font-family="'Liberation Sans', Arial, Helvetica, sans-serif" textLength="200.8" lengthAdjust="spacingAndGlyphs">TpPa-PO<tspan dy="7.59" font-size="24.15">3</tspan><tspan dy="-7.59">H</tspan><tspan dy="7.59" font-size="24.15">2</tspan></text>
<text x="1166.1" y="1364.7" font-size="34.5" font-family="'Liberation Sans', Arial, Helvetica, sans-serif" textLength="186.3" lengthAdjust="spacingAndGlyphs">TpPa-SO<tspan dy="7.59" font-size="24.15">3</tspan><tspan dy="-7.59">H</tspan></text>
<text x="1230.9" y="1456.4" font-size="34.5" font-family="'Liberation Sans', Arial, Helvetica, sans-serif" textLength="82.6" lengthAdjust="spacingAndGlyphs">50nN</text>
<rect x="1331.3" y="1407.8" width="7.1" height="81" fill="#000"/>
<text x="1464.5" y="1052" font-size="44" font-family="'Liberation Sans', Arial, Helvetica, sans-serif" font-weight="bold">e</text>
<rect x="1616.8" y="1138.73" width="64.2" height="360.57" fill="#fb0281" stroke="#8cc34b" stroke-width="1"/>
<text x="1660.6" y="1492.7" font-size="36" font-family="'Liberation Sans', Arial, Helvetica, sans-serif" textLength="172.7" lengthAdjust="spacingAndGlyphs" fill="#fff" transform="rotate(-90 1660.6 1492.7)">TpPa-SO<tspan dy="7.92" font-size="25.2">3</tspan><tspan dy="-7.92">H</tspan></text>
<rect x="1776.6" y="1260.32" width="63.8" height="238.98" fill="#0a7cff" stroke="#8cc34b" stroke-width="1"/>
<text x="1821.1" y="1496.9" font-size="36" font-family="'Liberation Sans', Arial, Helvetica, sans-serif" textLength="188.1" lengthAdjust="spacingAndGlyphs" fill="#fff" transform="rotate(-90 1821.1 1496.9)">TpPa-PO<tspan dy="7.92" font-size="25.2">3</tspan><tspan dy="-7.92">H</tspan><tspan dy="7.92" font-size="25.2">2</tspan></text>
<rect x="1936.5" y="1300.94" width="63.7" height="198.36" fill="#c6dfa6" stroke="#8cc34b" stroke-width="1"/>
<text x="1981" y="1495" font-size="36" font-family="'Liberation Sans', Arial, Helvetica, sans-serif" textLength="175" lengthAdjust="spacingAndGlyphs" fill="#fff" transform="rotate(-90 1981 1495)">TpPa-CO<tspan dy="7.92" font-size="25.2">2</tspan><tspan dy="-7.92">H</tspan></text>
<line x1="1648.8" y1="1068.23" x2="1648.8" y2="1208.04" stroke="#000" stroke-width="1.8"/>
<line x1="1645.2" y1="1068.23" x2="1652.4" y2="1068.23" stroke="#000" stroke-width="1.8"/>
<line x1="1645.2" y1="1208.04" x2="1652.4" y2="1208.04" stroke="#000" stroke-width="1.8"/>
<line x1="1808.4" y1="1251.95" x2="1808.4" y2="1269.28" stroke="#000" stroke-width="1.8"/>
<line x1="1804.8" y1="1251.95" x2="1812" y2="1251.95" stroke="#000" stroke-width="1.8"/>
<line x1="1804.8" y1="1269.28" x2="1812" y2="1269.28" stroke="#000" stroke-width="1.8"/>
<line x1="1968.4" y1="1290.19" x2="1968.4" y2="1310.5" stroke="#000" stroke-width="1.8"/>
<line x1="1964.8" y1="1290.19" x2="1972" y2="1290.19" stroke="#000" stroke-width="1.8"/>
<line x1="1964.8" y1="1310.5" x2="1972" y2="1310.5" stroke="#000" stroke-width="1.8"/>
<rect x="1568.7" y="1051.2" width="480" height="448.1" fill="none" stroke="#000" stroke-width="2.3"/>
<line x1="1562.7" y1="1499.3" x2="1568.7" y2="1499.3" stroke="#000" stroke-width="2"/>
<text x="1558.3" y="1507.3" font-size="25" font-family="'Liberation Sans', Arial, Helvetica, sans-serif" text-anchor="end">0</text>
<line x1="1562.7" y1="1349.93" x2="1568.7" y2="1349.93" stroke="#000" stroke-width="2"/>
<text x="1558.3" y="1357.93" font-size="25" font-family="'Liberation Sans', Arial, Helvetica, sans-serif" text-anchor="end">5</text>
<line x1="1562.7" y1="1200.57" x2="1568.7" y2="1200.57" stroke="#000" stroke-width="2"/>
<text x="1558.3" y="1208.57" font-size="25" font-family="'Liberation Sans', Arial, Helvetica, sans-serif" text-anchor="end">10</text>
<line x1="1562.7" y1="1051.2" x2="1568.7" y2="1051.2" stroke="#000" stroke-width="2"/>
<text x="1558.3" y="1059.2" font-size="25" font-family="'Liberation Sans', Arial, Helvetica, sans-serif" text-anchor="end">15</text>
<text x="1491" y="1275.6" font-size="25" font-family="'Liberation Sans', Arial, Helvetica, sans-serif" text-anchor="middle" transform="rotate(-90 1491 1275.6)"><tspan font-style="italic">h</tspan> (nm)</text>
<text x="1803.8" y="1556" font-size="25.5" font-family="'Liberation Sans', Arial, Helvetica, sans-serif" textLength="189.7" lengthAdjust="spacingAndGlyphs" text-anchor="middle">COF membrane</text>
<text x="7.5" y="1645.4" font-size="44" font-family="'Liberation Sans', Arial, Helvetica, sans-serif" font-weight="bold">f</text>
<clipPath id="clipF1"><rect x="136.8" y="1655" width="311.3" height="468.6"/></clipPath>
<g clip-path="url(#clipF1)">
<circle cx="238.8" cy="1955.85" r="7.7" fill="url(#gBall)"/><circle cx="234.9" cy="1947.09" r="7.7" fill="url(#gBall)"/><circle cx="231" cy="1937.83" r="7.7" fill="url(#gBall)"/><circle cx="227.1" cy="1928.48" r="7.7" fill="url(#gBall)"/><circle cx="223.2" cy="1917.18" r="7.7" fill="url(#gBall)"/><circle cx="219.3" cy="1909.1" r="7.7" fill="url(#gBall)"/><circle cx="215.4" cy="1901.06" r="7.7" fill="url(#gBall)"/><circle cx="211.5" cy="1891.91" r="7.7" fill="url(#gBall)"/><circle cx="207.6" cy="1883.53" r="7.7" fill="url(#gBall)"/><circle cx="203.7" cy="1872.75" r="7.7" fill="url(#gBall)"/><circle cx="199.8" cy="1863.5" r="7.7" fill="url(#gBall)"/><circle cx="195.9" cy="1855.28" r="7.7" fill="url(#gBall)"/><circle cx="192" cy="1845.38" r="7.7" fill="url(#gBall)"/><circle cx="188.1" cy="1835.82" r="7.7" fill="url(#gBall)"/><circle cx="184.2" cy="1825.69" r="7.7" fill="url(#gBall)"/><circle cx="180.3" cy="1815.16" r="7.7" fill="url(#gBall)"/><circle cx="176.4" cy="1804.17" r="7.7" fill="url(#gBall)"/><circle cx="172.5" cy="1792.24" r="7.7" fill="url(#gBall)"/><circle cx="168.6" cy="1780.71" r="7.7" fill="url(#gBall)"/><circle cx="164.7" cy="1769.81" r="7.7" fill="url(#gBall)"/><circle cx="160.8" cy="1754.75" r="7.7" fill="url(#gBall)"/><circle cx="156.9" cy="1742.19" r="7.7" fill="url(#gBall)"/><circle cx="153" cy="1725.92" r="7.7" fill="url(#gBall)"/><circle cx="435.27" cy="2114.49" r="9.62" fill="url(#gBall)"/><circle cx="433.63" cy="2113.39" r="9.62" fill="url(#gBall)"/><circle cx="431.99" cy="2113.19" r="9.62" fill="url(#gBall)"/><circle cx="430.35" cy="2112.1" r="9.62" fill="url(#gBall)"/><circle cx="428.72" cy="2114.08" r="9.62" fill="url(#gBall)"/><circle cx="427.08" cy="2113.15" r="9.62" fill="url(#gBall)"/><circle cx="425.44" cy="2113.21" r="9.62" fill="url(#gBall)"/><circle cx="423.8" cy="2112.21" r="9.62" fill="url(#gBall)"/><circle cx="422.16" cy="2113.37" r="9.62" fill="url(#gBall)"/><circle cx="420.53" cy="2113.67" r="9.62" fill="url(#gBall)"/><circle cx="418.89" cy="2112.37" r="9.62" fill="url(#gBall)"/><circle cx="417.25" cy="2112.62" r="9.62" fill="url(#gBall)"/><circle cx="415.61" cy="2113.43" r="9.62" fill="url(#gBall)"/><circle cx="413.97" cy="2111.49" r="9.62" fill="url(#gBall)"/><circle cx="412.34" cy="2112.36" r="9.62" fill="url(#gBall)"/><circle cx="410.7" cy="2112.8" r="9.62" fill="url(#gBall)"/><circle cx="409.06" cy="2113.05" r="9.62" fill="url(#gBall)"/><circle cx="407.42" cy="2112.68" r="9.62" fill="url(#gBall)"/><circle cx="405.78" cy="2111.89" r="9.62" fill="url(#gBall)"/><circle cx="404.15" cy="2112.24" r="9.62" fill="url(#gBall)"/><circle cx="402.51" cy="2112.17" r="9.62" fill="url(#gBall)"/><circle cx="400.87" cy="2112.15" r="9.62" fill="url(#gBall)"/><circle cx="399.23" cy="2110.39" r="9.62" fill="url(#gBall)"/><circle cx="397.59" cy="2110.82" r="9.62" fill="url(#gBall)"/><circle cx="395.96" cy="2110.07" r="9.62" fill="url(#gBall)"/><circle cx="394.32" cy="2109.82" r="9.62" fill="url(#gBall)"/><circle cx="392.68" cy="2110.65" r="9.62" fill="url(#gBall)"/><circle cx="391.04" cy="2109.65" r="9.62" fill="url(#gBall)"/><circle cx="389.4" cy="2109.02" r="9.62" fill="url(#gBall)"/><circle cx="387.77" cy="2108.38" r="9.62" fill="url(#gBall)"/><circle cx="386.13" cy="2107.99" r="9.62" fill="url(#gBall)"/><circle cx="384.49" cy="2108.07" r="9.62" fill="url(#gBall)"/><circle cx="382.85" cy="2106.44" r="9.62" fill="url(#gBall)"/><circle cx="381.21" cy="2106.35" r="9.62" fill="url(#gBall)"/><circle cx="379.58" cy="2105.92" r="9.62" fill="url(#gBall)"/><circle cx="377.94" cy="2105.74" r="9.62" fill="url(#gBall)"/><circle cx="376.3" cy="2105.27" r="9.62" fill="url(#gBall)"/><circle cx="374.66" cy="2104.65" r="9.62" fill="url(#gBall)"/><circle cx="373.02" cy="2104.71" r="9.62" fill="url(#gBall)"/><circle cx="371.3" cy="2103.8" r="9.62" fill="url(#gBall)"/><circle cx="369.44" cy="2102.03" r="9.62" fill="url(#gBall)"/><circle cx="367.45" cy="2101" r="9.62" fill="url(#gBall)"/><circle cx="365.33" cy="2100.42" r="9.62" fill="url(#gBall)"/><circle cx="363.1" cy="2098.62" r="9.62" fill="url(#gBall)"/><circle cx="360.77" cy="2097.03" r="9.62" fill="url(#gBall)"/><circle cx="358.37" cy="2096.39" r="9.58" fill="url(#gBall)"/><circle cx="355.93" cy="2094.67" r="9.54" fill="url(#gBall)"/><circle cx="353.46" cy="2092.72" r="9.52" fill="url(#gBall)"/><circle cx="351" cy="2090.47" r="9.52" fill="url(#gBall)"/><circle cx="348.56" cy="2090.96" r="9.55" fill="url(#gBall)"/><circle cx="346.18" cy="2087.82" r="9.59" fill="url(#gBall)"/><circle cx="343.86" cy="2088.27" r="9.62" fill="url(#gBall)"/><circle cx="341.57" cy="2086.87" r="9.62" fill="url(#gBall)"/><circle cx="339.28" cy="2084.39" r="9.62" fill="url(#gBall)"/><circle cx="336.97" cy="2083.08" r="9.62" fill="url(#gBall)"/><circle cx="334.62" cy="2081.87" r="9.62" fill="url(#gBall)"/><circle cx="332.22" cy="2080.29" r="9.58" fill="url(#gBall)"/><circle cx="329.76" cy="2077.87" r="9.52" fill="url(#gBall)"/><circle cx="327.21" cy="2076.99" r="9.45" fill="url(#gBall)"/><circle cx="324.55" cy="2074.69" r="9.36" fill="url(#gBall)"/><circle cx="321.76" cy="2074.06" r="9.25" fill="url(#gBall)"/><circle cx="318.74" cy="2070.98" r="9.06" fill="url(#gBall)"/><circle cx="315.47" cy="2069.27" r="8.86" fill="url(#gBall)"/><circle cx="312.02" cy="2065.74" r="8.71" fill="url(#gBall)"/><circle cx="308.48" cy="2061.99" r="8.63" fill="url(#gBall)"/><circle cx="304.92" cy="2059.34" r="8.62" fill="url(#gBall)"/><circle cx="301.43" cy="2055.54" r="8.68" fill="url(#gBall)"/><circle cx="298.09" cy="2053.36" r="8.8" fill="url(#gBall)"/><circle cx="294.98" cy="2050.4" r="8.99" fill="url(#gBall)"/><circle cx="291.94" cy="2048.49" r="9.05" fill="url(#gBall)"/><circle cx="288.81" cy="2046.37" r="8.97" fill="url(#gBall)"/><circle cx="285.38" cy="2041.97" r="8.73" fill="url(#gBall)"/><circle cx="281.48" cy="2038.49" r="8.25" fill="url(#gBall)"/><circle cx="277.58" cy="2035.1" r="7.71" fill="url(#gBall)"/><circle cx="273.68" cy="2030.05" r="7.7" fill="url(#gBall)"/><circle cx="269.78" cy="2023.75" r="7.7" fill="url(#gBall)"/><circle cx="265.88" cy="2019.07" r="7.7" fill="url(#gBall)"/><circle cx="261.98" cy="2011.16" r="7.7" fill="url(#gBall)"/><circle cx="258.08" cy="2003.67" r="7.7" fill="url(#gBall)"/><circle cx="254.7" cy="1999.81" r="8.77" fill="url(#gBall)"/><circle cx="250.8" cy="1978.6" r="7.7" fill="url(#gBall)"/>
<path d="M153.8,1740.8 L154.7,1743.15 L155.61,1745.5 L156.51,1747.84 L157.42,1750.19 L158.32,1752.54 L159.23,1754.89 L160.13,1757.24 L161.04,1759.58 L161.95,1761.93 L162.85,1764.28 L163.76,1766.63 L164.67,1768.97 L165.58,1771.32 L166.49,1773.67 L167.39,1776.01 L168.3,1778.36 L169.21,1780.7 L170.12,1783.05 L171.03,1785.4 L171.94,1787.74 L172.85,1790.09 L173.76,1792.44 L174.66,1794.78 L175.57,1797.13 L176.48,1799.48 L177.39,1801.83 L178.29,1804.17 L179.2,1806.52 L180.11,1808.87 L181.02,1811.22 L181.92,1813.56 L182.83,1815.91 L183.74,1818.25 L184.66,1820.6 L185.57,1822.95 L186.48,1825.29 L187.4,1827.63 L188.31,1829.98 L189.23,1832.32 L190.15,1834.66 L191.07,1837 L192,1839.34 L192.92,1841.68 L193.85,1844.02 L194.78,1846.36 L195.72,1848.7 L196.65,1851.03 L197.59,1853.37 L198.55,1855.69 L199.51,1858.02 L200.48,1860.34 L201.45,1862.67 L202.43,1864.99 L203.42,1867.3 L204.4,1869.62 L205.39,1871.94 L206.38,1874.25 L207.37,1876.57 L208.35,1878.89 L209.34,1881.21 L210.31,1883.53 L211.28,1885.85 L212.24,1888.17 L213.2,1890.5 L214.14,1892.83 L215.07,1895.17 L215.99,1897.51 L216.89,1899.85 L217.78,1902.2 L218.65,1904.56 L219.5,1906.92 L220.34,1909.29 L221.16,1911.67 L221.97,1914.06 L222.77,1916.44 L223.56,1918.84 L224.33,1921.23 L225.1,1923.63 L225.86,1926.04 L226.62,1928.44 L227.37,1930.85 L228.12,1933.26 L228.87,1935.67 L229.62,1938.08 L230.36,1940.49 L231.11,1942.9 L231.87,1945.3 L232.63,1947.71 L233.39,1950.11 L234.16,1952.5 L234.94,1954.9 L235.73,1957.29 L236.53,1959.67 L237.35,1962.05 L238.17,1964.42 L239.02,1966.78 L239.87,1969.14 L240.75,1971.49 L241.65,1973.83 L242.56,1976.16 L243.49,1978.5 L244.41,1980.85 L245.35,1983.2 L246.29,1985.56 L247.25,1987.93 L248.22,1990.29 L249.2,1992.64 L250.19,1994.99 L251.21,1997.34 L252.24,1999.66 L253.29,2001.98 L254.36,2004.28 L255.46,2006.55 L256.58,2008.8 L257.73,2011.03 L258.91,2013.23 L260.12,2015.4 L261.36,2017.53 L262.63,2019.63 L263.95,2021.69 L265.32,2023.73 L266.77,2025.75 L268.28,2027.75 L269.84,2029.73 L271.46,2031.68 L273.13,2033.62 L274.83,2035.52 L276.57,2037.4 L278.35,2039.25 L280.14,2041.07 L281.96,2042.85 L283.78,2044.6 L285.62,2046.31 L287.46,2047.98 L289.31,2049.62 L291.2,2051.23 L293.12,2052.81 L295.08,2054.36 L297.06,2055.89 L299.07,2057.4 L301.11,2058.89 L303.17,2060.35 L305.25,2061.8 L307.34,2063.23 L309.45,2064.65 L311.57,2066.05 L313.69,2067.43 L315.83,2068.81 L317.96,2070.18 L320.1,2071.54 L322.23,2072.89 L324.36,2074.24 L326.49,2075.58 L328.61,2076.93 L330.73,2078.3 L332.86,2079.68 L334.99,2081.05 L337.13,2082.43 L339.27,2083.8 L341.42,2085.15 L343.59,2086.49 L345.76,2087.8 L347.94,2089.08 L350.14,2090.33 L352.35,2091.54 L354.57,2092.7 L356.81,2093.81 L359.07,2094.87 L361.34,2095.86 L363.63,2096.79 L365.94,2097.69 L368.28,2098.59 L370.65,2099.48 L373.04,2100.35 L375.44,2101.19 L377.86,2101.99 L380.29,2102.75 L382.74,2103.45 L385.19,2104.09 L387.64,2104.66 L390.1,2105.15 L392.56,2105.55 L395.02,2105.86 L397.49,2106.16 L399.96,2106.45 L402.43,2106.73 L404.91,2107 L407.4,2107.26 L409.9,2107.5 L412.4,2107.73 L414.9,2107.94 L417.42,2108.13 L419.94,2108.3 L422.46,2108.44 L425,2108.57 L427.54,2108.67 L430.08,2108.74 L432.64,2108.78 L435.2,2108.8" fill="none" stroke="#e8343a" stroke-width="2"/>
</g>
<rect x="148.8" y="1667" width="287.3" height="446.6" fill="none" stroke="#000" stroke-width="2.2"/>
<line x1="142.8" y1="1681.5" x2="148.8" y2="1681.5" stroke="#000" stroke-width="2"/>
<text x="139.5" y="1691.8" font-size="26" font-family="'Liberation Sans', Arial, Helvetica, sans-serif" textLength="93.7" lengthAdjust="spacingAndGlyphs" text-anchor="end">6.0x10<tspan dy="-9.88" font-size="18.2">5</tspan></text>
<line x1="145.8" y1="1789.6" x2="148.8" y2="1789.6" stroke="#000" stroke-width="2"/>
<line x1="142.8" y1="1897.7" x2="148.8" y2="1897.7" stroke="#000" stroke-width="2"/>
<text x="139.5" y="1908" font-size="26" font-family="'Liberation Sans', Arial, Helvetica, sans-serif" textLength="93.7" lengthAdjust="spacingAndGlyphs" text-anchor="end">3.0x10<tspan dy="-9.88" font-size="18.2">5</tspan></text>
<line x1="145.8" y1="2005.6" x2="148.8" y2="2005.6" stroke="#000" stroke-width="2"/>
<line x1="142.8" y1="2113.6" x2="148.8" y2="2113.6" stroke="#000" stroke-width="2"/>
<text x="139.5" y="2123.9" font-size="26" font-family="'Liberation Sans', Arial, Helvetica, sans-serif" text-anchor="end">0.0</text>
<line x1="163.7" y1="2113.6" x2="163.7" y2="2117.6" stroke="#000" stroke-width="2"/>
<line x1="218" y1="2113.6" x2="218" y2="2119.6" stroke="#000" stroke-width="2"/>
<line x1="272.3" y1="2113.6" x2="272.3" y2="2117.6" stroke="#000" stroke-width="2"/>
<line x1="326.6" y1="2113.6" x2="326.6" y2="2119.6" stroke="#000" stroke-width="2"/>
<line x1="380.9" y1="2113.6" x2="380.9" y2="2117.6" stroke="#000" stroke-width="2"/>
<line x1="435.2" y1="2113.6" x2="435.2" y2="2119.6" stroke="#000" stroke-width="2"/>
<text x="219" y="2145.1" font-size="26" font-family="'Liberation Sans', Arial, Helvetica, sans-serif" text-anchor="middle">10<tspan dy="-9.88" font-size="18.2">2</tspan></text>
<text x="327.6" y="2145.1" font-size="26" font-family="'Liberation Sans', Arial, Helvetica, sans-serif" text-anchor="middle">10<tspan dy="-9.88" font-size="18.2">4</tspan></text>
<text x="436.2" y="2145.1" font-size="26" font-family="'Liberation Sans', Arial, Helvetica, sans-serif" text-anchor="middle">10<tspan dy="-9.88" font-size="18.2">6</tspan></text>
<text x="291.5" y="2183" font-size="27" font-family="'Liberation Sans', Arial, Helvetica, sans-serif" textLength="187" lengthAdjust="spacingAndGlyphs" text-anchor="middle">Frequency (Hz)</text>
<text x="38.5" y="1890.8" font-size="23" font-family="'Liberation Sans', Arial, Helvetica, sans-serif" text-anchor="middle" transform="rotate(-90 38.5 1890.8)" textLength="54" lengthAdjust="spacingAndGlyphs">ε″(<tspan font-style="italic" font-family="'Liberation Serif', 'Times New Roman', serif">f</tspan>)</text>
<text x="198.4" y="1748.4" font-size="34.5" font-family="'Liberation Sans', Arial, Helvetica, sans-serif" textLength="198.3" lengthAdjust="spacingAndGlyphs">TpPa-CO<tspan dy="7.59" font-size="24.15">2</tspan><tspan dy="-7.59">H</tspan></text>
<clipPath id="clipF2"><rect x="592.8" y="1655.2" width="312.9" height="471.1"/></clipPath>
<g clip-path="url(#clipF2)">
<circle cx="694.2" cy="1961.42" r="7.5" fill="url(#gBall)"/><circle cx="690.3" cy="1947.8" r="7.5" fill="url(#gBall)"/><circle cx="686.4" cy="1938.73" r="7.5" fill="url(#gBall)"/><circle cx="682.5" cy="1928.92" r="7.5" fill="url(#gBall)"/><circle cx="678.6" cy="1918.81" r="7.5" fill="url(#gBall)"/><circle cx="674.7" cy="1909.17" r="7.5" fill="url(#gBall)"/><circle cx="670.8" cy="1897.55" r="7.5" fill="url(#gBall)"/><circle cx="666.9" cy="1884.94" r="7.5" fill="url(#gBall)"/><circle cx="663" cy="1876.87" r="7.5" fill="url(#gBall)"/><circle cx="659.1" cy="1860.77" r="7.5" fill="url(#gBall)"/><circle cx="655.2" cy="1848.37" r="7.5" fill="url(#gBall)"/><circle cx="651.3" cy="1838.52" r="7.5" fill="url(#gBall)"/><circle cx="647.4" cy="1821.48" r="7.5" fill="url(#gBall)"/><circle cx="643.5" cy="1809.47" r="7.5" fill="url(#gBall)"/><circle cx="639.6" cy="1798.17" r="7.5" fill="url(#gBall)"/><circle cx="635.7" cy="1782.91" r="7.5" fill="url(#gBall)"/><circle cx="631.8" cy="1765.95" r="7.5" fill="url(#gBall)"/><circle cx="627.9" cy="1752.69" r="7.5" fill="url(#gBall)"/><circle cx="624" cy="1737.85" r="7.5" fill="url(#gBall)"/><circle cx="620.1" cy="1722.07" r="7.5" fill="url(#gBall)"/><circle cx="616.2" cy="1706.28" r="7.5" fill="url(#gBall)"/><circle cx="612.3" cy="1698.61" r="7.5" fill="url(#gBall)"/><circle cx="608.4" cy="1683.36" r="7.5" fill="url(#gBall)"/><circle cx="861.16" cy="2110.43" r="9.38" fill="url(#gBall)"/><circle cx="859.52" cy="2109.35" r="9.38" fill="url(#gBall)"/><circle cx="857.89" cy="2110.15" r="9.38" fill="url(#gBall)"/><circle cx="856.25" cy="2108" r="9.38" fill="url(#gBall)"/><circle cx="854.61" cy="2109.28" r="9.38" fill="url(#gBall)"/><circle cx="852.97" cy="2110.13" r="9.38" fill="url(#gBall)"/><circle cx="851.33" cy="2107.01" r="9.38" fill="url(#gBall)"/><circle cx="849.7" cy="2108.2" r="9.38" fill="url(#gBall)"/><circle cx="848.06" cy="2108.56" r="9.38" fill="url(#gBall)"/><circle cx="846.42" cy="2108.4" r="9.38" fill="url(#gBall)"/><circle cx="844.78" cy="2108.19" r="9.38" fill="url(#gBall)"/><circle cx="843.14" cy="2106.55" r="9.38" fill="url(#gBall)"/><circle cx="841.51" cy="2107.18" r="9.38" fill="url(#gBall)"/><circle cx="839.87" cy="2106.89" r="9.38" fill="url(#gBall)"/><circle cx="838.23" cy="2105.99" r="9.38" fill="url(#gBall)"/><circle cx="836.59" cy="2106.21" r="9.38" fill="url(#gBall)"/><circle cx="834.95" cy="2105.98" r="9.38" fill="url(#gBall)"/><circle cx="833.32" cy="2105.49" r="9.38" fill="url(#gBall)"/><circle cx="831.68" cy="2105.68" r="9.38" fill="url(#gBall)"/><circle cx="830.04" cy="2104.35" r="9.38" fill="url(#gBall)"/><circle cx="828.4" cy="2104.79" r="9.38" fill="url(#gBall)"/><circle cx="826.76" cy="2103.34" r="9.38" fill="url(#gBall)"/><circle cx="825.13" cy="2102.35" r="9.38" fill="url(#gBall)"/><circle cx="823.49" cy="2101.96" r="9.38" fill="url(#gBall)"/><circle cx="821.85" cy="2101.36" r="9.38" fill="url(#gBall)"/><circle cx="820.21" cy="2100.55" r="9.38" fill="url(#gBall)"/><circle cx="818.57" cy="2100.21" r="9.38" fill="url(#gBall)"/><circle cx="816.94" cy="2100.16" r="9.38" fill="url(#gBall)"/><circle cx="815.28" cy="2098.89" r="9.38" fill="url(#gBall)"/><circle cx="813.56" cy="2097.72" r="9.38" fill="url(#gBall)"/><circle cx="811.76" cy="2098.76" r="9.38" fill="url(#gBall)"/><circle cx="809.88" cy="2095.76" r="9.38" fill="url(#gBall)"/><circle cx="807.94" cy="2094.34" r="9.38" fill="url(#gBall)"/><circle cx="805.93" cy="2095.13" r="9.38" fill="url(#gBall)"/><circle cx="803.85" cy="2093.48" r="9.38" fill="url(#gBall)"/><circle cx="801.72" cy="2091.36" r="9.38" fill="url(#gBall)"/><circle cx="799.54" cy="2091.96" r="9.38" fill="url(#gBall)"/><circle cx="797.31" cy="2090.48" r="9.38" fill="url(#gBall)"/><circle cx="795.05" cy="2089.19" r="9.38" fill="url(#gBall)"/><circle cx="792.75" cy="2088.06" r="9.38" fill="url(#gBall)"/><circle cx="790.33" cy="2086.48" r="9.31" fill="url(#gBall)"/><circle cx="787.75" cy="2085.8" r="9.18" fill="url(#gBall)"/><circle cx="785.02" cy="2083.8" r="9.06" fill="url(#gBall)"/><circle cx="782.13" cy="2081.08" r="8.93" fill="url(#gBall)"/><circle cx="779.1" cy="2079.37" r="8.82" fill="url(#gBall)"/><circle cx="775.94" cy="2076.63" r="8.72" fill="url(#gBall)"/><circle cx="772.67" cy="2073.78" r="8.63" fill="url(#gBall)"/><circle cx="769.31" cy="2069.51" r="8.56" fill="url(#gBall)"/><circle cx="765.88" cy="2067.33" r="8.5" fill="url(#gBall)"/><circle cx="762.39" cy="2064.2" r="8.46" fill="url(#gBall)"/><circle cx="758.89" cy="2061.19" r="8.44" fill="url(#gBall)"/><circle cx="755.34" cy="2057.22" r="8.41" fill="url(#gBall)"/><circle cx="751.7" cy="2053.49" r="8.33" fill="url(#gBall)"/><circle cx="747.89" cy="2050.46" r="8.2" fill="url(#gBall)"/><circle cx="743.99" cy="2047.63" r="8.01" fill="url(#gBall)"/><circle cx="740.09" cy="2040.86" r="7.76" fill="url(#gBall)"/><circle cx="736.19" cy="2038.82" r="7.5" fill="url(#gBall)"/><circle cx="732.29" cy="2033.37" r="7.5" fill="url(#gBall)"/><circle cx="728.39" cy="2026.32" r="7.5" fill="url(#gBall)"/><circle cx="724.49" cy="2022.34" r="7.5" fill="url(#gBall)"/><circle cx="720.59" cy="2015.37" r="7.55" fill="url(#gBall)"/><circle cx="717.67" cy="2012.56" r="8.91" fill="url(#gBall)"/><circle cx="715.26" cy="2011.73" r="9.31" fill="url(#gBall)"/><circle cx="713.21" cy="2011.84" r="9.38" fill="url(#gBall)"/><circle cx="711.58" cy="2009.12" r="9.38" fill="url(#gBall)"/><circle cx="709.94" cy="2008.65" r="9.38" fill="url(#gBall)"/><circle cx="708.3" cy="2008.73" r="9.38" fill="url(#gBall)"/>
<path d="M610,1686 L610.71,1688.51 L611.41,1691.03 L612.12,1693.54 L612.82,1696.05 L613.53,1698.57 L614.23,1701.08 L614.93,1703.6 L615.63,1706.11 L616.32,1708.63 L617.02,1711.14 L617.71,1713.66 L618.4,1716.18 L619.1,1718.69 L619.78,1721.21 L620.47,1723.73 L621.16,1726.25 L621.84,1728.77 L622.52,1731.29 L623.19,1733.81 L623.87,1736.33 L624.54,1738.85 L625.21,1741.38 L625.88,1743.9 L626.55,1746.42 L627.22,1748.95 L627.89,1751.47 L628.56,1753.99 L629.23,1756.52 L629.9,1759.04 L630.57,1761.56 L631.25,1764.08 L631.92,1766.6 L632.6,1769.13 L633.28,1771.65 L633.96,1774.17 L634.64,1776.69 L635.33,1779.2 L636.01,1781.72 L636.7,1784.24 L637.38,1786.76 L638.06,1789.29 L638.74,1791.81 L639.42,1794.33 L640.1,1796.85 L640.78,1799.37 L641.47,1801.89 L642.15,1804.41 L642.84,1806.93 L643.54,1809.44 L644.23,1811.96 L644.93,1814.47 L645.64,1816.99 L646.35,1819.5 L647.07,1822.01 L647.79,1824.52 L648.52,1827.02 L649.26,1829.52 L650.01,1832.02 L650.76,1834.52 L651.52,1837.02 L652.28,1839.51 L653.06,1842 L653.83,1844.5 L654.61,1846.99 L655.4,1849.48 L656.19,1851.96 L656.99,1854.45 L657.79,1856.94 L658.6,1859.42 L659.41,1861.9 L660.23,1864.38 L661.05,1866.86 L661.88,1869.34 L662.71,1871.82 L663.54,1874.29 L664.38,1876.76 L665.22,1879.23 L666.07,1881.7 L666.92,1884.17 L667.78,1886.64 L668.63,1889.1 L669.5,1891.56 L670.36,1894.03 L671.24,1896.48 L672.13,1898.93 L673.03,1901.38 L673.94,1903.83 L674.86,1906.27 L675.79,1908.71 L676.72,1911.15 L677.66,1913.59 L678.6,1916.02 L679.54,1918.46 L680.49,1920.89 L681.43,1923.33 L682.38,1925.76 L683.32,1928.2 L684.26,1930.63 L685.19,1933.07 L686.12,1935.51 L687.04,1937.96 L687.95,1940.4 L688.86,1942.85 L689.75,1945.3 L690.63,1947.76 L691.48,1950.23 L692.31,1952.71 L693.13,1955.2 L693.94,1957.69 L694.74,1960.18 L695.55,1962.67 L696.36,1965.16 L697.18,1967.65 L698.01,1970.12 L698.87,1972.59 L699.75,1975.04 L700.66,1977.47 L701.6,1979.89 L702.59,1982.29 L703.6,1984.68 L704.64,1987.08 L705.71,1989.47 L706.8,1991.86 L707.93,1994.24 L709.07,1996.61 L710.25,1998.97 L711.45,2001.31 L712.68,2003.63 L713.94,2005.93 L715.23,2008.2 L716.54,2010.45 L717.89,2012.67 L719.26,2014.85 L720.66,2017 L722.12,2019.14 L723.63,2021.27 L725.19,2023.38 L726.8,2025.47 L728.45,2027.54 L730.14,2029.57 L731.87,2031.57 L733.63,2033.53 L735.42,2035.44 L737.23,2037.31 L739.07,2039.12 L740.94,2040.87 L742.85,2042.57 L744.82,2044.24 L746.84,2045.87 L748.9,2047.46 L751,2049.02 L753.13,2050.56 L755.28,2052.07 L757.45,2053.57 L759.63,2055.05 L761.82,2056.52 L764.01,2057.98 L766.2,2059.44 L768.37,2060.9 L770.53,2062.36 L772.69,2063.83 L774.85,2065.3 L777.02,2066.76 L779.19,2068.22 L781.38,2069.67 L783.56,2071.11 L785.76,2072.53 L787.97,2073.93 L790.19,2075.32 L792.42,2076.67 L794.66,2078 L796.92,2079.3 L799.19,2080.56 L801.48,2081.79 L803.78,2083 L806.1,2084.19 L808.43,2085.37 L810.78,2086.52 L813.14,2087.65 L815.51,2088.77 L817.89,2089.86 L820.28,2090.92 L822.68,2091.97 L825.09,2092.99 L827.5,2093.99 L829.91,2094.96 L832.33,2095.92 L834.76,2096.86 L837.19,2097.78 L839.64,2098.68 L842.09,2099.57 L844.55,2100.44 L847.02,2101.3 L849.5,2102.13 L851.98,2102.95 L854.47,2103.74 L856.97,2104.52 L859.48,2105.27 L862,2106" fill="none" stroke="#e8343a" stroke-width="2"/>
</g>
<rect x="604.8" y="1667.2" width="288.9" height="449.1" fill="none" stroke="#000" stroke-width="2.2"/>
<line x1="598.8" y1="1667.2" x2="604.8" y2="1667.2" stroke="#000" stroke-width="2"/>
<text x="598.1" y="1677.2" font-size="26" font-family="'Liberation Sans', Arial, Helvetica, sans-serif" textLength="98.7" lengthAdjust="spacingAndGlyphs" text-anchor="end">1.6×10<tspan dy="-9.88" font-size="18.2">5</tspan></text>
<line x1="601.8" y1="1779.7" x2="604.8" y2="1779.7" stroke="#000" stroke-width="2"/>
<line x1="598.8" y1="1892.2" x2="604.8" y2="1892.2" stroke="#000" stroke-width="2"/>
<text x="598.1" y="1901.2" font-size="26" font-family="'Liberation Sans', Arial, Helvetica, sans-serif" textLength="98.7" lengthAdjust="spacingAndGlyphs" text-anchor="end">8.0×10<tspan dy="-9.88" font-size="18.2">4</tspan></text>
<line x1="601.8" y1="2004.2" x2="604.8" y2="2004.2" stroke="#000" stroke-width="2"/>
<line x1="598.8" y1="2116.3" x2="604.8" y2="2116.3" stroke="#000" stroke-width="2"/>
<text x="598.1" y="2125.3" font-size="26" font-family="'Liberation Sans', Arial, Helvetica, sans-serif" text-anchor="end">0.0</text>
<line x1="621.25" y1="2116.3" x2="621.25" y2="2120.3" stroke="#000" stroke-width="2"/>
<line x1="675.6" y1="2116.3" x2="675.6" y2="2122.3" stroke="#000" stroke-width="2"/>
<line x1="729.95" y1="2116.3" x2="729.95" y2="2120.3" stroke="#000" stroke-width="2"/>
<line x1="784.3" y1="2116.3" x2="784.3" y2="2122.3" stroke="#000" stroke-width="2"/>
<line x1="838.65" y1="2116.3" x2="838.65" y2="2120.3" stroke="#000" stroke-width="2"/>
<line x1="893" y1="2116.3" x2="893" y2="2122.3" stroke="#000" stroke-width="2"/>
<text x="676.6" y="2148.1" font-size="26" font-family="'Liberation Sans', Arial, Helvetica, sans-serif" text-anchor="middle">10<tspan dy="-9.88" font-size="18.2">2</tspan></text>
<text x="785.3" y="2148.1" font-size="26" font-family="'Liberation Sans', Arial, Helvetica, sans-serif" text-anchor="middle">10<tspan dy="-9.88" font-size="18.2">4</tspan></text>
<text x="894" y="2148.1" font-size="26" font-family="'Liberation Sans', Arial, Helvetica, sans-serif" text-anchor="middle">10<tspan dy="-9.88" font-size="18.2">6</tspan></text>
<text x="749.2" y="2184.5" font-size="27" font-family="'Liberation Sans', Arial, Helvetica, sans-serif" textLength="187" lengthAdjust="spacingAndGlyphs" text-anchor="middle">Frequency (Hz)</text>
<text x="489.4" y="1893" font-size="23" font-family="'Liberation Sans', Arial, Helvetica, sans-serif" text-anchor="middle" transform="rotate(-90 489.4 1893)" textLength="54" lengthAdjust="spacingAndGlyphs">ε″(<tspan font-style="italic" font-family="'Liberation Serif', 'Times New Roman', serif">f</tspan>)</text>
<text x="650.8" y="1739.3" font-size="34.5" font-family="'Liberation Sans', Arial, Helvetica, sans-serif" textLength="213.5" lengthAdjust="spacingAndGlyphs">TpPa-PO<tspan dy="7.59" font-size="24.15">3</tspan><tspan dy="-7.59">H</tspan><tspan dy="7.59" font-size="24.15">2</tspan></text>
<clipPath id="clipF3"><rect x="1058.5" y="1651.9" width="311.1" height="467.8"/></clipPath>
<g clip-path="url(#clipF3)">
<circle cx="1357.29" cy="2099.19" r="10.75" fill="url(#gBall)"/><circle cx="1355.73" cy="2099.51" r="10.36" fill="url(#gBall)"/><circle cx="1354.16" cy="2097.31" r="10.35" fill="url(#gBall)"/><circle cx="1352.59" cy="2095.28" r="10.34" fill="url(#gBall)"/><circle cx="1351" cy="2096.82" r="10.32" fill="url(#gBall)"/><circle cx="1349.41" cy="2094.32" r="10.31" fill="url(#gBall)"/><circle cx="1347.81" cy="2091.74" r="10.29" fill="url(#gBall)"/><circle cx="1346.19" cy="2091.54" r="10.27" fill="url(#gBall)"/><circle cx="1344.56" cy="2090.51" r="10.24" fill="url(#gBall)"/><circle cx="1342.92" cy="2088.71" r="10.22" fill="url(#gBall)"/><circle cx="1341.26" cy="2086.96" r="10.21" fill="url(#gBall)"/><circle cx="1339.6" cy="2086.88" r="10.2" fill="url(#gBall)"/><circle cx="1337.94" cy="2086.14" r="10.19" fill="url(#gBall)"/><circle cx="1336.28" cy="2084.91" r="10.2" fill="url(#gBall)"/><circle cx="1334.63" cy="2082.82" r="10.2" fill="url(#gBall)"/><circle cx="1332.98" cy="2081.54" r="10.22" fill="url(#gBall)"/><circle cx="1331.35" cy="2080.48" r="10.24" fill="url(#gBall)"/><circle cx="1329.72" cy="2079.35" r="10.26" fill="url(#gBall)"/><circle cx="1328.12" cy="2078.59" r="10.29" fill="url(#gBall)"/><circle cx="1326.53" cy="2077.91" r="10.31" fill="url(#gBall)"/><circle cx="1324.95" cy="2076.15" r="10.32" fill="url(#gBall)"/><circle cx="1323.37" cy="2073.94" r="10.34" fill="url(#gBall)"/><circle cx="1321.81" cy="2074.1" r="10.35" fill="url(#gBall)"/><circle cx="1320.24" cy="2071.99" r="10.35" fill="url(#gBall)"/><circle cx="1318.68" cy="2072.18" r="10.36" fill="url(#gBall)"/><circle cx="1317.12" cy="2069.8" r="10.36" fill="url(#gBall)"/><circle cx="1315.56" cy="2068.58" r="10.35" fill="url(#gBall)"/><circle cx="1313.99" cy="2068.74" r="10.35" fill="url(#gBall)"/><circle cx="1312.41" cy="2068.03" r="10.33" fill="url(#gBall)"/><circle cx="1310.83" cy="2065.63" r="10.32" fill="url(#gBall)"/><circle cx="1309.23" cy="2064.08" r="10.3" fill="url(#gBall)"/><circle cx="1307.63" cy="2063.64" r="10.29" fill="url(#gBall)"/><circle cx="1306.04" cy="2062.48" r="10.31" fill="url(#gBall)"/><circle cx="1304.47" cy="2062.39" r="10.34" fill="url(#gBall)"/><circle cx="1302.91" cy="2060.05" r="10.36" fill="url(#gBall)"/><circle cx="1301.35" cy="2060.16" r="10.37" fill="url(#gBall)"/><circle cx="1299.79" cy="2057.45" r="10.36" fill="url(#gBall)"/><circle cx="1298.23" cy="2055.47" r="10.35" fill="url(#gBall)"/><circle cx="1296.65" cy="2054.48" r="10.33" fill="url(#gBall)"/><circle cx="1295.06" cy="2054.36" r="10.3" fill="url(#gBall)"/><circle cx="1293.44" cy="2052.79" r="10.26" fill="url(#gBall)"/><circle cx="1291.79" cy="2052.36" r="10.21" fill="url(#gBall)"/><circle cx="1290.1" cy="2050.28" r="10.15" fill="url(#gBall)"/><circle cx="1288.36" cy="2049.14" r="10.07" fill="url(#gBall)"/><circle cx="1286.57" cy="2047.88" r="9.98" fill="url(#gBall)"/><circle cx="1284.71" cy="2046.06" r="9.87" fill="url(#gBall)"/><circle cx="1282.73" cy="2045.34" r="9.67" fill="url(#gBall)"/><circle cx="1280.55" cy="2041.45" r="9.36" fill="url(#gBall)"/><circle cx="1278.35" cy="2039.75" r="9.16" fill="url(#gBall)"/><circle cx="1276.15" cy="2038.2" r="9.07" fill="url(#gBall)"/><circle cx="1273.95" cy="2035.29" r="9.1" fill="url(#gBall)"/><circle cx="1271.75" cy="2032.31" r="9.25" fill="url(#gBall)"/><circle cx="1269.67" cy="2030.72" r="9.5" fill="url(#gBall)"/><circle cx="1267.74" cy="2028.83" r="9.76" fill="url(#gBall)"/><circle cx="1265.9" cy="2027.61" r="9.9" fill="url(#gBall)"/><circle cx="1264.12" cy="2026.29" r="10.01" fill="url(#gBall)"/><circle cx="1262.39" cy="2024.04" r="10.08" fill="url(#gBall)"/><circle cx="1260.69" cy="2024.02" r="10.13" fill="url(#gBall)"/><circle cx="1259" cy="2023.04" r="10.16" fill="url(#gBall)"/><circle cx="1257.32" cy="2020.69" r="10.15" fill="url(#gBall)"/><circle cx="1255.61" cy="2021.01" r="10.13" fill="url(#gBall)"/><circle cx="1253.88" cy="2018.94" r="10.07" fill="url(#gBall)"/><circle cx="1252.11" cy="2018.26" r="10.03" fill="url(#gBall)"/><circle cx="1250.34" cy="2014.96" r="10.01" fill="url(#gBall)"/><circle cx="1248.56" cy="2015.04" r="10" fill="url(#gBall)"/><circle cx="1246.78" cy="2012.45" r="10" fill="url(#gBall)"/><circle cx="1245" cy="2011.21" r="10.01" fill="url(#gBall)"/><circle cx="1243.24" cy="2008.73" r="10.02" fill="url(#gBall)"/><circle cx="1241.49" cy="2008.88" r="10.05" fill="url(#gBall)"/><circle cx="1239.75" cy="2007.08" r="10.08" fill="url(#gBall)"/><circle cx="1238.04" cy="2005.53" r="10.12" fill="url(#gBall)"/><circle cx="1236.38" cy="2004.3" r="10.18" fill="url(#gBall)"/><circle cx="1234.75" cy="2002.92" r="10.24" fill="url(#gBall)"/><circle cx="1233.14" cy="2002.58" r="10.29" fill="url(#gBall)"/><circle cx="1231.56" cy="1999.19" r="10.32" fill="url(#gBall)"/><circle cx="1229.99" cy="1999.26" r="10.34" fill="url(#gBall)"/><circle cx="1228.42" cy="1999.1" r="10.35" fill="url(#gBall)"/><circle cx="1226.84" cy="1996.72" r="10.34" fill="url(#gBall)"/><circle cx="1225.26" cy="1993.8" r="10.32" fill="url(#gBall)"/><circle cx="1223.66" cy="1994.33" r="10.29" fill="url(#gBall)"/><circle cx="1222.02" cy="1993.74" r="10.24" fill="url(#gBall)"/><circle cx="1220.35" cy="1992.79" r="10.18" fill="url(#gBall)"/><circle cx="1218.63" cy="1993.15" r="10.1" fill="url(#gBall)"/><circle cx="1216.85" cy="1990.84" r="10" fill="url(#gBall)"/><circle cx="1215" cy="1989.45" r="9.89" fill="url(#gBall)"/><circle cx="1213.05" cy="1986.25" r="9.72" fill="url(#gBall)"/><circle cx="1210.97" cy="1984.96" r="9.51" fill="url(#gBall)"/><circle cx="1208.79" cy="1983.45" r="9.35" fill="url(#gBall)"/><circle cx="1206.59" cy="1980.65" r="9.25" fill="url(#gBall)"/><circle cx="1204.39" cy="1978.84" r="9.19" fill="url(#gBall)"/><circle cx="1202.19" cy="1976.24" r="9.2" fill="url(#gBall)"/><circle cx="1199.99" cy="1974.56" r="9.25" fill="url(#gBall)"/><circle cx="1197.81" cy="1971.32" r="9.34" fill="url(#gBall)"/><circle cx="1195.65" cy="1969.78" r="9.38" fill="url(#gBall)"/><circle cx="1193.49" cy="1966.28" r="9.39" fill="url(#gBall)"/><circle cx="1191.32" cy="1964.48" r="9.37" fill="url(#gBall)"/><circle cx="1189.12" cy="1962.03" r="9.31" fill="url(#gBall)"/><circle cx="1186.92" cy="1961.08" r="9.21" fill="url(#gBall)"/><circle cx="1184.72" cy="1958.35" r="9.08" fill="url(#gBall)"/><circle cx="1182.52" cy="1955.3" r="8.96" fill="url(#gBall)"/><circle cx="1180.32" cy="1954.52" r="8.89" fill="url(#gBall)"/><circle cx="1178.12" cy="1951.12" r="8.79" fill="url(#gBall)"/><circle cx="1175.92" cy="1947.93" r="8.67" fill="url(#gBall)"/><circle cx="1173.72" cy="1946.81" r="8.6" fill="url(#gBall)"/><circle cx="1171.52" cy="1944.5" r="8.6" fill="url(#gBall)"/><circle cx="1169.32" cy="1940.6" r="8.6" fill="url(#gBall)"/><circle cx="1167.12" cy="1937.8" r="8.6" fill="url(#gBall)"/><circle cx="1164.92" cy="1934.05" r="8.6" fill="url(#gBall)"/><circle cx="1162.72" cy="1932.01" r="8.6" fill="url(#gBall)"/><circle cx="1160.52" cy="1926.9" r="8.6" fill="url(#gBall)"/><circle cx="1158.32" cy="1924.22" r="8.6" fill="url(#gBall)"/><circle cx="1156.12" cy="1920.87" r="8.6" fill="url(#gBall)"/><circle cx="1153.92" cy="1917.06" r="8.6" fill="url(#gBall)"/><circle cx="1151.72" cy="1911.42" r="8.6" fill="url(#gBall)"/><circle cx="1149.52" cy="1908.75" r="8.6" fill="url(#gBall)"/><circle cx="1147.32" cy="1904.29" r="8.6" fill="url(#gBall)"/><circle cx="1145.12" cy="1899.2" r="8.6" fill="url(#gBall)"/><circle cx="1142.92" cy="1895.09" r="8.6" fill="url(#gBall)"/><circle cx="1140.72" cy="1892.03" r="8.6" fill="url(#gBall)"/><circle cx="1138.52" cy="1890.43" r="8.6" fill="url(#gBall)"/><circle cx="1136.32" cy="1883.78" r="8.6" fill="url(#gBall)"/><circle cx="1134.12" cy="1877.47" r="8.6" fill="url(#gBall)"/><circle cx="1131.92" cy="1873.22" r="8.6" fill="url(#gBall)"/><circle cx="1129.72" cy="1867.88" r="8.6" fill="url(#gBall)"/><circle cx="1127.52" cy="1862.78" r="8.6" fill="url(#gBall)"/><circle cx="1125.32" cy="1859.33" r="8.6" fill="url(#gBall)"/><circle cx="1123.12" cy="1854.95" r="8.6" fill="url(#gBall)"/><circle cx="1120.92" cy="1850.67" r="8.6" fill="url(#gBall)"/><circle cx="1118.72" cy="1844.07" r="8.6" fill="url(#gBall)"/><circle cx="1116.52" cy="1835.25" r="8.6" fill="url(#gBall)"/><circle cx="1114.32" cy="1825.91" r="8.6" fill="url(#gBall)"/><circle cx="1112.12" cy="1817.79" r="8.6" fill="url(#gBall)"/><circle cx="1109.92" cy="1810.45" r="8.6" fill="url(#gBall)"/><circle cx="1107.72" cy="1804.68" r="8.6" fill="url(#gBall)"/><circle cx="1105.52" cy="1798.93" r="8.6" fill="url(#gBall)"/><circle cx="1103.32" cy="1792.47" r="8.6" fill="url(#gBall)"/><circle cx="1101.12" cy="1782.19" r="8.6" fill="url(#gBall)"/><circle cx="1098.92" cy="1773.17" r="8.6" fill="url(#gBall)"/><circle cx="1096.72" cy="1765.08" r="8.6" fill="url(#gBall)"/><circle cx="1094.52" cy="1756.6" r="8.6" fill="url(#gBall)"/><circle cx="1092.32" cy="1747.92" r="8.6" fill="url(#gBall)"/><circle cx="1090.12" cy="1741.55" r="8.6" fill="url(#gBall)"/><circle cx="1087.92" cy="1732.51" r="8.6" fill="url(#gBall)"/><circle cx="1085.72" cy="1713.36" r="8.6" fill="url(#gBall)"/><circle cx="1083.52" cy="1710.16" r="8.6" fill="url(#gBall)"/><circle cx="1081.32" cy="1695.2" r="8.6" fill="url(#gBall)"/><circle cx="1079.12" cy="1679.41" r="8.6" fill="url(#gBall)"/><circle cx="1076.92" cy="1672.94" r="8.6" fill="url(#gBall)"/><circle cx="1076" cy="1672.49" r="10.75" fill="url(#gBall)"/>
<path d="M1076,1687.8 L1076.54,1690.42 L1077.09,1693.04 L1077.65,1695.66 L1078.21,1698.28 L1078.77,1700.9 L1079.34,1703.51 L1079.91,1706.12 L1080.49,1708.74 L1081.07,1711.35 L1081.66,1713.96 L1082.25,1716.57 L1082.85,1719.18 L1083.45,1721.78 L1084.06,1724.39 L1084.67,1726.99 L1085.28,1729.6 L1085.9,1732.2 L1086.52,1734.8 L1087.15,1737.4 L1087.78,1740 L1088.41,1742.59 L1089.05,1745.19 L1089.69,1747.79 L1090.34,1750.38 L1090.99,1752.97 L1091.64,1755.56 L1092.3,1758.16 L1092.96,1760.74 L1093.62,1763.33 L1094.29,1765.92 L1094.96,1768.51 L1095.63,1771.09 L1096.31,1773.68 L1096.99,1776.26 L1097.67,1778.84 L1098.36,1781.42 L1099.05,1784 L1099.74,1786.58 L1100.44,1789.16 L1101.14,1791.74 L1101.84,1794.31 L1102.55,1796.89 L1103.25,1799.46 L1103.97,1802.04 L1104.69,1804.61 L1105.41,1807.19 L1106.14,1809.76 L1106.87,1812.33 L1107.61,1814.91 L1108.35,1817.48 L1109.1,1820.05 L1109.85,1822.61 L1110.61,1825.18 L1111.37,1827.75 L1112.14,1830.31 L1112.92,1832.87 L1113.7,1835.43 L1114.49,1837.99 L1115.28,1840.55 L1116.08,1843.1 L1116.89,1845.65 L1117.7,1848.2 L1118.52,1850.75 L1119.35,1853.29 L1120.18,1855.83 L1121.02,1858.36 L1121.87,1860.9 L1122.73,1863.43 L1123.59,1865.95 L1124.46,1868.48 L1125.34,1871 L1126.22,1873.51 L1127.12,1876.02 L1128.04,1878.53 L1128.97,1881.03 L1129.92,1883.53 L1130.87,1886.03 L1131.85,1888.52 L1132.83,1891.01 L1133.82,1893.49 L1134.83,1895.97 L1135.84,1898.45 L1136.86,1900.92 L1137.89,1903.4 L1138.92,1905.86 L1139.96,1908.33 L1141.01,1910.79 L1142.06,1913.25 L1143.11,1915.71 L1144.17,1918.16 L1145.23,1920.61 L1146.29,1923.07 L1147.35,1925.53 L1148.42,1927.98 L1149.5,1930.43 L1150.58,1932.88 L1151.68,1935.33 L1152.78,1937.77 L1153.9,1940.21 L1155.02,1942.63 L1156.17,1945.05 L1157.32,1947.46 L1158.5,1949.86 L1159.69,1952.25 L1160.9,1954.62 L1162.13,1956.98 L1163.38,1959.33 L1164.66,1961.67 L1165.95,1964 L1167.27,1966.33 L1168.6,1968.65 L1169.96,1970.96 L1171.33,1973.27 L1172.71,1975.56 L1174.12,1977.84 L1175.54,1980.12 L1176.97,1982.39 L1178.42,1984.64 L1179.88,1986.89 L1181.36,1989.12 L1182.84,1991.34 L1184.34,1993.55 L1185.85,1995.75 L1187.36,1997.94 L1188.89,2000.14 L1190.43,2002.35 L1191.98,2004.55 L1193.55,2006.74 L1195.14,2008.92 L1196.75,2011.09 L1198.39,2013.22 L1200.06,2015.33 L1201.75,2017.4 L1203.48,2019.42 L1205.24,2021.4 L1207.04,2023.32 L1208.88,2025.18 L1210.77,2027.02 L1212.72,2028.82 L1214.71,2030.59 L1216.74,2032.33 L1218.8,2034.04 L1220.9,2035.73 L1223.03,2037.39 L1225.18,2039.03 L1227.34,2040.64 L1229.52,2042.23 L1231.71,2043.8 L1233.9,2045.35 L1236.1,2046.89 L1238.29,2048.4 L1240.49,2049.9 L1242.7,2051.39 L1244.93,2052.87 L1247.18,2054.34 L1249.45,2055.79 L1251.73,2057.21 L1254.02,2058.61 L1256.33,2059.98 L1258.65,2061.32 L1260.99,2062.62 L1263.34,2063.89 L1265.71,2065.12 L1268.08,2066.3 L1270.48,2067.43 L1272.9,2068.54 L1275.33,2069.63 L1277.79,2070.68 L1280.27,2071.71 L1282.75,2072.71 L1285.25,2073.69 L1287.76,2074.65 L1290.28,2075.58 L1292.8,2076.5 L1295.32,2077.39 L1297.84,2078.27 L1300.36,2079.14 L1302.89,2080.01 L1305.43,2080.88 L1307.97,2081.74 L1310.52,2082.58 L1313.07,2083.4 L1315.64,2084.19 L1318.21,2084.95 L1320.78,2085.67 L1323.36,2086.35 L1325.95,2086.98 L1328.55,2087.55 L1331.15,2088.08 L1333.77,2088.59 L1336.39,2089.09 L1339.01,2089.56 L1341.65,2090.01 L1344.29,2090.44 L1346.94,2090.84 L1349.59,2091.2 L1352.25,2091.54 L1354.92,2091.84 L1357.6,2092.1" fill="none" stroke="#2166d6" stroke-width="2.2"/>
<path d="M1076,2105.7 L1077.48,2105.52 L1078.96,2105.32 L1080.43,2105.12 L1081.91,2104.9 L1083.38,2104.68 L1084.85,2104.45 L1086.32,2104.21 L1087.78,2103.96 L1089.24,2103.7 L1090.71,2103.43 L1092.16,2103.16 L1093.62,2102.88 L1095.08,2102.59 L1096.53,2102.3 L1097.98,2102 L1099.42,2101.69 L1100.87,2101.38 L1102.31,2101.06 L1103.75,2100.73 L1105.19,2100.39 L1106.63,2100.04 L1108.07,2099.67 L1109.51,2099.29 L1110.94,2098.9 L1112.38,2098.5 L1113.81,2098.09 L1115.24,2097.67 L1116.67,2097.24 L1118.09,2096.8 L1119.51,2096.35 L1120.93,2095.9 L1122.35,2095.44 L1123.76,2094.97 L1125.17,2094.5 L1126.57,2094.02 L1127.98,2093.53 L1129.37,2093.04 L1130.77,2092.54 L1132.16,2092.04 L1133.54,2091.53 L1134.91,2090.99 L1136.28,2090.43 L1137.65,2089.85 L1139,2089.26 L1140.36,2088.65 L1141.71,2088.03 L1143.05,2087.4 L1144.4,2086.76 L1145.74,2086.11 L1147.08,2085.46 L1148.42,2084.81 L1149.76,2084.16 L1151.1,2083.51 L1152.44,2082.87 L1153.79,2082.23 L1155.14,2081.6 L1156.49,2080.98 L1157.84,2080.37 L1159.2,2079.78 L1160.57,2079.2 L1161.94,2078.64 L1163.32,2078.1 L1164.7,2077.56 L1166.08,2077.01 L1167.47,2076.47 L1168.85,2075.93 L1170.24,2075.4 L1171.63,2074.87 L1173.02,2074.34 L1174.42,2073.82 L1175.82,2073.3 L1177.21,2072.79 L1178.62,2072.29 L1180.02,2071.8 L1181.43,2071.31 L1182.84,2070.84 L1184.25,2070.37 L1185.66,2069.92 L1187.08,2069.48 L1188.49,2069.05 L1189.92,2068.64 L1191.34,2068.24 L1192.77,2067.86 L1194.2,2067.48 L1195.63,2067.1 L1197.07,2066.72 L1198.51,2066.35 L1199.95,2065.99 L1201.4,2065.63 L1202.85,2065.29 L1204.31,2064.96 L1205.76,2064.65 L1207.22,2064.35 L1208.68,2064.08 L1210.14,2063.82 L1211.61,2063.59 L1213.07,2063.39 L1214.54,2063.21 L1216.01,2063.04 L1217.48,2062.86 L1218.96,2062.69 L1220.44,2062.53 L1221.92,2062.37 L1223.41,2062.23 L1224.89,2062.1 L1226.38,2062 L1227.86,2061.91 L1229.34,2061.84 L1230.82,2061.81 L1232.3,2061.8 L1233.77,2061.84 L1235.26,2061.91 L1236.74,2062.02 L1238.22,2062.17 L1239.71,2062.35 L1241.19,2062.56 L1242.67,2062.78 L1244.15,2063.03 L1245.62,2063.3 L1247.09,2063.58 L1248.55,2063.87 L1250,2064.16 L1251.45,2064.46 L1252.88,2064.75 L1254.3,2065.06 L1255.72,2065.41 L1257.13,2065.81 L1258.53,2066.23 L1259.92,2066.7 L1261.31,2067.19 L1262.7,2067.71 L1264.08,2068.26 L1265.46,2068.82 L1266.83,2069.41 L1268.2,2070.02 L1269.57,2070.63 L1270.93,2071.26 L1272.29,2071.9 L1273.66,2072.54 L1275.02,2073.18 L1276.38,2073.82 L1277.74,2074.46 L1279.1,2075.09 L1280.46,2075.71 L1281.82,2076.32 L1283.18,2076.91 L1284.55,2077.49 L1285.91,2078.09 L1287.26,2078.71 L1288.61,2079.33 L1289.96,2079.96 L1291.31,2080.6 L1292.65,2081.25 L1293.99,2081.9 L1295.33,2082.55 L1296.67,2083.2 L1298.02,2083.85 L1299.36,2084.5 L1300.7,2085.14 L1302.05,2085.77 L1303.4,2086.39 L1304.75,2087 L1306.11,2087.6 L1307.47,2088.19 L1308.83,2088.75 L1310.2,2089.3 L1311.58,2089.83 L1312.96,2090.34 L1314.35,2090.83 L1315.75,2091.3 L1317.15,2091.78 L1318.56,2092.25 L1319.97,2092.71 L1321.38,2093.17 L1322.8,2093.61 L1324.22,2094.06 L1325.65,2094.49 L1327.07,2094.92 L1328.51,2095.33 L1329.94,2095.74 L1331.38,2096.14 L1332.82,2096.53 L1334.26,2096.9 L1335.7,2097.27 L1337.15,2097.62 L1338.59,2097.96 L1340.04,2098.28 L1341.49,2098.59 L1342.94,2098.89 L1344.39,2099.18 L1345.85,2099.45 L1347.3,2099.7 L1348.77,2099.95 L1350.23,2100.19 L1351.7,2100.41 L1353.17,2100.63 L1354.65,2100.83 L1356.12,2101.02 L1357.6,2101.2" fill="none" stroke="#2aa55a" stroke-width="2.2"/>
<path d="M1076,2099.7 L1077.34,2100.25 L1078.68,2100.79 L1080.02,2101.32 L1081.37,2101.85 L1082.72,2102.36 L1084.07,2102.86 L1085.42,2103.35 L1086.78,2103.81 L1088.14,2104.26 L1089.5,2104.69 L1090.87,2105.1 L1092.24,2105.48 L1093.61,2105.83 L1094.98,2106.16 L1096.36,2106.46 L1097.74,2106.73 L1099.12,2106.96 L1100.5,2107.16 L1101.89,2107.32 L1103.29,2107.47 L1104.68,2107.61 L1106.08,2107.74 L1107.49,2107.87 L1108.9,2108 L1110.31,2108.12 L1111.73,2108.23 L1113.15,2108.34 L1114.57,2108.45 L1115.99,2108.55 L1117.42,2108.64 L1118.85,2108.73 L1120.27,2108.81 L1121.7,2108.88 L1123.13,2108.95 L1124.56,2109.01 L1125.98,2109.06 L1127.41,2109.1 L1128.83,2109.14 L1130.26,2109.17 L1131.68,2109.2 L1133.1,2109.21 L1134.52,2109.23 L1135.94,2109.25 L1137.36,2109.26 L1138.78,2109.28 L1140.2,2109.29 L1141.62,2109.31 L1143.04,2109.32 L1144.46,2109.33 L1145.88,2109.35 L1147.3,2109.36 L1148.72,2109.37 L1150.14,2109.38 L1151.56,2109.39 L1152.98,2109.41 L1154.4,2109.42 L1155.82,2109.43 L1157.24,2109.44 L1158.66,2109.45 L1160.08,2109.46 L1161.5,2109.47 L1162.93,2109.47 L1164.35,2109.48 L1165.77,2109.49 L1167.19,2109.5 L1168.61,2109.51 L1170.03,2109.51 L1171.45,2109.52 L1172.88,2109.53 L1174.3,2109.53 L1175.72,2109.54 L1177.14,2109.54 L1178.56,2109.55 L1179.98,2109.55 L1181.4,2109.56 L1182.82,2109.56 L1184.25,2109.57 L1185.67,2109.57 L1187.09,2109.58 L1188.51,2109.58 L1189.93,2109.58 L1191.35,2109.59 L1192.77,2109.59 L1194.2,2109.59 L1195.62,2109.59 L1197.04,2109.6 L1198.46,2109.6 L1199.88,2109.6 L1201.3,2109.6 L1202.72,2109.6 L1204.14,2109.61 L1205.56,2109.61 L1206.98,2109.61 L1208.4,2109.61 L1209.83,2109.61 L1211.25,2109.61 L1212.67,2109.62 L1214.09,2109.62 L1215.51,2109.62 L1216.93,2109.62 L1218.35,2109.62 L1219.77,2109.62 L1221.19,2109.63 L1222.61,2109.63 L1224.03,2109.63 L1225.46,2109.63 L1226.88,2109.63 L1228.3,2109.63 L1229.72,2109.63 L1231.14,2109.64 L1232.56,2109.64 L1233.98,2109.64 L1235.4,2109.64 L1236.82,2109.64 L1238.24,2109.64 L1239.66,2109.64 L1241.09,2109.65 L1242.51,2109.65 L1243.93,2109.65 L1245.35,2109.65 L1246.77,2109.65 L1248.19,2109.65 L1249.61,2109.65 L1251.03,2109.65 L1252.45,2109.66 L1253.87,2109.66 L1255.29,2109.66 L1256.72,2109.66 L1258.14,2109.66 L1259.56,2109.66 L1260.98,2109.66 L1262.4,2109.66 L1263.82,2109.66 L1265.24,2109.67 L1266.66,2109.67 L1268.08,2109.67 L1269.5,2109.67 L1270.92,2109.67 L1272.35,2109.67 L1273.77,2109.67 L1275.19,2109.67 L1276.61,2109.67 L1278.03,2109.67 L1279.45,2109.68 L1280.87,2109.68 L1282.29,2109.68 L1283.71,2109.68 L1285.13,2109.68 L1286.55,2109.68 L1287.98,2109.68 L1289.4,2109.68 L1290.82,2109.68 L1292.24,2109.68 L1293.66,2109.68 L1295.08,2109.68 L1296.5,2109.69 L1297.92,2109.69 L1299.34,2109.69 L1300.76,2109.69 L1302.18,2109.69 L1303.61,2109.69 L1305.03,2109.69 L1306.45,2109.69 L1307.87,2109.69 L1309.29,2109.69 L1310.71,2109.69 L1312.13,2109.69 L1313.55,2109.69 L1314.97,2109.69 L1316.39,2109.69 L1317.81,2109.69 L1319.24,2109.69 L1320.66,2109.69 L1322.08,2109.7 L1323.5,2109.7 L1324.92,2109.7 L1326.34,2109.7 L1327.76,2109.7 L1329.18,2109.7 L1330.6,2109.7 L1332.02,2109.7 L1333.44,2109.7 L1334.87,2109.7 L1336.29,2109.7 L1337.71,2109.7 L1339.13,2109.7 L1340.55,2109.7 L1341.97,2109.7 L1343.39,2109.7 L1344.81,2109.7 L1346.23,2109.7 L1347.65,2109.7 L1349.07,2109.7 L1350.5,2109.7 L1351.92,2109.7 L1353.34,2109.7 L1354.76,2109.7 L1356.18,2109.7 L1357.6,2109.7" fill="none" stroke="#b070e0" stroke-width="2.2"/>
<path d="M1076,1674 L1076.46,1676.62 L1076.92,1679.24 L1077.4,1681.86 L1077.88,1684.48 L1078.38,1687.09 L1078.88,1689.71 L1079.39,1692.32 L1079.91,1694.93 L1080.44,1697.53 L1080.97,1700.14 L1081.52,1702.74 L1082.07,1705.34 L1082.64,1707.93 L1083.22,1710.53 L1083.82,1713.12 L1084.43,1715.71 L1085.05,1718.29 L1085.68,1720.88 L1086.32,1723.46 L1086.96,1726.04 L1087.61,1728.63 L1088.26,1731.21 L1088.92,1733.78 L1089.57,1736.36 L1090.23,1738.94 L1090.88,1741.52 L1091.53,1744.1 L1092.17,1746.68 L1092.81,1749.27 L1093.45,1751.85 L1094.08,1754.44 L1094.7,1757.02 L1095.33,1759.61 L1095.95,1762.2 L1096.58,1764.78 L1097.2,1767.37 L1097.83,1769.96 L1098.46,1772.54 L1099.09,1775.13 L1099.73,1777.71 L1100.37,1780.29 L1101.02,1782.87 L1101.68,1785.45 L1102.35,1788.02 L1103.02,1790.59 L1103.71,1793.16 L1104.4,1795.73 L1105.11,1798.29 L1105.83,1800.85 L1106.55,1803.41 L1107.28,1805.97 L1108.01,1808.53 L1108.76,1811.09 L1109.51,1813.65 L1110.28,1816.2 L1111.05,1818.75 L1111.84,1821.29 L1112.64,1823.83 L1113.46,1826.36 L1114.29,1828.89 L1115.13,1831.41 L1116,1833.92 L1116.88,1836.42 L1117.78,1838.91 L1118.71,1841.4 L1119.66,1843.88 L1120.63,1846.36 L1121.62,1848.83 L1122.63,1851.29 L1123.66,1853.75 L1124.7,1856.2 L1125.76,1858.65 L1126.83,1861.09 L1127.9,1863.53 L1128.99,1865.96 L1130.08,1868.39 L1131.18,1870.81 L1132.29,1873.22 L1133.4,1875.63 L1134.53,1878.04 L1135.68,1880.44 L1136.84,1882.84 L1138.01,1885.23 L1139.2,1887.61 L1140.4,1889.99 L1141.61,1892.36 L1142.83,1894.72 L1144.06,1897.08 L1145.3,1899.44 L1146.55,1901.78 L1147.81,1904.12 L1149.07,1906.47 L1150.32,1908.83 L1151.58,1911.19 L1152.84,1913.55 L1154.12,1915.91 L1155.4,1918.27 L1156.7,1920.61 L1158.01,1922.94 L1159.35,1925.25 L1160.7,1927.55 L1162.08,1929.82 L1163.49,1932.07 L1164.92,1934.29 L1166.39,1936.47 L1167.89,1938.63 L1169.43,1940.74 L1171.02,1942.84 L1172.65,1944.92 L1174.32,1946.97 L1176.02,1949.01 L1177.76,1951.03 L1179.53,1953.03 L1181.33,1955.01 L1183.15,1956.98 L1185,1958.93 L1186.86,1960.86 L1188.74,1962.78 L1190.62,1964.68 L1192.52,1966.56 L1194.42,1968.44 L1196.33,1970.3 L1198.23,1972.14 L1200.14,1973.97 L1202.07,1975.78 L1204.02,1977.57 L1205.99,1979.35 L1207.98,1981.1 L1209.99,1982.85 L1212.01,1984.58 L1214.05,1986.29 L1216.09,1988 L1218.15,1989.7 L1220.21,1991.39 L1222.28,1993.07 L1224.35,1994.75 L1226.43,1996.43 L1228.51,1998.1 L1230.58,1999.78 L1232.66,2001.45 L1234.73,2003.13 L1236.79,2004.81 L1238.85,2006.49 L1240.91,2008.17 L1242.98,2009.84 L1245.06,2011.5 L1247.14,2013.16 L1249.23,2014.81 L1251.32,2016.45 L1253.41,2018.1 L1255.5,2019.75 L1257.59,2021.4 L1259.67,2023.05 L1261.75,2024.71 L1263.83,2026.37 L1265.9,2028.04 L1267.96,2029.72 L1270.01,2031.42 L1272.05,2033.13 L1274.08,2034.85 L1276.09,2036.59 L1278.11,2038.34 L1280.11,2040.1 L1282.11,2041.86 L1284.11,2043.62 L1286.11,2045.38 L1288.11,2047.14 L1290.12,2048.89 L1292.13,2050.64 L1294.15,2052.38 L1296.17,2054.1 L1298.21,2055.81 L1300.25,2057.5 L1302.31,2059.18 L1304.39,2060.83 L1306.48,2062.45 L1308.6,2064.05 L1310.72,2065.64 L1312.86,2067.21 L1315.01,2068.78 L1317.17,2070.33 L1319.34,2071.87 L1321.52,2073.4 L1323.71,2074.92 L1325.91,2076.43 L1328.11,2077.92 L1330.33,2079.4 L1332.55,2080.87 L1334.79,2082.33 L1337.03,2083.78 L1339.27,2085.21 L1341.52,2086.62 L1343.78,2088.03 L1346.05,2089.42 L1348.32,2090.79 L1350.62,2092.13 L1352.93,2093.44 L1355.26,2094.72 L1357.6,2096" fill="none" stroke="#e8343a" stroke-width="2"/>
</g>
<rect x="1070.5" y="1663.9" width="287.1" height="445.8" fill="none" stroke="#000" stroke-width="2.2"/>
<line x1="1064.5" y1="1672.7" x2="1070.5" y2="1672.7" stroke="#000" stroke-width="2"/>
<text x="1063.3" y="1684.7" font-size="26" font-family="'Liberation Sans', Arial, Helvetica, sans-serif" textLength="95.1" lengthAdjust="spacingAndGlyphs" text-anchor="end">8.0x10<tspan dy="-9.88" font-size="18.2">5</tspan></text>
<line x1="1067.5" y1="1782.5" x2="1070.5" y2="1782.5" stroke="#000" stroke-width="2"/>
<line x1="1064.5" y1="1892.2" x2="1070.5" y2="1892.2" stroke="#000" stroke-width="2"/>
<text x="1063.3" y="1902.8" font-size="26" font-family="'Liberation Sans', Arial, Helvetica, sans-serif" textLength="95.1" lengthAdjust="spacingAndGlyphs" text-anchor="end">4.0x10<tspan dy="-9.88" font-size="18.2">5</tspan></text>
<line x1="1067.5" y1="2001" x2="1070.5" y2="2001" stroke="#000" stroke-width="2"/>
<line x1="1064.5" y1="2109.7" x2="1070.5" y2="2109.7" stroke="#000" stroke-width="2"/>
<text x="1063.3" y="2119.4" font-size="26" font-family="'Liberation Sans', Arial, Helvetica, sans-serif" text-anchor="end">0.0</text>
<line x1="1071.87" y1="2109.7" x2="1071.87" y2="2112.2" stroke="#000" stroke-width="1.3"/>
<line x1="1076.14" y1="2109.7" x2="1076.14" y2="2112.2" stroke="#000" stroke-width="1.3"/>
<line x1="1079.75" y1="2109.7" x2="1079.75" y2="2112.2" stroke="#000" stroke-width="1.3"/>
<line x1="1082.88" y1="2109.7" x2="1082.88" y2="2112.2" stroke="#000" stroke-width="1.3"/>
<line x1="1085.63" y1="2109.7" x2="1085.63" y2="2112.2" stroke="#000" stroke-width="1.3"/>
<line x1="1088.1" y1="2109.7" x2="1088.1" y2="2113.7" stroke="#000" stroke-width="2"/>
<line x1="1104.33" y1="2109.7" x2="1104.33" y2="2112.2" stroke="#000" stroke-width="1.3"/>
<line x1="1113.82" y1="2109.7" x2="1113.82" y2="2112.2" stroke="#000" stroke-width="1.3"/>
<line x1="1120.55" y1="2109.7" x2="1120.55" y2="2112.2" stroke="#000" stroke-width="1.3"/>
<line x1="1125.77" y1="2109.7" x2="1125.77" y2="2112.2" stroke="#000" stroke-width="1.3"/>
<line x1="1130.04" y1="2109.7" x2="1130.04" y2="2112.2" stroke="#000" stroke-width="1.3"/>
<line x1="1133.65" y1="2109.7" x2="1133.65" y2="2112.2" stroke="#000" stroke-width="1.3"/>
<line x1="1136.78" y1="2109.7" x2="1136.78" y2="2112.2" stroke="#000" stroke-width="1.3"/>
<line x1="1139.53" y1="2109.7" x2="1139.53" y2="2112.2" stroke="#000" stroke-width="1.3"/>
<line x1="1142" y1="2109.7" x2="1142" y2="2115.7" stroke="#000" stroke-width="2"/>
<line x1="1158.23" y1="2109.7" x2="1158.23" y2="2112.2" stroke="#000" stroke-width="1.3"/>
<line x1="1167.72" y1="2109.7" x2="1167.72" y2="2112.2" stroke="#000" stroke-width="1.3"/>
<line x1="1174.45" y1="2109.7" x2="1174.45" y2="2112.2" stroke="#000" stroke-width="1.3"/>
<line x1="1179.67" y1="2109.7" x2="1179.67" y2="2112.2" stroke="#000" stroke-width="1.3"/>
<line x1="1183.94" y1="2109.7" x2="1183.94" y2="2112.2" stroke="#000" stroke-width="1.3"/>
<line x1="1187.55" y1="2109.7" x2="1187.55" y2="2112.2" stroke="#000" stroke-width="1.3"/>
<line x1="1190.68" y1="2109.7" x2="1190.68" y2="2112.2" stroke="#000" stroke-width="1.3"/>
<line x1="1193.43" y1="2109.7" x2="1193.43" y2="2112.2" stroke="#000" stroke-width="1.3"/>
<line x1="1195.9" y1="2109.7" x2="1195.9" y2="2113.7" stroke="#000" stroke-width="2"/>
<line x1="1212.13" y1="2109.7" x2="1212.13" y2="2112.2" stroke="#000" stroke-width="1.3"/>
<line x1="1221.62" y1="2109.7" x2="1221.62" y2="2112.2" stroke="#000" stroke-width="1.3"/>
<line x1="1228.35" y1="2109.7" x2="1228.35" y2="2112.2" stroke="#000" stroke-width="1.3"/>
<line x1="1233.57" y1="2109.7" x2="1233.57" y2="2112.2" stroke="#000" stroke-width="1.3"/>
<line x1="1237.84" y1="2109.7" x2="1237.84" y2="2112.2" stroke="#000" stroke-width="1.3"/>
<line x1="1241.45" y1="2109.7" x2="1241.45" y2="2112.2" stroke="#000" stroke-width="1.3"/>
<line x1="1244.58" y1="2109.7" x2="1244.58" y2="2112.2" stroke="#000" stroke-width="1.3"/>
<line x1="1247.33" y1="2109.7" x2="1247.33" y2="2112.2" stroke="#000" stroke-width="1.3"/>
<line x1="1249.8" y1="2109.7" x2="1249.8" y2="2115.7" stroke="#000" stroke-width="2"/>
<line x1="1266.03" y1="2109.7" x2="1266.03" y2="2112.2" stroke="#000" stroke-width="1.3"/>
<line x1="1275.52" y1="2109.7" x2="1275.52" y2="2112.2" stroke="#000" stroke-width="1.3"/>
<line x1="1282.25" y1="2109.7" x2="1282.25" y2="2112.2" stroke="#000" stroke-width="1.3"/>
<line x1="1287.47" y1="2109.7" x2="1287.47" y2="2112.2" stroke="#000" stroke-width="1.3"/>
<line x1="1291.74" y1="2109.7" x2="1291.74" y2="2112.2" stroke="#000" stroke-width="1.3"/>
<line x1="1295.35" y1="2109.7" x2="1295.35" y2="2112.2" stroke="#000" stroke-width="1.3"/>
<line x1="1298.48" y1="2109.7" x2="1298.48" y2="2112.2" stroke="#000" stroke-width="1.3"/>
<line x1="1301.23" y1="2109.7" x2="1301.23" y2="2112.2" stroke="#000" stroke-width="1.3"/>
<line x1="1303.7" y1="2109.7" x2="1303.7" y2="2113.7" stroke="#000" stroke-width="2"/>
<line x1="1319.93" y1="2109.7" x2="1319.93" y2="2112.2" stroke="#000" stroke-width="1.3"/>
<line x1="1329.42" y1="2109.7" x2="1329.42" y2="2112.2" stroke="#000" stroke-width="1.3"/>
<line x1="1336.15" y1="2109.7" x2="1336.15" y2="2112.2" stroke="#000" stroke-width="1.3"/>
<line x1="1341.37" y1="2109.7" x2="1341.37" y2="2112.2" stroke="#000" stroke-width="1.3"/>
<line x1="1345.64" y1="2109.7" x2="1345.64" y2="2112.2" stroke="#000" stroke-width="1.3"/>
<line x1="1349.25" y1="2109.7" x2="1349.25" y2="2112.2" stroke="#000" stroke-width="1.3"/>
<line x1="1352.38" y1="2109.7" x2="1352.38" y2="2112.2" stroke="#000" stroke-width="1.3"/>
<line x1="1355.13" y1="2109.7" x2="1355.13" y2="2112.2" stroke="#000" stroke-width="1.3"/>
<line x1="1357.6" y1="2109.7" x2="1357.6" y2="2115.7" stroke="#000" stroke-width="2"/>
<text x="1143" y="2142" font-size="26" font-family="'Liberation Sans', Arial, Helvetica, sans-serif" text-anchor="middle">10<tspan dy="-9.88" font-size="18.2">2</tspan></text>
<text x="1250.8" y="2142" font-size="26" font-family="'Liberation Sans', Arial, Helvetica, sans-serif" text-anchor="middle">10<tspan dy="-9.88" font-size="18.2">4</tspan></text>
<text x="1358.6" y="2142" font-size="26" font-family="'Liberation Sans', Arial, Helvetica, sans-serif" text-anchor="middle">10<tspan dy="-9.88" font-size="18.2">6</tspan></text>
<text x="1213.5" y="2180" font-size="27" font-family="'Liberation Sans', Arial, Helvetica, sans-serif" textLength="187" lengthAdjust="spacingAndGlyphs" text-anchor="middle">Frequency (Hz)</text>
<text x="961.5" y="1887.7" font-size="23" font-family="'Liberation Sans', Arial, Helvetica, sans-serif" text-anchor="middle" transform="rotate(-90 961.5 1887.7)" textLength="54" lengthAdjust="spacingAndGlyphs">ε″(<tspan font-style="italic" font-family="'Liberation Serif', 'Times New Roman', serif">f</tspan>)</text>
<text x="1118.4" y="1739.9" font-size="34.5" font-family="'Liberation Sans', Arial, Helvetica, sans-serif" textLength="196.8" lengthAdjust="spacingAndGlyphs">TpPa-SO<tspan dy="7.59" font-size="24.15">3</tspan><tspan dy="-7.59">H</tspan></text>
<text x="1461.5" y="1646" font-size="44" font-family="'Liberation Sans', Arial, Helvetica, sans-serif" font-weight="bold">g</text>
<path d="M1602.6,1894.6 L1671.33,1869.9 L1740.06,1883.1 L1808.79,1873.8 L1877.52,1885.4 L1946.25,1882 L2014.98,1892.6" fill="none" stroke="#111111" stroke-width="2.8" stroke-dasharray="3.5,5.5"/>
<path d="M1602.6,1840.8 L1671.33,1840.8 L1740.06,1864.9 L1808.79,1876.5 L1877.52,1869.9 L1946.25,1846.8 L2014.98,1840.8" fill="none" stroke="#1414e6" stroke-width="2.8" stroke-dasharray="3.5,5.5"/>
<path d="M1602.6,1881.4 L1671.33,1882 L1740.06,1883.7 L1808.79,1890.3 L1877.52,1886.4 L1946.25,1892 L2014.98,1879.8" fill="none" stroke="#3a8ee6" stroke-width="2.8" stroke-dasharray="3.5,5.5"/>
<path d="M1602.6,2009.1 L1671.33,2029.5 L1740.06,2052.6 L1808.79,2043.7 L1877.52,2013 L1946.25,2052 L2014.98,2088.3" fill="none" stroke="#ff1f1f" stroke-width="2.8" stroke-dasharray="3.5,5.5"/>
<circle cx="1602.6" cy="1894.6" r="10.5" fill="url(#gG)"/>
<circle cx="1671.33" cy="1869.9" r="10.5" fill="url(#gG)"/>
<circle cx="1740.06" cy="1883.1" r="10.5" fill="url(#gG)"/>
<circle cx="1808.79" cy="1873.8" r="10.5" fill="url(#gG)"/>
<circle cx="1877.52" cy="1885.4" r="10.5" fill="url(#gG)"/>
<circle cx="1946.25" cy="1882" r="10.5" fill="url(#gG)"/>
<circle cx="2014.98" cy="1892.6" r="10.5" fill="url(#gG)"/>
<circle cx="1602.6" cy="1840.8" r="10.5" fill="url(#gB)"/>
<circle cx="1671.33" cy="1840.8" r="10.5" fill="url(#gB)"/>
<circle cx="1740.06" cy="1864.9" r="10.5" fill="url(#gB)"/>
<circle cx="1808.79" cy="1876.5" r="10.5" fill="url(#gB)"/>
<circle cx="1877.52" cy="1869.9" r="10.5" fill="url(#gB)"/>
<circle cx="1946.25" cy="1846.8" r="10.5" fill="url(#gB)"/>
<circle cx="2014.98" cy="1840.8" r="10.5" fill="url(#gB)"/>
<circle cx="1602.6" cy="1881.4" r="10.5" fill="url(#gP)"/>
<circle cx="1671.33" cy="1882" r="10.5" fill="url(#gP)"/>
<circle cx="1740.06" cy="1883.7" r="10.5" fill="url(#gP)"/>
<circle cx="1808.79" cy="1890.3" r="10.5" fill="url(#gP)"/>
<circle cx="1877.52" cy="1886.4" r="10.5" fill="url(#gP)"/>
<circle cx="1946.25" cy="1892" r="10.5" fill="url(#gP)"/>
<circle cx="2014.98" cy="1879.8" r="10.5" fill="url(#gP)"/>
<circle cx="1602.6" cy="2009.1" r="10.5" fill="url(#gP)"/>
<circle cx="1671.33" cy="2029.5" r="10.5" fill="url(#gP)"/>
<circle cx="1740.06" cy="2052.6" r="10.5" fill="url(#gP)"/>
<circle cx="1808.79" cy="2043.7" r="10.5" fill="url(#gP)"/>
<circle cx="1877.52" cy="2013" r="10.5" fill="url(#gP)"/>
<circle cx="1946.25" cy="2052" r="10.5" fill="url(#gP)"/>
<circle cx="2014.98" cy="2088.3" r="10.5" fill="url(#gP)"/>
<rect x="1568.7" y="1669.9" width="481" height="449.7" fill="none" stroke="#000" stroke-width="2.3"/>
<line x1="1602.6" y1="2119.6" x2="1602.6" y2="2125.6" stroke="#000" stroke-width="2"/>
<line x1="1671.33" y1="2119.6" x2="1671.33" y2="2123.6" stroke="#000" stroke-width="2"/>
<line x1="1740.06" y1="2119.6" x2="1740.06" y2="2125.6" stroke="#000" stroke-width="2"/>
<line x1="1808.79" y1="2119.6" x2="1808.79" y2="2123.6" stroke="#000" stroke-width="2"/>
<line x1="1877.52" y1="2119.6" x2="1877.52" y2="2125.6" stroke="#000" stroke-width="2"/>
<line x1="1946.25" y1="2119.6" x2="1946.25" y2="2123.6" stroke="#000" stroke-width="2"/>
<line x1="2014.98" y1="2119.6" x2="2014.98" y2="2125.6" stroke="#000" stroke-width="2"/>
<text x="1602.6" y="2149.3" font-size="26" font-family="'Liberation Sans', Arial, Helvetica, sans-serif" text-anchor="middle">40</text>
<text x="1740.06" y="2149.3" font-size="26" font-family="'Liberation Sans', Arial, Helvetica, sans-serif" text-anchor="middle">60</text>
<text x="1877.52" y="2149.3" font-size="26" font-family="'Liberation Sans', Arial, Helvetica, sans-serif" text-anchor="middle">80</text>
<text x="2014.98" y="2149.3" font-size="26" font-family="'Liberation Sans', Arial, Helvetica, sans-serif" text-anchor="middle">100</text>
<line x1="1562.7" y1="1669.9" x2="1568.7" y2="1669.9" stroke="#000" stroke-width="2"/>
<text x="1555.5" y="1675.4" font-size="26" font-family="'Liberation Sans', Arial, Helvetica, sans-serif" text-anchor="end">10<tspan dy="-9.88" font-size="18.2">4</tspan></text>
<line x1="1562.7" y1="1869.9" x2="1568.7" y2="1869.9" stroke="#000" stroke-width="2"/>
<text x="1555.5" y="1875.4" font-size="26" font-family="'Liberation Sans', Arial, Helvetica, sans-serif" text-anchor="end">10<tspan dy="-9.88" font-size="18.2">0</tspan></text>
<line x1="1562.7" y1="2069.1" x2="1568.7" y2="2069.1" stroke="#000" stroke-width="2"/>
<text x="1555.5" y="2074.6" font-size="26" font-family="'Liberation Sans', Arial, Helvetica, sans-serif" text-anchor="end">10<tspan dy="-9.88" font-size="18.2">-4</tspan></text>
<text x="1809.5" y="2197.1" font-size="26" font-family="'Liberation Sans', Arial, Helvetica, sans-serif" textLength="85.8" lengthAdjust="spacingAndGlyphs" text-anchor="middle">RH (%)</text>
<text x="1469" y="1896" font-size="25" font-family="'Liberation Sans', Arial, Helvetica, sans-serif" text-anchor="middle" transform="rotate(-90 1469 1896)">τ (s)</text>
<line x1="1651.1" y1="1698" x2="1722.1" y2="1698" stroke="#111111" stroke-width="2.8" stroke-dasharray="3.5,5.5"/>
<circle cx="1690.7" cy="1698" r="10.5" fill="url(#gG)"/>
<text x="1741.9" y="1708.9" font-size="33" font-family="'Liberation Sans', Arial, Helvetica, sans-serif" textLength="189.7" lengthAdjust="spacingAndGlyphs">TpPa-CO<tspan dy="7.26" font-size="23.1">2</tspan><tspan dy="-7.26">H</tspan></text>
<line x1="1651.1" y1="1746.8" x2="1722.1" y2="1746.8" stroke="#1414e6" stroke-width="2.8" stroke-dasharray="3.5,5.5"/>
<circle cx="1690.7" cy="1746.8" r="10.5" fill="url(#gB)"/>
<text x="1741.9" y="1757.7" font-size="33" font-family="'Liberation Sans', Arial, Helvetica, sans-serif" textLength="203" lengthAdjust="spacingAndGlyphs">TpPa-PO<tspan dy="7.26" font-size="23.1">3</tspan><tspan dy="-7.26">H</tspan><tspan dy="7.26" font-size="23.1">2</tspan></text>
<line x1="1651.1" y1="1796.3" x2="1722.1" y2="1796.3" stroke="#3a8ee6" stroke-width="2.8" stroke-dasharray="3.5,5.5"/>
<circle cx="1690.7" cy="1796.3" r="10.5" fill="url(#gP)"/>
<text x="1741.9" y="1807.2" font-size="33" font-family="'Liberation Sans', Arial, Helvetica, sans-serif" textLength="187" lengthAdjust="spacingAndGlyphs">TpPa-SO<tspan dy="7.26" font-size="23.1">3</tspan><tspan dy="-7.26">H</tspan></text>
</svg></body></html>
